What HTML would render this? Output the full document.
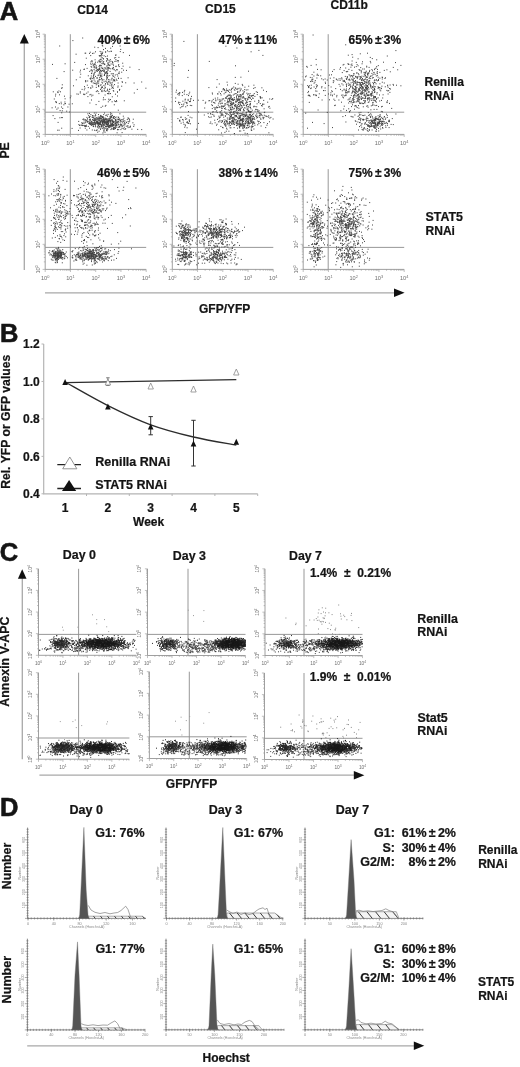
<!DOCTYPE html>
<html><head><meta charset="utf-8"><style>
html,body{margin:0;padding:0;background:#fff;}
body{width:520px;height:1067px;overflow:hidden;}
svg{position:absolute;left:0;top:0;display:block;filter:blur(0.3px);}
text{font-family:"Liberation Sans",sans-serif;}
</style></head><body>
<svg width="520" height="1067" viewBox="0 0 520 1067">
<rect width="520" height="1067" fill="#fff"/>
<text x="-0.30" y="19.90" font-size="25.5" font-weight="bold" text-anchor="start" fill="#141414" stroke="#141414" stroke-width="0.6">A</text>
<text x="92.70" y="13.80" font-size="12" font-weight="bold" text-anchor="middle" fill="#141414" stroke="#141414" stroke-width="0.22">CD14</text>
<text x="220.40" y="12.50" font-size="12" font-weight="bold" text-anchor="middle" fill="#141414" stroke="#141414" stroke-width="0.22">CD15</text>
<text x="349.20" y="8.70" font-size="12" font-weight="bold" text-anchor="middle" fill="#141414" stroke="#141414" stroke-width="0.22">CD11b</text>
<g stroke="#959595" stroke-width="0.9" fill="none">
<path d="M45.20 34.20V134.40H146.20"/>
<path d="M42.60 134.40h2.60M43.80 126.86h1.40M43.80 122.45h1.40M43.80 119.32h1.40M43.80 116.89h1.40M43.80 114.91h1.40M43.80 113.23h1.40M43.80 111.78h1.40M43.80 110.50h1.40M42.60 109.35h2.60M43.80 101.81h1.40M43.80 97.40h1.40M43.80 94.27h1.40M43.80 91.84h1.40M43.80 89.86h1.40M43.80 88.18h1.40M43.80 86.73h1.40M43.80 85.45h1.40M42.60 84.30h2.60M43.80 76.76h1.40M43.80 72.35h1.40M43.80 69.22h1.40M43.80 66.79h1.40M43.80 64.81h1.40M43.80 63.13h1.40M43.80 61.68h1.40M43.80 60.40h1.40M42.60 59.25h2.60M43.80 51.71h1.40M43.80 47.30h1.40M43.80 44.17h1.40M43.80 41.74h1.40M43.80 39.76h1.40M43.80 38.08h1.40M43.80 36.63h1.40M43.80 35.35h1.40M42.60 34.20h2.6M45.20 134.40v2.60M52.80 134.40v1.40M57.25 134.40v1.40M60.40 134.40v1.40M62.85 134.40v1.40M64.85 134.40v1.40M66.54 134.40v1.40M68.00 134.40v1.40M69.29 134.40v1.40M70.45 134.40v2.60M78.05 134.40v1.40M82.50 134.40v1.40M85.65 134.40v1.40M88.10 134.40v1.40M90.10 134.40v1.40M91.79 134.40v1.40M93.25 134.40v1.40M94.54 134.40v1.40M95.70 134.40v2.60M103.30 134.40v1.40M107.75 134.40v1.40M110.90 134.40v1.40M113.35 134.40v1.40M115.35 134.40v1.40M117.04 134.40v1.40M118.50 134.40v1.40M119.79 134.40v1.40M120.95 134.40v2.60M128.55 134.40v1.40M133.00 134.40v1.40M136.15 134.40v1.40M138.60 134.40v1.40M140.60 134.40v1.40M142.29 134.40v1.40M143.75 134.40v1.40M145.04 134.40v1.40M146.20 134.40v2.60" stroke-width="0.6"/>
</g>
<path d="M70.30 34.20V134.40M45.20 112.20H146.20" stroke="#8c8c8c" stroke-width="0.9" fill="none"/>
<path d="M82.2 38.0h1m22 0.6h1m-33.8 2h1m37.6 0.8h1m0.4 2.6h1m31.6 -0.4h1m-44.2 1.6h1m-43.6 0.8h1m42 0h1m8.8 0.4h1m6.6 -0.4h1m-26.4 1.2h1m2.4 0.4h1m6.4 0.8h1m4.2 -0.2h1m9 1.2h1m-18.2 0.2h1m-4.4 1.8h1m6.4 -0.6h1m2.6 0.4h1m-0.8 0.2h1m-22 0.8h1m4.2 -0.4h1m4.6 0.2h1m0.6 0.2h1m1.8 -0.2h1m-0.8 0h1m2.4 -0.4h1m10.2 0h1m-36.2 1.6h1m-0.4 0h1m2.8 0.2h1m2 0h1m0.4 -0.2h1m7.6 0.2h1m19.8 -0.8h1m-48.2 1.6h1m24 -0.6h1m-0.6 0.4h1m-1 0.8h1m-0.4 0.4h1m12.4 0h1m-0.4 -0.2h1m12.4 0.4h1m-39.8 0.2h1m7.6 0h1m-0.8 0.4h1m0 -0.2h1m-0.6 -0.2h1m2.2 0.2h1m2.4 0.2h1m-7.2 1h1m3.4 -0.4h1m12.2 0.8h1m-33.6 0.8h1m15 -0.4h1m11.2 0.2h1m0.2 -0.4h1m-16 1.8h1m-0.6 -0.2h1m1.2 -0.6h1m-0.8 0.4h1m2.4 -0.4h1m-0.4 0.2h1m-13.4 1h1m3.6 0.2h1m7 -0.4h1m1.6 0h1m4.6 0h1m-25 1h1m5.8 0.4h1m0 0.4h1m-0.8 -0.2h1m1.2 -0.4h1m3.4 0.4h1m-0.6 -0.6h1m1.2 0h1m0.8 0.6h1m3 0.2h1m0.2 -0.2h1m0.6 -0.6h1m-0.4 0h1m-44.6 1.8h1m15.4 -0.8h1m0.2 0.2h1m2.2 0.4h1m1.2 0h1m2.2 -0.6h1m1.2 0.6h1m-0.4 -0.6h1m3.4 0.8h1m0.6 -0.4h1m1.6 -0.4h1m4.8 0.2h1m-28.4 1.4h1m3.2 0.2h1m4.2 -0.8h1m0.8 0.8h1m0.6 -0.2h1m8.2 -0.6h1m-1 0.2h1m9 0.4h1m-71.2 1.2h1m11.6 -0.6h1m26.6 0h1m0.2 0.6h1m8 -0.6h1m0.4 0.4h1m-0.6 -0.2h1m2.2 -0.2h1m-0.8 0.2h1m-0.4 0.4h1m1.4 -0.4h1m0.8 0.2h1m-28.4 0.4h1m4.6 0h1m2.2 0h1m0 0.2h1m3.6 0.6h1m-0.8 -0.2h1m0.2 0.2h1m2.4 -0.8h1m3.4 0.6h1m-0.2 0.2h1m2.6 -0.2h1m4.2 -0.6h1m-26.4 1h1m0.6 0.6h1m0.6 -0.2h1m1.6 0.4h1m-0.4 -0.8h1m-0.4 0.2h1m5.8 -0.2h1m1 0h1m6 0.6h1m1.4 -0.4h1m3.6 0.4h1m-33 0.4h1m-0.4 0.6h1m1.4 -0.6h1m6.6 0.6h1m4.2 -0.4h1m1 0.6h1m3.6 0h1m1.4 -0.8h1m2.4 0h1m9.6 0.6h1m-43.8 1.2h1m6 -0.8h1m-0.2 0.2h1m0.2 0.2h1m-0.8 0h1m-0.6 -0.2h1m1.8 0.4h1m-0.6 -0.2h1m1.2 0.4h1m-0.2 -0.2h1m1 -0.4h1m-0.6 0.4h1m0.8 0h1m-0.4 -0.4h1m-0.2 0h1m-0.2 0.6h1m2.2 -0.2h1m-29.6 1.2h1m-0.4 -0.2h1m11.6 0.2h1m0.4 -0.2h1m-0.2 -0.4h1m-0.6 0.6h1m1.8 -0.8h1m0.4 0.8h1m1.2 -0.2h1m1.2 -0.4h1m1.4 0h1m0.8 0h1m0.2 0.2h1m7.2 -0.4h1m-50.2 1.6h1m6.8 0h1m9.4 0h1m-0.2 -0.4h1m1.4 -0.2h1m2.6 0.2h1m-0.8 -0.2h1m-0.4 0.8h1m0.2 -0.6h1m-0.2 0.6h1m-0.4 0h1m0.4 0h1m0.8 0h1m2.4 -0.4h1m-0.6 0.2h1m5.2 -0.4h1m1.4 -0.2h1m-0.4 0.2h1m5.2 0.4h1m2 0.2h1m11.6 -0.8h1m-50.4 1.8h1m1.2 -0.6h1m-0.4 0.2h1m1.6 0h1m0.6 -0.2h1m-1 0h1m-0.2 0.4h1m3.2 0.2h1m1 -0.2h1m-1 -0.2h1m5.4 0.4h1m4.6 -0.6h1m-52.6 0.8h1m15 0.4h1m14 0.4h1m3.6 -0.8h1m-0.8 0.8h1m0 -0.6h1m2.6 0h1m0.6 0.6h1m-0.8 -0.8h1m-0.2 0h1m11.2 0.4h1m1.4 0.2h1m-30.8 0.8h1m1.6 0h1m3.8 0.2h1m4.8 0.2h1m-1 -0.6h1m-0.8 0.2h1m0.4 -0.4h1m-0.2 0.6h1m-0.8 0.2h1m10 -0.2h1m-39 1h1m9.8 -0.6h1m1.4 0.2h1m5.4 0h1m0.6 0.2h1m3.4 -0.2h1m0.2 0h1m2.8 0h1m0.8 0.2h1m-1 -0.4h1m3 0.8h1m1 -0.8h1m-26.6 1.6h1m-0.4 -0.4h1m3.2 0.2h1m0.6 0h1m-0.4 0.4h1m-0.4 0h1m2.2 0h1m-0.8 -0.2h1m-1 -0.6h1m1.4 0.8h1m-0.6 -0.2h1m7 -0.2h1m-28 0.8h1m2 0.2h1m1.2 0h1m1 0.4h1m1.6 -0.8h1m1.6 0.6h1m0.2 0h1m5.2 -0.2h1m0.6 -0.4h1m2.2 0h1m-0.6 0.8h1m3.4 -0.4h1m-38.6 1.2h1m12.2 -0.2h1m5.4 0.4h1m0.2 -0.6h1m4.8 0h1m-0.8 0.2h1m6.8 0.2h1m-58.8 1.2h1m32.6 -0.2h1m-0.2 -0.2h1m1.4 -0.2h1m-0.6 0.2h1m1.6 0h1m-0.2 0h1m3 0.4h1m-0.8 0h1m4.6 -0.8h1m-0.8 0.4h1m3.6 0.2h1m5.4 0.2h1m-1 -0.2h1m1.6 0.2h1m6 -0.6h1m-39 0.8h1m-0.4 0.6h1m1 -0.6h1m5.8 0.6h1m6.2 -0.4h1m4.2 0.2h1m1.2 0.4h1m1.2 -0.2h1m-41 0.6h1m16.8 0.2h1m4 -0.2h1m0 -0.2h1m0.8 0.2h1m-0.4 0.2h1m0.4 -0.2h1m1.8 0h1m1 -0.2h1m-0.6 0.4h1m1 0h1m1.6 -0.2h1m-0.6 0.6h1m1.8 0h1m-32.2 0.8h1m-1 -0.6h1m1 0.4h1m2.4 0.4h1m-0.4 -0.4h1m-0.6 0h1m2 0.2h1m1.6 -0.2h1m-0.8 0.4h1m0 -0.4h1m5.8 0.2h1m6.4 -0.2h1m0.4 -0.4h1m-0.6 0.4h1m-30.2 0.8h1m5 0.2h1m9.2 0.2h1m1.2 -0.4h1m1.6 0.2h1m0.8 -0.2h1m-0.4 0h1m0 0.4h1m11 -0.4h1m-0.6 0.4h1m18.2 -0.2h1m-49.4 1h1m0.4 0.4h1m-0.6 -0.2h1m1 -0.6h1m0.6 0.4h1m2.8 0h1m3.8 -0.2h1m2 0.4h1m0.8 -0.6h1m5 0.4h1m6.6 -0.2h1m7.4 0.2h1m-39 0.6h1m0.8 0.2h1m6.6 -0.2h1m1.2 0.2h1m-0.8 0.6h1m3 -0.4h1m-50.6 0.8h1m24 0.4h1m8 -0.4h1m3 0.4h1m-0.2 -0.4h1m1.8 0.6h1m0.4 -0.6h1m3.6 0.4h1m0.8 -0.4h1m1.8 -0.2h1m-42 1.2h1m17.6 0h1m5.4 -0.2h1m-1 0.6h1m2.6 0.2h1m8.4 -0.4h1m0.6 0h1m4 0h1m2.6 0.2h1m-38.2 0.4h1m7.2 0.4h1m2.6 0.4h1m1.4 -0.8h1m2.8 0.8h1m1.4 -0.4h1m6.6 0.4h1m4.4 -0.2h1m-57.4 1h1m-0.2 -0.4h1m21.6 0.4h1m2.4 -0.6h1m1.4 0.2h1m-0.8 0.4h1m9.4 0h1m-0.6 -0.6h1m2.8 0.2h1m5.4 0.4h1m0.6 0h1m31.4 0h1m-64.8 1.2h1m17.4 0h1m2.6 -0.8h1m2.4 0.6h1m1.2 0h1m-1 0.2h1m9 0h1m16.6 0h1m-54 0.4h1m16.8 0.4h1m1.4 0h1m2.2 0h1m10.8 0h1m-1 -0.6h1m-61.6 1.4h1m37.4 -0.4h1m3.2 0.4h1m1.6 0h1m0.6 0.4h1m0.4 -0.6h1m1 0.6h1m3.2 -0.8h1m-0.6 0.6h1m-61.4 0.6h1m3.2 0.2h1m2 -0.2h1m18.8 0h1m6.8 0.2h1m7.2 -0.4h1m0.8 0h1m3 0h1m5.8 0.4h1m7.6 0h1m-1 0h1m-60.4 0.6h1m21.2 0.4h1m5.4 0.2h1m46.6 -0.2h1m-79.6 1.2h1m20.2 -0.2h1m0.4 0.2h1m4.2 0h1m0.4 0h1m5 0.2h1m7 -0.8h1m7.6 0h1m0.2 0h1m-0.8 0.2h1m0.6 -0.2h1m4 0.6h1m-57 0.6h1m23.8 -0.2h1m4.6 0.2h1m2 0.4h1m11.2 -0.2h1m-50.6 1h1m8 0.2h1m5.4 -0.2h1m19.8 0h1m24.8 0h1m-30.6 0.6h1m23.4 0.2h1m-43 1h1m32.2 0h1m-50.2 1.2h1m9.8 -0.2h1m42.6 0.4h1m-18.2 0.8h1m10.8 -0.2h1m0.8 -0.2h1m3.2 0.6h1m0.2 -0.6h1m-12.6 1.8h1m14.6 -0.4h1m1 -0.4h1m6.8 0.2h1m-69.4 1h1m-1 0h1m4.2 0.4h1m2.8 -0.2h1m42.4 -0.2h1m2.8 0h1m2.4 -0.2h1m0.2 0h1m-61.2 1h1m32.4 0.4h1m-31.6 0.6h1m1 0.2h1m2.8 -0.2h1m-0.8 0h1m2.8 0.6h1m2.2 -0.4h1m-9.4 1h1m31.2 -0.2h1m8.8 0.8h1m7.4 -0.6h1m-12.6 1.4h1m1.6 0h1m-50.8 0.8h1m5 0h1m5.4 0h1m32.2 0.4h1m-50 0.4h1m5 0.2h1m3.6 0.4h1m-6.8 0.8h1m60.4 1h1m-59.2 0.4h1m1.2 0.2h1m3.4 0.4h1m2 0.8h1m-9 0.8h1m26.8 0.6h1m3.8 -0.4h1m0.8 0h1m7.4 0h1m5 -0.2h1m-23.6 1h1m19.2 0.6h1m1.4 -0.2h1m0.2 -0.4h1m7.2 0h1m-30 0.8h1m3.6 0.2h1m2 -0.2h1m1.2 0.8h1m2 -0.8h1m1.6 0.4h1m5.2 0.4h1m-60.4 0.2h1m34.6 0h1m0.4 0.8h1m1.4 -0.8h1m0.4 0.2h1m0.8 -0.2h1m4.2 0h1m0 0.8h1m3 -0.8h1m0.6 0.6h1m1.6 0.2h1m0 -0.6h1m-1 0.6h1m-0.6 0h1m10.8 -0.2h1m-37.4 1.2h1m1.2 0h1m-0.6 0h1m-1 -0.6h1m1.8 0.2h1m-1 0.4h1m0 -0.2h1m0.8 -0.2h1m2.2 0h1m0.4 0h1m0 0.2h1m-1 -0.6h1m-0.2 0.2h1m0 0.6h1m-1 -0.2h1m-0.6 -0.6h1m-0.8 0.4h1m6.2 0.2h1m0.2 0h1m-0.8 -0.4h1m0.4 0.6h1m-0.4 -0.8h1m0 0h1m1.2 0.4h1m0.6 0.4h1m-0.8 -0.2h1m-59.8 0.6h1m0.8 -0.2h1m-0.4 0h1m30 0.2h1m-0.2 0.6h1m1.4 -0.6h1m-0.2 0.2h1m0 0.2h1m0.2 -0.4h1m0 0.6h1m0.2 -0.2h1m0.6 -0.4h1m-0.6 0.4h1m0.4 -0.2h1m3.8 0.2h1m-0.6 -0.2h1m-0.4 -0.2h1m1.6 -0.2h1m-1 0.2h1m-0.8 0.4h1m0.6 -0.6h1m7.6 0.6h1m3.2 -0.4h1m-74.2 0.8h1m27 0.8h1m-0.2 -0.4h1m-0.6 0.4h1m2.4 -0.6h1m1.6 0.2h1m3.6 0.2h1m-0.8 -0.2h1m-0.8 0.2h1m-0.8 -0.4h1m-0.2 0.4h1m-0.2 0h1m-0.6 -0.4h1m-0.4 0.6h1m-0.4 -0.4h1m-0.4 -0.2h1m-0.6 0.2h1m-0.8 -0.2h1m0 0.2h1m0 -0.4h1m0.6 0.4h1m-0.6 0.4h1m-0.8 -0.2h1m-0.4 0h1m0.2 0h1m-0.8 -0.2h1m-0.8 0h1m-1 -0.2h1m-0.8 0.6h1m0.4 -0.4h1m-0.4 0.2h1m-0.4 -0.4h1m-0.2 0.6h1m-0.8 -0.8h1m1.4 0.6h1m1 -0.6h1m0.8 0.6h1m0.6 0h1m-0.2 0.2h1m-0.6 0h1m-0.8 -0.4h1m-0.4 0h1m2.4 0.4h1m4.2 -0.8h1m0 0.4h1m3 0.2h1m-48.6 0.4h1m-0.4 0.8h1m0.4 -0.4h1m1.2 -0.4h1m-1 0.4h1m-0.8 0h1m-0.8 0h1m1.2 -0.4h1m-0.2 0.2h1m0.4 0.6h1m-0.4 0h1m-0.2 -0.4h1m1.6 0.4h1m-0.2 0h1m0.8 -0.6h1m0 0.2h1m-0.6 -0.2h1m0 0.2h1m-1 0.2h1m-0.2 0.2h1m-0.2 -0.8h1m1.2 0.4h1m0 0.4h1m0.2 0h1m-0.8 0h1m0 -0.2h1m-0.8 0.2h1m-0.8 -0.6h1m3 0h1m-0.8 -0.2h1m1.6 0.4h1m2 -0.4h1m0 0.2h1m4.2 -0.2h1m1.2 0.2h1m-51.8 1.6h1m4.4 -0.6h1m0.8 -0.2h1m5.2 0.4h1m0.4 -0.4h1m0 0h1m-0.4 0.4h1m0.4 0.2h1m-0.4 0h1m-0.4 -0.2h1m1.6 -0.2h1m0 -0.2h1m-0.6 0.2h1m-0.6 0.4h1m-0.8 -0.2h1m-0.4 0.4h1m-0.6 -0.4h1m-0.4 0.2h1m-0.6 0.2h1m-1 -0.6h1m0 0.4h1m-0.2 -0.6h1m-0.4 0.6h1m-0.6 0.2h1m-1 -0.4h1m0 0h1m-0.8 -0.2h1m-1 0.2h1m-0.6 0.2h1m-0.2 -0.6h1m0.2 0.2h1m-1 0h1m0.8 0.6h1m-0.8 -0.8h1m-1 0.4h1m-0.4 0.4h1m0.8 0h1m-0.6 -0.8h1m-0.4 0h1m3 0h1m-0.8 0h1m-0.6 0.6h1m0.2 0.2h1m0.4 0h1m-0.4 -0.6h1m0 0.2h1m3.8 0h1m-72.6 1.4h1m26.4 -0.4h1m0.4 -0.2h1m-0.4 0.2h1m-0.8 -0.4h1m-0.6 0h1m0.6 0.2h1m0.2 0.2h1m-0.4 -0.4h1m0.4 0.8h1m0.4 0h1m-0.8 -0.6h1m0.4 0.6h1m-0.2 -0.4h1m-1 0h1m-0.8 0.2h1m-0.4 0h1m-0.8 -0.4h1m-1 0.6h1m-0.8 -0.2h1m0.2 -0.2h1m0 0.2h1m-0.8 0h1m-1 -0.4h1m-0.8 0.4h1m-0.8 -0.6h1m-0.6 0.2h1m0 0.6h1m-0.8 -0.6h1m-0.8 0.6h1m-0.2 -0.8h1m-0.8 0.2h1m0.2 0.4h1m-1 0.2h1m-0.8 -0.4h1m-0.8 -0.4h1m0.2 0.4h1m0 0.2h1m-0.8 0h1m-0.6 -0.4h1m-1 -0.2h1m-0.4 0.2h1m0.2 0h1m-0.2 -0.2h1m0.4 0.2h1m0.2 0.4h1m-0.4 0h1m-0.8 -0.4h1m0.2 0.4h1m0.2 -0.2h1m-1 0.2h1m-0.2 0h1m-0.6 -0.4h1m0 -0.2h1m0.6 0.6h1m5.2 0h1m0.8 -0.6h1m0 0.2h1m-48.4 1h1m-0.2 0.6h1m-0.4 -0.4h1m0 0.2h1m0 -0.4h1m2.8 0.6h1m-0.8 -0.4h1m-0.6 0.4h1m-0.8 -0.6h1m-1 0.6h1m-0.6 0h1m-0.8 -0.4h1m-0.2 0h1m-0.8 0.2h1m-0.6 -0.2h1m-0.8 0.2h1m0 0.2h1m-0.8 -0.8h1m0.2 0.2h1m-0.4 -0.2h1m-0.8 0.4h1m1 0.2h1m-1 0.2h1m-0.8 -0.4h1m-0.8 0.2h1m0 -0.2h1m-0.8 0.2h1m-0.6 0h1m-1 -0.4h1m0 0.6h1m1.6 -0.6h1m-1 0h1m-0.4 -0.2h1m0.4 0.4h1m-0.6 -0.4h1m-0.8 0.2h1m-0.4 0.4h1m-1 -0.2h1m-0.4 -0.4h1m0.2 0h1m-0.6 0.4h1m-0.8 0.4h1m-0.8 0h1m-0.8 -0.4h1m0.6 -0.4h1m0.8 0.6h1m-0.8 0h1m-1 0h1m0.2 -0.6h1m0.4 0.8h1m-0.4 -0.2h1m-0.8 0.2h1m-0.8 0h1m0 -0.4h1m-0.2 -0.2h1m-0.4 0.2h1m3 -0.2h1m0.8 0.4h1m-0.6 -0.4h1m1 -0.2h1m0.8 0.8h1m3.6 -0.6h1m-44 1.6h1m-0.2 0h1m0.4 -0.2h1m-0.2 0.2h1m-0.6 -0.4h1m-0.8 0.2h1m0 0h1m-0.6 0h1m-0.6 -0.2h1m-1 -0.2h1m-0.4 0h1m-1 0h1m0.8 0.2h1m-0.6 -0.2h1m-0.8 0h1m-0.2 0h1m-0.6 0h1m-0.6 0.2h1m-0.6 0h1m-0.8 0.4h1m-0.6 -0.4h1m0.6 -0.4h1m-0.8 0h1m0.4 0h1m-1 0.6h1m0 0h1m0.6 0.2h1m-1 -0.2h1m-1 -0.4h1m-0.8 0h1m-0.8 0.2h1m-0.6 0.4h1m0 -0.8h1m1 0.2h1m-0.4 0.4h1m-0.4 0h1m-0.6 0h1m-0.4 -0.6h1m-0.4 0.8h1m2.6 0h1m2.8 -0.4h1m3.6 -0.2h1m-47.4 0.8h1m-0.4 0.8h1m0.4 -0.2h1m0 0h1m-0.8 0h1m0 0.2h1m0.2 0h1m1.2 -0.2h1m3.4 -0.6h1m-0.6 0.4h1m-0.8 0.2h1m0 -0.6h1m2 0.6h1m1.6 -0.4h1m-0.6 0.4h1m-0.4 -0.4h1m-0.2 -0.2h1m0.8 0.2h1m-1 0.2h1m0.2 -0.4h1m-0.6 0.6h1m-0.6 -0.6h1m0.2 0.6h1m0.6 -0.6h1m0.4 0h1m-0.8 0.2h1m-0.8 0.2h1m-0.4 0h1m0.2 0.4h1m-0.8 -0.2h1m-0.4 -0.2h1m-0.6 -0.2h1m-0.2 -0.2h1m-0.6 0.6h1m-0.6 0h1m-1 -0.6h1m-1 0.6h1m-0.2 0h1m-0.6 -0.6h1m0.2 0.6h1m-0.6 -0.2h1m-0.6 0h1m-0.6 0h1m-0.6 0.4h1m0.8 -0.8h1m-1 0.2h1m0.6 0.2h1m-0.6 -0.2h1m-0.4 0.4h1m-0.6 -0.6h1m1.2 0.4h1m-0.2 -0.2h1m8.4 0h1m-52.4 0.8h1m1 0.6h1m-0.4 0h1m-1 0h1m-0.8 -0.4h1m-0.2 0.6h1m1 0h1m3.8 -0.6h1m-0.8 0.4h1m1 0h1m1.4 0.2h1m-0.4 -0.6h1m0 0.6h1m0.8 -0.2h1m-0.8 -0.6h1m-0.8 0.6h1m0.2 -0.4h1m0.4 -0.2h1m0.4 0.8h1m-0.2 0h1m-0.2 -0.8h1m-0.4 0.2h1m0 0.2h1m-0.8 0.4h1m-0.4 -0.8h1m-0.6 0h1m-1 0.4h1m-0.6 0h1m-1 -0.2h1m0 0h1m-0.6 0h1m-0.6 0.6h1m-0.8 -0.4h1m0.4 -0.2h1m-0.8 0h1m0.6 0.4h1m0.2 -0.4h1m1.8 0.6h1m0.6 -0.4h1m0.2 0.4h1m-0.4 -0.8h1m2.4 0.6h1m0.4 -0.2h1m-0.8 0h1m1.6 0.2h1m2.2 0.2h1m-41.2 0.2h1m1.2 0.2h1m2.8 0h1m-0.8 0h1m0.8 -0.2h1m-0.8 0.4h1m0.4 -0.2h1m-0.8 0.4h1m1.6 -0.6h1m-0.4 0.2h1m0.2 -0.2h1m-0.2 0.4h1m-0.8 0h1m-0.8 -0.4h1m-0.6 0.6h1m0.6 -0.6h1m3.2 0.6h1m0.6 0h1m0.6 0.2h1m0 -0.8h1m-0.6 0.6h1m3.6 0h1m4.4 0h1m-0.4 -0.2h1m-69.6 1.2h1m9.4 0.2h1m7 -0.4h1m4.2 0.2h1m3.2 0h1m7.4 -0.6h1m0 0.6h1m0.8 0h1m2.2 -0.2h1m0 -0.2h1m1.8 0.6h1m1.2 -0.8h1m0.8 0.6h1m0.8 -0.6h1m0.2 0.2h1m-1 0.2h1m-0.6 -0.2h1m-0.6 0.6h1m5.4 -0.2h1m0.2 0.2h1m4 -0.8h1m-28.6 1.8h1m0.8 -0.8h1m0.8 0.2h1m0.8 -0.2h1m0 0.4h1m0 0.2h1m3 -0.2h1m0.2 -0.2h1m-0.6 0h1m-1 0.2h1m-0.6 0.4h1m-0.8 -0.4h1m0.2 -0.4h1m1.2 0.8h1m5.4 -0.4h1m0.2 0.4h1m-0.4 -0.8h1m5.2 0.6h1m4.8 0.2h1m-81 0.8h1m0.4 0h1m18.4 0.2h1m7.4 -0.4h1m4.4 0h1m1.2 0.2h1m1.2 0.2h1m-0.6 -0.6h1m6 0h1m1.4 0.6h1m-0.6 -0.6h1m-1 0.2h1m3 -0.4h1m5.8 0.2h1m0 -0.2h1m1.2 0h1m19.8 0h1m-46.6 1h1m2 0.6h1m3.8 -0.6h1m2.2 0.2h1m-10.4 1.4h1m5.2 -0.4h1m0.2 0.4h1m-3.2 0.8h1m13.2 -0.2h1m4 -0.2h1" stroke="#404040" stroke-opacity="1.0" stroke-width="1" fill="none"/>
<text x="45.20" y="145.00" font-size="5.6" text-anchor="middle" fill="#6e6e6e">10<tspan font-size="3.92" dy="-2.24">0</tspan></text>
<text x="70.45" y="145.00" font-size="5.6" text-anchor="middle" fill="#6e6e6e">10<tspan font-size="3.92" dy="-2.24">1</tspan></text>
<text x="95.70" y="145.00" font-size="5.6" text-anchor="middle" fill="#6e6e6e">10<tspan font-size="3.92" dy="-2.24">2</tspan></text>
<text x="120.95" y="145.00" font-size="5.6" text-anchor="middle" fill="#6e6e6e">10<tspan font-size="3.92" dy="-2.24">3</tspan></text>
<text x="146.20" y="145.00" font-size="5.6" text-anchor="middle" fill="#6e6e6e">10<tspan font-size="3.92" dy="-2.24">4</tspan></text>
<text x="40.20" y="134.40" font-size="5.6" text-anchor="middle" fill="#6e6e6e" transform="rotate(-90 40.20 134.40)">10<tspan font-size="3.92" dy="-2.24">0</tspan></text>
<text x="40.20" y="109.35" font-size="5.6" text-anchor="middle" fill="#6e6e6e" transform="rotate(-90 40.20 109.35)">10<tspan font-size="3.92" dy="-2.24">1</tspan></text>
<text x="40.20" y="84.30" font-size="5.6" text-anchor="middle" fill="#6e6e6e" transform="rotate(-90 40.20 84.30)">10<tspan font-size="3.92" dy="-2.24">2</tspan></text>
<text x="40.20" y="59.25" font-size="5.6" text-anchor="middle" fill="#6e6e6e" transform="rotate(-90 40.20 59.25)">10<tspan font-size="3.92" dy="-2.24">3</tspan></text>
<text x="40.20" y="34.20" font-size="5.6" text-anchor="middle" fill="#6e6e6e" transform="rotate(-90 40.20 34.20)">10<tspan font-size="3.92" dy="-2.24">4</tspan></text>
<g stroke="#959595" stroke-width="0.9" fill="none">
<path d="M172.30 34.20V134.40H273.30"/>
<path d="M169.70 134.40h2.60M170.90 126.86h1.40M170.90 122.45h1.40M170.90 119.32h1.40M170.90 116.89h1.40M170.90 114.91h1.40M170.90 113.23h1.40M170.90 111.78h1.40M170.90 110.50h1.40M169.70 109.35h2.60M170.90 101.81h1.40M170.90 97.40h1.40M170.90 94.27h1.40M170.90 91.84h1.40M170.90 89.86h1.40M170.90 88.18h1.40M170.90 86.73h1.40M170.90 85.45h1.40M169.70 84.30h2.60M170.90 76.76h1.40M170.90 72.35h1.40M170.90 69.22h1.40M170.90 66.79h1.40M170.90 64.81h1.40M170.90 63.13h1.40M170.90 61.68h1.40M170.90 60.40h1.40M169.70 59.25h2.60M170.90 51.71h1.40M170.90 47.30h1.40M170.90 44.17h1.40M170.90 41.74h1.40M170.90 39.76h1.40M170.90 38.08h1.40M170.90 36.63h1.40M170.90 35.35h1.40M169.70 34.20h2.6M172.30 134.40v2.60M179.90 134.40v1.40M184.35 134.40v1.40M187.50 134.40v1.40M189.95 134.40v1.40M191.95 134.40v1.40M193.64 134.40v1.40M195.10 134.40v1.40M196.39 134.40v1.40M197.55 134.40v2.60M205.15 134.40v1.40M209.60 134.40v1.40M212.75 134.40v1.40M215.20 134.40v1.40M217.20 134.40v1.40M218.89 134.40v1.40M220.35 134.40v1.40M221.64 134.40v1.40M222.80 134.40v2.60M230.40 134.40v1.40M234.85 134.40v1.40M238.00 134.40v1.40M240.45 134.40v1.40M242.45 134.40v1.40M244.14 134.40v1.40M245.60 134.40v1.40M246.89 134.40v1.40M248.05 134.40v2.60M255.65 134.40v1.40M260.10 134.40v1.40M263.25 134.40v1.40M265.70 134.40v1.40M267.70 134.40v1.40M269.39 134.40v1.40M270.85 134.40v1.40M272.14 134.40v1.40M273.30 134.40v2.60" stroke-width="0.6"/>
</g>
<path d="M197.40 34.20V134.40M172.30 112.20H273.30" stroke="#8c8c8c" stroke-width="0.9" fill="none"/>
<path d="M271.6 37.2h1m-89.2 4.2h1m41 4.8h1m10 1.8h1m21 2.4h1m-8.8 1.4h1m10.8 3.6h1m-54.6 6h1m-36 2h1m-1.2 2.2h1m60.4 0.2h1m-48 4.6h1m59 0.8h1m-61.6 6.2h1m46.4 0h1m4.6 -0.2h1m-24.8 2.4h1m9 2.6h1m7.2 1.2h1m-17 0.6h1m17.8 0.2h1m3.2 0.2h1m-15.8 0.6h1m25.4 0.2h1m-12.2 0.4h1m5 0.6h1m-33 1h1m16 -0.2h1m10.2 0.2h1m-37 0.4h1m22 0.8h1m-0.2 -0.2h1m1.6 -0.2h1m-0.6 0.2h1m1.4 0.2h1m0.8 -0.2h1m12.8 0.2h1m0.4 -0.8h1m5.8 0.2h1m-39.6 1h1m-0.8 0h1m0 0.6h1m1 -0.4h1m4 0.4h1m4.2 -0.2h1m0 0h1m2.6 -0.2h1m-65.8 1.2h1m7.2 0.2h1m37.4 -0.6h1m2.2 0.6h1m0.2 0h1m0.8 -0.6h1m0.6 0.4h1m2.4 -0.4h1m-0.4 0.4h1m4.4 -0.2h1m3.4 -0.4h1m0.6 0.4h1m0.6 -0.2h1m14.6 0.4h1m-39.8 0.4h1m2.6 0.6h1m-0.8 0h1m8.2 0.2h1m1.6 -0.6h1m1.6 0h1m-67.8 1.4h1m5.4 0.2h1m0.8 -0.6h1m4.4 0.4h1m28.4 -0.2h1m1.6 -0.4h1m3.4 0.4h1m4.4 0h1m5 0.4h1m0.6 -0.4h1m4.2 -0.4h1m11 0.2h1m0.2 0.6h1m8 -0.8h1m-88.8 1.8h1m-0.2 -0.6h1m-0.6 0h1m31.4 0.2h1m12 -0.4h1m3.4 0h1m13.2 0h1m2 0.6h1m-70.2 1h1m0.6 -0.2h1m4 0.2h1m3.8 -0.4h1m22.4 0.2h1m4.2 -0.2h1m-0.8 0.2h1m1.6 -0.4h1m2.6 0.2h1m9.2 0.4h1m0 -0.6h1m0 0.2h1m5.2 0.2h1m-0.6 0.4h1m-0.4 -0.6h1m3.8 0h1m0.8 -0.2h1m3.2 0h1m-76.2 1.6h1m6.8 -0.6h1m33.2 0.4h1m6.2 0.2h1m-0.4 0h1m-0.4 0h1m-0.2 -0.2h1m2 0h1m3.4 -0.2h1m-0.8 0.4h1m1 -0.4h1m-0.2 -0.2h1m-0.4 0.6h1m5.4 -0.4h1m0.8 0.4h1m2 0.2h1m0 -0.2h1m2.8 -0.6h1m-76 1h1m5.2 0h1m2 0.8h1m34.8 -0.2h1m-0.6 0h1m1.6 -0.2h1m0 -0.2h1m4.2 0.2h1m1 0.4h1m0.6 0h1m-1 -0.6h1m0 0.4h1m1.2 0.2h1m5.6 -0.8h1m0.4 0h1m-0.6 0.8h1m0.4 -0.8h1m0.8 0.8h1m-29.4 0.6h1m3.6 -0.2h1m4.4 0h1m1.2 0.4h1m0 -0.6h1m1.4 0.6h1m0 0.2h1m-0.2 0h1m3.4 -0.4h1m-0.6 0.2h1m-1 0.2h1m0.2 -0.4h1m9.2 -0.4h1m-0.6 0.4h1m-85.8 1h1m14.2 0.4h1m23.4 -0.2h1m1.4 -0.2h1m6.8 -0.2h1m-0.6 0.6h1m-0.2 -0.2h1m0.6 0.2h1m0 -0.4h1m0.6 -0.4h1m-0.8 0.2h1m2.2 -0.2h1m1.2 0.2h1m3.2 0.2h1m1.2 0.2h1m3.2 0.2h1m0.8 -0.4h1m-0.2 -0.4h1m-0.2 0.6h1m1.2 -0.2h1m-0.6 0.4h1m6.2 -0.6h1m-0.6 0.4h1m-1 -0.6h1m0.4 0.2h1m-77.8 1.4h1m1.8 0.2h1m1.6 -0.2h1m21.6 0.2h1m5.6 0h1m1.2 -0.2h1m-0.2 -0.2h1m-0.2 -0.2h1m4 0h1m-0.2 -0.2h1m-1 0.8h1m0.2 -0.8h1m-0.6 0.8h1m-0.6 0h1m-0.2 0h1m-0.8 -0.2h1m-1 -0.2h1m-0.8 0h1m0.4 0.2h1m-0.4 0.2h1m1 -0.2h1m-0.6 -0.4h1m0 0.2h1m-0.4 0.4h1m-1 -0.4h1m-0.2 0.2h1m-0.8 0.2h1m0.2 -0.2h1m3 -0.6h1m-0.8 0.6h1m-0.6 -0.4h1m1.4 0.6h1m20.8 -0.4h1m1.2 0.4h1m-0.2 -0.8h1m-88.6 1.4h1m7.4 0.4h1m3.8 -0.2h1m3.8 0.2h1m11.6 -0.4h1m1.2 -0.2h1m8.6 0.2h1m4.4 0h1m-0.8 0.4h1m-1 -0.4h1m-0.4 0.2h1m2.4 0.2h1m-0.4 -0.8h1m7 0.6h1m0.8 -0.4h1m3 -0.2h1m6.2 0.8h1m4 0h1m-89.2 1h1m6.4 -0.2h1m4.2 -0.6h1m1.4 0.4h1m17.4 -0.2h1m-0.2 -0.2h1m1.4 0.2h1m2.8 0h1m3.2 -0.2h1m0.8 0.2h1m2 0h1m2 0.6h1m-0.2 0h1m-0.2 -0.8h1m0.4 0.4h1m3.6 0.2h1m0.6 0.2h1m-0.8 -0.8h1m0.6 0h1m-0.8 0h1m1 0.6h1m0.6 -0.6h1m-0.6 0.2h1m2.6 0.4h1m7 0h1m3.2 0h1m-81.2 1h1m5.4 0h1m0.6 0.2h1m1.8 -0.8h1m-0.2 0h1m14.4 0.6h1m5 -0.2h1m1 0.4h1m5 -0.6h1m-0.6 -0.2h1m6.4 0.2h1m0.8 0h1m0.4 0h1m-0.2 0.4h1m0.8 0.2h1m1.6 0h1m-0.6 -0.8h1m2.2 0.4h1m0.4 -0.4h1m-0.8 0.6h1m0.2 0h1m-1 0.2h1m-0.4 -0.2h1m2.6 0h1m-0.2 0.2h1m1 -0.8h1m0.4 0h1m7 0.8h1m8 -0.2h1m-90.2 0.8h1m0.4 -0.4h1m6 0.2h1m17.4 0.4h1m7.8 -0.6h1m-0.2 0.6h1m2.8 0h1m1.6 0h1m0.2 0h1m3.6 -0.6h1m0.6 0.2h1m0.8 0.6h1m1.4 -0.4h1m-0.6 0.4h1m-0.4 -0.2h1m3.6 -0.6h1m-0.8 0h1m-0.2 0.2h1m0.2 -0.2h1m0.4 0h1m-0.6 0.6h1m2 0h1m-0.2 -0.2h1m3.2 0.4h1m-69.8 1h1m1.2 -0.4h1m2 -0.4h1m32.4 0.2h1m3.8 -0.2h1m-1 0.6h1m1 0h1m2.4 -0.4h1m-0.2 0.6h1m-0.6 -0.6h1m-0.6 0.2h1m0 -0.2h1m4 0.2h1m1.2 -0.2h1m1.8 -0.2h1m-0.6 0.4h1m2.8 0.4h1m1.6 -0.2h1m6.2 -0.4h1m2.2 -0.2h1m1.4 0.4h1m0.2 0.2h1m-85.4 0.4h1m2.8 0.4h1m6 0.4h1m20.4 -0.6h1m5.6 0.4h1m5.6 0.2h1m2 -0.6h1m-0.4 0.4h1m0.6 0.2h1m-0.2 -0.2h1m-0.4 -0.4h1m0.2 -0.2h1m0.8 0.8h1m-0.4 0h1m-0.8 -0.8h1m-0.4 0.2h1m1.6 -0.2h1m0.4 0.8h1m-0.6 -0.8h1m0.4 0.8h1m1 -0.2h1m-0.4 0h1m1 0h1m0.4 -0.6h1m1 0.4h1m-0.2 -0.2h1m11.2 -0.2h1m-80.8 1.8h1m3.4 -0.8h1m3.4 0h1m19.8 0h1m7.8 0.8h1m-0.4 -0.6h1m-0.2 0.6h1m-0.2 -0.2h1m-0.4 0.2h1m5 -0.6h1m1 0.4h1m1.6 -0.6h1m0.2 0.6h1m0.4 -0.6h1m1.4 0.8h1m0.4 -0.8h1m-0.4 0.4h1m3.8 -0.2h1m-1 -0.2h1m1.2 0.8h1m4.4 -0.2h1m6.4 -0.6h1m-0.2 0.4h1m6 0.4h1m-88.6 0.4h1m3 0h1m27.4 0.6h1m1.4 -0.4h1m0.2 0.4h1m0.4 -0.2h1m-0.6 -0.2h1m0.6 0.2h1m1.4 -0.4h1m4.4 0h1m0.4 0.6h1m0.8 -0.2h1m1.8 -0.4h1m0 -0.2h1m0.2 0.4h1m0 -0.4h1m-0.2 0h1m2.6 0.6h1m3.6 -0.4h1m0.2 0.2h1m0.8 0.4h1m-0.8 -0.2h1m2.4 -0.4h1m0.4 -0.2h1m0.6 0.2h1m10.8 0.2h1m-89.2 0.8h1m23.4 0.2h1m10 -0.2h1m0.2 0h1m-0.4 -0.2h1m3.6 0.6h1m2.4 -0.2h1m4.4 0.2h1m0.6 -0.6h1m-0.8 0.2h1m2.8 0.4h1m-0.6 -0.6h1m-1 0.4h1m-0.8 0.2h1m1 0h1m0.8 0h1m-0.6 -0.2h1m2.2 -0.2h1m0.4 0.2h1m3.6 -0.4h1m18.4 0.6h1m-58.6 0.4h1m1.6 0.2h1m-0.8 0.6h1m5.8 -0.8h1m1.6 0h1m-1 0h1m0.4 0.8h1m3.4 -0.4h1m2.4 0h1m-0.4 -0.4h1m1.4 0.4h1m1 -0.4h1m0.4 0.8h1m-0.6 -0.2h1m2.2 -0.2h1m3.2 -0.4h1m2 0.2h1m4 0.6h1m-1 0h1m7.2 -0.6h1m-36.8 1h1m1.2 -0.2h1m0 0.2h1m-0.4 -0.2h1m3.2 0.8h1m-0.2 -0.6h1m0.6 0.6h1m-0.8 -0.2h1m-0.4 -0.4h1m3 -0.2h1m2.6 0h1m-0.2 0.2h1m-0.6 0.6h1m3 -0.2h1m3.8 -0.6h1m-0.2 0.4h1m-42.2 0.8h1m4 -0.2h1m6.6 0h1m0.6 0.6h1m2.2 0.2h1m0 0h1m4.4 -0.8h1m2.4 0.2h1m-0.8 -0.2h1m3.4 0.8h1m-1 -0.4h1m-0.4 0.2h1m-0.4 0.2h1m4.4 -0.2h1m1.2 0h1m-0.2 0.2h1m0 -0.6h1m-71.6 0.8h1m8.8 0.4h1m13.2 0h1m0.2 -0.2h1m1.4 0h1m3 0h1m-0.2 0.2h1m2.8 0h1m4.2 0.4h1m-0.8 0h1m0.4 -0.2h1m1 0h1m-0.8 -0.2h1m1.4 0.4h1m0 -0.4h1m4.8 0.2h1m2.4 0h1m0.6 -0.2h1m1 0.2h1m-0.4 -0.6h1m0.2 0h1m12 0.6h1m-55.2 1.2h1m5.8 -0.8h1m1.8 0.2h1m1 0.4h1m2.6 0h1m-0.6 0h1m0 0.2h1m2.6 -0.6h1m1.4 -0.2h1m0 0.8h1m-0.2 -0.4h1m1.2 0h1m-1 0.2h1m0 -0.4h1m-1 0.2h1m1 0.4h1m5 -0.2h1m-0.8 -0.6h1m2.8 0h1m-0.2 0.2h1m7 0.2h1m-0.2 0.2h1m3.6 -0.6h1m-57.2 1h1m1.8 0.6h1m0.8 0.2h1m7.4 -0.6h1m0 0.6h1m7 -0.8h1m1.6 0.6h1m-0.6 0.2h1m-0.2 -0.2h1m2.2 -0.6h1m-0.2 0.6h1m1 -0.6h1m0.8 0h1m-0.2 0.4h1m-0.2 0.2h1m-0.4 0.2h1m-0.6 -0.2h1m1 0.2h1m2.2 0h1m2 0h1m0.2 -0.6h1m2.2 0h1m2.2 0.2h1m-0.8 -0.2h1m0.2 0.4h1m-74.4 1.2h1m15.2 -0.4h1m8.6 0.2h1m6.4 -0.2h1m-0.6 0h1m0.2 0.2h1m-1 -0.2h1m3 -0.4h1m0.8 0h1m1.2 0h1m-0.4 0.2h1m-1 0.6h1m2.2 -0.2h1m0.8 0.2h1m1.6 0h1m0.2 0h1m-0.6 0h1m-0.2 -0.4h1m0.4 0.4h1m-1 -0.8h1m1.2 0.2h1m-0.2 0.6h1m-0.6 0h1m0.6 -0.4h1m1.6 -0.4h1m4.6 0.4h1m2.4 0.4h1m0.4 -0.4h1m0.2 0.4h1m1.2 -0.2h1m-51.2 1.2h1m3.8 -0.2h1m1 -0.4h1m3.4 0h1m-0.8 0.4h1m3.4 -0.6h1m-0.6 0.8h1m4.2 -0.8h1m-0.8 0h1m-0.6 0.4h1m-0.6 0.4h1m3.2 -0.6h1m1.6 0.6h1m0.6 -0.8h1m-0.8 0.8h1m-0.6 -0.8h1m1.4 0.6h1m1 -0.6h1m0 0.4h1m-0.6 0h1m-0.6 -0.2h1m-1 0h1m0.8 0.6h1m1.2 -0.6h1m1.2 0.2h1m1.2 -0.2h1m4.2 0.2h1m0.2 0.2h1m1.2 -0.4h1m-88.8 1.6h1m-0.8 -0.4h1m8 0.2h1m17.4 -0.4h1m0.4 0.6h1m0.4 -0.4h1m7.4 0.4h1m-0.6 -0.2h1m2.6 0h1m5.6 -0.2h1m-0.6 -0.4h1m-0.6 0h1m-0.8 0.2h1m0.8 0.6h1m0.2 -0.4h1m0.6 -0.2h1m0.6 0.4h1m0.4 -0.2h1m-0.4 -0.2h1m-0.4 0.2h1m-0.6 0h1m2.6 0h1m0.6 -0.4h1m0.6 0h1m-0.2 0.4h1m-0.4 -0.4h1m-0.4 0.8h1m0 -0.4h1m-0.6 0h1m1.2 -0.4h1m2.6 0h1m0 0.8h1m0.8 -0.2h1m2.6 0h1m3.2 -0.6h1m0.6 0.6h1m1.2 0.2h1m-86.6 0.4h1m5.6 0h1m26.2 0.4h1m7.2 -0.2h1m1 -0.2h1m0.8 0h1m0.4 -0.2h1m-0.2 0h1m4.6 0.6h1m-0.4 -0.2h1m-1 0.2h1m-0.8 0h1m-0.4 0h1m1.6 0h1m2.2 0.2h1m0 -0.6h1m0.6 -0.2h1m-1 0.6h1m-0.4 -0.6h1m-0.6 0h1m-0.4 0.8h1m-0.6 -0.6h1m0.2 0.4h1m-0.4 0h1m0.4 0.2h1m-0.6 -0.6h1m1.4 0.2h1m3 0.2h1m1.6 -0.2h1m-0.4 -0.4h1m5 0.6h1m-93 0.4h1m6.8 0.8h1m0 -0.6h1m29.8 0.6h1m9.4 -0.2h1m0.6 0.2h1m-0.8 -0.8h1m-0.2 0.4h1m0.4 -0.4h1m-0.4 0.4h1m-0.2 0h1m-0.2 -0.4h1m-1 0.4h1m-0.4 0.4h1m2.4 -0.6h1m-0.6 -0.2h1m2.4 0.6h1m-0.6 -0.6h1m-0.4 0.8h1m-0.8 -0.4h1m-0.6 -0.4h1m0.8 0.4h1m0.6 -0.2h1m-0.2 0h1m-1 0.2h1m0.4 -0.2h1m-0.2 0h1m1.4 0.2h1m-0.6 0.4h1m-0.4 -0.4h1m0.4 0.4h1m5.2 0h1m1.4 -0.6h1m8.8 0.2h1m-94.6 1.4h1m-0.6 -0.2h1m1.6 -0.6h1m-0.2 0.4h1m5 -0.2h1m24.4 0.4h1m4.2 0.2h1m3.2 -0.6h1m0.6 0.4h1m8.2 0h1m0 -0.2h1m-0.8 -0.4h1m2.2 0.6h1m0.2 -0.6h1m-0.6 0.2h1m-1 0.6h1m-0.8 -0.4h1m-0.6 0h1m-0.4 -0.2h1m-1 0.6h1m-0.4 -0.4h1m-1 -0.2h1m0.4 0.2h1m1 0.4h1m-0.6 -0.4h1m0.6 -0.2h1m-0.4 0.4h1m0.6 -0.6h1m-0.6 0h1m-0.4 0.6h1m0 -0.6h1m-73.4 1.8h1m8.4 -0.8h1m31.8 0.2h1m-1 0h1m-0.6 0.6h1m3 -0.6h1m0 0.4h1m1 0.2h1m1 -0.4h1m-0.4 0.2h1m-0.6 -0.4h1m-0.8 0h1m-0.4 -0.2h1m3.2 0.4h1m-0.8 -0.4h1m0.4 0.2h1m0.4 -0.2h1m1.4 0h1m-0.6 0.8h1m3.6 -0.4h1m1.2 -0.2h1m-0.4 0.6h1m-0.8 -0.8h1m-0.4 0.4h1m0 0h1m4.2 0h1m0.4 0.4h1m-76.8 0.8h1m2.8 -0.2h1m-0.6 0h1m1 -0.4h1m20.2 0.4h1m6.8 -0.2h1m0.4 0h1m0.8 0.6h1m1.8 -0.8h1m0.6 0.2h1m-0.4 -0.2h1m2.4 0.8h1m-0.2 -0.4h1m0.2 0.4h1m-0.6 -0.8h1m-0.4 0h1m-0.6 0h1m-0.8 0.6h1m0.2 -0.2h1m0.4 0h1m-0.4 0h1m-0.6 -0.2h1m-0.4 0.2h1m0.4 0h1m-0.4 -0.2h1m1.2 0.2h1m-0.6 -0.2h1m-1 0.4h1m-0.4 -0.6h1m1.4 0h1m-0.4 0.6h1m0 0.2h1m-1 -0.8h1m0.2 0h1m-1 0h1m-0.8 0.4h1m1.6 0.4h1m-0.8 -0.4h1m-0.4 0h1m0.4 0.4h1m-0.6 -0.4h1m-1 0h1m3.8 -0.2h1m10 0h1m-89.4 1.4h1m4.8 -0.6h1m-0.2 0.4h1m-0.2 0.2h1m-0.6 0.2h1m8.6 0h1m10.6 0h1m4 -0.6h1m8.2 -0.2h1m1.8 0h1m-0.2 0.8h1m0.4 -0.6h1m-1 0.6h1m0 -0.6h1m2.8 0.2h1m1.2 -0.2h1m-1 0.4h1m2 0.2h1m-0.4 -0.4h1m2 0.4h1m1.2 -0.4h1m1 0.4h1m0.4 -0.8h1m-0.8 0h1m-0.4 0.2h1m0 0.6h1m0.6 -0.6h1m-0.2 0.4h1m-0.8 -0.2h1m0.2 0.4h1m-0.4 -0.2h1m4.8 -0.6h1m2.4 0h1m-81 1.6h1m5.6 -0.4h1m20.6 0h1m4 0.4h1m5.8 -0.6h1m0.4 0h1m0.8 0.4h1m0 0h1m0.4 0h1m1.2 0h1m-1 -0.4h1m-0.6 0.6h1m0.2 -0.6h1m-0.6 0.4h1m1.6 -0.2h1m0.4 0h1m-1 0.2h1m-0.8 -0.2h1m-0.6 0.2h1m0.8 0.4h1m-0.4 -0.8h1m-0.8 0.8h1m-0.8 0h1m0 -0.4h1m-0.8 0.2h1m-1 0h1m0.6 -0.4h1m0.2 0h1m-0.6 0h1m-1 -0.2h1m1.4 0.4h1m-0.4 -0.4h1m-0.6 0.2h1m-0.4 0h1m2.2 0.6h1m5.2 -0.8h1m7.6 0h1m-83.4 1.2h1m30.4 0.4h1m7.2 -0.6h1m-0.8 0.4h1m-0.2 -0.2h1m7.8 -0.2h1m1.6 0.8h1m0.8 -0.4h1m-0.2 -0.4h1m-0.4 0.4h1m-0.4 0h1m-0.6 0.4h1m0.6 -0.4h1m-0.6 0.4h1m-0.4 -0.8h1m2.4 0.6h1m6.6 0h1m1.8 -0.4h1m8.2 0.4h1m-82.4 0.6h1m34.4 0.6h1m3.8 -0.2h1m-0.8 -0.4h1m2.2 0h1m0.4 -0.2h1m5 0h1m2.4 0.6h1m-0.8 0h1m-0.8 -0.6h1m0.4 0.4h1m0 -0.2h1m0 0h1m-0.4 0.6h1m-0.8 -0.8h1m-0.6 0.4h1m1.4 -0.4h1m-0.8 0h1m-1 0h1m0.4 0.2h1m2 0h1m0.2 0.6h1m7 -0.4h1m-77.4 1.2h1m36.8 0.2h1m15.8 -0.6h1m-0.8 0.6h1m-1 -0.8h1m2.4 0.4h1m0 0h1m4.8 -0.2h1m0.6 0h1m-0.4 0.6h1m-0.4 -0.8h1m-66.4 1.2h1m35 0h1m2.4 0.4h1m2.6 -0.4h1m-0.2 0h1m2.2 -0.2h1m2.4 0.6h1m1.2 -0.2h1m2 0h1m0.8 -0.4h1m0.6 0.6h1m-0.4 -0.6h1m-0.6 0.4h1m0.4 -0.4h1m16.2 0h1m-70.2 1.6h1m29.6 0h1m15 -0.6h1m7.2 0.4h1m1.6 0h1m-36.2 0.8h1m24.2 0.6h1m6.4 -0.2h1m-0.6 0.2h1m-26.4 0.8h1m1.6 0h1m9.6 -0.2h1m0.2 0h1m-16.8 1.4h1m-40.6 0.2h1m35.2 0.4h1m22.6 0.2h1m22.8 -0.4h1m-35.6 0.8h1m-0.8 0h1m11.8 0h1" stroke="#404040" stroke-opacity="1.0" stroke-width="1" fill="none"/>
<text x="172.30" y="145.00" font-size="5.6" text-anchor="middle" fill="#6e6e6e">10<tspan font-size="3.92" dy="-2.24">0</tspan></text>
<text x="197.55" y="145.00" font-size="5.6" text-anchor="middle" fill="#6e6e6e">10<tspan font-size="3.92" dy="-2.24">1</tspan></text>
<text x="222.80" y="145.00" font-size="5.6" text-anchor="middle" fill="#6e6e6e">10<tspan font-size="3.92" dy="-2.24">2</tspan></text>
<text x="248.05" y="145.00" font-size="5.6" text-anchor="middle" fill="#6e6e6e">10<tspan font-size="3.92" dy="-2.24">3</tspan></text>
<text x="273.30" y="145.00" font-size="5.6" text-anchor="middle" fill="#6e6e6e">10<tspan font-size="3.92" dy="-2.24">4</tspan></text>
<text x="167.30" y="134.40" font-size="5.6" text-anchor="middle" fill="#6e6e6e" transform="rotate(-90 167.30 134.40)">10<tspan font-size="3.92" dy="-2.24">0</tspan></text>
<text x="167.30" y="109.35" font-size="5.6" text-anchor="middle" fill="#6e6e6e" transform="rotate(-90 167.30 109.35)">10<tspan font-size="3.92" dy="-2.24">1</tspan></text>
<text x="167.30" y="84.30" font-size="5.6" text-anchor="middle" fill="#6e6e6e" transform="rotate(-90 167.30 84.30)">10<tspan font-size="3.92" dy="-2.24">2</tspan></text>
<text x="167.30" y="59.25" font-size="5.6" text-anchor="middle" fill="#6e6e6e" transform="rotate(-90 167.30 59.25)">10<tspan font-size="3.92" dy="-2.24">3</tspan></text>
<text x="167.30" y="34.20" font-size="5.6" text-anchor="middle" fill="#6e6e6e" transform="rotate(-90 167.30 34.20)">10<tspan font-size="3.92" dy="-2.24">4</tspan></text>
<g stroke="#959595" stroke-width="0.9" fill="none">
<path d="M303.20 34.20V134.40H404.20"/>
<path d="M300.60 134.40h2.60M301.80 126.86h1.40M301.80 122.45h1.40M301.80 119.32h1.40M301.80 116.89h1.40M301.80 114.91h1.40M301.80 113.23h1.40M301.80 111.78h1.40M301.80 110.50h1.40M300.60 109.35h2.60M301.80 101.81h1.40M301.80 97.40h1.40M301.80 94.27h1.40M301.80 91.84h1.40M301.80 89.86h1.40M301.80 88.18h1.40M301.80 86.73h1.40M301.80 85.45h1.40M300.60 84.30h2.60M301.80 76.76h1.40M301.80 72.35h1.40M301.80 69.22h1.40M301.80 66.79h1.40M301.80 64.81h1.40M301.80 63.13h1.40M301.80 61.68h1.40M301.80 60.40h1.40M300.60 59.25h2.60M301.80 51.71h1.40M301.80 47.30h1.40M301.80 44.17h1.40M301.80 41.74h1.40M301.80 39.76h1.40M301.80 38.08h1.40M301.80 36.63h1.40M301.80 35.35h1.40M300.60 34.20h2.6M303.20 134.40v2.60M310.80 134.40v1.40M315.25 134.40v1.40M318.40 134.40v1.40M320.85 134.40v1.40M322.85 134.40v1.40M324.54 134.40v1.40M326.00 134.40v1.40M327.29 134.40v1.40M328.45 134.40v2.60M336.05 134.40v1.40M340.50 134.40v1.40M343.65 134.40v1.40M346.10 134.40v1.40M348.10 134.40v1.40M349.79 134.40v1.40M351.25 134.40v1.40M352.54 134.40v1.40M353.70 134.40v2.60M361.30 134.40v1.40M365.75 134.40v1.40M368.90 134.40v1.40M371.35 134.40v1.40M373.35 134.40v1.40M375.04 134.40v1.40M376.50 134.40v1.40M377.79 134.40v1.40M378.95 134.40v2.60M386.55 134.40v1.40M391.00 134.40v1.40M394.15 134.40v1.40M396.60 134.40v1.40M398.60 134.40v1.40M400.29 134.40v1.40M401.75 134.40v1.40M403.04 134.40v1.40M404.20 134.40v2.60" stroke-width="0.6"/>
</g>
<path d="M328.20 34.20V134.40M303.20 112.20H404.20" stroke="#8c8c8c" stroke-width="0.9" fill="none"/>
<path d="M312.6 35.0h1m68.4 2.6h1m0.6 4h1m14.4 1h1m-54.8 2.2h1m49.2 5.8h1m-29.4 2.6h1m-8.2 0.6h1m-13 1.4h1m2.8 -0.6h1m34.2 1.4h1m-35.6 1.2h1m16.6 0.2h1m-55.2 2h1m41 -0.6h1m13.2 -0.2h1m3.4 1.2h1m-25.6 1.2h1m17.2 0.4h1m-15 1h1m5.2 -0.6h1m20 0.4h1m-13.8 0.6h1m23.8 -0.2h1m-52.6 1.8h1m3 -0.6h1m-0.4 0.4h1m-0.6 0.2h1m2 -0.4h1m9.2 -0.2h1m-52 1.6h1m4.2 -0.6h1m25.8 0.2h1m7 -0.2h1m5 -0.2h1m42.8 0.8h1m-95.2 1h1m44.4 -0.8h1m5 0.2h1m7.6 0.4h1m10.6 -0.6h1m-72 1.6h1m42.6 0h1m2.6 0h1m0.8 -0.6h1m9.4 0.4h1m1.4 0.4h1m6.6 -0.8h1m15.6 0.8h1m-53.8 0.2h1m4.2 0.4h1m14 -0.4h1m14.4 0.4h1m-59.6 1.4h1m21.4 -0.2h1m8 0.2h1m12.8 -0.4h1m0.6 0h1m9.8 -0.4h1m1.4 0.8h1m-57.4 0.4h1m12 -0.2h1m16.8 0.8h1m6.2 -0.8h1m-0.4 0.6h1m0.4 0.2h1m7.6 0h1m1.2 -0.8h1m1.6 0h1m8.8 0.8h1m1.6 -0.6h1m9.8 0h1m-66.2 1.6h1m10.6 -0.8h1m2.6 0.8h1m12.6 0h1m4 -0.2h1m5.2 -0.4h1m-59.6 1.4h1m31.4 -0.6h1m-0.4 0.2h1m16.2 0.6h1m0.8 -0.2h1m2.6 -0.6h1m3.4 0.8h1m2.4 -0.8h1m1.6 0.8h1m9.4 -0.6h1m-49 0.8h1m13.6 0.2h1m-1 0.4h1m3.4 -0.4h1m2 0.2h1m0.2 -0.2h1m-0.8 0.4h1m1.4 -0.4h1m-0.2 0.2h1m2 0.4h1m1.2 -0.4h1m2 -0.2h1m-60.8 1.4h1m35.6 -0.6h1m-1 0.4h1m3.6 -0.2h1m8 0h1m-0.8 0.6h1m-0.4 -0.8h1m5.8 0.8h1m1.2 -0.8h1m-66.2 1h1m4 0.6h1m0.2 0.2h1m10.2 -0.4h1m1 -0.2h1m16.6 0h1m0 0.6h1m2.6 0h1m4.2 -0.6h1m4.4 0.2h1m-0.4 -0.4h1m1.8 0h1m4.4 0h1m3.2 0.8h1m-72 0.6h1m6.6 0h1m5.8 -0.2h1m23.6 0.6h1m5.4 -0.8h1m-0.8 0h1m-0.6 0.8h1m2.2 0h1m5.4 -0.2h1m2.6 -0.6h1m1.4 0.2h1m1.4 0.6h1m-0.4 -0.4h1m0.2 -0.2h1m3.2 0.2h1m-71.8 0.8h1m3.8 0.6h1m36 -0.8h1m-0.8 0.6h1m1.8 -0.4h1m1.6 0.4h1m2 0h1m-0.2 -0.2h1m-0.4 0.2h1m-0.8 0h1m-0.4 -0.4h1m0.8 0h1m-0.6 -0.2h1m0 0.8h1m1.6 -0.8h1m1.2 0h1m-0.8 0.6h1m0.2 0h1m9.6 0h1m3 0h1m-0.6 0.2h1m-71.4 0.4h1m3.8 0.2h1m12.4 0.2h1m2.6 -0.4h1m6.8 0h1m3.6 0.6h1m0 -0.4h1m6 0.4h1m5.4 -0.6h1m4.6 -0.2h1m1.8 0.8h1m-0.4 -0.6h1m1.8 0.2h1m-0.2 -0.4h1m5.6 0.6h1m4 0.2h1m-0.4 -0.6h1m-73.6 1.4h1m7.8 -0.4h1m2.4 0.2h1m10.2 0h1m1.8 -0.2h1m0.8 0h1m0.2 0.2h1m3.4 0.4h1m1.8 -0.2h1m-0.6 0.2h1m1 -0.4h1m0.6 0h1m3 -0.4h1m1.4 0.6h1m-0.2 -0.4h1m0.2 0.6h1m-0.2 -0.8h1m1.2 0.8h1m-0.2 -0.4h1m4.2 -0.4h1m6.8 0.8h1m2.8 -0.4h1m-78.6 1h1m5.8 0h1m0 -0.2h1m9.8 0h1m3 0.2h1m8.4 -0.4h1m0.2 0.6h1m1.2 0.2h1m3.2 0h1m3 -0.6h1m3 0h1m-0.2 0.4h1m-0.8 0h1m7.2 0.2h1m0.4 -0.2h1m-1 -0.4h1m-0.2 0.4h1m2 -0.2h1m-0.4 -0.4h1m1 0.8h1m4.2 -0.4h1m0.4 0.2h1m-0.4 -0.4h1m1 0.6h1m-68.8 1h1m1 0h1m1.6 -0.8h1m17 0.2h1m-0.4 0.2h1m8.2 -0.2h1m-0.8 0.4h1m0.2 0h1m4.4 -0.6h1m3.2 0.8h1m0.4 -0.8h1m0.6 0.8h1m5.8 -0.6h1m3 0.2h1m0 0.4h1m-0.2 -0.6h1m3.6 0h1m2 0h1m-67.4 0.8h1m3 0.6h1m9.4 0h1m18 -0.6h1m0.2 0.6h1m6.2 0h1m0.4 -0.6h1m-0.2 0.4h1m-0.4 0h1m1.8 0.4h1m0 0h1m1.2 0h1m0 0h1m1.2 -0.8h1m-0.6 0.2h1m0.4 0.2h1m1 0.2h1m5 0.2h1m6.8 -0.2h1m-69.2 1h1m10.4 0.2h1m6.8 -0.8h1m14 0.6h1m1.8 -0.4h1m1.4 0.4h1m-0.4 0h1m0.6 -0.2h1m-0.8 0.2h1m0.2 -0.2h1m-0.8 -0.4h1m1.4 0h1m0.2 0h1m1.4 0.8h1m0.2 0h1m-0.6 -0.4h1m0.2 -0.4h1m-0.2 0.4h1m-0.8 -0.2h1m1.8 0h1m2 -0.2h1m1.2 0h1m8.2 0.4h1m-46.2 1.4h1m1.8 -0.6h1m3.4 0.4h1m-0.6 0h1m2 0h1m9.2 -0.2h1m-0.6 0.4h1m-1 -0.8h1m1.2 0.2h1m-0.6 0.2h1m4.6 0.2h1m-0.4 -0.6h1m0.2 0.6h1m2.2 -0.6h1m1.6 0.2h1m2.8 0h1m12.2 0.6h1m-82.8 0.8h1m4 -0.4h1m0 0.6h1m24.8 -0.4h1m4.4 0.2h1m0.4 0h1m-0.6 -0.2h1m2 -0.4h1m-1 0.8h1m2.4 -0.4h1m-0.6 -0.4h1m-0.2 0.2h1m1 0.4h1m0.2 -0.2h1m-1 0.4h1m-1 -0.2h1m-0.8 -0.2h1m-0.8 0.2h1m0.6 -0.6h1m1.4 0.4h1m-0.2 0h1m-0.6 0.4h1m2.4 -0.6h1m2.6 0.2h1m13 0.2h1m1.4 -0.2h1m2.4 0.2h1m2 0h1m-89.8 0.4h1m0.8 0.2h1m18.2 -0.2h1m10.4 0.6h1m5.4 -0.4h1m4.6 0.4h1m2 0.2h1m-0.4 0h1m5 0h1m1.6 -0.4h1m2 0.4h1m-0.8 -0.2h1m-1 -0.6h1m-0.6 0.4h1m1.6 -0.4h1m-0.6 0.2h1m10 0.4h1m4.6 -0.4h1m12.4 0h1m-93.4 0.8h1m-1 0.6h1m4.6 -0.2h1m1.4 0h1m-0.6 -0.4h1m4 0h1m8.2 0.4h1m14.4 -0.4h1m3 0.2h1m-0.8 0.2h1m0.8 0.2h1m1.8 -0.6h1m-0.8 0.4h1m3.2 0h1m-0.4 0.4h1m-0.8 0h1m0.2 -0.4h1m-0.6 -0.4h1m-0.4 0.4h1m2.2 0.2h1m-1 0h1m-1 0.2h1m-1 0h1m0 -0.6h1m0.6 0.6h1m1.2 -0.6h1m-1 0h1m0.6 0.4h1m-0.6 -0.4h1m-0.8 0h1m0.4 0h1m0 0h1m1.8 0h1m-0.6 0.6h1m5.8 -0.6h1m1.8 0.4h1m-80.2 0.4h1m1.4 0.4h1m9.4 -0.2h1m2.4 0.2h1m23.4 0.4h1m2.4 -0.6h1m2 0h1m-1 0.4h1m0 -0.6h1m3 0.6h1m0.8 -0.4h1m-1 -0.2h1m-0.4 0.2h1m1.2 -0.2h1m-0.6 0.4h1m-0.8 0.2h1m-1 0h1m0.2 -0.2h1m3 0.2h1m0.8 -0.4h1m4 0.6h1m0.2 -0.8h1m-1 0.2h1m0.6 0.2h1m-71.2 0.6h1m4 0h1m19 0h1m3.8 0.8h1m2.6 -0.2h1m1.4 -0.2h1m5.4 -0.2h1m-0.8 -0.2h1m0 0.6h1m0 -0.2h1m0 0h1m1.4 0h1m-0.8 0.2h1m-0.2 -0.2h1m-0.8 -0.2h1m1.2 0.4h1m-1 -0.6h1m0.2 0h1m1 0.8h1m0.2 -0.4h1m-0.6 0.4h1m-0.4 -0.8h1m-0.8 0.4h1m0.4 0h1m4.6 0.4h1m-1 -0.8h1m-0.8 0.8h1m5.8 -0.8h1m7 0h1m0 0.4h1m-47.4 1h1m0.6 0.2h1m-0.2 0.2h1m1.4 -0.6h1m4.6 -0.2h1m0 0.2h1m-0.4 0.2h1m2.2 -0.4h1m2 0.4h1m-0.4 0.4h1m0.2 -0.8h1m-1 0.8h1m-0.6 -0.4h1m2.2 0.2h1m4 -0.4h1m0 0.6h1m-0.8 -0.2h1m-0.2 -0.2h1m4.2 -0.2h1m6 0.6h1m-79.4 1h1m6.2 -0.4h1m0.2 0.2h1m5.6 -0.6h1m0.6 0h1m5.6 0.2h1m9.6 0h1m9.6 0.4h1m-1 0.2h1m-1 -0.4h1m0.2 0.4h1m0.2 -0.8h1m-0.2 0.8h1m-0.6 -0.2h1m0.6 -0.2h1m0 -0.4h1m-1 0h1m0.2 0.2h1m4 -0.2h1m-0.8 0.4h1m-0.4 -0.2h1m1.8 0.6h1m10.8 -0.6h1m6.2 0.2h1m-0.2 -0.4h1m-57.4 1h1m12.2 0.6h1m-0.6 -0.2h1m1 -0.4h1m-0.2 0.4h1m-0.6 -0.2h1m2.2 0.6h1m1.6 -0.4h1m1.8 0.2h1m-0.6 -0.6h1m2 0.8h1m-0.2 -0.6h1m-0.6 0.2h1m-1 0h1m0.6 0.4h1m0 -0.8h1m1 0.6h1m1 -0.4h1m2.2 -0.2h1m1.4 0.8h1m-0.8 -0.6h1m-0.8 0.2h1m14 0.4h1m-83 0.2h1m22 0.2h1m14.8 -0.2h1m-0.4 0.2h1m3.6 0.4h1m1.4 -0.6h1m0 0.6h1m-0.8 -0.4h1m0 0.4h1m3.6 0h1m-0.2 0.2h1m-0.6 -0.2h1m-0.6 0h1m5.2 -0.6h1m2.2 0.2h1m-0.4 0.2h1m3.4 -0.4h1m-58.8 1.2h1m8.2 0.2h1m4.8 0.2h1m10.6 -0.2h1m7.8 0.4h1m3.4 -0.6h1m0.4 0.2h1m-0.8 -0.4h1m1.2 0.2h1m0.8 0.2h1m0.8 -0.4h1m-0.4 0.6h1m2.6 0h1m-0.6 -0.6h1m-0.8 0.4h1m-1 0h1m-0.8 -0.4h1m4.4 0.4h1m10.2 0h1m-80.2 1h1m3.8 -0.2h1m-0.8 0h1m1 0h1m8.4 0.6h1m4.2 -0.4h1m0.6 0h1m3.8 0.4h1m3.8 -0.2h1m0.2 -0.2h1m2.2 0.2h1m4.2 0.2h1m1.8 -0.2h1m0 0.2h1m1.2 -0.6h1m-0.8 0.4h1m-0.2 -0.4h1m-0.8 -0.2h1m2.2 0h1m1.2 0.6h1m-0.2 0.2h1m-0.8 -0.6h1m1.2 0.2h1m-0.8 0.4h1m0.2 -0.2h1m-0.6 -0.4h1m0.2 0.4h1m0 -0.4h1m-0.8 0.6h1m0.4 -0.2h1m5.8 -0.2h1m2.6 -0.2h1m-75.8 0.8h1m0.2 0h1m-0.4 0.6h1m5 -0.6h1m-0.8 0h1m15.2 0.2h1m10.8 0h1m0.4 -0.2h1m6.8 0.2h1m-0.6 -0.2h1m1.6 0.4h1m0.6 0.2h1m-0.2 -0.2h1m-0.6 0.4h1m1 0h1m3 -0.4h1m-0.4 0.4h1m0.8 -0.8h1m0 0h1m1.6 0.6h1m1.2 0h1m-55.8 1.2h1m17 -0.6h1m5 0.2h1m9.6 -0.2h1m0.8 0.2h1m3.8 0.4h1m4.4 -0.4h1m7.8 0.4h1m-0.8 -0.8h1m-0.2 0.2h1m-1 -0.2h1m-0.6 0.8h1m-1 -0.6h1m-33 1h1m5.8 -0.2h1m2.4 0h1m2.4 0.8h1m0 -0.4h1m-0.8 -0.2h1m-0.4 0.2h1m1.8 0.4h1m-0.6 -0.6h1m-0.2 0.2h1m-0.8 0.2h1m1.4 -0.4h1m-0.8 0.6h1m1.4 0h1m-1 -0.2h1m-1 -0.4h1m0.4 0h1m3 0.2h1m-0.6 -0.4h1m1.8 0.8h1m0.4 -0.6h1m3.6 0.2h1m-49.8 1.2h1m14.2 -0.2h1m-0.2 0h1m1.6 -0.2h1m-0.4 0.2h1m-0.6 0h1m3.6 0h1m-0.2 0.4h1m-0.6 0h1m0.6 -0.6h1m-0.4 0.6h1m2.2 -0.8h1m1.8 0h1m-0.4 0.6h1m0.4 -0.2h1m0.4 -0.2h1m0.2 0h1m1 0.2h1m1.2 0h1m-0.8 0.2h1m-55.4 0.8h1m6.4 -0.2h1m4.4 0.6h1m3 -0.4h1m8.2 -0.2h1m3 0.4h1m0.2 0.2h1m-0.2 -0.8h1m2.4 0.4h1m0.4 0.4h1m7.6 -0.4h1m1.2 0.2h1m1 0.2h1m0.6 -0.2h1m7.2 0.2h1m-33 1h1m-0.4 0h1m0.2 0h1m5 -0.6h1m0.4 0.6h1m4 -0.8h1m-0.2 0.4h1m-0.2 0h1m-0.8 0h1m7.8 -0.4h1m0 0h1m-0.6 0.8h1m3 -0.4h1m6.8 -0.2h1m-79.2 1.6h1m31.2 -0.2h1m11 -0.2h1m-1 0.2h1m0 -0.2h1m0.6 0h1m0 -0.4h1m1.2 0.6h1m8 0.2h1m-0.2 -0.6h1m3 0.6h1m2.2 -0.2h1m9.6 -0.2h1m-39.2 1h1m1.4 -0.2h1m0.6 0h1m6 0.4h1m-0.2 0h1m0.4 -0.2h1m1.8 -0.4h1m-0.8 0.4h1m6.8 -0.2h1m13.4 -0.2h1m1.4 0.8h1m-30.4 0.2h1m1.2 0h1m0.2 0h1m8.4 0.6h1m-38.6 1h1m16.2 -0.4h1m19 0.4h1m0.6 0h1m1.6 0.2h1m-43 0.2h1m8.6 0.6h1m9.4 -0.2h1m0 -0.4h1m-0.8 0.2h1m1.6 -0.2h1m7.2 0.6h1m0 -0.4h1m2.6 0h1m3.6 -0.2h1m5.4 0.8h1m-31.8 0.2h1m3.8 0.2h1m6 0h1m3.8 0.4h1m9.4 -0.6h1m2 0.2h1m-25.2 0.8h1m0.6 0.6h1m31.8 0.2h1m-49 0.6h1m4 -0.2h1m4.8 0.4h1m18.6 0.2h1m1.8 0h1m-59.8 0.6h1m27.4 0.4h1m23.4 -0.6h1m-31 1h1m7.6 0.6h1m0 -0.6h1m29.8 0.6h1m-55 1h1m21.2 -0.4h1m10.4 0.4h1m20.6 -0.6h1m-77.8 1.4h1m52.4 -0.4h1m8.2 -0.2h1m-9.6 1.8h1m10 -0.6h1m14.8 0.4h1m8.4 -0.2h1m-42 1h1m5 -0.2h1m0.8 0.6h1m1.2 -0.2h1m2.8 0.2h1m-0.2 -0.6h1m0.8 0.2h1m7.8 -0.4h1m6.2 0.8h1m-42.8 0.2h1m4.6 0.8h1m6 0h1m0 -0.8h1m3.6 0h1m5.6 0.8h1m1 0h1m4.8 -0.6h1m0.8 0.4h1m-0.8 -0.2h1m-38.2 0.6h1m8.2 0.2h1m0 0.2h1m12.8 0h1m2.6 0.4h1m-0.8 -0.4h1m4.2 -0.4h1m2.8 0.2h1m-1 0h1m1 0.6h1m1.4 -0.2h1m-0.6 -0.6h1m1.8 0.8h1m-28.6 0.2h1m5.6 0.6h1m-0.2 0.2h1m4.6 -0.6h1m1.4 0h1m-0.6 0.6h1m-0.6 -0.4h1m0 0.4h1m0.6 -0.4h1m6.2 0.2h1m-28.2 1h1m-0.2 0h1m0.4 0h1m-0.8 -0.6h1m1.2 0.6h1m2 0.2h1m0.8 -0.8h1m4.2 0.4h1m0.6 0.2h1m-0.6 0.2h1m-0.4 -0.2h1m-0.2 -0.6h1m-0.4 0.6h1m-0.6 0h1m-0.6 0h1m1.4 0.2h1m-1 -0.6h1m1 -0.2h1m-0.4 0h1m1.4 0.8h1m6 -0.8h1m-32.8 1.6h1m1 -0.4h1m0 0.2h1m-0.8 -0.4h1m-0.8 0h1m3.2 0.8h1m2 -0.6h1m1 0.6h1m0.2 -0.4h1m-1 0.2h1m-1 -0.2h1m-0.6 -0.2h1m-0.4 0.6h1m-0.8 -0.4h1m-0.8 -0.2h1m-0.8 0.2h1m1.6 -0.2h1m-1 -0.2h1m0.2 0.6h1m-0.8 -0.6h1m-0.6 0.2h1m2 0h1m4.8 0.6h1m-0.8 -0.2h1m-35 0.6h1m-0.4 0.6h1m9.6 -0.4h1m-0.6 -0.4h1m1.6 0.2h1m0.4 -0.2h1m-0.4 0.2h1m-0.8 0.6h1m-0.2 -0.4h1m-0.6 -0.2h1m0 0h1m4.8 0.6h1m-0.8 0h1m0.2 -0.2h1m-0.4 0.2h1m-0.2 0h1m-0.6 0h1m4.8 -0.2h1m-77.2 1.2h1m32.4 -0.4h1m11 0h1m1.4 0.2h1m7.4 0h1m1.2 0.2h1m0.2 -0.8h1m-1 0.2h1m1.2 -0.2h1m-0.4 0.8h1m0 -0.4h1m0.8 0.4h1m-0.6 -0.6h1m-0.4 0.6h1m-0.2 -0.2h1m-1 -0.2h1m0.2 -0.4h1m2 0.2h1m-0.4 0h1m1 0.6h1m1.8 -0.8h1m-0.8 0h1m-30.8 1h1m4.8 0h1m3.4 0.6h1m-0.4 -0.4h1m1.2 -0.2h1m-0.4 0.8h1m-1 -0.6h1m-1 0.4h1m-0.6 0h1m-0.6 0.2h1m-1 -0.6h1m-0.2 0.2h1m-0.8 0.4h1m-0.8 -0.4h1m-0.4 0.2h1m1.2 0.2h1m-0.2 -0.6h1m-0.6 -0.2h1m1.2 0.6h1m-0.6 -0.4h1m-0.4 0.4h1m1.4 0.2h1m0.2 0h1m0.6 0h1m-64.4 0.2h1m31.4 0.6h1m3.8 -0.2h1m-0.2 -0.2h1m1.4 0.2h1m-0.2 -0.2h1m0.4 0.6h1m3.2 -0.4h1m-0.6 0.2h1m-0.6 -0.6h1m2.6 0.8h1m-0.8 -0.4h1m-1 0h1m-0.8 0h1m0.4 0.2h1m-0.6 -0.6h1m-0.4 0.2h1m-0.8 0h1m-0.6 0h1m-0.2 0h1m-0.4 -0.2h1m0.4 0.8h1m0 -0.8h1m-0.6 0.2h1m-1 0.6h1m7.2 0h1m-24.6 0.8h1m-0.4 -0.4h1m-0.2 0.6h1m1.4 -0.4h1m1.6 0.4h1m0.2 -0.2h1m-0.2 0.2h1m-1 -0.6h1m0.4 -0.2h1m-0.6 0h1m2.4 0.8h1m0.2 0h1m4.2 -0.2h1m4.8 -0.6h1m-33.4 1h1m6.2 0.8h1m-1 -0.6h1m-0.8 0.2h1m0 -0.2h1m0 0.6h1m-1 -0.2h1m0.2 0h1m-0.8 -0.6h1m-0.6 0.6h1m0 0h1m0 -0.2h1m-0.8 0h1m1 0.2h1m0 -0.6h1m-0.4 0h1m-1 0h1m6.8 0.2h1m-27.2 0.8h1m1.2 0.6h1m6.6 -0.6h1m-0.6 0.6h1m0.2 -0.6h1m2 0.6h1m-0.8 -0.6h1m-0.2 0.4h1m-0.6 0h1m0.6 0.2h1m2.2 -0.4h1m4.8 0.6h1m-79.4 0.8h1m24 -0.6h1m30.4 0.8h1m-0.6 -0.8h1m8.8 0h1m-0.4 0.4h1m-0.6 0.2h1m-0.4 0h1m1.8 0.2h1m3 -0.8h1m-0.6 0.6h1m5.2 -0.6h1m-28 1.8h1m1 -0.6h1m0.8 0.4h1m0.6 -0.6h1m0.8 0.8h1m6.2 0h1m3.2 -0.4h1m-23.2 1h1m3.6 0.2h1m-1 -0.6h1m3.2 0.8h1m1 0h1m1.8 -0.4h1m-5 1.4h1m7 0h1m-1 -0.4h1m1.6 0h1" stroke="#404040" stroke-opacity="1.0" stroke-width="1" fill="none"/>
<text x="303.20" y="145.00" font-size="5.6" text-anchor="middle" fill="#6e6e6e">10<tspan font-size="3.92" dy="-2.24">0</tspan></text>
<text x="328.45" y="145.00" font-size="5.6" text-anchor="middle" fill="#6e6e6e">10<tspan font-size="3.92" dy="-2.24">1</tspan></text>
<text x="353.70" y="145.00" font-size="5.6" text-anchor="middle" fill="#6e6e6e">10<tspan font-size="3.92" dy="-2.24">2</tspan></text>
<text x="378.95" y="145.00" font-size="5.6" text-anchor="middle" fill="#6e6e6e">10<tspan font-size="3.92" dy="-2.24">3</tspan></text>
<text x="404.20" y="145.00" font-size="5.6" text-anchor="middle" fill="#6e6e6e">10<tspan font-size="3.92" dy="-2.24">4</tspan></text>
<text x="298.20" y="134.40" font-size="5.6" text-anchor="middle" fill="#6e6e6e" transform="rotate(-90 298.20 134.40)">10<tspan font-size="3.92" dy="-2.24">0</tspan></text>
<text x="298.20" y="109.35" font-size="5.6" text-anchor="middle" fill="#6e6e6e" transform="rotate(-90 298.20 109.35)">10<tspan font-size="3.92" dy="-2.24">1</tspan></text>
<text x="298.20" y="84.30" font-size="5.6" text-anchor="middle" fill="#6e6e6e" transform="rotate(-90 298.20 84.30)">10<tspan font-size="3.92" dy="-2.24">2</tspan></text>
<text x="298.20" y="59.25" font-size="5.6" text-anchor="middle" fill="#6e6e6e" transform="rotate(-90 298.20 59.25)">10<tspan font-size="3.92" dy="-2.24">3</tspan></text>
<text x="298.20" y="34.20" font-size="5.6" text-anchor="middle" fill="#6e6e6e" transform="rotate(-90 298.20 34.20)">10<tspan font-size="3.92" dy="-2.24">4</tspan></text>
<g stroke="#959595" stroke-width="0.9" fill="none">
<path d="M45.20 169.20V269.40H146.20"/>
<path d="M42.60 269.40h2.60M43.80 261.86h1.40M43.80 257.45h1.40M43.80 254.32h1.40M43.80 251.89h1.40M43.80 249.91h1.40M43.80 248.23h1.40M43.80 246.78h1.40M43.80 245.50h1.40M42.60 244.35h2.60M43.80 236.81h1.40M43.80 232.40h1.40M43.80 229.27h1.40M43.80 226.84h1.40M43.80 224.86h1.40M43.80 223.18h1.40M43.80 221.73h1.40M43.80 220.45h1.40M42.60 219.30h2.60M43.80 211.76h1.40M43.80 207.35h1.40M43.80 204.22h1.40M43.80 201.79h1.40M43.80 199.81h1.40M43.80 198.13h1.40M43.80 196.68h1.40M43.80 195.40h1.40M42.60 194.25h2.60M43.80 186.71h1.40M43.80 182.30h1.40M43.80 179.17h1.40M43.80 176.74h1.40M43.80 174.76h1.40M43.80 173.08h1.40M43.80 171.63h1.40M43.80 170.35h1.40M42.60 169.20h2.6M45.20 269.40v2.60M52.80 269.40v1.40M57.25 269.40v1.40M60.40 269.40v1.40M62.85 269.40v1.40M64.85 269.40v1.40M66.54 269.40v1.40M68.00 269.40v1.40M69.29 269.40v1.40M70.45 269.40v2.60M78.05 269.40v1.40M82.50 269.40v1.40M85.65 269.40v1.40M88.10 269.40v1.40M90.10 269.40v1.40M91.79 269.40v1.40M93.25 269.40v1.40M94.54 269.40v1.40M95.70 269.40v2.60M103.30 269.40v1.40M107.75 269.40v1.40M110.90 269.40v1.40M113.35 269.40v1.40M115.35 269.40v1.40M117.04 269.40v1.40M118.50 269.40v1.40M119.79 269.40v1.40M120.95 269.40v2.60M128.55 269.40v1.40M133.00 269.40v1.40M136.15 269.40v1.40M138.60 269.40v1.40M140.60 269.40v1.40M142.29 269.40v1.40M143.75 269.40v1.40M145.04 269.40v1.40M146.20 269.40v2.60" stroke-width="0.6"/>
</g>
<path d="M70.30 169.20V269.40M45.20 247.40H146.20" stroke="#8c8c8c" stroke-width="0.9" fill="none"/>
<path d="M62.8 177.0h1m-10.2 2.6h1m8 0.8h1m48.2 -0.8h1m-55.6 1.8h1m8.2 -0.2h1m6.6 0h1m8 0.2h1m14 -0.6h1m27.6 0.6h1m-71.6 1.8h1m27.6 -0.4h1m2.4 0.4h1m-1.6 1.2h1m5.8 -0.4h1m-11.8 1.4h1m7.2 -0.2h1m1.8 -0.2h1m6 0h1m-44.6 0.6h1m-0.6 0.4h1m32.2 -0.2h1m-0.2 0.6h1m-34 0.8h1m40.2 0h1m15.8 0.2h1m5 -0.2h1m-66.6 1h1m21.6 -0.6h1m11.4 0.4h1m10 -0.2h1m0.6 0.4h1m29.2 -0.2h1m-80.4 1h1m1.8 -0.4h1m4.8 0.8h1m12.2 -0.6h1m7.2 0.6h1m4.6 0h1m-39.2 0.4h1m3.2 0.4h1m64 0.2h1m-68 0.6h1m1.4 -0.4h1m24.6 0.6h1m34 -0.2h1m-66.2 0.6h1m4.6 0h1m26.4 0.2h1m0.4 0.4h1m12.8 -0.4h1m-13.2 1.2h1m-1 0h1m6.2 0.2h1m-46.6 0.8h1m4.4 0.2h1m0.2 -0.6h1m-0.4 0.2h1m1 0.6h1m17 0h1m0.4 -0.8h1m2.2 0.8h1m1 -0.2h1m4.8 0h1m4 -0.6h1m-39.2 1.8h1m-0.6 -0.6h1m1.4 0.2h1m5.4 0.2h1m5.4 0.2h1m2.4 -0.6h1m12.2 0h1m17.8 0h1m-61 1h1m4 -0.2h1m0.8 0.2h1m7.6 0.6h1m8.4 -0.6h1m-0.2 -0.2h1m5.8 0.4h1m3.2 -0.4h1m2.4 0.2h1m-0.6 0h1m3.2 0.6h1m5 -0.4h1m1 0.2h1m-0.2 -0.4h1m5.8 0h1m-49.6 1.2h1m1.6 0.2h1m12.8 -0.4h1m0 0.2h1m2 0.4h1m5.2 -0.6h1m1.8 0.2h1m1 0.2h1m-0.6 -0.2h1m2.8 -0.4h1m-37.8 1.8h1m18 -0.4h1m2.8 0.2h1m4 -0.6h1m0.4 0.8h1m0.8 0h1m10.4 -0.6h1m0 -0.2h1m-40.4 1h1m16 0.8h1m0.2 -0.4h1m-0.4 -0.2h1m-0.2 0h1m-0.2 0h1m7.8 0.4h1m1.8 0.2h1m-39.4 0.2h1m0.2 0.4h1m-1 -0.4h1m0.2 0.4h1m0 -0.4h1m0.8 0.4h1m2.4 0.4h1m5 0h1m7.6 -0.6h1m1.2 0.2h1m1.8 0.4h1m-0.8 -0.8h1m-0.6 0.6h1m2.4 -0.4h1m1.4 0.4h1m-0.6 0h1m1.6 0h1m1.4 -0.2h1m11.4 0.2h1m18.4 -0.6h1m-72 1.8h1m1 -0.2h1m4.8 -0.2h1m11.6 0.4h1m-0.2 -0.6h1m3 0.6h1m3 -0.4h1m8.2 0.4h1m-0.8 -0.2h1m1 -0.2h1m4.8 0h1m-49.4 0.8h1m27.6 0.4h1m0.8 0h1m1 0.2h1m3.6 -0.8h1m-0.4 0.8h1m-0.2 -0.2h1m5.2 -0.6h1m0.6 0.6h1m8.6 0h1m-51.4 1h1m-1 -0.6h1m-0.8 0.2h1m9 0.2h1m7.2 0.4h1m2.4 0h1m-0.4 -0.4h1m-0.6 -0.2h1m2.8 -0.2h1m-0.2 0.2h1m4 -0.2h1m1 0h1m1.2 0.2h1m0.6 -0.2h1m4.8 0.4h1m-0.2 -0.2h1m9 0.6h1m-60.4 0.8h1m6.2 -0.6h1m0.2 0.4h1m15.6 -0.4h1m4 0h1m0.2 0.8h1m3.4 -0.2h1m0.8 0.2h1m-0.6 -0.4h1m0.6 -0.4h1m4 0.6h1m-47.8 1.2h1m5.4 0h1m13 -0.6h1m1.6 0.4h1m0.4 -0.6h1m-0.6 0h1m0.2 0.8h1m3 0h1m3.6 0h1m-0.4 -0.6h1m2.2 0.6h1m-0.8 -0.8h1m0.2 0.4h1m-0.4 0.2h1m-0.2 -0.6h1m1 0.2h1m-0.6 -0.2h1m0.4 0.8h1m9.8 -0.4h1m-44 0.6h1m8.4 0.2h1m4 0.2h1m5 0.2h1m0.4 -0.6h1m0 0.4h1m1.8 0.2h1m-0.8 0h1m3.8 -0.4h1m-0.4 0.4h1m0.6 -0.2h1m0 -0.2h1m1.4 -0.2h1m-45.2 1.6h1m2.8 0h1m-1 -0.6h1m0.4 0.8h1m12.2 0h1m8.4 -0.8h1m-0.6 0.2h1m-0.4 0.4h1m-0.4 0h1m-0.8 -0.2h1m0.6 0.4h1m-0.2 -0.8h1m1.8 0h1m1.6 0.4h1m-46.8 0.8h1m9 0h1m20 0.6h1m0.6 -0.8h1m3.8 0.8h1m1.2 -0.8h1m3 0.2h1m1.8 0.4h1m-1 0h1m-1 0.2h1m0.2 -0.2h1m-0.2 -0.4h1m7.2 0.2h1m22.4 -0.2h1m-75.6 1.6h1m0.2 -0.2h1m12 -0.6h1m7.4 0.2h1m6 -0.2h1m4.6 0h1m0.8 0.8h1m8.4 -0.6h1m0.4 0h1m1.8 0.2h1m21 -0.4h1m1.4 0h1m-78.4 1.8h1m10.2 -0.6h1m12.6 -0.2h1m1.4 0.4h1m-0.8 0h1m2.6 0.2h1m1.4 -0.2h1m2 -0.4h1m0.6 0.6h1m2 0.2h1m-1 -0.6h1m-0.6 -0.2h1m1.4 0.2h1m0.4 0.4h1m0 -0.6h1m-0.4 0.4h1m1.6 0h1m-48.6 1.4h1m-0.4 -0.8h1m0.8 0.2h1m1.6 0h1m4.8 -0.2h1m0.2 0.8h1m11.2 -0.2h1m-0.4 -0.6h1m0.2 0.6h1m0.2 0.2h1m-0.6 -0.4h1m1.4 0h1m-0.8 0.4h1m1.8 -0.2h1m0 -0.4h1m0.2 0.2h1m0.6 -0.4h1m0.4 0.8h1m1.6 -0.8h1m2.6 0h1m-0.2 0.6h1m0 -0.2h1m3 -0.4h1m-50.2 1.4h1m0.6 0.2h1m0.2 -0.4h1m-0.4 0h1m-1 0.4h1m0.8 -0.2h1m0.2 0h1m1.4 0.2h1m3.2 -0.6h1m8.6 0h1m-0.4 0.2h1m1.6 0.6h1m8.4 -0.4h1m0.4 0h1m-0.2 -0.4h1m-0.8 0.4h1m0.4 0.4h1m0 -0.6h1m-0.4 0.6h1m3.4 -0.4h1m-48 1.2h1m5.8 -0.2h1m4.2 0.2h1m-1 0.2h1m0.4 -0.6h1m13.4 0h1m0.8 0.4h1m2.4 0.2h1m1.6 0h1m1.6 -0.8h1m-0.4 0.4h1m0.6 0h1m2.2 0.2h1m-0.8 0h1m0 -0.2h1m-43.2 1.4h1m3.4 -0.8h1m5.4 0.2h1m-0.6 0.2h1m1 0h1m7.2 0.4h1m3.2 0h1m5 -0.4h1m0.2 0h1m2.4 -0.4h1m-39.6 1.8h1m4.6 -0.2h1m2.2 0.2h1m1 -0.6h1m0.4 0.4h1m4.4 0.2h1m5 0h1m-0.8 0h1m3.4 0h1m-0.8 -0.2h1m0.4 0h1m5.4 -0.6h1m2.4 0.4h1m16.2 0.4h1m13.4 -0.6h1m-70 1h1m0.8 0h1m1 0.4h1m4.6 -0.2h1m9.6 -0.4h1m2.8 0h1m-0.4 0.6h1m-0.2 0.2h1m1.4 -0.8h1m1.2 0.8h1m7 -0.6h1m1.4 0.2h1m3.2 -0.2h1m-48.6 1.6h1m3.4 0h1m0.6 -0.4h1m1 -0.2h1m2.6 0.2h1m-0.8 -0.4h1m19.8 0.4h1m2 -0.2h1m0 0.2h1m-0.6 -0.2h1m2.6 0.2h1m1 0.4h1m0.8 -0.2h1m3.2 0.2h1m-48.4 0.6h1m-0.8 0.2h1m7.6 -0.4h1m1 0.6h1m6.2 -0.8h1m2.2 0.6h1m13 -0.6h1m3.4 0.8h1m3 -0.8h1m-0.6 0h1m8.8 0h1m13 0.2h1m-69.4 0.8h1m0.6 0.8h1m1.8 0h1m-0.4 -0.2h1m4.6 0h1m29.4 -0.2h1m2 0h1m6.2 0.2h1m-45.2 1.2h1m12.4 0h1m-0.8 -0.2h1m5.4 -0.6h1m0.4 0.8h1m4.6 -0.4h1m-0.4 -0.4h1m14.2 0.4h1m-53.6 0.6h1m23.8 0.4h1m4.4 0.2h1m-0.8 -0.6h1m4.6 0.4h1m2.4 -0.2h1m-35.6 1h1m3.4 0.2h1m16.2 -0.4h1m3.8 0h1m1.6 0.6h1m-0.2 0.2h1m3.4 -0.2h1m5.2 0h1m-44 1h1m-0.2 -0.4h1m1.8 0.2h1m1.2 -0.4h1m1.4 0.4h1m5 -0.4h1m16 0h1m0.4 0h1m1.2 0.4h1m0.4 0h1m2.4 0.4h1m0.2 -0.2h1m7.6 0h1m1.2 0h1m6.2 0.2h1m-57.8 0.2h1m0.8 0.4h1m3.8 -0.4h1m11.4 0.6h1m1.8 0h1m17.2 -0.2h1m0.4 0.2h1m-0.6 -0.2h1m-0.2 0.4h1m-47.8 1h1m2.6 -0.6h1m3.8 0.2h1m0 -0.4h1m15 0.4h1m7.2 0h1m-0.8 0.4h1m-1 -0.2h1m0 -0.4h1m0.2 0h1m2.8 0.4h1m-0.8 0.2h1m2.4 -0.4h1m-0.4 -0.2h1m-40.8 1.2h1m4.6 0h1m-0.4 -0.2h1m1.6 -0.2h1m0.6 0.6h1m0.8 -0.2h1m1.2 -0.4h1m8.6 0.6h1m-0.6 -0.6h1m3.6 0h1m2.6 0.2h1m2 0.6h1m0.2 -0.6h1m37 0.2h1m-76.6 0.8h1m-0.2 0.4h1m2 -0.4h1m11 0.2h1m9.2 0.4h1m7.4 -0.4h1m0.6 -0.4h1m-35.8 1h1m-0.6 0.4h1m2.4 -0.4h1m0.2 0h1m5.8 0.6h1m6.4 -0.4h1m1.2 -0.2h1m-0.8 0.2h1m3 0.2h1m-0.6 -0.2h1m0.2 0.4h1m1.4 -0.4h1m-1 0.2h1m0.6 0.2h1m2.8 0h1m0.4 -0.4h1m5.2 0.2h1m8 0.4h1m-54.4 0.8h1m-0.4 -0.6h1m1.6 0.8h1m2.6 -0.4h1m3.8 0h1m17 0h1m-29.4 0.8h1m9 0h1m-0.8 0.2h1m11.8 0h1m10.2 0.2h1m-0.6 0.2h1m1.2 -0.2h1m5.2 0h1m-45.8 0.4h1m1 0.6h1m19 0h1m12.6 -0.4h1m4.6 0.6h1m-0.4 -0.8h1m-35 1h1m0.4 0h1m2.4 0.4h1m10.8 0h1m8.8 0h1m6 0.2h1m-42.2 1.2h1m29.4 -0.8h1m3.6 0.8h1m10.6 -0.2h1m16.6 -0.6h1m-54.2 1.2h1m6 0.4h1m4.8 0h1m4.4 -0.6h1m9.2 0.4h1m-34 0.8h1m13.6 -0.2h1m6.4 0.6h1m6.8 -0.2h1m2.4 -0.2h1m1.8 0.2h1m1.6 -0.4h1m-42 1.2h1m1.6 0.4h1m-0.2 0.2h1m-0.8 0h1m1.8 -0.8h1m21.4 0.8h1m7.2 -0.6h1m-0.4 0h1m-1 -0.2h1m-40.8 1.8h1m9.4 -0.6h1m15.2 0.4h1m4.6 0.2h1m-36.2 0.6h1m8.6 -0.2h1m25.8 -0.2h1m9 0.4h1m-40.6 0.6h1m-0.6 0.2h1m2.4 1h1m0.6 0.6h1m18 0h1m0 -0.8h1m5.4 0.2h1m8 0.2h1m-19.2 1.4h1m1.8 -0.8h1m18 0.6h1m-0.8 -0.2h1m16 0.2h1m-63.8 0.4h1m1.8 0.8h1m25 -0.4h1m-4.2 1.2h1m8.4 0.6h1m17.4 0.4h1m6.4 -0.4h1m-35.4 2.6h1m1.8 -0.8h1m11.4 0.8h1m0.8 -0.6h1m-43.8 1.6h1m20.2 0h1m-24.6 1h1m25.4 -0.6h1m0.2 0.2h1m2.8 0.4h1m6 -0.6h1m0.6 0h1m-1 0.6h1m-0.4 -0.4h1m0 -0.4h1m-0.2 0h1m1 0.8h1m0 0h1m-0.2 -0.6h1m15.6 0.4h1m-62.8 0.8h1m0 -0.2h1m-0.4 0h1m15.6 -0.2h1m2.4 0.2h1m5.4 0.4h1m3 0h1m14.6 -0.2h1m0 -0.2h1m24.8 0h1m-78.2 1.2h1m2 0h1m1.6 -0.2h1m1.8 -0.2h1m19.6 0.4h1m-1 0.2h1m1.6 -0.6h1m-0.6 0h1m-0.4 0.6h1m-0.4 0.2h1m1.4 -0.6h1m-0.8 -0.2h1m1.6 0.8h1m-0.6 -0.6h1m-1 -0.2h1m-0.8 0.2h1m0.8 0.6h1m-0.2 -0.8h1m-0.6 0.8h1m0.2 -0.6h1m0 0.2h1m0 -0.2h1m1.6 0.2h1m5.4 -0.2h1m5 -0.2h1m-65.8 1.2h1m1.6 0.6h1m-0.6 -0.2h1m-0.8 -0.6h1m-1 0.8h1m-1 -0.2h1m1.8 0.2h1m1.2 -0.8h1m-1 0.2h1m-0.8 0.6h1m0.2 -0.4h1m-0.2 0h1m-0.8 -0.2h1m0.6 0.4h1m10 -0.6h1m6.8 0h1m0.2 0.4h1m2.8 0.4h1m0.6 -0.8h1m-0.4 0.4h1m0 0h1m-0.8 0h1m-0.6 0.4h1m-0.2 0h1m-0.6 -0.4h1m-1 0h1m-0.2 0.2h1m-0.6 0.2h1m0.4 -0.8h1m-0.6 0.4h1m1.2 0h1m2.2 0h1m0.4 0.4h1m-0.2 -0.6h1m3.6 0.6h1m1.4 -0.2h1m1 -0.6h1m-59.2 1.2h1m1.8 0.2h1m-0.6 0.2h1m-0.8 0.2h1m-0.6 0h1m-0.8 -0.4h1m-0.4 0h1m0 0.2h1m0 -0.2h1m0 0h1m-0.6 -0.2h1m-1 0.6h1m0.6 -0.2h1m0 0.2h1m2.6 -0.4h1m4.6 -0.4h1m-0.4 0.2h1m5.4 0.2h1m4.2 0.4h1m-0.2 -0.4h1m3 0.2h1m-0.8 -0.2h1m-1 0h1m-0.4 0.4h1m-0.8 -0.2h1m-0.8 0.2h1m-0.8 -0.8h1m0.4 0h1m0.4 0.2h1m-0.8 0.2h1m2.4 0h1m2.4 0h1m2.8 -0.2h1m0.2 0.4h1m0 -0.4h1m-0.4 0.4h1m-0.2 0h1m10.2 -0.6h1m-70.8 1.2h1m-0.8 0h1m3.4 0h1m-0.2 0.2h1m-0.4 0.2h1m-0.8 0.2h1m-0.6 0h1m0.4 -0.2h1m-0.2 -0.2h1m-1 0.2h1m-0.8 -0.4h1m-0.8 0.4h1m-1 -0.6h1m-0.2 0.8h1m-0.8 -0.4h1m-0.8 0.2h1m-1 -0.4h1m0 -0.2h1m-1 0h1m-0.6 0h1m-0.6 0.8h1m-0.8 -0.6h1m-0.8 0.6h1m-1 -0.8h1m0.4 0.4h1m-0.8 0.2h1m-0.6 -0.6h1m12.8 0.4h1m-0.2 0.2h1m-0.4 -0.2h1m3 0h1m1.2 0.4h1m0 -0.4h1m-1 0.4h1m0.2 -0.6h1m-0.4 0.6h1m-1 -0.2h1m-0.8 0h1m0.2 -0.2h1m-0.4 0.4h1m-1 -0.6h1m0.2 0h1m-0.6 0.6h1m-0.4 -0.2h1m-0.8 -0.2h1m-1 0h1m-0.8 0h1m-1 -0.2h1m-0.4 0.6h1m-1 0h1m0 -0.8h1m-0.6 0h1m-1 0h1m1.2 0.8h1m-0.6 -0.8h1m0 0h1m-0.4 0h1m-0.6 0.8h1m3.2 -0.2h1m-0.2 0.2h1m0.8 -0.6h1m-0.6 0.2h1m1.8 0.2h1m8.2 0.2h1m-68.4 0.6h1m1.6 -0.4h1m-0.2 0h1m-0.4 0.2h1m-0.4 0.4h1m-0.8 0h1m0.2 -0.6h1m-1 0.2h1m-0.4 0.6h1m-0.8 0h1m-1 -0.6h1m-0.8 0h1m-0.4 -0.2h1m-1 0.2h1m-0.6 -0.2h1m0.6 0h1m-0.4 0h1m-0.8 0.4h1m-1 0.4h1m-0.6 -0.6h1m0.4 0.6h1m-0.4 -0.2h1m-0.4 0h1m-0.4 0h1m-0.6 -0.6h1m11.8 0.8h1m-0.2 -0.2h1m-0.8 -0.4h1m0.8 0.2h1m0.2 -0.4h1m-0.2 0h1m-1 0.8h1m0.2 -0.2h1m-0.4 -0.2h1m-0.6 0h1m-0.6 0.4h1m-1 -0.8h1m-0.6 0.4h1m-0.8 -0.4h1m0.2 0.4h1m-0.4 0h1m-0.4 -0.4h1m-0.8 0.2h1m-0.4 0.2h1m-0.2 0h1m-0.8 -0.2h1m-0.4 -0.2h1m-0.6 0.2h1m-0.8 0.2h1m-0.4 -0.2h1m-0.8 -0.2h1m0.4 0.6h1m-0.4 -0.2h1m-1 0.4h1m-0.8 0h1m1.6 -0.4h1m-0.2 -0.4h1m0.6 0h1m0.4 0.8h1m-0.2 -0.4h1m-0.2 0.2h1m-0.8 -0.2h1m-0.4 0.2h1m-0.2 -0.2h1m-0.2 -0.4h1m0 0.6h1m0 -0.6h1m0.2 0.2h1m-59 1.2h1m0.6 -0.2h1m0.8 0.4h1m-0.8 -0.4h1m-0.6 0.2h1m-0.8 0.4h1m-1 -0.4h1m-0.4 0.2h1m-0.8 0.2h1m-0.4 0h1m-0.6 -0.4h1m0 -0.2h1m-1 0.2h1m-1 0.4h1m-0.6 0h1m-1 -0.6h1m-0.8 0.6h1m-1 0h1m-0.6 -0.6h1m-0.6 -0.2h1m-0.8 0h1m-1 0.8h1m-0.2 -0.4h1m-0.6 -0.2h1m-0.4 0.4h1m-0.6 -0.6h1m-0.8 0.4h1m-0.8 0.4h1m-1 -0.2h1m-0.8 -0.2h1m-1 0.2h1m-0.4 -0.4h1m1.4 0h1m9 0h1m0.6 0.6h1m-0.4 -0.8h1m-0.4 0.2h1m-0.8 -0.2h1m0 0.8h1m1 -0.2h1m-0.4 -0.2h1m0.6 0.2h1m-0.8 0h1m-0.8 0h1m-0.6 0h1m0.2 -0.2h1m-1 0h1m0.4 -0.4h1m-0.8 0.2h1m-0.4 0.2h1m-0.8 0.2h1m-0.4 0h1m-0.6 0h1m0 -0.2h1m-0.2 0.2h1m0.2 -0.6h1m-0.6 0.6h1m-0.8 -0.4h1m-1 0.6h1m-0.4 -0.2h1m-0.4 -0.6h1m-0.8 0.4h1m-0.2 -0.2h1m-1 0h1m-0.6 -0.2h1m-0.8 0.2h1m-0.4 0h1m-1 0.2h1m-0.2 0.2h1m-1 -0.6h1m-0.6 0.6h1m1.4 -0.6h1m-0.6 0.4h1m-1 -0.4h1m-0.2 0.4h1m-1 0h1m-0.6 0.4h1m-0.4 -0.2h1m-0.6 0.2h1m-0.8 -0.2h1m-0.4 -0.2h1m2.2 -0.4h1m0.4 0h1m6.8 0.2h1m-63.2 1h1m-0.4 0.2h1m-0.4 0h1m-1 -0.2h1m0 -0.2h1m-0.2 0h1m-0.8 0.4h1m-0.6 -0.4h1m-1 0h1m-0.8 0.8h1m0.2 -0.2h1m-0.8 -0.4h1m-1 0h1m-0.8 0.6h1m-0.4 -0.2h1m-0.8 0.2h1m-1 -0.6h1m-1 -0.2h1m-0.8 0.8h1m-0.6 -0.4h1m-0.2 -0.4h1m-0.8 0h1m-0.8 0.8h1m-1 -0.4h1m-0.2 0.2h1m-1 0.2h1m-0.4 -0.8h1m2.6 0.2h1m0.2 0.6h1m5.2 -0.6h1m2.2 0.4h1m2.4 -0.4h1m-0.8 0.6h1m-0.6 0h1m-0.2 -0.8h1m-0.6 0.2h1m0.8 0.4h1m0 -0.2h1m-0.8 0.2h1m-0.4 -0.6h1m-0.4 0.8h1m-0.8 -0.4h1m-1 0h1m0.8 0.2h1m-0.6 -0.6h1m-0.4 0.8h1m-0.8 -0.8h1m-0.2 0.6h1m-0.4 -0.4h1m-0.8 0.6h1m-0.8 -0.8h1m0 0h1m-0.8 0.8h1m-1 -0.4h1m-0.8 0h1m0 0h1m-0.4 0.4h1m-1 -0.8h1m-0.8 0.8h1m-1 -0.2h1m0.6 0.2h1m-0.8 -0.2h1m-0.2 0h1m-0.8 0.2h1m-1 -0.6h1m-0.2 0.4h1m-1 -0.6h1m0 0.4h1m-0.2 -0.2h1m-0.2 0.6h1m0 -0.4h1m10.4 0.2h1m-59.6 0.8h1m0.2 0h1m-0.6 -0.4h1m-0.4 0.2h1m-0.6 0.2h1m0.2 0h1m-0.6 0h1m-1 0h1m-0.8 0.4h1m-0.8 -0.6h1m-1 0.6h1m-0.8 -0.2h1m-0.8 -0.2h1m-0.6 0.2h1m-0.2 -0.6h1m0.2 0.8h1m-0.8 -0.4h1m-0.8 -0.2h1m0.8 0.6h1m0.8 -0.4h1m6.4 0.2h1m2.8 -0.2h1m0.4 0h1m0.2 0h1m-0.6 0.2h1m0.2 0.2h1m-0.2 -0.2h1m0 -0.4h1m-0.2 0.4h1m-0.6 -0.6h1m1.4 0.2h1m-1 0h1m-0.6 0h1m-0.2 0.6h1m-0.4 -0.4h1m-1 -0.2h1m-0.8 0h1m-0.8 0.2h1m-0.8 0h1m-0.8 0.2h1m-1 -0.6h1m-0.8 0.4h1m-0.4 0h1m-1 0.2h1m-1 0.2h1m-0.8 -0.8h1m-0.4 0.2h1m-0.8 -0.2h1m-0.8 0.4h1m0.2 -0.4h1m-0.6 0.8h1m-0.4 -0.6h1m-1 -0.2h1m0.6 0.4h1m-1 0h1m0.8 0.2h1m0.2 -0.6h1m-1 0h1m1.2 0.2h1m-0.6 0.6h1m-0.6 -0.4h1m-0.4 -0.4h1m-0.4 0.2h1m0 0.6h1m-0.2 -0.6h1m1.2 -0.2h1m-1 0.4h1m1 0.2h1m-0.6 -0.4h1m-0.4 0.2h1m1.8 -0.4h1m-59.2 1h1m0.6 0.4h1m-0.2 -0.4h1m0 0.8h1m-0.2 0h1m-0.8 -0.6h1m-0.4 0h1m-1 0.6h1m-0.6 -0.4h1m-0.8 -0.4h1m-0.4 0.4h1m-0.2 0.2h1m-0.6 -0.6h1m-0.8 0h1m-0.4 0.6h1m-0.4 -0.2h1m-0.6 0.2h1m-0.4 -0.6h1m1.2 0.8h1m1.8 -0.6h1m4.2 0h1m-1 0h1m5.2 -0.2h1m1.2 0.2h1m1.6 0.4h1m1.4 0h1m0.8 0h1m-0.6 -0.6h1m0.2 0.8h1m-0.6 -0.2h1m-0.8 0.2h1m-0.4 0h1m-0.8 -0.8h1m0.2 0.6h1m-0.8 0.2h1m0.2 -0.6h1m-0.6 0.4h1m-0.8 -0.6h1m-0.8 0.8h1m-0.4 0h1m-0.8 -0.6h1m-0.4 -0.2h1m1.4 0.8h1m-0.2 -0.4h1m0 0h1m-0.6 -0.2h1m0.4 0.2h1m-0.6 -0.4h1m2 0.6h1m0 0.2h1m2 0h1m-0.8 -0.8h1m6.2 0.8h1m-66.2 0.8h1m3.2 0h1m-1 0h1m-0.6 0.2h1m-0.6 -0.2h1m-0.6 -0.6h1m-1 0.2h1m-0.2 0h1m0 0.6h1m2.8 -0.2h1m0.8 -0.4h1m11 0.2h1m2.8 -0.2h1m-0.6 -0.2h1m-0.4 0.4h1m0 0.2h1m-0.8 -0.2h1m1.2 0.4h1m0.4 -0.2h1m0 0h1m-0.6 -0.4h1m0.8 0.6h1m-1 -0.2h1m1.2 -0.2h1m-0.6 0h1m0.2 0h1m0 -0.2h1m-0.4 0h1m-1 -0.2h1m0 0.6h1m0.8 -0.6h1m-0.4 0.2h1m-0.4 0.6h1m0.2 -0.2h1m0.8 -0.4h1m0.2 0h1m-0.6 0.6h1m-1 -0.8h1m-0.2 0h1m0.4 0.4h1m-0.2 -0.2h1m-0.2 0.4h1m-55.6 0.8h1m0 0.2h1m1.2 -0.2h1m1.2 -0.2h1m16.8 0.2h1m-0.4 -0.4h1m-0.2 0.8h1m5.2 0h1m4.4 -0.2h1m-0.6 -0.6h1m1.8 0.6h1m1.8 0.2h1m-0.8 -0.6h1m6.2 0h1m1.4 0h1m6.4 0.4h1m1.4 -0.2h1m-58.8 0.8h1m0 0.2h1m-0.6 0h1m15.4 0h1m9.4 -0.4h1m10.2 0h1m0.2 0.8h1m2.2 -0.8h1m3 0h1m-0.4 0.2h1m2.8 -0.2h1m-54 1.8h1m26.4 -0.6h1m7.8 -0.2h1m1.6 0.2h1m0 0.4h1m6.4 -0.2h1m-47.6 0.8h1m0.6 -0.2h1m3.8 0.2h1m20.8 0.4h1m10.2 0h1m0.8 -0.6h1m-15 1.6h1m10.2 -0.2h1m-0.2 -0.4h1m-9.2 1.6h1m4.4 -0.2h1" stroke="#404040" stroke-opacity="1.0" stroke-width="1" fill="none"/>
<text x="45.20" y="280.00" font-size="5.6" text-anchor="middle" fill="#6e6e6e">10<tspan font-size="3.92" dy="-2.24">0</tspan></text>
<text x="70.45" y="280.00" font-size="5.6" text-anchor="middle" fill="#6e6e6e">10<tspan font-size="3.92" dy="-2.24">1</tspan></text>
<text x="95.70" y="280.00" font-size="5.6" text-anchor="middle" fill="#6e6e6e">10<tspan font-size="3.92" dy="-2.24">2</tspan></text>
<text x="120.95" y="280.00" font-size="5.6" text-anchor="middle" fill="#6e6e6e">10<tspan font-size="3.92" dy="-2.24">3</tspan></text>
<text x="146.20" y="280.00" font-size="5.6" text-anchor="middle" fill="#6e6e6e">10<tspan font-size="3.92" dy="-2.24">4</tspan></text>
<text x="40.20" y="269.40" font-size="5.6" text-anchor="middle" fill="#6e6e6e" transform="rotate(-90 40.20 269.40)">10<tspan font-size="3.92" dy="-2.24">0</tspan></text>
<text x="40.20" y="244.35" font-size="5.6" text-anchor="middle" fill="#6e6e6e" transform="rotate(-90 40.20 244.35)">10<tspan font-size="3.92" dy="-2.24">1</tspan></text>
<text x="40.20" y="219.30" font-size="5.6" text-anchor="middle" fill="#6e6e6e" transform="rotate(-90 40.20 219.30)">10<tspan font-size="3.92" dy="-2.24">2</tspan></text>
<text x="40.20" y="194.25" font-size="5.6" text-anchor="middle" fill="#6e6e6e" transform="rotate(-90 40.20 194.25)">10<tspan font-size="3.92" dy="-2.24">3</tspan></text>
<text x="40.20" y="169.20" font-size="5.6" text-anchor="middle" fill="#6e6e6e" transform="rotate(-90 40.20 169.20)">10<tspan font-size="3.92" dy="-2.24">4</tspan></text>
<g stroke="#959595" stroke-width="0.9" fill="none">
<path d="M172.30 169.20V269.40H273.30"/>
<path d="M169.70 269.40h2.60M170.90 261.86h1.40M170.90 257.45h1.40M170.90 254.32h1.40M170.90 251.89h1.40M170.90 249.91h1.40M170.90 248.23h1.40M170.90 246.78h1.40M170.90 245.50h1.40M169.70 244.35h2.60M170.90 236.81h1.40M170.90 232.40h1.40M170.90 229.27h1.40M170.90 226.84h1.40M170.90 224.86h1.40M170.90 223.18h1.40M170.90 221.73h1.40M170.90 220.45h1.40M169.70 219.30h2.60M170.90 211.76h1.40M170.90 207.35h1.40M170.90 204.22h1.40M170.90 201.79h1.40M170.90 199.81h1.40M170.90 198.13h1.40M170.90 196.68h1.40M170.90 195.40h1.40M169.70 194.25h2.60M170.90 186.71h1.40M170.90 182.30h1.40M170.90 179.17h1.40M170.90 176.74h1.40M170.90 174.76h1.40M170.90 173.08h1.40M170.90 171.63h1.40M170.90 170.35h1.40M169.70 169.20h2.6M172.30 269.40v2.60M179.90 269.40v1.40M184.35 269.40v1.40M187.50 269.40v1.40M189.95 269.40v1.40M191.95 269.40v1.40M193.64 269.40v1.40M195.10 269.40v1.40M196.39 269.40v1.40M197.55 269.40v2.60M205.15 269.40v1.40M209.60 269.40v1.40M212.75 269.40v1.40M215.20 269.40v1.40M217.20 269.40v1.40M218.89 269.40v1.40M220.35 269.40v1.40M221.64 269.40v1.40M222.80 269.40v2.60M230.40 269.40v1.40M234.85 269.40v1.40M238.00 269.40v1.40M240.45 269.40v1.40M242.45 269.40v1.40M244.14 269.40v1.40M245.60 269.40v1.40M246.89 269.40v1.40M248.05 269.40v2.60M255.65 269.40v1.40M260.10 269.40v1.40M263.25 269.40v1.40M265.70 269.40v1.40M267.70 269.40v1.40M269.39 269.40v1.40M270.85 269.40v1.40M272.14 269.40v1.40M273.30 269.40v2.60" stroke-width="0.6"/>
</g>
<path d="M197.40 169.20V269.40M172.30 247.40H273.30" stroke="#8c8c8c" stroke-width="0.9" fill="none"/>
<path d="M208.8 218.8h1m15.8 0.2h1m-7.2 0.8h1m0.2 0h1m1 0.6h1m-42.2 0.6h1m26.6 0h1m-11.4 0.8h1m11.2 0h1m9.4 0.4h1m-0.6 -0.2h1m-0.6 0.4h1m-0.6 -0.4h1m7.8 -0.4h1m-27 1.6h1m-0.2 0.2h1m15.2 -0.8h1m1.8 0.8h1m-47.4 0.2h1m0.8 0h1m-1 0.6h1m4.4 -0.4h1m24.2 0.6h1m3.6 -0.4h1m9 0.4h1m-1 -0.8h1m-0.6 0.8h1m4.6 -0.2h1m5.4 -0.4h1m-60.8 1.6h1m3.2 -0.4h1m2 0.2h1m-1 -0.6h1m1 0.2h1m0 0h1m15.2 0.6h1m1.6 -0.8h1m0.6 0.8h1m5 -0.8h1m-0.4 0.4h1m1.8 0h1m1.2 0h1m4.2 0h1m-50.8 1.2h1m2 0h1m1 0h1m0.2 -0.2h1m-1 -0.4h1m-0.2 0h1m1 0.8h1m1.8 -0.2h1m1 0h1m13.4 0h1m-0.4 -0.4h1m-0.6 0h1m0.8 0h1m-0.8 0.4h1m2 -0.4h1m-0.6 0.2h1m-0.4 -0.2h1m0.8 0h1m6.4 0.6h1m2.2 0h1m-1 0h1m-45.4 0.4h1m1.2 0.4h1m0.4 0.2h1m0.2 -0.2h1m2 0.2h1m10.6 -0.4h1m2.8 0.2h1m2.8 -0.6h1m-0.2 0.2h1m-0.2 -0.2h1m6.8 0.4h1m1 -0.2h1m0 0.4h1m3 -0.4h1m11.2 0.4h1m8.4 0h1m-64.8 1h1m2.2 0.2h1m-0.6 -0.4h1m-0.6 -0.2h1m-0.4 0.6h1m2.2 -0.2h1m0.6 -0.6h1m12.2 0.8h1m-0.6 -0.4h1m1.8 0h1m1 0.2h1m-0.8 -0.2h1m0.4 0.4h1m-0.8 -0.4h1m2.2 0.2h1m-0.8 0.2h1m-0.4 0h1m0.2 -0.6h1m-0.2 0.6h1m2 -0.4h1m-0.8 -0.4h1m2.6 0h1m2 0h1m0.4 0.8h1m-47.2 0.2h1m3.2 0.6h1m-0.6 -0.4h1m-0.8 0.6h1m0.6 0h1m5.2 -0.2h1m0.2 -0.2h1m0 0h1m-0.8 -0.2h1m7.6 0.4h1m0.2 0.2h1m2.6 0h1m-1 -0.8h1m0.6 0.2h1m-0.8 0h1m1 0.6h1m-0.6 0h1m-0.4 -0.6h1m-0.4 0.2h1m0.8 0.4h1m1 -0.8h1m-0.2 0.2h1m0.6 0.4h1m-0.6 0h1m-0.4 -0.6h1m0.4 0.8h1m-0.2 0h1m0.2 -0.6h1m1.6 0h1m2.6 0.4h1m3.4 -0.4h1m-53.8 1.6h1m-0.2 -0.8h1m1 0.6h1m0.6 -0.4h1m-0.6 0.2h1m-1 0.4h1m-0.8 -0.6h1m0.2 0h1m-0.8 -0.2h1m-0.2 0.6h1m1 0h1m2.4 0.2h1m2.8 -0.2h1m9.6 -0.6h1m0.6 0.4h1m0.6 0.2h1m-0.4 -0.4h1m-1 -0.2h1m0.8 0.4h1m-0.8 -0.2h1m-0.8 0.6h1m-0.4 -0.6h1m1.2 -0.2h1m0.2 0h1m-0.4 0h1m0.4 0.2h1m3.8 0.6h1m0.8 -0.2h1m1.4 -0.4h1m5.8 -0.2h1m-59.8 1.8h1m0 -0.2h1m0.6 0.2h1m-1 -0.2h1m1 -0.2h1m-0.6 0.2h1m-0.8 0.2h1m0 -0.8h1m1.8 0.8h1m0.4 -0.8h1m-0.4 0h1m-0.2 0.4h1m-0.8 0h1m-0.8 -0.2h1m1.2 -0.2h1m-0.2 0.2h1m0.6 0.6h1m3.8 -0.8h1m0.4 0.6h1m0 0h1m2.4 -0.4h1m-1 0.4h1m2.6 -0.6h1m-0.4 0.2h1m3.2 0.6h1m2.8 -0.8h1m-0.6 0h1m0.2 0.4h1m-1 0.2h1m-0.6 0.2h1m2.6 -0.8h1m-0.8 0.8h1m4.2 -0.4h1m3.4 0.2h1m-1 0h1m0.4 0.2h1m0 -0.4h1m-0.2 -0.4h1m-0.4 0.4h1m3.2 -0.4h1m-67.4 1.8h1m2.2 -0.2h1m-0.6 -0.6h1m1.2 0.4h1m-1 0.2h1m1.4 -0.6h1m-0.4 0.2h1m-0.6 -0.2h1m0.4 0.6h1m0.8 -0.4h1m0.6 0.6h1m4 -0.4h1m3 -0.2h1m0.6 0.2h1m5.4 -0.2h1m-1 0.2h1m0.8 0.2h1m0.2 -0.4h1m-0.4 0.6h1m-0.4 -0.8h1m0.8 0.4h1m-0.8 -0.2h1m0 0.4h1m-0.4 0.2h1m-0.2 0h1m-1 -0.8h1m1 0h1m-1 0.4h1m0.4 -0.2h1m-0.6 0.6h1m-0.4 -0.2h1m-0.4 0.2h1m-1 -0.8h1m0.2 0h1m0.2 0.2h1m0.8 0.6h1m1 -0.8h1m0 0.8h1m2.6 -0.8h1m-0.2 0.2h1m1 0.4h1m3.6 0.2h1m-0.2 -0.8h1m-64.2 1.8h1m4.6 -0.2h1m-0.4 -0.6h1m0 0h1m-1 0.2h1m0 0.2h1m-0.8 0.2h1m-0.6 -0.6h1m-1 0.6h1m-0.8 0.2h1m0.2 -0.6h1m-0.6 -0.2h1m-1 0.2h1m-0.6 0.4h1m-0.8 0.2h1m-0.2 -0.4h1m-1 -0.4h1m0 0.6h1m-0.4 -0.6h1m-0.2 0.8h1m3 -0.6h1m6.8 0.2h1m0.2 -0.4h1m0 0.4h1m-0.4 0.2h1m-1 -0.2h1m-0.8 -0.4h1m3.4 0.2h1m-0.8 0.6h1m0.2 -0.2h1m-1 -0.6h1m0.2 0.4h1m-1 -0.2h1m-1 0.6h1m-0.4 0h1m2.2 0h1m-1 -0.8h1m-0.8 0h1m-0.8 0.4h1m-0.8 -0.4h1m0 0.4h1m-0.2 0.4h1m-1 -0.8h1m1.6 0.2h1m2 -0.2h1m4.8 0.6h1m2 -0.6h1m-0.8 0.4h1m-57 0.8h1m1.6 0.4h1m-0.8 -0.4h1m0.4 0.6h1m0.2 -0.4h1m-0.8 0.2h1m1.2 0.2h1m0 -0.8h1m5.6 0.8h1m7.8 0h1m5.4 0h1m-0.8 -0.4h1m-0.4 -0.2h1m-1 0.2h1m-0.2 0h1m1 -0.2h1m-0.8 0.6h1m-0.2 -0.2h1m-0.4 0.2h1m0.2 -0.6h1m0.6 -0.2h1m-1 0.2h1m-0.6 0.6h1m-0.4 -0.6h1m-0.6 0.6h1m0 -0.2h1m-0.6 -0.6h1m-0.2 0.8h1m-0.4 0h1m-0.2 -0.2h1m2.8 -0.2h1m-0.8 0.4h1m4 0h1m5.4 -0.4h1m-0.6 -0.4h1m-58 1.4h1m0.6 -0.4h1m-0.4 0.4h1m-0.8 0h1m-0.2 -0.2h1m-0.6 0.6h1m-0.8 -0.4h1m-0.8 0.4h1m0.2 -0.4h1m-0.4 0.2h1m-0.6 -0.4h1m-0.8 0h1m0.6 0h1m-0.6 0.2h1m-0.8 -0.4h1m0.8 0h1m-1 0.8h1m-0.8 -0.8h1m2.6 0.4h1m2.6 -0.2h1m1 -0.2h1m8 0.8h1m2.2 -0.4h1m3 -0.2h1m0 0.4h1m0.8 0.2h1m0.4 0h1m-0.4 0h1m-0.4 -0.8h1m-0.8 0.8h1m1.6 -0.6h1m3.6 0.6h1m0 0h1m1.2 -0.2h1m2.4 0.2h1m-56 0.4h1m1 0.4h1m-0.8 -0.6h1m-0.6 0h1m0.6 0.6h1m-0.8 -0.4h1m1.4 -0.2h1m2 0.6h1m3.2 -0.4h1m3.2 0.4h1m-1 -0.4h1m3 0.2h1m2.8 -0.2h1m0.8 -0.2h1m2.4 0h1m0.4 0.2h1m-0.4 0.4h1m-0.8 0.2h1m-0.4 -0.8h1m0 0.6h1m-0.2 -0.4h1m0.8 -0.2h1m-0.6 0.8h1m2 -0.6h1m-0.8 0h1m-0.2 0.2h1m0.8 0.2h1m-0.8 0.2h1m1 -0.8h1m-0.8 0.2h1m1.4 -0.2h1m0.4 0h1m-0.8 0.8h1m1 0h1m3.6 -0.8h1m-56.6 1.2h1m0.4 0.4h1m-0.6 -0.6h1m0 0.8h1m2 0h1m1 -0.6h1m3 -0.2h1m2.2 0.6h1m9.2 -0.2h1m-1 0h1m5.2 0h1m-0.8 0h1m-0.4 0h1m1.2 0.2h1m-0.6 0.2h1m-0.8 -0.8h1m-0.6 0.4h1m0.4 0h1m1 0.4h1m0.2 -0.8h1m-0.8 0h1m1.2 0.2h1m-0.8 0.4h1m0.2 -0.4h1m0.4 0.6h1m-0.4 -0.6h1m2 0.2h1m-0.4 0.2h1m4.2 0h1m-58.2 0.6h1m1.6 0.6h1m-1 -0.4h1m-1 -0.4h1m-0.4 0.6h1m-0.8 -0.2h1m-0.4 -0.2h1m0.4 0h1m0.2 0.2h1m0 0h1m-0.8 0h1m-1 -0.2h1m-0.4 0.4h1m3.8 -0.4h1m3.4 0h1m7.2 0h1m4.2 0.6h1m0.4 0h1m-1 -0.8h1m-0.4 0h1m0.4 0.2h1m-0.8 0.2h1m2.6 0.2h1m9.6 -0.4h1m1 -0.2h1m-1 0.2h1m-0.2 -0.2h1m-52.8 1.6h1m3.6 -0.2h1m-0.6 -0.2h1m2.6 0.4h1m-0.8 -0.6h1m-1 0.8h1m-1 -0.6h1m-0.4 -0.2h1m-0.2 0.4h1m0.4 0h1m11.8 -0.2h1m3.2 0.2h1m0.6 0h1m12.6 0.4h1m-0.6 0h1m0.6 -0.8h1m1 0h1m-0.8 0.2h1m4.8 0h1m-52.6 1.4h1m2.4 -0.2h1m-1 -0.4h1m-0.6 0.8h1m-0.8 -0.8h1m2 0.6h1m3.2 -0.2h1m10 -0.4h1m-0.8 0.2h1m-0.2 -0.2h1m7.2 0.8h1m4.8 -0.2h1m2 -0.6h1m-0.8 0.4h1m-0.4 -0.4h1m-0.8 0.6h1m-39.6 0.4h1m2 0.8h1m1.4 -0.6h1m2.6 0h1m3.6 0.2h1m1.6 0h1m1.2 0.2h1m1.6 -0.6h1m4 0.6h1m0.4 -0.6h1m-0.2 0.6h1m10.6 -0.2h1m-40.6 0.6h1m-0.2 0.2h1m0.6 -0.2h1m-1 0h1m1.4 0.8h1m-0.2 -0.8h1m12.8 0.4h1m4.6 -0.4h1m-1 0.2h1m3.8 0h1m6 0h1m1 0.4h1m2 -0.2h1m0.8 -0.4h1m3.4 0.4h1m-46.6 1.2h1m8.8 -0.2h1m2.8 -0.2h1m0.2 0.6h1m2.8 -0.2h1m3 0h1m1.2 -0.2h1m3.4 0.4h1m3 -0.2h1m1.2 0h1m-0.4 -0.4h1m9.2 0.4h1m4.4 -0.6h1m-48.8 1h1m6 0.8h1m5.6 -0.6h1m11.8 0h1m0.8 0h1m-0.4 -0.2h1m2.2 0.2h1m-0.2 0.2h1m-0.8 0h1m-0.8 0.4h1m-45.6 0.6h1m0.8 -0.2h1m8.8 0h1m-0.2 -0.2h1m12.2 0h1m3.4 0.6h1m-0.4 0h1m0.2 0.2h1m2.6 -0.2h1m12 -0.4h1m-0.4 0h1m0.8 0h1m4 0.2h1m-0.4 -0.2h1m3.6 0.6h1m-66.6 0.6h1m3.4 -0.4h1m3.6 0.8h1m-0.4 -0.4h1m2.4 -0.4h1m16.2 0.4h1m9 -0.4h1m0 0.8h1m0 -0.4h1m0.2 -0.2h1m-0.6 0.6h1m6.4 0h1m0.8 -0.4h1m5.6 -0.4h1m-53.6 1.4h1m7.2 0h1m21.8 0.4h1m2 -0.4h1m-1 0.2h1m1.2 -0.4h1m1.2 0.4h1m1.6 -0.2h1m1.2 0h1m2.8 0.2h1m3.4 0h1m-49.2 0.8h1m-0.8 0.2h1m4.8 0.2h1m15.2 -0.4h1m0.6 0.2h1m0.6 -0.2h1m3.4 0h1m17.6 0.4h1m-52.4 0.8h1m1.4 0h1m0.8 0.2h1m-0.2 0h1m-0.2 -0.4h1m17.4 0h1m5.2 0h1m-0.2 0.2h1m5.6 0.2h1m-0.4 -0.4h1m8.6 0h1m1 -0.2h1m-53.8 1.2h1m10 0.4h1m18.4 -0.6h1m-0.8 0.4h1m7.4 -0.6h1m0.2 0.8h1m-0.2 -0.2h1m6 -0.4h1m7.6 -0.2h1m-57.6 1.6h1m0.2 -0.4h1m3 0.2h1m22 0.4h1m-0.4 -0.4h1m5.4 -0.4h1m-0.8 0.8h1m1.8 -0.4h1m1.4 -0.2h1m-0.6 0.2h1m2.2 0.2h1m4.6 0.2h1m3 -0.8h1m-53 1.2h1m0 -0.2h1m1 0.2h1m-0.8 0.6h1m0.4 0h1m0 -0.8h1m-0.4 0.8h1m-1 0h1m2.8 -0.6h1m-0.6 0.6h1m-0.2 -0.6h1m1 0.6h1m4.4 -0.2h1m1 -0.2h1m7.8 -0.2h1m3.4 0.4h1m-0.4 -0.4h1m-0.4 0h1m0 0h1m-0.6 0.4h1m-0.8 -0.2h1m-1 -0.4h1m0.2 0.6h1m-0.8 0h1m6 0h1m1.6 0h1m1.2 -0.2h1m-49.2 0.6h1m0.4 0h1m-0.4 0.8h1m-1 -0.8h1m-0.4 0.4h1m0.2 -0.2h1m-1 0.2h1m-0.6 0.4h1m-0.6 -0.4h1m-1 0.4h1m0.4 -0.6h1m1.4 0.4h1m0.4 -0.2h1m3.2 0h1m5.6 0.4h1m1 -0.4h1m1.6 0.4h1m3.2 -0.8h1m-0.8 0.8h1m1.6 -0.6h1m0.6 0.6h1m0.2 -0.8h1m0.2 0.2h1m-0.4 -0.2h1m-1 0.8h1m-1 -0.6h1m1 0.2h1m0.8 -0.2h1m0.2 0.4h1m1.8 -0.4h1m4 -0.2h1m3.6 0.2h1m-59 1.2h1m-0.6 0h1m-0.2 -0.4h1m3.6 0.8h1m-0.8 -0.4h1m1.4 0.4h1m-0.8 0h1m-0.6 -0.8h1m2 0.4h1m-0.2 0.4h1m12.4 -0.6h1m0.2 0.2h1m6.6 0h1m-0.4 0.4h1m-0.8 -0.2h1m-0.2 -0.4h1m-0.8 -0.2h1m-0.2 0.8h1m-0.8 -0.2h1m-0.6 0h1m-0.8 0h1m1.6 -0.2h1m0 0.4h1m0 -0.8h1m0.4 0.4h1m-0.6 -0.4h1m0.4 0.2h1m-0.8 0.4h1m-0.4 -0.6h1m0.8 0.4h1m-50.6 1.2h1m0.4 0.2h1m-0.2 -0.4h1m0.2 0.4h1m-0.4 -0.2h1m0 -0.2h1m-1 -0.2h1m-0.8 -0.2h1m-0.6 0h1m0.8 0h1m-0.4 0.2h1m-1 0.2h1m-0.8 -0.2h1m0.2 0h1m-0.8 -0.2h1m0.8 0.2h1m-0.4 0.2h1m-0.6 -0.2h1m-0.6 0.4h1m0.6 -0.6h1m1 0.8h1m1.6 -0.8h1m13 0.4h1m-0.2 0.4h1m-0.4 -0.6h1m0.8 -0.2h1m1 0.2h1m-0.2 0.2h1m0 -0.4h1m-0.6 0.2h1m-1 0.4h1m1.2 0.2h1m-0.6 -0.2h1m-0.6 0.2h1m-0.6 -0.4h1m-0.6 -0.2h1m-0.4 0.2h1m4.6 -0.2h1m2 -0.2h1m2.8 0.2h1m0.4 0.2h1m-58.6 0.6h1m0 0h1m-0.4 0.2h1m-0.2 -0.2h1m-0.8 0.4h1m0.8 -0.4h1m-0.8 0.4h1m-0.2 0.4h1m-0.8 -0.4h1m0.6 0.2h1m-0.4 -0.2h1m0.6 0.2h1m0.2 -0.4h1m-0.8 -0.2h1m0 0.8h1m5.2 -0.4h1m4.6 -0.2h1m-0.2 0.4h1m-0.2 -0.2h1m5.6 -0.4h1m2.4 0.6h1m-0.6 0.2h1m-0.4 -0.8h1m-0.4 0.8h1m1.8 -0.8h1m-0.8 0.6h1m-1 -0.2h1m0.8 0.2h1m0.8 -0.6h1m2.2 0.8h1m-0.8 -0.4h1m-1 0.4h1m-0.4 -0.4h1m2.6 -0.2h1m0.8 0.4h1m-48.2 0.8h1m0 0.2h1m-1 0h1m-0.2 0.2h1m-0.6 -0.6h1m-0.8 -0.2h1m-0.8 0.4h1m1.4 -0.2h1m-0.2 0.4h1m-0.2 -0.2h1m0 0.4h1m-0.8 -0.4h1m-0.8 0.4h1m6.4 -0.4h1m1.6 0.2h1m-0.8 -0.4h1m1.2 0h1m1.8 0.6h1m1.4 -0.6h1m-0.8 0.4h1m2 0.2h1m-0.4 -0.6h1m0.2 0.6h1m-0.2 -0.2h1m-0.2 -0.2h1m0 -0.2h1m1.8 0.2h1m1.6 0.4h1m-0.8 -0.6h1m0.8 0.4h1m-1 -0.2h1m0.2 0.4h1m0 0h1m-0.8 0h1m7.6 0h1m-58.6 0.8h1m1.6 0.2h1m0.6 -0.4h1m-0.4 0.4h1m-0.6 -0.8h1m-0.2 0.2h1m0.2 -0.2h1m-0.6 0.4h1m-0.2 -0.4h1m-0.8 0.2h1m0.2 0.4h1m0.4 -0.6h1m9.8 0.8h1m4 0h1m1.8 -0.4h1m3.4 -0.2h1m0.4 0.2h1m-1 -0.2h1m1 0h1m-0.6 0.2h1m-0.4 0.2h1m-0.4 0h1m-1 -0.2h1m-0.6 -0.2h1m1.6 0.4h1m-0.2 -0.6h1m0.4 0h1m-0.4 0.6h1m1 -0.6h1m12.4 0.4h1m-63.6 1.2h1m3 -0.2h1m0.6 -0.4h1m-0.2 0.2h1m-0.4 0h1m-0.6 0.4h1m3.4 -0.4h1m10.4 0.2h1m5.2 0.4h1m0 -0.4h1m2.4 0.2h1m-0.2 -0.6h1m-0.6 0h1m0.4 0.2h1m-0.8 0h1m0 -0.2h1m2 0.4h1m-0.4 -0.4h1m0.4 0.2h1m0.4 -0.2h1m-0.6 0.4h1m-0.4 0h1m-0.6 0.2h1m0.8 -0.4h1m4.2 0.4h1m3 0h1m1.6 0h1m5.8 0.2h1m-64.4 0.6h1m0.8 0h1m1.2 0.2h1m1.4 0.2h1m-0.2 -0.2h1m1.2 -0.6h1m15 0.4h1m2 -0.2h1m0 -0.2h1m0 0h1m1.8 0h1m-0.6 0h1m0.4 0.6h1m-0.8 -0.4h1m-1 0.4h1m-0.4 0.2h1m2.6 -0.8h1m0 0.8h1m-0.8 -0.6h1m2.2 0h1m1.6 0h1m5.6 0.6h1m-56 0.8h1m3.4 0.2h1m2.8 -0.2h1m-0.6 0.2h1m-0.4 -0.4h1m4 -0.2h1m3.2 -0.2h1m12.2 0h1m1.8 0.2h1m2.6 0.6h1m1.8 -0.2h1m2 0h1m0.8 -0.4h1m-41.4 0.8h1m6.8 0.8h1m0.6 -0.6h1m0.2 -0.2h1m16.6 0.6h1m4 0.2h1m0.8 -0.6h1m-0.6 0.6h1m-31.6 1h1m3 0h1m7.6 -0.2h1m2.8 0h1m1.4 0h1m9.4 0h1m1.8 -0.2h1m2.2 0.2h1m4.6 -0.2h1m3.4 0h1m2.6 0h1m-57.8 1.4h1m6.8 0h1m1.4 -0.4h1m26.2 -0.4h1m7 0h1m3.4 0.2h1m8.2 0.2h1m-1 0h1m-59.2 0.6h1m5 0.4h1m3.6 -0.2h1m6.4 0h1m38.4 0h1" stroke="#404040" stroke-opacity="1.0" stroke-width="1" fill="none"/>
<text x="172.30" y="280.00" font-size="5.6" text-anchor="middle" fill="#6e6e6e">10<tspan font-size="3.92" dy="-2.24">0</tspan></text>
<text x="197.55" y="280.00" font-size="5.6" text-anchor="middle" fill="#6e6e6e">10<tspan font-size="3.92" dy="-2.24">1</tspan></text>
<text x="222.80" y="280.00" font-size="5.6" text-anchor="middle" fill="#6e6e6e">10<tspan font-size="3.92" dy="-2.24">2</tspan></text>
<text x="248.05" y="280.00" font-size="5.6" text-anchor="middle" fill="#6e6e6e">10<tspan font-size="3.92" dy="-2.24">3</tspan></text>
<text x="273.30" y="280.00" font-size="5.6" text-anchor="middle" fill="#6e6e6e">10<tspan font-size="3.92" dy="-2.24">4</tspan></text>
<text x="167.30" y="269.40" font-size="5.6" text-anchor="middle" fill="#6e6e6e" transform="rotate(-90 167.30 269.40)">10<tspan font-size="3.92" dy="-2.24">0</tspan></text>
<text x="167.30" y="244.35" font-size="5.6" text-anchor="middle" fill="#6e6e6e" transform="rotate(-90 167.30 244.35)">10<tspan font-size="3.92" dy="-2.24">1</tspan></text>
<text x="167.30" y="219.30" font-size="5.6" text-anchor="middle" fill="#6e6e6e" transform="rotate(-90 167.30 219.30)">10<tspan font-size="3.92" dy="-2.24">2</tspan></text>
<text x="167.30" y="194.25" font-size="5.6" text-anchor="middle" fill="#6e6e6e" transform="rotate(-90 167.30 194.25)">10<tspan font-size="3.92" dy="-2.24">3</tspan></text>
<text x="167.30" y="169.20" font-size="5.6" text-anchor="middle" fill="#6e6e6e" transform="rotate(-90 167.30 169.20)">10<tspan font-size="3.92" dy="-2.24">4</tspan></text>
<g stroke="#959595" stroke-width="0.9" fill="none">
<path d="M303.20 169.20V269.40H404.20"/>
<path d="M300.60 269.40h2.60M301.80 261.86h1.40M301.80 257.45h1.40M301.80 254.32h1.40M301.80 251.89h1.40M301.80 249.91h1.40M301.80 248.23h1.40M301.80 246.78h1.40M301.80 245.50h1.40M300.60 244.35h2.60M301.80 236.81h1.40M301.80 232.40h1.40M301.80 229.27h1.40M301.80 226.84h1.40M301.80 224.86h1.40M301.80 223.18h1.40M301.80 221.73h1.40M301.80 220.45h1.40M300.60 219.30h2.60M301.80 211.76h1.40M301.80 207.35h1.40M301.80 204.22h1.40M301.80 201.79h1.40M301.80 199.81h1.40M301.80 198.13h1.40M301.80 196.68h1.40M301.80 195.40h1.40M300.60 194.25h2.60M301.80 186.71h1.40M301.80 182.30h1.40M301.80 179.17h1.40M301.80 176.74h1.40M301.80 174.76h1.40M301.80 173.08h1.40M301.80 171.63h1.40M301.80 170.35h1.40M300.60 169.20h2.6M303.20 269.40v2.60M310.80 269.40v1.40M315.25 269.40v1.40M318.40 269.40v1.40M320.85 269.40v1.40M322.85 269.40v1.40M324.54 269.40v1.40M326.00 269.40v1.40M327.29 269.40v1.40M328.45 269.40v2.60M336.05 269.40v1.40M340.50 269.40v1.40M343.65 269.40v1.40M346.10 269.40v1.40M348.10 269.40v1.40M349.79 269.40v1.40M351.25 269.40v1.40M352.54 269.40v1.40M353.70 269.40v2.60M361.30 269.40v1.40M365.75 269.40v1.40M368.90 269.40v1.40M371.35 269.40v1.40M373.35 269.40v1.40M375.04 269.40v1.40M376.50 269.40v1.40M377.79 269.40v1.40M378.95 269.40v2.60M386.55 269.40v1.40M391.00 269.40v1.40M394.15 269.40v1.40M396.60 269.40v1.40M398.60 269.40v1.40M400.29 269.40v1.40M401.75 269.40v1.40M403.04 269.40v1.40M404.20 269.40v2.60" stroke-width="0.6"/>
</g>
<path d="M328.20 169.20V269.40M303.20 247.40H404.20" stroke="#8c8c8c" stroke-width="0.9" fill="none"/>
<path d="M342.4 186.4h1m7.4 1h1m-10.2 2.8h1m8.8 -0.2h1m-18.4 0.8h1m13 2h1m3 1.4h1m-39.6 0.6h1m26.4 -0.2h1m0.2 0.8h1m9.8 -0.6h1m-14.4 1.2h1m-0.4 0.2h1m-28.4 0.6h1m2.4 0.4h1m27.2 -0.6h1m9.6 0h1m-35.8 1.6h1m25.2 -0.2h1m1.8 0.4h1m-0.2 -0.2h1m0.4 -0.2h1m-1 0h1m2.2 0h1m0.8 -0.2h1m5.4 0.2h1m-46.4 1.2h1m18.8 -0.2h1m8.2 0.4h1m-0.8 -0.2h1m14 -0.2h1m3 0h1m-55.4 1.2h1m15.6 -0.2h1m7.6 -0.4h1m16.8 0.4h1m-0.8 0.2h1m5.8 0h1m-24.2 0.6h1m-32 1.4h1m35 -0.6h1m0.4 0h1m-14.2 1.8h1m0.2 -0.6h1m2 0.2h1m4.2 0.2h1m3 -0.4h1m1.8 0.6h1m0 0h1m20 -0.8h1m-58.4 1.6h1m33 -0.2h1m1.8 -0.4h1m-0.2 0.6h1m2.8 -0.4h1m-38.6 1h1m8.6 0.4h1m12.6 0.2h1m8.2 -0.8h1m0.6 0.6h1m-0.6 -0.2h1m8.2 -0.2h1m-0.8 0h1m3.2 0.4h1m0.8 0.2h1m-54.6 0.4h1m-1.6 1.2h1m5.8 -0.4h1m9 0.6h1m12.2 -0.2h1m3 0.4h1m2.4 -0.6h1m5.8 0.2h1m0.8 -0.4h1m-44.2 1.2h1m14 0.4h1m1.2 -0.6h1m8 0.2h1m-1 0.2h1m-0.4 -0.2h1m3.8 0.6h1m8.4 0h1m-43.6 0.8h1m3 -0.6h1m-0.2 0h1m-0.8 0.6h1m18.2 0h1m5 -0.6h1m-1 0.2h1m3.2 0.6h1m5.4 -0.2h1m-0.6 0h1m0.4 0.2h1m-45.8 0.6h1m0.8 0h1m-0.4 0.4h1m1 0h1m0.8 -0.2h1m-0.6 -0.2h1m1.2 -0.2h1m-0.8 0.2h1m8.8 0.2h1m4 -0.4h1m3.6 -0.2h1m6.2 0.6h1m3 -0.6h1m1.2 0h1m5.4 0.2h1m-43 1h1m-0.8 0.6h1m4.2 -0.2h1m6.2 -0.4h1m11.4 0h1m-0.2 0.6h1m1.6 0h1m-0.8 -0.2h1m4.8 -0.2h1m2.2 0.2h1m18 -0.2h1m-59.8 0.8h1m2.8 -0.2h1m1.4 0.4h1m-0.6 0.2h1m17.8 -0.2h1m13.6 -0.4h1m-1 0h1m5.4 0h1m-49 1h1m-0.2 0.2h1m0.2 0.6h1m1.4 -0.2h1m2.2 -0.2h1m-0.4 0.4h1m1 -0.4h1m3 -0.4h1m5.8 0.2h1m1 0.4h1m-0.2 0h1m0.4 0h1m-1 0h1m0.4 0h1m1.8 -0.2h1m0.8 0.4h1m0.2 -0.8h1m0.2 0.2h1m6 0h1m0.4 0.2h1m1 -0.2h1m2 -0.2h1m7.6 0.8h1m-62.4 1h1m7 -0.4h1m-0.8 0.4h1m2.8 -0.4h1m-1 -0.2h1m11.6 0.4h1m3.8 -0.4h1m-0.8 0.6h1m3.4 -0.4h1m-0.4 0.2h1m1.6 0h1m3.2 0h1m0 -0.6h1m-0.8 0.4h1m1.4 0h1m-0.8 0.2h1m0.2 0h1m6.6 0h1m-46.6 0.8h1m0 0h1m-0.2 0.4h1m-0.2 -0.2h1m3.2 -0.2h1m0 -0.2h1m16.8 0.2h1m0.6 0.4h1m1.2 -0.8h1m-0.4 0h1m0 0.6h1m0.8 0.2h1m10 -0.8h1m0.2 0.2h1m-51.8 1h1m1.6 0h1m0.8 0.4h1m0.6 -0.2h1m4.4 -0.4h1m-0.8 0.4h1m15 -0.2h1m2 0.6h1m2 -0.4h1m-0.8 0.2h1m-0.4 -0.6h1m-0.4 0.8h1m1.8 -0.6h1m4.6 0.2h1m3 -0.2h1m-0.6 0.2h1m10.6 0.4h1m-56.4 1h1m1.4 -0.8h1m-0.6 0.8h1m0.2 -0.6h1m-0.8 0.4h1m0.8 0.2h1m9 -0.4h1m4.2 0.2h1m1.4 -0.4h1m-0.2 0.4h1m2.2 0h1m-0.4 0.2h1m1 -0.8h1m-0.4 0h1m-0.8 0.2h1m0.6 0.4h1m0 -0.2h1m5.2 0.4h1m-0.8 -0.4h1m-0.6 0h1m5.8 0h1m-51.8 1h1m0.6 0h1m-0.6 -0.4h1m4 0.2h1m-0.6 0.2h1m2.4 0.4h1m14.8 -0.4h1m0.8 -0.4h1m0.4 0.4h1m-0.4 -0.4h1m3.4 0.2h1m4.2 0.2h1m2 -0.4h1m1.2 0.8h1m2.4 -0.6h1m0.4 -0.2h1m1.6 0.8h1m-52 1h1m-0.6 -0.4h1m1.4 0.2h1m-0.8 0.2h1m-0.8 -0.2h1m-0.6 0h1m-0.6 0.2h1m-0.8 -0.8h1m16.2 0.6h1m0.4 0h1m2.2 0h1m0.8 -0.4h1m0.4 0.6h1m-1 -0.8h1m1.8 0.6h1m3.2 0h1m-0.4 -0.2h1m-0.2 -0.4h1m0.2 0.2h1m-0.2 0h1m-0.4 0.4h1m0.4 -0.2h1m2 0.2h1m-45.6 1h1m1 0.2h1m2.2 -0.4h1m-0.6 0h1m1.4 -0.4h1m14.2 0h1m-0.2 0.4h1m1 -0.4h1m1 0.8h1m-0.8 0h1m0.4 -0.6h1m-0.8 -0.2h1m4.4 0.4h1m-0.4 0.4h1m-0.2 -0.4h1m0 0.4h1m-0.2 -0.8h1m3.8 0.8h1m1.6 -0.4h1m0 -0.4h1m13.4 0.8h1m-64.6 0.4h1m0.2 0h1m-1 0.2h1m1.8 0h1m1.4 -0.2h1m0 -0.2h1m-0.2 0.6h1m2.2 -0.2h1m5.4 -0.4h1m6.6 0.8h1m-0.4 -0.4h1m-0.4 0.4h1m0 0h1m1.4 0h1m-0.8 0h1m-0.6 -0.2h1m-0.6 -0.2h1m0 0.4h1m-0.8 -0.8h1m-0.2 0.2h1m0.2 -0.2h1m0 0.4h1m-0.8 0.4h1m3.4 0h1m-0.6 0h1m-1 -0.8h1m-0.6 0.6h1m2.2 -0.6h1m-1 0.6h1m0.8 0.2h1m0.2 0h1m-0.2 -0.4h1m4 -0.2h1m0.4 0.2h1m-56.8 1.2h1m-0.2 -0.2h1m1.6 -0.4h1m1.6 0.4h1m-0.4 -0.2h1m-0.8 0h1m-1 0.2h1m0.4 0h1m0.8 0h1m-0.4 0h1m18.2 0.2h1m-0.6 0h1m0.2 0h1m-0.8 0h1m0.8 -0.4h1m-0.6 -0.2h1m-1 0h1m-0.2 0.4h1m-0.6 0h1m-0.4 -0.4h1m5.8 0.4h1m0.6 0.2h1m-0.8 -0.4h1m-0.8 -0.2h1m1.4 0.4h1m1.8 0h1m-0.4 0.4h1m0 -0.2h1m9.2 0h1m-59 1.2h1m0 -0.6h1m-0.2 -0.2h1m-0.6 0.4h1m2.4 0.2h1m-0.6 -0.4h1m0.8 -0.2h1m1 0.8h1m-1 -0.6h1m0.6 0h1m-0.6 0h1m6.8 0.2h1m0.6 0h1m6.2 0h1m-0.2 0h1m0.2 0h1m-0.2 0.4h1m-0.2 0h1m3.4 -0.8h1m-0.4 0h1m-0.4 0.4h1m0 0.2h1m0.8 0.2h1m-0.2 -0.4h1m-0.2 0h1m-0.2 -0.2h1m-0.6 0.2h1m3.6 0h1m-49.2 0.8h1m-0.2 0h1m0 0.4h1m-0.6 -0.4h1m-1 0.2h1m-0.8 -0.2h1m-0.8 0.4h1m-1 -0.6h1m-0.8 0.8h1m-0.6 -0.6h1m0 0.2h1m0.4 -0.2h1m1 0.6h1m1 -0.8h1m3.4 0.4h1m5 -0.4h1m2.4 0.4h1m0.2 0.4h1m3.6 -0.2h1m0.2 0h1m0 -0.4h1m2.4 0.6h1m-0.8 -0.6h1m-0.8 0.4h1m-1 -0.4h1m2 0.4h1m-0.8 -0.4h1m-0.8 0.4h1m0.4 -0.4h1m-0.4 0.6h1m1 -0.2h1m-0.8 -0.2h1m0.2 0.2h1m2.4 0.2h1m1.2 -0.6h1m-0.4 0.2h1m-52.2 1h1m6 0h1m-0.2 0h1m1.4 0.2h1m-0.8 -0.6h1m3.4 0.6h1m13 0.2h1m1 -0.2h1m0.6 0.2h1m1.2 -0.6h1m0.2 0.6h1m0 -0.6h1m-0.6 0.6h1m-0.8 -0.4h1m0 -0.4h1m-0.6 0.4h1m-0.6 0.2h1m-0.6 -0.2h1m0.2 -0.2h1m2 -0.2h1m-1 0.8h1m0.6 -0.4h1m-0.6 -0.4h1m-0.6 0.2h1m6.2 0.2h1m8.4 0h1m-63.8 1.2h1m1.8 -0.2h1m-0.4 0.2h1m0.4 -0.2h1m1 -0.4h1m0.2 0.2h1m0 0.4h1m-0.4 0h1m-0.8 -0.6h1m7 0.6h1m3.4 -0.4h1m-0.4 0h1m1.2 -0.2h1m7.6 0.2h1m1.2 0.2h1m-0.4 -0.2h1m-0.8 0.2h1m-0.8 -0.4h1m-0.6 0.4h1m-0.2 0.2h1m0.2 -0.2h1m-1 0.4h1m0.8 -0.2h1m1.4 -0.2h1m-1 0.4h1m1.6 -0.4h1m3 -0.2h1m7.6 0h1m-61.2 1h1m2 0h1m2.4 0h1m1.2 -0.2h1m4 0h1m0 0.4h1m-1 -0.2h1m0 0.6h1m11.4 -0.4h1m2.4 0h1m0.6 0h1m-0.2 0.4h1m1.4 0h1m0.2 0h1m-0.4 -0.2h1m0.8 0.2h1m-0.4 -0.2h1m-0.4 -0.2h1m5 -0.4h1m-0.2 0.2h1m-0.6 0.6h1m-1 0h1m0.4 -0.8h1m-1 0.2h1m9.2 0h1m-61.6 1.2h1m4.8 0h1m2.8 -0.2h1m1 0.2h1m-1 -0.2h1m0.4 0h1m0 0.2h1m0.4 0.2h1m3.4 0h1m5.6 -0.6h1m0 0.4h1m1.8 0h1m-0.8 0h1m2.4 0h1m-0.6 0h1m3.6 -0.4h1m-0.8 0.6h1m0 -0.2h1m-0.2 0.2h1m-0.6 0h1m1.2 0.2h1m0.8 -0.6h1m0.2 0.4h1m0.8 -0.2h1m9.4 -0.2h1m-56.8 1.2h1m5.8 0h1m-0.6 0.2h1m0.2 -0.4h1m11.4 0.6h1m1.8 -0.6h1m1.2 -0.2h1m1.2 0h1m2.8 0.8h1m0.2 -0.6h1m2.2 0.4h1m0.8 -0.4h1m1.8 0.2h1m-1 -0.4h1m0 0.2h1m-0.6 -0.2h1m0 0.6h1m1.6 0h1m-0.2 -0.2h1m11 -0.4h1m2.2 0.6h1m-58.4 1h1m0 -0.2h1m-0.6 0.2h1m0 0h1m-0.2 0h1m1.2 0h1m-0.4 -0.6h1m16.6 0.2h1m2.6 0.6h1m1.4 0h1m1.6 -0.4h1m7.4 0.4h1m11.6 -0.6h1m-57.8 1.6h1m2 -0.4h1m0 -0.4h1m2.4 0h1m-0.6 0.4h1m0.8 -0.4h1m9.4 0.2h1m-0.4 0.2h1m2.4 -0.2h1m6.8 0.4h1m1.6 0.2h1m2.6 -0.2h1m-1 -0.2h1m1.2 0h1m3.2 0.2h1m3.2 0.2h1m-46.2 0.4h1m2 0.2h1m2.6 -0.4h1m15.6 0.2h1m-0.8 0.6h1m0.2 -0.6h1m0.6 0.6h1m-0.4 -0.6h1m0 0.4h1m1.4 0h1m-1 -0.6h1m0 0.6h1m-0.6 -0.6h1m2.8 0.6h1m-0.8 0.2h1m6 -0.4h1m3.6 0.2h1m-45.8 0.6h1m2.2 0.4h1m-0.8 0h1m-1 0h1m-0.4 0h1m-0.2 -0.4h1m9.6 -0.2h1m0 0.6h1m0 0h1m2.2 -0.4h1m1.4 -0.2h1m6.6 0.4h1m1 0.2h1m1 -0.6h1m4.4 0.8h1m-42.4 0.4h1m-0.8 -0.2h1m0.6 0.4h1m-0.2 0.4h1m-1 0h1m0 -0.2h1m0.8 -0.2h1m8.6 0.4h1m7 -0.6h1m5.4 0.6h1m0.4 -0.2h1m-0.4 -0.2h1m1.6 0.2h1m-0.2 -0.4h1m0.6 -0.2h1m1 0.8h1m0.2 -0.6h1m-0.2 0.2h1m-43 0.8h1m0.2 0h1m-0.4 0.4h1m9.2 -0.4h1m9.4 0.2h1m0.4 0.2h1m1.8 0h1m-0.8 0.2h1m2.4 0h1m4.2 -0.6h1m-0.2 0.6h1m-0.6 -0.2h1m-0.4 0h1m-0.8 -0.6h1m-0.4 0.6h1m-0.6 -0.6h1m1.6 0.2h1m-0.8 0.2h1m-45 0.6h1m1.8 0.8h1m0.2 0h1m1 -0.4h1m-0.4 0h1m4 -0.4h1m3.8 0.2h1m5.4 0.4h1m9.2 -0.4h1m1 0.6h1m3.6 -0.8h1m0 0h1m1.6 0.8h1m-0.2 -0.4h1m-0.6 -0.2h1m1.8 0.4h1m3 -0.6h1m-52 1h1m0.4 0h1m1.4 0.6h1m-0.8 -0.2h1m1.8 0.4h1m-0.6 0h1m-0.2 -0.6h1m0.6 -0.2h1m0 0.6h1m16.8 0h1m0 -0.2h1m-0.2 -0.4h1m0.2 0h1m4.2 0.2h1m5.2 -0.2h1m0 0.6h1m3.2 0h1m2 0.2h1m-47.8 0.2h1m1 0.8h1m-0.6 -0.4h1m-0.2 -0.2h1m0.4 0.4h1m3 0.2h1m9 -0.6h1m1 -0.2h1m4 0.4h1m3.8 0.4h1m-1 -0.4h1m-0.2 -0.2h1m15 0.6h1m-47 0.6h1m3.4 -0.2h1m-0.4 -0.2h1m-0.4 0.4h1m1.6 0.2h1m8.8 -0.2h1m0.2 0.4h1m-0.4 0h1m-0.8 -0.8h1m2.6 0.2h1m-0.8 -0.2h1m4.8 0h1m5 0.4h1m-34.4 1h1m1.8 0.4h1m12.8 -0.2h1m-0.2 0h1m3.2 -0.2h1m1.4 -0.2h1m2.6 0h1m-0.2 0.6h1m0.6 -0.8h1m13.8 0h1m-49.8 1.4h1m2.4 0.4h1m20 -0.8h1m2.4 0.2h1m-0.6 0h1m4.6 -0.2h1m4.2 0.6h1m2 -0.4h1m0.8 0h1m5 0.6h1m-19.6 0.2h1m3.8 0.4h1m2.8 -0.2h1m-40.8 1.6h1m1 -0.4h1m-1 0.4h1m-0.4 -0.4h1m-0.8 0.4h1m5 -0.4h1m8.6 0.2h1m-0.2 -0.2h1m5.8 0.4h1m-0.8 -0.2h1m7.2 0h1m7.6 0h1m-0.6 -0.2h1m-0.8 0.2h1m3.2 -0.4h1m-51 1h1m-0.8 0.6h1m0.8 -0.4h1m-0.6 0.2h1m0.4 -0.4h1m-0.6 0.2h1m24.6 -0.4h1m1.4 0.2h1m2.4 0h1m4.6 0.2h1m0.2 -0.2h1m1.6 0.6h1m0.2 -0.6h1m-48 0.8h1m3 0h1m-0.2 0h1m7 0.2h1m2 0.2h1m1.6 0.4h1m11.2 -0.2h1m-0.8 0.2h1m0 -0.8h1m2.6 0.2h1m5.6 0.2h1m-45.8 0.6h1m3.6 0.8h1m4.4 -0.8h1m26.2 0.8h1m0.2 -0.8h1m0.4 0.6h1m5.6 -0.6h1m4.2 0.2h1m-25 1h1m0.8 0.4h1m11.6 0.2h1m-0.8 0h1m-1 -0.8h1m0.8 0.2h1m1.6 0.6h1m-42.4 1h1m0.2 0h1m1.2 -0.8h1m1.6 0.8h1m0.6 -0.8h1m19 0.4h1m-0.4 -0.2h1m-0.8 0.4h1m2.8 0.2h1m0.4 -0.6h1m0.8 0.4h1m-0.6 -0.4h1m1.4 -0.2h1m-36 1.2h1m-0.6 0.6h1m-0.4 -0.4h1m17.2 -0.2h1m2.2 0.4h1m-0.6 -0.2h1m4.6 -0.2h1m0.4 0.2h1m-0.8 0.4h1m1.2 -0.2h1m0.2 0h1m2.2 -0.2h1m7.4 0.4h1m4.8 -0.2h1m-55 1h1m1.8 0h1m-0.2 -0.4h1m-0.6 0.4h1m0 0.2h1m-0.8 -0.4h1m-0.8 -0.2h1m18 0.4h1m-0.4 -0.6h1m0.4 0h1m0.4 0.6h1m1.6 0.2h1m3.4 -0.2h1m4.6 0.2h1m3.2 0h1m-49 1h1m1.2 0h1m0.4 -0.8h1m-0.8 0.4h1m-0.8 -0.2h1m-0.2 0.6h1m-0.8 -0.8h1m4 0h1m-1 0.8h1m0.6 0h1m17.2 -0.6h1m6.2 0h1m-0.6 0.4h1m-0.4 -0.2h1m1.8 0h1m0.4 0.4h1m1 -0.4h1m-46 0.6h1m8.2 0.6h1m-0.8 -0.4h1m16.4 0h1m10.6 0.4h1m8 -0.6h1m-0.2 0.8h1m3.2 -0.6h1m4 0.2h1m-59 1.2h1m0 -0.4h1m2.6 0.4h1m-0.6 -0.6h1m-0.4 0.8h1m0.6 -0.8h1m-0.4 0.6h1m0.6 -0.2h1m-0.6 0.4h1m2 -0.4h1m13.6 0.2h1m4.4 0h1m-0.2 0.2h1m0.4 -0.8h1m1.2 0.6h1m5.2 0.2h1m-0.8 -0.2h1m-0.2 -0.6h1m0.2 0.4h1m-0.2 -0.2h1m-0.6 -0.2h1m1.6 0.2h1m3.8 -0.2h1m-53.4 1.6h1m2 0.2h1m0 -0.8h1m-0.4 0.6h1m0.8 0h1m-0.6 -0.4h1m-0.8 0h1m-1 0h1m-1 0.6h1m20.6 -0.2h1m0.8 -0.6h1m-0.2 0.8h1m1.4 -0.8h1m0.4 0.4h1m-1 -0.4h1m-0.2 0.4h1m-1 0h1m0.2 -0.4h1m0 0h1m-0.8 0h1m1.8 0.2h1m0.8 -0.2h1m-1 0.4h1m-0.8 0.4h1m0.6 -0.4h1m2.2 0h1m5.2 0.2h1m-54.2 0.6h1m5 0.2h1m-0.2 0.2h1m0.4 -0.4h1m14.6 0h1m1.8 0.6h1m7.2 -0.4h1m0.2 0.2h1m-0.6 -0.2h1m-0.8 0.2h1m0.6 -0.6h1m1.4 0.4h1m-1 0h1m3.6 -0.2h1m-0.4 0h1m1.2 0.4h1m2.4 0h1m-52.2 0.8h1m1 0.4h1m-0.2 -0.4h1m-0.8 -0.4h1m1.8 0h1m5.8 0.6h1m14 0h1m0.6 -0.6h1m0.4 0h1m2.2 0.4h1m-0.2 -0.4h1m0.4 0.4h1m1.6 0.2h1m8.6 -0.2h1m-49.6 0.8h1m2.4 0.2h1m2 0h1m-0.6 0.2h1m-0.4 0.2h1m2.8 -0.4h1m16.8 0h1m-0.2 -0.4h1m0.4 0.6h1m0.8 0.2h1m-1 -0.4h1m-0.8 0.2h1m1.8 0.2h1m-0.2 -0.4h1m-0.8 0h1m-0.8 -0.4h1m0 0.8h1m-0.2 -0.2h1m1.4 -0.6h1m4.2 0.6h1m-0.6 0h1m0.8 -0.2h1m-48.8 1h1m3 0.2h1m-0.2 0h1m-0.6 -0.6h1m0.6 0.2h1m-0.2 0h1m15.6 0.6h1m0 -0.8h1m3.4 0.6h1m4.2 -0.2h1m1.4 0.4h1m2.2 -0.4h1m-0.6 -0.2h1m3.2 0.4h1m1 -0.4h1m6.8 0.2h1m1.2 0.4h1m-60.4 0.6h1m-0.2 0h1m0.2 -0.2h1m4 0.6h1m2 0h1m16.8 -0.6h1m5.6 0.4h1m6.4 -0.2h1m-0.2 0.2h1m0 -0.2h1m0.8 -0.2h1m-49.2 1.2h1m8.8 0.4h1m-0.8 -0.4h1m-0.8 0.4h1m-0.4 -0.6h1m22.6 0.6h1m-1 -0.8h1m3.6 0.6h1m-0.6 -0.4h1m2.4 0.4h1m0.6 0.2h1m-1 -0.8h1m11.6 0.4h1m3.8 0.2h1m-56.8 0.4h1m-0.4 0.2h1m0.6 0.2h1m29 0.2h1m1.6 -0.2h1m-33.8 1.4h1m-1 -0.4h1m20.2 -0.4h1m8.4 0.6h1m0.6 -0.2h1m0.4 -0.4h1m-0.8 0.8h1m1.2 -0.6h1m1.6 0h1m-0.6 0.2h1m9 -0.2h1m-22.2 1.6h1m15 -0.6h1m5.6 -0.2h1m-23.8 1.2h1m20.2 0h1m-49 1.2h1m18.6 -0.2h1m6.4 0.2h1m3.2 -0.2h1m10.8 1.4h1m-46.2 0.6h1m25.6 0.6h1m10.6 -0.6h1" stroke="#404040" stroke-opacity="1.0" stroke-width="1" fill="none"/>
<text x="303.20" y="280.00" font-size="5.6" text-anchor="middle" fill="#6e6e6e">10<tspan font-size="3.92" dy="-2.24">0</tspan></text>
<text x="328.45" y="280.00" font-size="5.6" text-anchor="middle" fill="#6e6e6e">10<tspan font-size="3.92" dy="-2.24">1</tspan></text>
<text x="353.70" y="280.00" font-size="5.6" text-anchor="middle" fill="#6e6e6e">10<tspan font-size="3.92" dy="-2.24">2</tspan></text>
<text x="378.95" y="280.00" font-size="5.6" text-anchor="middle" fill="#6e6e6e">10<tspan font-size="3.92" dy="-2.24">3</tspan></text>
<text x="404.20" y="280.00" font-size="5.6" text-anchor="middle" fill="#6e6e6e">10<tspan font-size="3.92" dy="-2.24">4</tspan></text>
<text x="298.20" y="269.40" font-size="5.6" text-anchor="middle" fill="#6e6e6e" transform="rotate(-90 298.20 269.40)">10<tspan font-size="3.92" dy="-2.24">0</tspan></text>
<text x="298.20" y="244.35" font-size="5.6" text-anchor="middle" fill="#6e6e6e" transform="rotate(-90 298.20 244.35)">10<tspan font-size="3.92" dy="-2.24">1</tspan></text>
<text x="298.20" y="219.30" font-size="5.6" text-anchor="middle" fill="#6e6e6e" transform="rotate(-90 298.20 219.30)">10<tspan font-size="3.92" dy="-2.24">2</tspan></text>
<text x="298.20" y="194.25" font-size="5.6" text-anchor="middle" fill="#6e6e6e" transform="rotate(-90 298.20 194.25)">10<tspan font-size="3.92" dy="-2.24">3</tspan></text>
<text x="298.20" y="169.20" font-size="5.6" text-anchor="middle" fill="#6e6e6e" transform="rotate(-90 298.20 169.20)">10<tspan font-size="3.92" dy="-2.24">4</tspan></text>
<text x="97.50" y="43.90" font-size="12" font-weight="bold" text-anchor="start" fill="#141414" stroke="#141414" stroke-width="0.22">40%</text>
<text x="123.82" y="43.90" font-size="12" font-weight="bold" text-anchor="start" fill="#141414" stroke="#141414" stroke-width="0.22">±</text>
<text x="132.70" y="43.90" font-size="12" font-weight="bold" text-anchor="start" fill="#141414" stroke="#141414" stroke-width="0.22">6%</text>
<text x="218.60" y="44.20" font-size="12" font-weight="bold" text-anchor="start" fill="#141414" stroke="#141414" stroke-width="0.22">47%</text>
<text x="244.92" y="44.20" font-size="12" font-weight="bold" text-anchor="start" fill="#141414" stroke="#141414" stroke-width="0.22">±</text>
<text x="253.80" y="44.20" font-size="12" font-weight="bold" text-anchor="start" fill="#141414" stroke="#141414" stroke-width="0.22">11%</text>
<text x="348.60" y="44.20" font-size="12" font-weight="bold" text-anchor="start" fill="#141414" stroke="#141414" stroke-width="0.22">65%</text>
<text x="374.92" y="44.20" font-size="12" font-weight="bold" text-anchor="start" fill="#141414" stroke="#141414" stroke-width="0.22">±</text>
<text x="383.80" y="44.20" font-size="12" font-weight="bold" text-anchor="start" fill="#141414" stroke="#141414" stroke-width="0.22">3%</text>
<text x="97.10" y="177.20" font-size="12" font-weight="bold" text-anchor="start" fill="#141414" stroke="#141414" stroke-width="0.22">46%</text>
<text x="123.42" y="177.20" font-size="12" font-weight="bold" text-anchor="start" fill="#141414" stroke="#141414" stroke-width="0.22">±</text>
<text x="132.30" y="177.20" font-size="12" font-weight="bold" text-anchor="start" fill="#141414" stroke="#141414" stroke-width="0.22">5%</text>
<text x="218.60" y="177.20" font-size="12" font-weight="bold" text-anchor="start" fill="#141414" stroke="#141414" stroke-width="0.22">38%</text>
<text x="244.92" y="177.20" font-size="12" font-weight="bold" text-anchor="start" fill="#141414" stroke="#141414" stroke-width="0.22">±</text>
<text x="253.80" y="177.20" font-size="12" font-weight="bold" text-anchor="start" fill="#141414" stroke="#141414" stroke-width="0.22">14%</text>
<text x="348.60" y="177.20" font-size="12" font-weight="bold" text-anchor="start" fill="#141414" stroke="#141414" stroke-width="0.22">75%</text>
<text x="374.92" y="177.20" font-size="12" font-weight="bold" text-anchor="start" fill="#141414" stroke="#141414" stroke-width="0.22">±</text>
<text x="383.80" y="177.20" font-size="12" font-weight="bold" text-anchor="start" fill="#141414" stroke="#141414" stroke-width="0.22">3%</text>
<text x="424.50" y="86.20" font-size="12" font-weight="bold" text-anchor="start" fill="#141414" stroke="#141414" stroke-width="0.22">Renilla</text>
<text x="424.50" y="99.80" font-size="12" font-weight="bold" text-anchor="start" fill="#141414" stroke="#141414" stroke-width="0.22">RNAi</text>
<text x="425.60" y="220.80" font-size="12.4" font-weight="bold" text-anchor="start" fill="#141414" stroke="#141414" stroke-width="0.22">STAT5</text>
<text x="425.60" y="234.60" font-size="12" font-weight="bold" text-anchor="start" fill="#141414" stroke="#141414" stroke-width="0.22">RNAi</text>
<text x="9.20" y="158.50" font-size="12.2" font-weight="bold" text-anchor="start" fill="#141414" transform="rotate(-90 9.20 158.50)" stroke="#141414" stroke-width="0.22">PE</text>
<line x1="24.30" y1="42.00" x2="24.30" y2="270.00" stroke="#a8a8a8" stroke-width="1.3"/>
<path d="M24.3 34 L19.8 43.6 L28.8 43.6 Z" fill="#111"/>
<line x1="45.00" y1="292.80" x2="396.00" y2="292.80" stroke="#a8a8a8" stroke-width="1.3"/>
<path d="M404.6 292.8 L394 288.5 L394 297.1 Z" fill="#111"/>
<text x="199.00" y="313.40" font-size="12" font-weight="bold" text-anchor="start" fill="#141414" stroke="#141414" stroke-width="0.22">GFP/YFP</text>
<text x="0.00" y="341.50" font-size="25.5" font-weight="bold" text-anchor="start" fill="#141414" stroke="#141414" stroke-width="0.6">B</text>
<path d="M43.7 344.00V493.80H257.7" stroke="#b4b4b4" stroke-width="1.2" fill="none"/>
<path d="M41.5 493.80h2.2M41.5 456.35h2.2M41.5 418.90h2.2M41.5 381.45h2.2M41.5 344.00h2.2M86.50 493.80v2.2M129.30 493.80v2.2M172.10 493.80v2.2M214.90 493.80v2.2M257.70 493.80v2.2" stroke="#b4b4b4" stroke-width="1" fill="none"/>
<text x="39.80" y="498.00" font-size="12" font-weight="bold" text-anchor="end" fill="#141414" stroke="#141414" stroke-width="0.22">0.4</text>
<text x="39.80" y="460.55" font-size="12" font-weight="bold" text-anchor="end" fill="#141414" stroke="#141414" stroke-width="0.22">0.6</text>
<text x="39.80" y="423.10" font-size="12" font-weight="bold" text-anchor="end" fill="#141414" stroke="#141414" stroke-width="0.22">0.8</text>
<text x="39.80" y="385.65" font-size="12" font-weight="bold" text-anchor="end" fill="#141414" stroke="#141414" stroke-width="0.22">1.0</text>
<text x="39.80" y="348.20" font-size="12" font-weight="bold" text-anchor="end" fill="#141414" stroke="#141414" stroke-width="0.22">1.2</text>
<text x="65.10" y="511.60" font-size="12" font-weight="bold" text-anchor="middle" fill="#141414" stroke="#141414" stroke-width="0.22">1</text>
<text x="107.90" y="511.60" font-size="12" font-weight="bold" text-anchor="middle" fill="#141414" stroke="#141414" stroke-width="0.22">2</text>
<text x="150.70" y="511.60" font-size="12" font-weight="bold" text-anchor="middle" fill="#141414" stroke="#141414" stroke-width="0.22">3</text>
<text x="193.50" y="511.60" font-size="12" font-weight="bold" text-anchor="middle" fill="#141414" stroke="#141414" stroke-width="0.22">4</text>
<text x="236.30" y="511.60" font-size="12" font-weight="bold" text-anchor="middle" fill="#141414" stroke="#141414" stroke-width="0.22">5</text>
<text x="148.60" y="526.30" font-size="12" font-weight="bold" text-anchor="middle" fill="#141414" stroke="#141414" stroke-width="0.22">Week</text>
<text x="9.60" y="421.80" font-size="12.2" font-weight="bold" text-anchor="middle" fill="#141414" transform="rotate(-90 9.60 421.80)" stroke="#141414" stroke-width="0.22">Rel. YFP or GFP values</text>
<path d="M65.10 382.6 L236.30 379.6" stroke="#2c2c2c" stroke-width="1.3" fill="none"/>
<path d="M65.10 382.00C72.23 385.93 93.63 398.47 107.90 405.60C122.17 412.73 136.43 419.57 150.70 424.80C164.97 430.03 179.23 433.60 193.50 437.00C207.77 440.40 229.17 443.83 236.30 445.20" stroke="#2c2c2c" stroke-width="1.3" fill="none"/>
<path d="M107.90 377.80V385.50M106.15 377.80h3.5M106.15 385.50h3.5" stroke="#777" stroke-width="1" fill="none"/>
<path d="M150.70 416.60V434.80M148.50 416.60h4.4M148.50 434.80h4.4" stroke="#333" stroke-width="1" fill="none"/>
<path d="M193.50 420.30V466.00M191.30 420.30h4.4M191.30 466.00h4.4" stroke="#333" stroke-width="1" fill="none"/>
<path d="M107.90 379.00L110.60 385.00L105.20 385.00Z" fill="#fff" stroke="#8a8a8a" stroke-width="0.8"/>
<path d="M150.70 383.00L153.40 389.00L148.00 389.00Z" fill="#fff" stroke="#8a8a8a" stroke-width="0.8"/>
<path d="M193.50 386.00L196.20 392.00L190.80 392.00Z" fill="#fff" stroke="#8a8a8a" stroke-width="0.8"/>
<path d="M236.30 369.00L239.00 375.00L233.60 375.00Z" fill="#fff" stroke="#8a8a8a" stroke-width="0.8"/>
<path d="M65.10 379.00L67.90 385.00L62.30 385.00Z" fill="#111"/>
<path d="M107.90 403.50L110.70 409.50L105.10 409.50Z" fill="#111"/>
<path d="M150.70 423.40L153.50 429.40L147.90 429.40Z" fill="#111"/>
<path d="M193.50 440.60L196.30 446.60L190.70 446.60Z" fill="#111"/>
<path d="M236.30 438.80L239.10 444.80L233.50 444.80Z" fill="#111"/>
<path d="M57.3 464.6H81M57.3 488.5H81" stroke="#222" stroke-width="1.3" fill="none"/>
<path d="M69.80 457.00L76.90 468.80L62.70 468.80Z" fill="#fff" stroke="#8a8a8a" stroke-width="0.9"/>
<path d="M69.10 480.00L76.20 491.00L62.00 491.00Z" fill="#111"/>
<text x="95.30" y="466.30" font-size="12.5" font-weight="bold" text-anchor="start" fill="#141414" stroke="#141414" stroke-width="0.22">Renilla RNAi</text>
<text x="95.30" y="489.00" font-size="12.5" font-weight="bold" text-anchor="start" fill="#141414" stroke="#141414" stroke-width="0.22">STAT5 RNAi</text>
<text x="-0.20" y="561.30" font-size="25.5" font-weight="bold" text-anchor="start" fill="#141414" stroke="#141414" stroke-width="0.6">C</text>
<text x="62.80" y="559.40" font-size="12.4" font-weight="bold" text-anchor="start" fill="#141414" stroke="#141414" stroke-width="0.22">Day 0</text>
<text x="172.80" y="559.50" font-size="12.4" font-weight="bold" text-anchor="start" fill="#141414" stroke="#141414" stroke-width="0.22">Day 3</text>
<text x="289.00" y="560.00" font-size="12.3" font-weight="bold" text-anchor="start" fill="#141414" stroke="#141414" stroke-width="0.22">Day 7</text>
<g stroke="#959595" stroke-width="0.9" fill="none">
<path d="M38.50 568.80V655.30H136.30"/>
<path d="M35.90 655.30h2.60M37.10 648.79h1.40M37.10 644.98h1.40M37.10 642.28h1.40M37.10 640.18h1.40M37.10 638.47h1.40M37.10 637.02h1.40M37.10 635.77h1.40M37.10 634.66h1.40M35.90 633.67h2.60M37.10 627.17h1.40M37.10 623.36h1.40M37.10 620.66h1.40M37.10 618.56h1.40M37.10 616.85h1.40M37.10 615.40h1.40M37.10 614.15h1.40M37.10 613.04h1.40M35.90 612.05h2.60M37.10 605.54h1.40M37.10 601.73h1.40M37.10 599.03h1.40M37.10 596.93h1.40M37.10 595.22h1.40M37.10 593.77h1.40M37.10 592.52h1.40M37.10 591.41h1.40M35.90 590.42h2.60M37.10 583.92h1.40M37.10 580.11h1.40M37.10 577.41h1.40M37.10 575.31h1.40M37.10 573.60h1.40M37.10 572.15h1.40M37.10 570.90h1.40M37.10 569.79h1.40M35.90 568.80h2.6M38.50 655.30v2.60M45.86 655.30v1.40M50.17 655.30v1.40M53.22 655.30v1.40M55.59 655.30v1.40M57.53 655.30v1.40M59.16 655.30v1.40M60.58 655.30v1.40M61.83 655.30v1.40M62.95 655.30v2.60M70.31 655.30v1.40M74.62 655.30v1.40M77.67 655.30v1.40M80.04 655.30v1.40M81.98 655.30v1.40M83.61 655.30v1.40M85.03 655.30v1.40M86.28 655.30v1.40M87.40 655.30v2.60M94.76 655.30v1.40M99.07 655.30v1.40M102.12 655.30v1.40M104.49 655.30v1.40M106.43 655.30v1.40M108.06 655.30v1.40M109.48 655.30v1.40M110.73 655.30v1.40M111.85 655.30v2.60M119.21 655.30v1.40M123.52 655.30v1.40M126.57 655.30v1.40M128.94 655.30v1.40M130.88 655.30v1.40M132.51 655.30v1.40M133.93 655.30v1.40M135.18 655.30v1.40M136.30 655.30v2.60" stroke-width="0.6"/>
</g>
<path d="M78.60 568.80V655.30M38.50 634.40H136.30" stroke="#8c8c8c" stroke-width="0.9" fill="none"/>
<path d="M88.2 635.2h1m7.4 0.2h1m-41.4 0.2h1m-1 0.2h1m56.6 -0.2h1m2.8 0h1m2.8 0.8h1m-68.8 0.4h1m6.8 0.2h1m34.6 0h1m9.2 -0.4h1m-55.2 1.4h1m6.8 0h1m-0.6 0.4h1m0.2 0h1m-0.2 -0.2h1m1 0.2h1m-1 -0.2h1m-1 -0.2h1m1.2 0.4h1m3 -0.4h1m13.2 0.4h1m7 0h1m6.6 0h1m2.2 -0.2h1m1 -0.4h1m1.2 0h1m2.2 0.6h1m-0.4 -0.4h1m-1 0.2h1m1 0h1m2.4 -0.6h1m-0.6 0.2h1m0.8 0.6h1m2.6 0h1m-73 0.8h1m1.8 -0.6h1m0 0.2h1m-0.2 0h1m0.8 0h1m0 0.2h1m5.6 0h1m-0.4 0h1m1 0h1m10.6 0h1m-0.8 -0.2h1m4.8 0.6h1m1.6 -0.2h1m0.4 0.2h1m-1 -0.2h1m-0.4 -0.4h1m2.4 0h1m-0.8 -0.2h1m0 0.6h1m-0.8 0.2h1m-0.4 0h1m-0.2 0h1m0.8 -0.4h1m0.6 0h1m0.6 -0.2h1m-0.4 0h1m-0.8 -0.2h1m0 0.6h1m1.6 0h1m-0.8 -0.4h1m-0.2 0.4h1m-0.4 -0.4h1m-0.6 0.6h1m0.4 -0.4h1m0.2 0.2h1m-0.6 0h1m5.4 -0.2h1m3.6 0.2h1m0 -0.2h1m9.2 0.4h1m-85.4 0.8h1m0.8 -0.6h1m1.8 0.4h1m-1 -0.4h1m2.6 0.4h1m-0.2 -0.4h1m0.8 0.4h1m0.2 -0.2h1m-0.6 0.4h1m-0.8 -0.2h1m-1 0.2h1m-0.6 0h1m-0.8 -0.2h1m1 0h1m-0.8 -0.2h1m0.2 0.4h1m2.4 -0.2h1m0 0h1m4.6 0.4h1m2.6 -0.8h1m3.2 0.8h1m1 0h1m0 -0.2h1m-0.8 0h1m0.4 0.2h1m0.4 -0.8h1m-0.8 0h1m0.2 0.2h1m-0.2 0.4h1m-0.4 0.2h1m-0.4 -0.4h1m-0.4 -0.2h1m-1 0.6h1m-0.4 -0.6h1m-0.6 0.2h1m-0.2 -0.4h1m-0.4 0.4h1m-0.6 -0.2h1m-0.8 0.4h1m-0.8 -0.2h1m-0.4 -0.4h1m-0.8 0h1m-0.6 0.6h1m-0.8 0.2h1m-0.6 -0.6h1m-1 0.2h1m-0.4 0.4h1m-1 0h1m0.4 -0.8h1m0 0.8h1m-1 -0.4h1m-0.8 0.2h1m-0.4 -0.6h1m-1 0.6h1m0 0.2h1m-0.2 -0.4h1m0.2 0.2h1m-0.8 0.2h1m-0.4 -0.2h1m-0.8 -0.4h1m0.6 0.4h1m1.6 0h1m0.4 -0.2h1m-0.8 0.2h1m-1 -0.6h1m-0.2 0h1m0.4 0.4h1m1 0.4h1m0.6 -0.6h1m-0.8 0h1m-0.8 0h1m0 0.6h1m-0.2 0h1m-0.6 -0.8h1m-0.2 0.6h1m-0.8 0.2h1m10.4 -0.2h1m0.8 0.2h1m-85.4 1h1m2.2 -0.6h1m-1 -0.2h1m0.2 0.4h1m-0.8 0.2h1m-1 0h1m1 0h1m-0.2 -0.6h1m-0.2 0.4h1m0 -0.4h1m-1 0h1m-1 0.2h1m-0.2 0.6h1m-0.8 -0.6h1m-0.8 0h1m-1 0h1m-0.6 -0.2h1m-0.6 0.4h1m-1 0.4h1m-0.2 0h1m-0.4 -0.2h1m-0.8 -0.4h1m-0.6 0.6h1m-0.8 0h1m-0.6 -0.6h1m-1 0.6h1m1.2 -0.6h1m-1 0.4h1m-1 -0.4h1m-0.2 0h1m3.6 0h1m-0.6 0.2h1m-0.4 0.2h1m-0.6 -0.6h1m1.8 0.4h1m2.6 -0.4h1m-1 0.2h1m-0.6 -0.2h1m2 0.8h1m-0.8 0h1m0.2 -0.6h1m-0.4 0.2h1m-0.2 -0.2h1m-0.6 0.2h1m1.2 -0.2h1m-0.8 0.2h1m-0.8 0h1m-0.6 0h1m-0.8 0h1m-0.2 -0.4h1m-1 0h1m-0.8 0.6h1m-0.8 0.2h1m-0.4 -0.6h1m-0.8 -0.2h1m-0.2 0.6h1m-0.4 -0.4h1m0.2 0.2h1m-0.8 -0.2h1m-0.8 0h1m-0.8 -0.2h1m-0.8 0.8h1m-0.8 -0.6h1m-0.8 0.2h1m-1 -0.2h1m-0.8 0h1m-0.6 0h1m-0.8 -0.2h1m-0.8 0.2h1m0 0.2h1m-1 0.4h1m-0.4 -0.8h1m-0.6 0h1m-0.8 0h1m-0.8 0.4h1m-1 -0.2h1m-0.4 0.6h1m-1 -0.6h1m-1 0.4h1m0 -0.2h1m0 -0.2h1m-0.8 -0.2h1m-0.4 0.6h1m-0.8 0.2h1m-1 -0.2h1m-0.8 -0.4h1m-0.6 -0.2h1m-0.6 0.4h1m0.4 -0.4h1m-0.8 0h1m-0.8 0.6h1m-0.6 0h1m-0.6 0h1m-0.8 0.2h1m-0.8 -0.4h1m-0.2 -0.4h1m-0.4 0.6h1m0.4 0h1m-0.2 -0.4h1m-0.6 0.6h1m-0.6 -0.6h1m1 0h1m-0.8 0.6h1m0.8 -0.2h1m-0.4 0h1m-0.6 0h1m-0.6 -0.4h1m-0.4 0.2h1m-0.4 -0.2h1m-0.6 0.4h1m-0.2 -0.4h1m-1 -0.2h1m-0.2 0.8h1m0.2 -0.8h1m0 0.8h1m0 -0.8h1m0.2 0.8h1m-0.4 -0.8h1m-0.8 0.8h1m-0.2 -0.6h1m8 0.6h1m-84.4 1h1m0.2 -0.6h1m-0.4 0.4h1m0 0h1m-0.6 -0.4h1m-0.2 0.6h1m-0.8 -0.4h1m-0.8 -0.4h1m-0.2 0.4h1m-1 0.4h1m-1 -0.2h1m-0.4 0.2h1m-0.8 -0.6h1m-1 -0.2h1m-0.6 0.4h1m-0.6 0.2h1m-0.6 0h1m0 0h1m-0.4 0.2h1m-1 -0.2h1m-0.8 -0.4h1m-0.2 0.4h1m-0.8 -0.4h1m-0.4 0.2h1m-0.2 -0.4h1m0 0.4h1m1.2 0.4h1m-0.4 -0.8h1m-0.6 0.4h1m-0.2 -0.4h1m-0.6 0h1m0 0.6h1m4.6 -0.2h1m1.8 -0.4h1m1.4 0.2h1m0.2 0.2h1m-0.8 0.4h1m-0.6 0h1m-0.2 -0.2h1m-1 -0.4h1m0 0.2h1m-0.8 0.2h1m-1 -0.2h1m0.2 0.4h1m-1 -0.4h1m1 -0.4h1m-0.2 0h1m-0.2 0.6h1m-0.4 0h1m-0.8 0.2h1m-0.4 -0.4h1m-0.6 -0.2h1m-0.2 -0.2h1m-1 0.8h1m-0.8 -0.8h1m-0.4 0h1m-0.8 0.4h1m-0.8 0h1m-0.2 -0.2h1m-1 0.4h1m-0.8 -0.6h1m-0.6 0.2h1m-0.8 0.4h1m-0.8 -0.2h1m-0.8 0.2h1m-0.8 -0.6h1m-0.4 0.4h1m-1 0.2h1m-1 0h1m-0.8 0h1m-1 -0.4h1m-0.8 -0.2h1m-1 0.2h1m-0.6 0.4h1m-0.4 0h1m-1 -0.4h1m-0.8 -0.2h1m-0.2 0.8h1m-0.8 -0.4h1m-0.8 -0.2h1m-0.8 0.4h1m-0.6 0.2h1m-1 -0.6h1m-0.8 -0.2h1m-0.8 0h1m-0.6 0.6h1m-1 -0.6h1m-0.8 0.6h1m-1 0.2h1m-0.6 -0.2h1m-1 -0.6h1m-0.8 0h1m-0.6 0.6h1m-1 0.2h1m-0.8 -0.2h1m-0.8 -0.6h1m0.4 0.4h1m-1 -0.4h1m-0.4 0.2h1m-0.8 0.4h1m-0.4 -0.2h1m-1 0h1m-1 -0.2h1m-0.8 0.2h1m-1 -0.4h1m-0.8 0.8h1m-0.8 -0.8h1m-0.8 0.6h1m-0.6 -0.4h1m-1 0.4h1m-0.2 -0.4h1m-1 0.6h1m-0.4 -0.4h1m-0.6 0.2h1m-1 0.2h1m-0.2 -0.6h1m-0.8 0.2h1m-0.4 0.2h1m-0.8 -0.6h1m-1 0h1m-0.8 0.2h1m-0.8 -0.2h1m-0.8 0.6h1m-0.8 -0.6h1m-1 0.4h1m0.6 0.2h1m-0.8 -0.6h1m-0.6 0h1m-0.6 0h1m0.4 0.4h1m0 0.4h1m-0.8 -0.6h1m-0.6 0h1m-0.8 -0.2h1m-1 0h1m-0.4 0.8h1m-1 -0.2h1m0.4 -0.4h1m-1 -0.2h1m-1 0.4h1m-0.8 0.4h1m-0.8 -0.2h1m0.6 0h1m-0.6 0h1m-1 0h1m-0.6 0h1m-1 -0.4h1m-1 0h1m0.6 0.4h1m-0.6 0.2h1m0.6 0h1m8.2 -0.4h1m-82.4 0.6h1m2.8 0.4h1m-1 0.4h1m-0.4 -0.6h1m-0.6 0.6h1m-0.2 0h1m-0.6 -0.2h1m-0.6 -0.2h1m-0.8 0h1m-0.6 -0.4h1m-1 0.4h1m-0.6 0.2h1m-0.8 -0.6h1m-0.8 0.6h1m-0.8 0h1m-0.2 -0.4h1m-1 0.4h1m0.2 0.2h1m-0.8 -0.4h1m-0.8 0h1m-0.8 0.2h1m-1 0h1m-0.6 0h1m-0.8 0h1m-0.8 -0.6h1m-0.6 0.4h1m-0.6 0.2h1m-0.4 -0.6h1m-0.6 0.2h1m-1 -0.2h1m0 0.6h1m0.2 -0.6h1m-0.6 0.4h1m-1 0h1m0.2 0.2h1m-1 0.2h1m-0.4 -0.8h1m-0.6 0.8h1m-0.6 -0.8h1m-1 0.2h1m0 0.6h1m0.8 -0.2h1m0.2 0.2h1m-1 0h1m0.4 -0.6h1m1.8 0.2h1m-1 0.4h1m-0.8 -0.6h1m0.4 0.2h1m-0.6 -0.4h1m-0.2 0h1m-1 0.8h1m-0.8 -0.8h1m-0.4 0h1m0 0.2h1m-0.4 0h1m-0.8 0h1m-0.2 0h1m0.6 0.4h1m0 -0.4h1m-0.6 -0.2h1m-0.6 0.8h1m-0.6 -0.2h1m-1 -0.6h1m-0.8 0.8h1m-0.8 0h1m-0.4 -0.8h1m-0.4 0.4h1m-0.4 0h1m-1 -0.2h1m-1 0.4h1m-0.4 0h1m-1 -0.6h1m-0.4 0.8h1m-1 -0.6h1m-0.8 0h1m-0.8 0.2h1m-1 0.2h1m0 0.2h1m-1 -0.8h1m-0.8 0.4h1m-1 -0.4h1m-0.6 0.6h1m-1 0h1m-0.8 0.2h1m-0.8 -0.4h1m-0.6 -0.4h1m-0.8 0.8h1m-0.8 -0.2h1m-0.2 -0.6h1m-1 0h1m-1 0.8h1m-0.4 -0.6h1m-0.2 0.6h1m-0.8 0h1m-0.8 -0.8h1m-1 0.6h1m-0.6 -0.6h1m-0.8 0.2h1m-1 0.6h1m-0.8 -0.6h1m-0.8 0.2h1m-0.8 -0.2h1m-1 0.6h1m-0.2 -0.8h1m-1 0h1m-0.4 0h1m-0.6 0.6h1m-0.6 -0.2h1m-1 0.2h1m-0.8 -0.2h1m-0.4 0.4h1m-0.6 -0.8h1m-1 0.4h1m-0.8 -0.4h1m-1 0.6h1m-0.4 -0.2h1m-1 0.2h1m-0.2 -0.4h1m-0.8 0.4h1m-1 0h1m-0.8 -0.2h1m-1 0h1m-0.2 0.2h1m-0.6 0.2h1m-0.8 -0.6h1m-0.8 0.6h1m-1 -0.8h1m-1 0.8h1m-1 -0.4h1m-0.6 -0.4h1m-1 0.8h1m-1 -0.2h1m-0.8 -0.4h1m-1 0.4h1m-1 -0.4h1m-0.8 0.6h1m-0.8 -0.6h1m-1 0.4h1m-0.4 0h1m-1 0h1m-0.8 0h1m-0.8 -0.4h1m-0.8 0.2h1m-0.8 -0.2h1m-0.6 0.6h1m-0.6 0h1m-0.6 -0.4h1m-0.6 0h1m-0.8 0h1m-0.8 0.2h1m-0.8 0h1m-1 -0.4h1m-0.8 -0.2h1m-0.8 0.6h1m-0.8 0h1m-1 -0.6h1m-0.8 0h1m-1 0h1m-0.8 0.4h1m-0.8 -0.4h1m-0.2 0.4h1m-0.2 -0.2h1m-0.6 0.4h1m-0.6 -0.4h1m-0.8 0.2h1m-0.4 0.4h1m-0.8 0h1m-0.4 -0.8h1m-1 0.6h1m-1 -0.4h1m-1 0.6h1m-0.4 -0.2h1m-1 -0.6h1m-0.8 0.8h1m-0.4 0h1m0.6 0h1m-0.6 -0.6h1m0 0.2h1m-1 -0.4h1m0.2 0.2h1m0 0.2h1m-1 -0.4h1m-0.6 0.8h1m-0.2 -0.4h1m0 0h1m-0.8 0h1m-0.8 0.2h1m-0.6 -0.6h1m-0.6 0h1m1.4 0.8h1m-0.6 -0.6h1m1.6 0.2h1m2.4 0.2h1m-82.4 1.2h1m-0.2 -0.8h1m-0.4 0h1m0 0.4h1m-0.6 -0.4h1m-1 0.4h1m-1 0.4h1m-0.2 -0.4h1m-0.8 0h1m0 0.2h1m-0.8 -0.2h1m-0.6 -0.2h1m-0.8 0.4h1m-1 0.2h1m-0.8 0h1m0 0h1m-0.6 -0.4h1m-0.4 -0.4h1m0.2 0.6h1m-0.8 0.2h1m-0.8 -0.2h1m-1 0h1m-0.8 -0.4h1m-0.8 0h1m-0.8 0.2h1m-1 0.2h1m-0.8 -0.4h1m-0.4 0h1m-0.6 0.6h1m-0.8 0h1m-0.8 -0.2h1m-1 0.2h1m-0.6 -0.6h1m-1 0.4h1m-0.6 -0.2h1m-0.8 0h1m0 -0.2h1m-0.8 0.4h1m-1 0.2h1m-0.4 0h1m0.8 -0.6h1m-0.4 0.2h1m-0.6 -0.4h1m2 0.6h1m-0.2 0.2h1m-0.8 0h1m4.6 -0.4h1m1.8 0h1m-0.6 0.4h1m-0.8 -0.8h1m-1 0.2h1m1 0.4h1m-1 0h1m0.8 0.2h1m0.2 -0.2h1m-0.2 -0.6h1m-0.8 0.8h1m-0.8 -0.6h1m-0.8 -0.2h1m-0.4 0.8h1m-1 -0.6h1m-0.4 0.6h1m-1 -0.6h1m-0.8 -0.2h1m-0.6 0h1m-1 0.4h1m-0.8 -0.4h1m-0.4 0.6h1m-0.4 -0.4h1m-0.8 0.6h1m-0.4 -0.2h1m-0.4 0h1m-1 0.2h1m-0.8 -0.6h1m-0.8 0.4h1m-0.6 0h1m-1 0h1m-0.4 0.2h1m-0.6 -0.8h1m-0.8 0.2h1m-1 -0.2h1m-0.8 0.8h1m-0.8 -0.8h1m-0.8 0.8h1m-0.8 0h1m-0.8 -0.8h1m-0.8 0.4h1m-0.8 -0.4h1m-0.6 0.2h1m-0.4 0.6h1m-0.8 -0.8h1m-0.6 0.4h1m-1 0h1m-0.6 0h1m-1 0h1m-0.8 0.2h1m-0.6 0.2h1m-0.8 -0.6h1m-1 -0.2h1m-0.8 0.2h1m-1 -0.2h1m-0.8 0.4h1m-0.8 -0.2h1m-1 0.4h1m-1 0h1m-0.8 -0.2h1m-0.8 0.2h1m-0.8 -0.6h1m-0.6 0.6h1m-0.6 -0.6h1m-1 0.2h1m-1 0.2h1m-0.6 -0.2h1m-0.8 -0.2h1m-1 0.2h1m-0.6 0.2h1m-0.8 0.4h1m-1 -0.2h1m-1 -0.2h1m-1 0h1m-0.8 0h1m-0.6 -0.2h1m-1 0h1m-1 0h1m-0.6 -0.2h1m-0.8 0.4h1m-1 0h1m-0.4 0.2h1m-0.8 -0.6h1m-1 0.2h1m-0.2 0.6h1m-1 -0.8h1m-1 0h1m-0.8 0.8h1m-0.8 -0.2h1m-0.8 0h1m-1 0.2h1m-1 0h1m-0.8 -0.8h1m-0.8 0.2h1m0 0.2h1m-0.8 0h1m-0.4 -0.4h1m-0.6 0.6h1m-0.8 -0.6h1m-0.8 0.2h1m-0.8 0.6h1m-1 0h1m-1 -0.4h1m-0.4 0h1m0.4 0h1m-1 -0.2h1m-0.8 -0.2h1m-1 0.8h1m-0.6 -0.4h1m-1 0.2h1m-0.8 -0.2h1m-1 0.2h1m-1 0.2h1m-0.8 0h1m-0.6 -0.2h1m-0.4 0.2h1m-0.8 -0.8h1m-1 0.8h1m-0.8 -0.4h1m-0.8 0.4h1m-0.2 -0.8h1m-0.8 0.2h1m-0.8 0.2h1m-1 -0.2h1m-0.2 0h1m-1 0h1m-0.8 0.4h1m-0.6 -0.6h1m0.4 0h1m-0.6 0.4h1m-0.4 -0.2h1m0 0.4h1m-1 -0.4h1m-0.8 0h1m-0.8 0.2h1m-0.2 -0.2h1m-0.8 0.6h1m-1 -0.4h1m0.2 -0.4h1m-0.2 0h1m-0.4 0.6h1m-0.6 -0.6h1m-0.6 0.8h1m2.6 -0.2h1m0.4 -0.4h1m1.8 0.2h1m-0.6 -0.4h1m-81.6 1.4h1m1.2 0.4h1m0.2 0h1m-0.6 -0.8h1m0 0.4h1m-1 0.2h1m-0.6 0h1m-0.6 -0.6h1m-1 0.2h1m-0.8 0h1m-0.6 0.2h1m-0.6 0h1m-0.8 0.4h1m-1 -0.8h1m-0.6 0h1m-0.6 0.2h1m-0.2 -0.2h1m-1 0.8h1m-1 -0.4h1m-1 0.2h1m-0.4 -0.2h1m-0.6 0.4h1m-0.6 -0.8h1m-0.4 0.6h1m-1 -0.6h1m-0.8 0h1m-1 0.6h1m-0.4 -0.4h1m-0.6 0.4h1m-1 0.2h1m-0.4 -0.4h1m0.8 0.4h1m-0.4 -0.2h1m-1 -0.2h1m-0.8 0.4h1m-0.2 -0.8h1m1.2 0.4h1m0 0.4h1m0.8 -0.8h1m2.2 0h1m-0.8 0.6h1m-0.8 0h1m-0.8 -0.6h1m-1 0h1m1.2 0.2h1m-0.4 0.6h1m1 0h1m-0.8 -0.8h1m-0.4 0.6h1m0 -0.4h1m-0.2 0h1m-0.8 -0.2h1m-0.8 0.6h1m-1 -0.4h1m-0.8 0.4h1m-0.4 0h1m0.6 -0.4h1m-0.8 0.4h1m-0.8 -0.4h1m-0.8 -0.2h1m-0.8 0.2h1m-0.8 -0.2h1m-0.8 0h1m-0.6 0.4h1m-0.8 0h1m-0.6 0.2h1m-0.8 -0.4h1m-1 0.2h1m-1 0h1m-0.8 0h1m-1 -0.4h1m-1 0.8h1m-0.8 0h1m-0.2 -0.2h1m-0.6 0.2h1m-0.8 -0.8h1m-0.2 0.6h1m-1 0.2h1m-0.8 -0.2h1m-1 0.2h1m0.2 -0.6h1m-0.8 -0.2h1m0 0.4h1m0 -0.4h1m-0.8 0.6h1m-0.4 -0.6h1m-1 0.8h1m-0.8 -0.6h1m-0.6 0.6h1m-0.8 -0.4h1m-0.8 0.2h1m-1 0.2h1m-0.6 0h1m-0.2 -0.6h1m-1 0.6h1m-0.6 -0.6h1m-1 -0.2h1m-0.8 0.6h1m-0.6 0.2h1m-0.8 -0.6h1m0 0.6h1m-0.8 0h1m-1 -0.4h1m-1 -0.2h1m-0.8 0h1m-0.8 0.2h1m-0.4 -0.4h1m-0.2 0.4h1m-0.8 -0.4h1m-0.8 0.4h1m-1 0.2h1m-1 -0.6h1m-0.6 0h1m-0.8 0.8h1m-1 -0.4h1m-0.8 0.2h1m-0.8 -0.4h1m-0.8 0h1m-1 0.2h1m-0.6 -0.4h1m-0.8 0.6h1m-1 -0.4h1m-0.6 0.6h1m-1 -0.8h1m-0.4 0h1m-1 0.6h1m-0.8 -0.2h1m0.2 -0.4h1m-1 0h1m-0.2 0h1m-0.8 0.2h1m-0.8 0.6h1m-0.8 -0.4h1m-0.2 -0.4h1m-1 0.4h1m-0.2 0.2h1m0.2 0h1m-0.8 -0.2h1m-1 0.4h1m-0.8 -0.8h1m-1 0.6h1m-0.8 -0.4h1m0 0h1m-0.8 0h1m-0.8 -0.2h1m-0.2 0.6h1m-0.4 -0.4h1m-0.4 0h1m-0.6 0h1m-0.8 0.2h1m-0.8 0h1m-0.4 -0.2h1m-0.8 0.2h1m-0.2 -0.4h1m-1 0.2h1m-0.8 0.4h1m-1 -0.6h1m-0.8 0.2h1m-0.6 0.4h1m-0.4 -0.6h1m-0.4 0.8h1m-0.8 -0.8h1m-0.6 0h1m-0.8 0.6h1m-0.8 -0.4h1m-1 0h1m3.6 -0.2h1m-1 0.2h1m-0.8 -0.2h1m1.8 0h1m0.6 0.2h1m-0.8 -0.2h1m3.2 0.8h1m-80.6 0.2h1m0 0.2h1m-1 0h1m-0.6 -0.2h1m0.8 0.4h1m0.2 -0.4h1m-0.4 0.4h1m-1 0h1m0.2 0h1m-0.4 -0.4h1m-0.6 0h1m-0.6 0.2h1m-1 -0.2h1m-0.8 0.4h1m-0.2 0.4h1m-0.4 -0.6h1m0.4 0.6h1m0.4 0h1m-0.6 0h1m0.8 -0.4h1m1.4 0.2h1m2.2 -0.6h1m3.6 0.4h1m2.4 0.2h1m-0.8 0h1m-1 0.2h1m-0.4 -0.6h1m0.2 0.6h1m0 -0.2h1m-0.8 -0.6h1m-0.2 0.8h1m-0.8 0h1m-0.8 -0.4h1m-0.4 -0.4h1m-0.6 0.8h1m0.8 -0.2h1m0.4 -0.4h1m-0.8 0.4h1m0.4 -0.2h1m-0.2 0.2h1m-0.6 -0.6h1m-1 0.8h1m-0.6 0h1m0.2 -0.2h1m-0.6 -0.4h1m-0.2 0h1m0 0h1m-0.8 0h1m-0.8 0.4h1m-0.8 -0.2h1m-0.8 -0.4h1m-0.8 0.6h1m-0.4 0.2h1m-1 -0.6h1m-1 -0.2h1m-0.8 0.8h1m-1 -0.8h1m-0.8 0h1m-1 0.4h1m-0.8 0.4h1m-1 -0.8h1m-0.8 0.2h1m-0.8 0.6h1m0 -0.2h1m-0.8 0h1m-0.8 0h1m-1 0.2h1m-1 0h1m-0.8 -0.8h1m-0.6 0.2h1m0 0.4h1m-0.8 -0.6h1m-1 0h1m-0.8 0.2h1m-0.8 0h1m-0.6 -0.2h1m-1 0.4h1m-1 -0.4h1m-0.6 0h1m-0.6 0h1m-0.8 0.6h1m-0.8 -0.2h1m-0.6 -0.2h1m-1 0h1m0.2 0h1m-0.4 0.6h1m-0.8 0h1m-0.8 -0.4h1m-0.6 0.2h1m0 0.2h1m-0.6 -0.4h1m-0.8 -0.2h1m-1 0.2h1m0.2 0.4h1m-0.2 -0.8h1m0.4 0h1m0 0h1m-0.6 0.8h1m0.4 -0.2h1m-0.4 0.2h1m0.2 0h1m-0.6 0h1m-1 -0.8h1m0 0h1m0.4 0.8h1m-1 -0.2h1m-0.8 0h1m-0.2 -0.2h1m-0.6 -0.4h1m0 0.6h1m-0.8 -0.6h1m2.2 0h1m0.8 0.2h1m-78.6 1.2h1m0.8 -0.4h1m1.2 0.2h1m-0.6 0.2h1m-0.8 0.2h1m0.4 -0.6h1m-0.6 0.8h1m-0.8 0h1m-0.8 -0.8h1m-0.4 0.4h1m-0.4 0h1m0.4 0.4h1m-1 -0.6h1m-0.2 -0.2h1m-0.6 0.8h1m-0.4 -0.4h1m-0.4 0.2h1m-0.6 0.2h1m-0.6 -0.6h1m-0.2 0.2h1m-0.2 -0.2h1m-0.6 0.4h1m0 -0.2h1m0.4 0.4h1m2.4 -0.2h1m0 0h1m3.8 -0.6h1m-0.4 0.2h1m0 -0.2h1m2 0.2h1m0 -0.2h1m0.2 0h1m2.2 0.6h1m1.2 -0.4h1m0 0h1m-0.4 0.2h1m-0.6 0h1m0 0h1m-1 0h1m0.4 -0.4h1m-0.4 0.2h1m0.6 0h1m-0.8 0.4h1m1 -0.6h1m-0.2 0.2h1m-0.4 0.2h1m-0.2 -0.2h1m-0.8 0.2h1m-0.8 0h1m-1 -0.4h1m-0.6 0.6h1m-0.8 -0.2h1m-0.8 -0.2h1m-0.4 -0.2h1m0 0h1m-1 0h1m-0.8 0.2h1m-1 0h1m-0.8 0.6h1m-0.4 -0.4h1m-0.8 0h1m-0.8 -0.4h1m0 0h1m-0.6 0.6h1m-1 0.2h1m-0.8 -0.8h1m-1 0.6h1m-0.8 -0.4h1m-0.6 0h1m-0.6 0.2h1m-0.6 -0.4h1m0 0h1m-1 0.6h1m-1 -0.6h1m-0.6 0.2h1m0 0h1m-0.2 -0.2h1m-1 0h1m0.4 0.2h1m0.6 -0.2h1m0.4 0.2h1m-1 -0.2h1m1.2 0.8h1m-1 -0.8h1m-0.8 0.6h1m0 -0.4h1m-0.4 0.6h1m1 -0.8h1m0.6 0.2h1m-0.8 0.4h1m0 -0.2h1m-1 -0.2h1m0.4 0.6h1m-0.6 -0.6h1m-0.2 0.6h1m0 -0.4h1m0.2 -0.4h1m-75.6 1.4h1m-0.4 -0.4h1m3.8 0.6h1m-0.2 0.2h1m0.2 -0.4h1m1.6 0.2h1m11 -0.4h1m-0.4 0.6h1m-0.6 -0.4h1m3.6 -0.4h1m-0.8 0.4h1m0 0h1m2.6 -0.4h1m-0.4 0.4h1m-0.8 0h1m1.2 -0.4h1m-0.2 0.4h1m2 0.2h1m0 -0.2h1m-0.6 -0.2h1m-1 0.2h1m-0.8 -0.2h1m1.2 0.4h1m-1 -0.4h1m-0.6 -0.2h1m-0.2 0.8h1m0.6 -0.6h1m1.2 0.2h1m0 0.4h1m-0.8 -0.4h1m0.8 -0.4h1m-0.4 0.4h1m-1 -0.2h1m-0.8 0h1m-0.8 -0.2h1m-0.8 0.2h1m-0.8 0.6h1m-0.8 -0.6h1m3.6 -0.2h1m-0.4 0.6h1m0 -0.6h1m-0.6 0.6h1m-0.2 0h1m-0.4 0h1m-0.6 -0.2h1m-0.8 0h1m7 0h1m3.4 0h1m-77.6 0.8h1m3.2 -0.2h1m3.6 0.2h1m-1 0.4h1m0.2 -0.2h1m5.6 0h1m1.6 0.4h1m8.4 -0.8h1m0.2 0h1m5.6 0.4h1m2.2 0h1m1 -0.2h1m-0.8 -0.2h1m-0.8 0h1m-0.6 0.4h1m5 0h1m2.8 -0.4h1m0 0.2h1m0.6 0h1m2.2 0.6h1m0.2 0h1m0.2 -0.4h1m1.6 0h1m2.6 0h1m-0.6 0h1m1 -0.2h1m0.6 0h1m1 -0.2h1m-78.4 1.6h1m10.4 0h1m0.6 -0.6h1m16.2 0.4h1m2.4 0.2h1m-0.4 0h1m11.2 -0.6h1m1.2 0.6h1m8.4 -0.2h1m2 0.4h1m1.4 -0.8h1m3 0.2h1m-17.8 0.8h1" stroke="#262626" stroke-opacity="1.0" stroke-width="1" fill="none"/>
<path d="M102.2 635.6h1m-5 1.8h1m-2.2 0.2h1m6 0.6h1m3.4 -0.4h1m1.8 0h1m-0.8 0.2h1m-23 0.6h1m4.8 0.4h1m2.4 0h1m-0.6 -0.4h1m3.6 0.8h1m3.8 -0.8h1m0 0.8h1m-0.6 -0.4h1m0.8 -0.4h1m-29.8 1.6h1m8 0h1m0 0h1m-0.4 0.2h1m1.8 -0.8h1m0.2 0.8h1m-0.8 0h1m-0.2 -0.2h1m-0.2 -0.6h1m-0.4 0.6h1m-0.6 0.2h1m-1 -0.4h1m1 0.4h1m1.6 -0.2h1m-1 -0.4h1m-0.8 0.4h1m-1 -0.4h1m-0.8 0.4h1m-0.2 -0.2h1m-0.6 0.4h1m1 -0.2h1m-0.8 -0.2h1m0 -0.2h1m0.6 0.2h1m-22.8 1h1m-0.8 0h1m-0.4 0.4h1m0.2 0h1m-0.4 -0.8h1m-0.6 0.8h1m-0.6 -0.4h1m-0.6 0.2h1m-0.6 -0.4h1m-0.6 0h1m0 0h1m0.4 -0.2h1m-0.8 0h1m-1 0.8h1m-0.8 -0.6h1m-0.6 -0.2h1m-0.8 0.4h1m-0.8 0h1m-0.4 -0.2h1m-1 0.4h1m-0.8 -0.2h1m-0.4 0.4h1m-0.6 -0.8h1m-0.8 0.2h1m-0.4 0.2h1m-0.8 -0.4h1m-1 0.4h1m0.2 -0.4h1m-0.6 0.2h1m-0.8 0h1m-0.8 0.2h1m-0.2 0h1m0.4 -0.2h1m-0.8 0.4h1m-1 -0.2h1m-0.6 0h1m-1 -0.4h1m0 0.6h1m-0.8 -0.4h1m-0.6 0.2h1m-0.8 0.4h1m0.4 -0.4h1m0.2 -0.4h1m-0.6 0.4h1m-0.2 0h1m-0.2 0h1m0.6 0.4h1m-1 0h1m-0.8 0h1m1.8 0h1m-37.2 1h1m5 -0.6h1m-0.8 0.4h1m-0.2 0.2h1m0.2 -0.8h1m-0.8 0.6h1m-1 -0.6h1m-0.4 0.2h1m1.2 0.4h1m-0.4 -0.4h1m0 0.2h1m-0.8 0.4h1m-0.2 0h1m-0.6 -0.2h1m-0.2 0.2h1m-0.8 0h1m-0.4 -0.6h1m-0.6 0.2h1m-1 0.2h1m-0.8 0.2h1m-0.8 -0.4h1m-0.6 0.2h1m-0.2 0.2h1m-0.8 0h1m-1 -0.2h1m-0.4 0h1m0.2 0.2h1m-1 0h1m-0.8 -0.4h1m-0.8 0.4h1m-0.6 -0.6h1m-1 0.4h1m-0.2 -0.4h1m0 0.4h1m-0.4 -0.6h1m-0.6 0.4h1m0 0.4h1m-0.8 -0.8h1m-1 0.2h1m-0.6 -0.2h1m-1 0h1m-0.6 0.6h1m-0.4 0h1m-0.8 -0.4h1m-1 0h1m-0.6 0.6h1m-0.2 -0.4h1m-0.6 0h1m-0.8 0h1m-0.6 0.4h1m-0.4 -0.2h1m-0.8 -0.2h1m-1 0h1m-0.2 -0.4h1m5 0.2h1m-32.8 1.6h1m-0.8 0h1m-0.4 0h1m-0.2 -0.6h1m0.4 0.4h1m-1 -0.2h1m2.2 0.2h1m0 0h1m0 -0.2h1m0 0.2h1m-0.6 -0.6h1m-1 0.2h1m0.6 0.2h1m-1 -0.4h1m-0.6 0.8h1m-1 -0.8h1m-0.8 0.6h1m-0.6 -0.2h1m-0.8 0.4h1m-0.8 0h1m-0.6 -0.2h1m-1 -0.4h1m-0.4 0.6h1m-0.8 -0.6h1m-0.8 0h1m-1 0h1m-0.6 -0.2h1m-0.6 0.6h1m-0.8 0.2h1m-1 -0.2h1m-1 -0.4h1m-0.8 0h1m-1 0.6h1m-0.8 -0.8h1m-1 0.2h1m-1 0.4h1m-0.6 0h1m-0.8 0.2h1m-0.6 -0.8h1m0.2 0.4h1m-1 -0.2h1m-1 0.4h1m-0.8 0h1m-1 -0.6h1m-0.8 0.8h1m0 -0.4h1m-0.4 -0.4h1m-1 0.4h1m-0.8 -0.2h1m-1 0h1m-0.4 0h1m-0.8 -0.2h1m-0.4 0.6h1m-1 0h1m-0.8 -0.2h1m-1 0.2h1m-1 0.2h1m-0.8 -0.4h1m-0.8 -0.2h1m-0.8 0.6h1m-0.8 -0.2h1m-0.8 -0.4h1m-1 0h1m-1 -0.2h1m0.4 0.4h1m-0.4 0.2h1m-1 -0.2h1m-0.8 0.2h1m-0.4 -0.2h1m-0.4 0.2h1m-0.8 0h1m-0.2 -0.4h1m-1 0.4h1m-0.6 -0.4h1m-0.8 0.2h1m-1 -0.2h1m-0.2 0.4h1m-0.6 0h1m-0.8 0h1m-1 -0.6h1m0 0h1m0.2 0.8h1m-1 -0.2h1m0.6 -0.2h1m-33 0.8h1m0.6 0.2h1m-0.8 -0.4h1m-0.8 0h1m0 0.4h1m0.6 0.2h1m-0.2 0h1m-1 0h1m-0.8 0h1m-0.8 -0.4h1m-0.2 -0.2h1m0 0h1m0.4 0.2h1m-0.8 0.6h1m-1 -0.8h1m-1 0.8h1m-0.8 0h1m-0.8 -0.8h1m-0.8 0.8h1m-0.8 -0.2h1m-0.8 -0.6h1m-0.8 0.6h1m-1 0.2h1m-1 -0.4h1m0 -0.4h1m-0.8 0.8h1m-1 -0.6h1m-0.6 0.6h1m0 -0.8h1m0.2 0h1m-1 0.2h1m-0.6 0.4h1m-0.8 0.2h1m-0.8 -0.2h1m-1 0h1m-0.6 -0.4h1m-1 0.2h1m-0.8 -0.2h1m-0.8 0.6h1m-0.8 -0.8h1m-1 0.2h1m-0.8 0.6h1m-0.8 -0.4h1m-0.8 0.2h1m-1 -0.6h1m-1 0h1m-0.2 0h1m-1 0.2h1m-1 0.2h1m-1 0h1m-0.6 -0.2h1m-0.8 0h1m-0.6 0h1m-0.8 0.6h1m-1 -0.4h1m-0.4 0.4h1m-0.4 -0.6h1m-1 0.4h1m-0.6 -0.2h1m-1 0h1m-0.6 0h1m-0.2 0h1m-0.8 0h1m-0.8 0.4h1m-0.6 -0.8h1m-0.8 0.6h1m-0.6 -0.6h1m-1 0.6h1m-0.8 -0.6h1m-1 0.8h1m-1 -0.8h1m-0.6 0.8h1m-1 -0.6h1m-0.6 0.2h1m-0.4 0h1m-1 -0.4h1m-1 0.2h1m0.4 0h1m-1 -0.2h1m-0.2 0.4h1m-0.4 -0.2h1m-1 0.4h1m-0.4 -0.6h1m0 0.6h1m-0.8 0.2h1m-0.8 -0.6h1m-0.4 0.2h1m-34 1.2h1m4.4 -0.2h1m0.6 0.4h1m-0.2 -0.8h1m-0.2 0.2h1m-0.6 0.2h1m-0.2 -0.2h1m-0.2 -0.2h1m-0.4 0h1m0.4 0h1m-0.8 0.4h1m-0.8 0.4h1m-0.6 -0.4h1m0 -0.4h1m0 0.8h1m-0.6 -0.8h1m-0.8 0.2h1m0 0.2h1m-1 0.4h1m-0.6 0h1m-0.8 -0.2h1m-1 -0.6h1m-0.2 0h1m-0.6 0.6h1m-1 -0.6h1m-0.2 0.6h1m-0.8 0h1m-0.4 0.2h1m-0.4 -0.2h1m-0.8 0.2h1m-0.6 0h1m-0.8 -0.2h1m-0.6 -0.2h1m-1 0h1m-1 -0.2h1m-0.8 0.6h1m-1 -0.8h1m-0.8 0.4h1m-0.4 0.4h1m-0.4 -0.2h1m-0.2 -0.4h1m0.2 0.6h1m-0.8 -0.4h1m-0.8 0h1m-0.6 0.4h1m-0.8 -0.2h1m-0.8 -0.6h1m-1 0.8h1m-0.4 -0.4h1m-1 0h1m-0.6 0.2h1m-0.6 -0.2h1m-0.8 0h1m1.2 0.2h1m0.6 0.2h1m-0.6 0h1m0.2 -0.6h1m0 0.2h1m-0.2 -0.2h1m-0.8 0.4h1m-38.6 0.8h1m3.4 -0.4h1m4 0.6h1m-0.6 0h1m-0.6 0.2h1m-0.4 -0.8h1m-0.8 0.4h1m-1 0.4h1m0.4 -0.2h1m0.6 -0.4h1m0 0.4h1m-1 0.2h1m0 -0.6h1m0.2 0h1m-1 -0.2h1m-0.8 0.8h1m-0.6 -0.8h1m-1 0.8h1m-0.8 -0.8h1m-0.8 0.8h1m-0.6 0h1m-0.4 -0.8h1m-0.2 0h1m-0.8 0h1m0.4 0h1m-1 0.4h1m-0.6 0.2h1m-0.6 0h1m-1 0h1m-1 0.2h1m-0.2 -0.2h1m-0.8 0.2h1m-0.4 -0.6h1m-0.6 0.6h1m-1 -0.6h1m-1 -0.2h1m-1 0.2h1m-1 0h1m-0.4 0.4h1m0.4 -0.6h1m-0.6 0.2h1m-0.2 0.2h1m-0.4 -0.4h1m-0.8 0.4h1m-0.8 -0.4h1m-0.4 0h1m-0.2 0.4h1m-0.8 0h1m-0.8 -0.4h1m1.6 0h1m0.2 0.8h1m-26.6 0.2h1m-1 0.6h1m-0.2 -0.4h1m1.2 0h1m-0.8 0h1m0 0.4h1m0.6 -0.2h1m0.8 0.2h1m1.6 -0.4h1m0.2 -0.2h1m-0.8 0.4h1m-0.2 -0.4h1m-0.6 0h1m-0.6 0.4h1m-0.2 0h1m-0.8 -0.4h1m-0.6 0.6h1m-0.6 -0.2h1m-0.4 0.4h1m-0.4 -0.2h1m0.2 -0.4h1m20.8 0.4h1m-40 0.8h1m-0.8 -0.4h1m-0.2 0h1m3.4 0.4h1m0 -0.4h1m0.4 0h1m-0.6 0.2h1m0 -0.2h1m0.2 0.4h1m1.6 0.2h1m2.4 -0.2h1m2.8 -0.4h1m4.8 0.6h1m-18.8 0.4h1m1.6 0h1m5.8 0h1m0.4 0.2h1m-0.8 0h1m1.4 0.2h1m-26.4 0.6h1m23.6 0h1m0 0h1m-0.6 0h1" stroke="#1a1a1a" stroke-opacity="1.0" stroke-width="1" fill="none"/>
<path d="M93.4 638.2h1m0 0.2h1m-55.6 1.6h1m38 0.2h1m6.8 -0.2h1m-30 1.2h1m6.8 -0.6h1m5 0.4h1m-0.8 -0.2h1m8.8 0.4h1m2.8 0h1m3.2 -0.6h1m3.6 0.2h1m-0.2 0.4h1m-33.2 1.2h1m1.4 -0.4h1m36.4 0.2h1m2.2 -0.4h1m7.8 0.4h1m-41.2 1h1m6.8 0.2h1m0.8 -0.2h1m-25.6 0.4h1m-0.8 0h1m0 0.2h1m1.2 0.6h1m12.8 -0.4h1m16.6 -0.4h1m-37.2 1.8h1m30.8 -0.2h1m9.2 -0.4h1m3.4 0.2h1m21.6 -0.2h1m-78.4 1h1m2.2 -0.2h1m7 0.4h1m2.6 -0.4h1m0.6 0.6h1m8.8 -0.2h1m6.2 0h1m2.2 0h1m-31.8 1.2h1m1 -0.6h1m1.2 0.2h1m4.6 0.6h1m2 -0.2h1m8.2 -0.4h1m-0.8 -0.2h1m1.8 0.8h1m3.4 -0.4h1m4.2 0h1m8.6 -0.4h1m9.4 0.2h1m21.8 0.6h1m-88.4 0.2h1m3.8 0.8h1m3.6 -0.4h1m5 -0.4h1m4.6 0.2h1m5.2 0.4h1m0.6 -0.4h1m-0.4 0.4h1m-0.4 -0.2h1m-0.8 0.4h1m2.4 -0.2h1m-0.4 0h1m5 0.2h1m2 0h1m2.8 0h1m-0.6 -0.2h1m4.2 -0.4h1m5.4 -0.2h1m0 0h1m1.2 0.6h1m2.6 -0.4h1m-0.2 0.2h1m0.2 0.2h1m-72.2 0.8h1m1.4 -0.4h1m-0.8 0.6h1m0.6 0.2h1m0 0h1m-0.8 -0.8h1m0 0.6h1m0 -0.4h1m5.4 0h1m0.4 0.6h1m2 -0.8h1m0.6 0.6h1m2.2 0h1m-1 0h1m0 0h1m2.2 -0.2h1m4.2 0h1m7.2 -0.4h1m1.4 0.8h1m-0.2 -0.2h1m0.2 -0.4h1m1.4 0.2h1m2.4 0.4h1m1.2 -0.6h1m4.2 0h1m-0.6 0h1m-0.2 0.2h1m-0.6 0.2h1m5.6 -0.4h1m0.2 -0.2h1m5.6 0.6h1m4.2 0h1m2.2 -0.6h1m2.4 0h1m6.8 0.6h1m-97.4 1h1m-1 0.2h1m16 -0.6h1m-0.8 0.2h1m0.8 -0.2h1m1 0h1m3.2 0h1m2.4 0.6h1m2.6 0h1m-0.4 -0.4h1m1.6 -0.4h1m4 0h1m-1 0.8h1m6 0h1m1.6 0h1m3.4 -0.4h1m1.2 -0.2h1m4.8 -0.2h1m-0.2 0h1m0.4 0.2h1m1.2 0.2h1m1.4 -0.2h1m2.6 0.4h1m-0.4 -0.4h1m-1 0.2h1m4.8 -0.2h1m2.8 0.2h1m-69.6 1.2h1m-0.2 -0.4h1m7.4 -0.2h1m-0.6 0.2h1m10.2 0.6h1m-0.8 -0.6h1m-0.2 0.6h1m-0.2 -0.8h1m-0.2 0h1m-1 0.6h1m1.2 -0.2h1m2.6 0.2h1m8.2 -0.6h1m-1 0h1m5.6 0.2h1m3.4 -0.2h1m-0.6 0.8h1m2 -0.6h1m0.6 -0.2h1m8.8 0h1m12 0.2h1m-77.6 1.4h1m6.2 0.2h1m10.6 -0.8h1m7.2 0.2h1m0.6 -0.2h1m1.8 0.6h1m0.2 -0.4h1m8.6 0.6h1m-35.8 0.4h1" stroke="#404040" stroke-opacity="1.0" stroke-width="1" fill="none"/>
<path d="M92.0 614.8h1m3.2 4.8h1m6.8 0h1m-8.8 4.2h1m-35.2 3.4h1m14.4 0h1m27.8 -0.4h1m-44.4 3.4h1m44.4 1.4h1m-39.2 2.8h1" stroke="#9a9a9a" stroke-opacity="1.0" stroke-width="1" fill="none"/>
<text x="38.50" y="664.70" font-size="4.8" text-anchor="middle" fill="#6e6e6e">10<tspan font-size="3.36" dy="-1.92">0</tspan></text>
<text x="62.95" y="664.70" font-size="4.8" text-anchor="middle" fill="#6e6e6e">10<tspan font-size="3.36" dy="-1.92">1</tspan></text>
<text x="87.40" y="664.70" font-size="4.8" text-anchor="middle" fill="#6e6e6e">10<tspan font-size="3.36" dy="-1.92">2</tspan></text>
<text x="111.85" y="664.70" font-size="4.8" text-anchor="middle" fill="#6e6e6e">10<tspan font-size="3.36" dy="-1.92">3</tspan></text>
<text x="136.30" y="664.70" font-size="4.8" text-anchor="middle" fill="#6e6e6e">10<tspan font-size="3.36" dy="-1.92">4</tspan></text>
<text x="32.20" y="655.30" font-size="4.8" text-anchor="middle" fill="#6e6e6e" transform="rotate(-90 32.20 655.30)">10<tspan font-size="3.36" dy="-1.92">0</tspan></text>
<text x="32.20" y="633.67" font-size="4.8" text-anchor="middle" fill="#6e6e6e" transform="rotate(-90 32.20 633.67)">10<tspan font-size="3.36" dy="-1.92">1</tspan></text>
<text x="32.20" y="612.05" font-size="4.8" text-anchor="middle" fill="#6e6e6e" transform="rotate(-90 32.20 612.05)">10<tspan font-size="3.36" dy="-1.92">2</tspan></text>
<text x="32.20" y="590.42" font-size="4.8" text-anchor="middle" fill="#6e6e6e" transform="rotate(-90 32.20 590.42)">10<tspan font-size="3.36" dy="-1.92">3</tspan></text>
<text x="32.20" y="568.80" font-size="4.8" text-anchor="middle" fill="#6e6e6e" transform="rotate(-90 32.20 568.80)">10<tspan font-size="3.36" dy="-1.92">4</tspan></text>
<g stroke="#959595" stroke-width="0.9" fill="none">
<path d="M147.50 568.80V655.50H245.50"/>
<path d="M144.90 655.50h2.60M146.10 648.98h1.40M146.10 645.16h1.40M146.10 642.45h1.40M146.10 640.35h1.40M146.10 638.63h1.40M146.10 637.18h1.40M146.10 635.93h1.40M146.10 634.82h1.40M144.90 633.83h2.60M146.10 627.30h1.40M146.10 623.48h1.40M146.10 620.78h1.40M146.10 618.67h1.40M146.10 616.96h1.40M146.10 615.51h1.40M146.10 614.25h1.40M146.10 613.14h1.40M144.90 612.15h2.60M146.10 605.63h1.40M146.10 601.81h1.40M146.10 599.10h1.40M146.10 597.00h1.40M146.10 595.28h1.40M146.10 593.83h1.40M146.10 592.58h1.40M146.10 591.47h1.40M144.90 590.47h2.60M146.10 583.95h1.40M146.10 580.13h1.40M146.10 577.43h1.40M146.10 575.32h1.40M146.10 573.61h1.40M146.10 572.16h1.40M146.10 570.90h1.40M146.10 569.79h1.40M144.90 568.80h2.6M147.50 655.50v2.60M154.88 655.50v1.40M159.19 655.50v1.40M162.25 655.50v1.40M164.62 655.50v1.40M166.56 655.50v1.40M168.20 655.50v1.40M169.63 655.50v1.40M170.88 655.50v1.40M172.00 655.50v2.60M179.38 655.50v1.40M183.69 655.50v1.40M186.75 655.50v1.40M189.12 655.50v1.40M191.06 655.50v1.40M192.70 655.50v1.40M194.13 655.50v1.40M195.38 655.50v1.40M196.50 655.50v2.60M203.88 655.50v1.40M208.19 655.50v1.40M211.25 655.50v1.40M213.62 655.50v1.40M215.56 655.50v1.40M217.20 655.50v1.40M218.63 655.50v1.40M219.88 655.50v1.40M221.00 655.50v2.60M228.38 655.50v1.40M232.69 655.50v1.40M235.75 655.50v1.40M238.12 655.50v1.40M240.06 655.50v1.40M241.70 655.50v1.40M243.13 655.50v1.40M244.38 655.50v1.40M245.50 655.50v2.60" stroke-width="0.6"/>
</g>
<path d="M188.00 568.80V655.50M147.50 634.40H245.50" stroke="#8c8c8c" stroke-width="0.9" fill="none"/>
<path d="M162.0 636.8h1m-0.8 0.4h1m16.8 0.2h1m48.6 -0.8h1m-69.4 1.4h1m7.2 0.2h1m0.2 0h1m49.2 -0.2h1m1.8 0.2h1m0.6 0.2h1m-0.2 0h1m1.4 0h1m-0.4 -0.8h1m1.4 0.4h1m-0.6 0.2h1m0.2 0.2h1m1.8 -0.6h1m0 0.4h1m1.6 0h1m0.2 0.2h1m-84 0.2h1m1.6 0h1m2.2 0.4h1m0.8 0.4h1m0.2 -0.6h1m0.2 0h1m48.4 -0.2h1m0.4 0.8h1m2.8 -0.2h1m0.6 0h1m-1 -0.6h1m-0.8 0.8h1m1.2 -0.4h1m0.4 -0.4h1m0 0.2h1m0.2 0.6h1m0.2 -0.4h1m-0.8 -0.2h1m-1 0.2h1m-0.8 0.2h1m-0.2 0.2h1m0.6 0h1m-0.6 -0.8h1m-1 0h1m0.4 0.6h1m1 -0.6h1m-0.2 0.6h1m-0.6 -0.6h1m1.6 0.2h1m-0.2 0.4h1m-82 1h1m-1 -0.2h1m1.8 0.4h1m0.2 -0.4h1m-0.6 0h1m-0.6 0h1m-0.8 0h1m-0.6 -0.2h1m0.2 0.2h1m-0.2 -0.2h1m0.8 0h1m0 0.2h1m-0.6 0.4h1m-0.4 -0.2h1m-0.6 0h1m-0.4 0h1m2 -0.2h1m0.4 0.2h1m25.6 -0.6h1m0.2 0.8h1m7.8 -0.2h1m-0.4 0h1m-0.6 0h1m-0.6 0h1m1.4 -0.4h1m-0.4 0.4h1m0.4 0h1m0.2 -0.2h1m-0.2 0h1m-0.2 0h1m-0.8 -0.4h1m-1 0.8h1m-0.6 -0.4h1m-0.8 0.2h1m-0.4 -0.4h1m0.2 0.2h1m-0.8 0.2h1m-0.4 -0.2h1m0.2 0.4h1m-0.8 -0.8h1m-0.4 0.2h1m0 0.2h1m0 0h1m-0.8 0.4h1m-0.8 -0.4h1m-0.8 0.2h1m-1 -0.2h1m-0.6 0h1m0 0.4h1m-0.8 -0.4h1m-0.6 -0.4h1m-1 0.4h1m0 0h1m-1 0.4h1m-0.8 -0.6h1m-0.8 0.6h1m-1 0h1m-0.6 -0.2h1m0.4 -0.4h1m-0.6 0.6h1m-1 -0.4h1m0 0h1m-0.6 0.2h1m-0.8 0h1m-0.8 -0.2h1m-0.8 0.4h1m-0.8 -0.6h1m-0.6 0.2h1m0.4 0.4h1m1 -0.8h1m0 0.4h1m-0.4 -0.2h1m-0.4 0.4h1m-88.2 1h1m0 -0.6h1m0.4 0.2h1m0.6 0h1m0.8 0.4h1m-0.4 0.2h1m-1 -0.8h1m-0.8 0.4h1m0 0.2h1m-0.8 -0.2h1m0.6 0.2h1m-0.4 -0.6h1m-0.4 0.2h1m-0.8 0.4h1m-0.8 0.2h1m0 -0.4h1m-0.8 0.4h1m-0.8 -0.8h1m-0.8 0.6h1m-0.8 -0.4h1m-1 0.4h1m-0.8 0h1m-1 -0.4h1m-0.8 0.4h1m0.2 0.2h1m1 -0.2h1m0 -0.2h1m-0.8 -0.2h1m0 0.4h1m-0.2 0h1m26.2 -0.4h1m4.4 0h1m0.4 0.4h1m2.8 0.2h1m-0.2 0h1m-0.6 0h1m0 -0.4h1m-0.2 -0.2h1m-0.8 0.6h1m-0.4 -0.4h1m-0.4 0.2h1m-0.4 -0.2h1m-0.6 0.4h1m0.6 0h1m-0.6 -0.2h1m-0.8 0h1m-1 0.2h1m-0.6 0h1m-0.8 -0.8h1m-0.6 0.4h1m-0.8 0.4h1m-0.8 0h1m0 -0.6h1m-0.6 0.2h1m-1 0h1m-0.6 0.2h1m-0.8 -0.4h1m-0.8 0.2h1m-1 -0.2h1m-0.4 0.4h1m-0.8 -0.2h1m-0.8 0h1m-0.8 -0.4h1m-1 0.2h1m-0.6 0.2h1m-0.6 0.2h1m-1 -0.4h1m-0.6 0h1m-0.8 0.6h1m-0.8 0h1m-1 -0.2h1m-1 0.2h1m-0.6 -0.8h1m-0.8 0.4h1m-1 0.2h1m-0.6 -0.6h1m-0.6 0.6h1m-0.8 -0.6h1m-0.6 0.2h1m-0.6 0.2h1m-0.4 -0.4h1m-1 0.8h1m-0.8 -0.4h1m-0.8 -0.4h1m-0.8 0.6h1m-0.8 -0.2h1m-1 0.2h1m-0.8 -0.6h1m-1 0.6h1m-1 0.2h1m-0.6 0h1m-0.6 0h1m-1 -0.6h1m-0.8 0.4h1m-0.4 -0.2h1m-0.8 0h1m-1 0h1m-0.8 0.2h1m0.6 0.2h1m0 -0.6h1m-0.8 0.2h1m-1 0.2h1m-0.6 -0.6h1m-0.8 0.2h1m-0.4 0.4h1m0.8 0h1m-0.8 -0.4h1m-0.8 0.2h1m0.2 -0.2h1m-1 0h1m-0.8 0.4h1m-0.6 -0.6h1m1.2 0h1m-90 1.4h1m-0.8 -0.4h1m3.8 0h1m-0.8 0.6h1m-0.6 0h1m-0.4 0h1m-0.8 -0.2h1m-1 0h1m0.4 0.4h1m-0.8 -0.6h1m0.4 0h1m-0.4 0h1m-0.6 0.6h1m-0.8 -0.6h1m0 0.6h1m-0.8 -0.6h1m0 0.2h1m-1 0.4h1m0.6 -0.4h1m0.2 -0.2h1m-0.8 0h1m-0.8 0.4h1m-0.8 0h1m-0.6 -0.4h1m-0.4 0h1m0 0.2h1m0.2 0h1m29.2 0.2h1m0.6 -0.2h1m-1 0.4h1m0.8 -0.4h1m2.4 -0.2h1m-0.8 0.2h1m-0.4 0.4h1m-0.2 -0.4h1m0.4 -0.2h1m-0.6 0.4h1m-0.4 -0.4h1m-0.4 0h1m-1 0.4h1m-0.6 -0.6h1m0 0.8h1m1.4 -0.8h1m-0.8 0.6h1m-0.6 0h1m-0.8 -0.6h1m-0.8 0.4h1m-0.2 -0.2h1m-1 0h1m-0.8 0.2h1m-0.6 0.2h1m-0.6 -0.2h1m-0.8 0.2h1m-1 -0.4h1m-1 -0.2h1m-0.6 0.4h1m-0.6 0h1m-1 0.4h1m-0.8 0h1m-0.6 -0.4h1m-1 0.2h1m-0.8 -0.2h1m-0.6 -0.4h1m-1 0.6h1m-0.8 0.2h1m-1 0h1m-0.6 -0.4h1m-1 -0.2h1m-1 -0.2h1m-1 0h1m-1 0.4h1m-0.8 0.4h1m-0.8 -0.2h1m-1 0h1m-0.8 0h1m-1 -0.6h1m-0.8 0.8h1m-0.8 -0.2h1m-0.4 -0.6h1m-1 0.4h1m-0.2 -0.2h1m-0.8 0h1m-0.8 0h1m-0.8 0h1m-0.6 0.6h1m-0.4 -0.8h1m-0.8 0.8h1m-0.6 -0.2h1m-0.2 -0.4h1m-0.8 0.6h1m-0.8 -0.2h1m-0.6 0h1m-0.8 0h1m-0.6 0.2h1m-1 -0.4h1m0 0h1m-0.8 -0.2h1m-0.8 0.2h1m-1 -0.2h1m-0.8 0.2h1m-0.6 0h1m-0.6 -0.4h1m-1 0.2h1m-0.8 0.6h1m-0.8 0h1m-1 -0.2h1m-1 -0.6h1m-0.8 0h1m-0.8 0.6h1m-1 -0.4h1m-0.4 -0.2h1m-1 0.2h1m-1 0h1m-0.8 -0.2h1m-1 0.6h1m-0.6 -0.4h1m-1 -0.2h1m-0.6 0.8h1m-1 -0.6h1m-0.8 0.6h1m-0.8 -0.6h1m-0.8 0.6h1m-0.6 -0.6h1m-1 -0.2h1m0 0.2h1m-1 0.4h1m-0.8 0.2h1m-1 -0.6h1m-0.6 0.6h1m-0.2 0h1m-0.2 0h1m-0.6 -0.8h1m-1 0h1m-1 0h1m-0.8 0.6h1m-0.6 0.2h1m-1 -0.6h1m-0.6 0h1m-0.8 0.2h1m-0.4 0.2h1m-1 -0.2h1m-1 0h1m-0.8 0h1m-0.8 -0.4h1m-93.8 1.8h1m7.6 -0.4h1m-1 0.4h1m-0.4 -0.4h1m0 0.4h1m1 0h1m-0.2 0h1m-0.2 -0.4h1m-0.8 0h1m-1 0.4h1m-0.6 0h1m-1 -0.2h1m-0.8 -0.6h1m-0.8 0.8h1m0.2 -0.6h1m-1 0.6h1m-0.8 -0.6h1m-0.8 0.4h1m-0.8 -0.4h1m-1 0.4h1m-0.4 -0.2h1m-0.4 0h1m-1 -0.2h1m-0.4 0.6h1m-0.6 -0.6h1m-0.4 0h1m-0.8 0.4h1m-0.2 0.2h1m-0.6 -0.8h1m-0.2 0.2h1m1.4 0h1m0 0.4h1m-0.2 -0.6h1m27.6 0.8h1m3.2 -0.6h1m0.2 0.6h1m1.6 -0.6h1m-0.8 0.4h1m-0.2 -0.6h1m-1 0.4h1m-0.8 -0.2h1m-0.8 0.6h1m-0.6 -0.6h1m-0.6 0.2h1m-0.8 0.4h1m-0.4 0h1m0.8 -0.2h1m-1 -0.4h1m-0.2 0h1m-1 0h1m-0.8 0.6h1m-0.8 -0.2h1m-1 -0.2h1m-1 -0.2h1m-0.8 0.6h1m-0.8 -0.6h1m-0.8 0h1m-0.6 0h1m-0.8 0.4h1m-0.8 0.2h1m-0.8 -0.8h1m0 0.8h1m-1 -0.4h1m-0.8 -0.4h1m-0.6 0.6h1m-0.6 -0.6h1m-1 0.8h1m-1 -0.8h1m-1 0.4h1m-1 -0.2h1m-1 0.4h1m-0.6 0h1m-1 -0.2h1m-0.6 -0.4h1m-0.8 0.6h1m-0.8 -0.4h1m-0.8 0.2h1m-1 0.4h1m-0.6 -0.4h1m-0.6 0.2h1m-1 -0.4h1m-0.8 -0.2h1m-1 0.8h1m-0.8 0h1m-1 0h1m-0.8 -0.6h1m-1 0.6h1m-1 -0.2h1m-0.6 0.2h1m-0.8 0h1m-0.6 -0.6h1m-1 0h1m-1 0.4h1m-0.4 -0.2h1m-1 0.4h1m-1 -0.8h1m-0.8 0.4h1m-0.8 0h1m-0.8 0.4h1m-1 -0.8h1m-0.8 0.6h1m-1 -0.6h1m-0.8 0h1m-1 0.8h1m-1 -0.4h1m-0.6 0.2h1m-0.8 -0.6h1m-0.8 0.2h1m-1 0.6h1m-1 -0.2h1m-1 -0.2h1m-1 0.4h1m-0.8 -0.8h1m0 0.8h1m-0.8 -0.2h1m-1 -0.6h1m-0.8 0.6h1m-0.8 -0.6h1m-0.6 0.2h1m-1 -0.2h1m-0.8 0h1m-0.6 0.6h1m-1 -0.2h1m-1 -0.2h1m-0.8 0h1m-1 -0.2h1m-1 0.6h1m-0.4 -0.2h1m-0.8 0.2h1m-1 -0.2h1m-0.8 -0.4h1m-0.8 0h1m-0.8 0h1m-1 0h1m-0.6 0.8h1m-0.8 0h1m-0.8 -0.2h1m-0.8 0h1m-1 -0.2h1m-0.6 0.2h1m-1 -0.4h1m-0.8 -0.2h1m-1 0.6h1m-0.6 -0.6h1m-0.8 0h1m-0.6 0.4h1m-0.8 0.4h1m-1 -0.8h1m-1 0.6h1m-1 -0.6h1m-1 0.8h1m-0.8 -0.2h1m-0.8 -0.6h1m-0.8 0.2h1m-0.6 0.2h1m-0.8 0h1m-0.8 -0.4h1m-1 0.2h1m-1 0.6h1m-0.6 -0.8h1m-0.8 0.6h1m-1 0h1m-0.2 -0.2h1m-0.8 0h1m-0.4 -0.2h1m-1 0h1m-1 -0.2h1m-1 0h1m-0.6 0.6h1m-0.8 -0.6h1m-0.6 0.2h1m-1 -0.2h1m-0.8 0h1m-0.6 0.2h1m-0.8 -0.2h1m-0.4 0.6h1m-1 -0.4h1m-0.6 0.2h1m-1 0.4h1m-0.6 -0.8h1m-1 0.8h1m-0.8 -0.4h1m-1 -0.4h1m-1 0.8h1m-87.6 0.2h1m-0.6 0h1m0.6 0.2h1m-0.8 0.4h1m1.2 -0.2h1m0.2 -0.4h1m-1 0.4h1m-0.6 0.4h1m-0.4 -0.8h1m-0.8 0.2h1m-0.4 0.4h1m-1 -0.2h1m-0.4 -0.4h1m-0.8 0.8h1m-0.8 -0.2h1m-0.8 0.2h1m-1 -0.2h1m0.2 0.2h1m0 -0.4h1m-0.8 0.4h1m-0.6 -0.2h1m-0.6 -0.6h1m-0.8 0h1m-1 0h1m-1 0.8h1m-0.8 0h1m0 0h1m-0.2 -0.4h1m0 -0.4h1m0.4 0.6h1m0 -0.4h1m-0.8 0h1m0 0h1m26.8 0h1m-1 0.2h1m0.2 -0.4h1m-0.2 0.6h1m0.8 0.2h1m-0.2 -0.2h1m0.2 -0.2h1m1.6 -0.4h1m-0.6 0h1m-0.4 0h1m0 0.2h1m-0.2 0.4h1m-1 0h1m-1 -0.6h1m-0.4 0.2h1m-0.6 -0.2h1m-0.8 0.4h1m-0.2 -0.2h1m-0.6 -0.2h1m-1 0.2h1m-0.2 0h1m-0.8 0.2h1m-0.6 -0.2h1m-1 0.4h1m-0.8 -0.6h1m-0.6 0.8h1m-1 -0.6h1m-0.8 0h1m-0.4 0.4h1m-1 -0.6h1m-0.4 0.8h1m-0.8 -0.8h1m-1 0.8h1m-1 -0.4h1m-1 -0.4h1m-0.8 0h1m-0.6 0.4h1m-1 0.4h1m-1 -0.2h1m-1 -0.6h1m-0.8 0.8h1m-1 0h1m-0.8 -0.8h1m-1 0.6h1m-0.8 0.2h1m-0.8 0h1m-0.8 -0.4h1m-0.2 0.2h1m-1 -0.2h1m-0.8 -0.4h1m-0.8 0h1m0.2 0.4h1m-1 0h1m-0.8 -0.2h1m-0.8 0h1m-1 0.4h1m-1 0.2h1m-0.6 -0.8h1m-0.4 0.6h1m-0.8 -0.4h1m-0.8 0h1m-1 0h1m-0.6 0h1m-0.8 -0.2h1m-1 0.8h1m-0.8 -0.8h1m-0.8 0.8h1m-0.8 -0.6h1m-0.8 0.4h1m-0.8 0h1m-1 0h1m-1 -0.2h1m-1 0.2h1m-0.6 -0.6h1m-1 0.2h1m-0.4 0.2h1m-1 0.2h1m-1 0h1m-0.6 0.2h1m-0.8 -0.2h1m-1 0.2h1m-1 -0.6h1m-0.8 0.4h1m-1 -0.6h1m-0.6 0.4h1m-1 -0.4h1m-0.8 0.4h1m-0.8 0h1m-0.8 0h1m-0.8 -0.4h1m-1 0h1m-0.8 0.4h1m-0.8 -0.4h1m-1 0.4h1m-0.6 -0.4h1m-1 0.6h1m-0.8 -0.2h1m-1 0.4h1m-1 -0.4h1m-0.8 -0.2h1m-1 0.6h1m-0.6 -0.8h1m-1 0.8h1m-1 -0.6h1m-0.4 0.2h1m-1 0h1m-1 -0.2h1m-0.8 0h1m-0.4 0.4h1m-0.6 0h1m-1 -0.4h1m-0.8 0.6h1m-1 0h1m-0.8 -0.2h1m-0.8 0h1m-0.8 0h1m-0.8 -0.4h1m-0.8 0.6h1m-0.8 -0.4h1m-1 0.4h1m-1 0h1m-1 -0.6h1m-0.8 0.2h1m-0.6 -0.2h1m-0.8 -0.2h1m-0.2 0.8h1m-1 -0.2h1m-1 0.2h1m-1 0h1m-0.8 -0.6h1m-0.6 0.2h1m-1 -0.4h1m-0.8 0.6h1m-0.6 0h1m-1 -0.2h1m-0.8 0.2h1m-0.6 -0.6h1m-0.8 0.8h1m-1 -0.2h1m-1 -0.4h1m-0.4 -0.2h1m-0.4 0h1m-0.8 0.2h1m-0.2 0h1m-0.6 0.6h1m-0.6 0h1m-1 -0.4h1m-0.6 0h1m-0.8 0.4h1m-0.8 -0.6h1m-0.8 0h1m-0.6 0.2h1m-0.6 0.4h1m-89 1h1m1.2 -0.2h1m-0.6 -0.6h1m1.4 0.2h1m-0.2 0h1m-1 0.4h1m-0.8 0.2h1m-0.4 -0.8h1m0.2 0.6h1m-1 -0.4h1m-1 0h1m0.4 0.6h1m-0.6 -0.6h1m0 -0.2h1m-1 0h1m0 0h1m-0.4 0.2h1m-1 -0.2h1m-0.8 0.8h1m-0.8 -0.6h1m-1 -0.2h1m-0.2 0h1m-0.8 0h1m-0.6 0.2h1m-0.6 -0.2h1m-0.4 0.4h1m-0.8 0h1m-0.4 -0.2h1m-0.8 0.4h1m-0.8 -0.6h1m-0.2 0h1m-0.6 0.2h1m-1 0.4h1m1.6 -0.4h1m32.8 0.6h1m0.2 -0.4h1m1.2 -0.4h1m-1 0.2h1m1.4 0.4h1m-1 -0.2h1m-0.2 -0.2h1m-0.2 -0.2h1m-0.8 0h1m-0.8 0.8h1m-1 -0.8h1m-0.2 0.2h1m-0.8 0h1m-0.8 0.6h1m-0.8 -0.6h1m-0.8 0.6h1m-1 -0.2h1m-0.4 -0.4h1m-1 -0.2h1m-0.2 0.4h1m-0.4 0.4h1m-1 0h1m-0.6 -0.2h1m-0.8 0.2h1m-1 0h1m-1 -0.2h1m-0.4 0.2h1m-0.2 0h1m-0.6 -0.8h1m-0.8 0.6h1m-1 0.2h1m-0.6 0h1m-0.8 -0.4h1m-0.8 -0.2h1m-0.8 0h1m-0.6 -0.2h1m-0.6 0.2h1m-1 0.6h1m-0.6 -0.2h1m-1 0h1m-1 -0.2h1m-0.6 0.2h1m-1 -0.2h1m-0.4 0.2h1m-0.8 -0.2h1m-1 -0.2h1m-0.8 -0.2h1m-0.8 0.4h1m-0.6 0h1m-0.8 -0.2h1m0.6 0.6h1m-1 0h1m-0.2 -0.6h1m-1 0h1m-0.8 0.2h1m-1 -0.4h1m-0.6 0.8h1m-0.8 -0.2h1m-0.8 -0.2h1m-0.6 0.4h1m-0.8 -0.2h1m-0.8 -0.4h1m-0.8 0.4h1m-0.6 0h1m-1 -0.6h1m-1 0.6h1m-0.8 0h1m-1 -0.6h1m-0.8 0.4h1m-0.8 0.4h1m-0.8 -0.4h1m-0.8 -0.4h1m-1 0.6h1m-1 -0.4h1m-0.8 0h1m-0.8 0.4h1m-0.8 -0.4h1m-1 0h1m-0.8 0h1m-0.8 -0.2h1m-0.8 0.2h1m-1 0.2h1m-1 0.2h1m-1 0h1m-0.8 -0.4h1m-0.8 0.6h1m-0.8 -0.2h1m-0.6 0h1m-0.4 0.2h1m-0.8 0h1m-1 -0.2h1m-0.4 -0.6h1m-0.8 0.8h1m-0.8 -0.2h1m-0.8 0h1m-0.8 0h1m-0.6 -0.4h1m-0.8 -0.2h1m-0.6 0.2h1m-0.6 -0.2h1m-1 0.2h1m-0.8 0h1m-1 0.6h1m-0.8 -0.2h1m-1 0h1m-0.6 -0.2h1m-0.6 -0.2h1m-1 0.2h1m-0.6 -0.4h1m-0.6 0h1m-0.8 0.8h1m-1 -0.8h1m-0.8 0h1m-1 0.6h1m-0.8 0.2h1m-0.6 -0.4h1m-0.8 0.4h1m-86 1h1m-0.8 -0.8h1m-0.6 0.8h1m0.8 0h1m-0.6 0h1m-0.6 -0.8h1m-1 0h1m-0.8 0.4h1m-0.8 0.4h1m-0.6 0h1m0.2 -0.4h1m-0.8 0h1m-0.6 0.2h1m0.2 -0.6h1m-1 0.2h1m-0.8 0h1m-0.8 0.6h1m-1 -0.4h1m0.8 0h1m0.2 0.2h1m-0.6 -0.4h1m-0.6 0.4h1m0.4 -0.4h1m-0.4 -0.2h1m-1 0h1m-0.2 0.8h1m-0.8 -0.2h1m0.2 -0.6h1m-0.8 0.8h1m-1 -0.2h1m-0.8 -0.2h1m3.2 -0.2h1m26.8 0h1m0.8 -0.2h1m1.6 0.8h1m1.4 -0.6h1m-0.2 0h1m-0.4 0.2h1m1 -0.4h1m-1 0.4h1m-0.8 0.2h1m-1 0.2h1m-0.4 -0.2h1m-0.8 -0.4h1m-1 0.6h1m-0.8 -0.8h1m-0.6 0.8h1m-1 0h1m-0.2 -0.2h1m-0.8 -0.2h1m-0.8 -0.4h1m-0.8 0.2h1m0.2 0h1m-0.8 0.2h1m-1 -0.4h1m-1 0.8h1m-0.4 -0.2h1m-0.2 0h1m-1 0.2h1m-1 -0.6h1m-0.8 0.4h1m-0.4 -0.6h1m-1 0.6h1m-1 -0.4h1m-1 0.6h1m-0.2 -0.6h1m-0.4 0h1m0.2 0.4h1m-1 -0.4h1m-0.2 0.2h1m-0.4 -0.2h1m-0.8 -0.2h1m-1 0.4h1m-0.2 0h1m-0.8 -0.2h1m-1 0h1m-1 -0.2h1m-0.8 0.6h1m-0.8 0.2h1m-1 0h1m-0.8 -0.2h1m-1 0h1m-0.2 0h1m-1 0h1m-1 -0.6h1m-0.4 0.6h1m-0.8 0h1m-0.4 -0.2h1m-0.8 0.4h1m-0.6 0h1m-1 -0.2h1m-0.4 -0.6h1m-0.8 0.6h1m-0.6 -0.6h1m-0.8 0.2h1m-1 -0.2h1m-0.8 0.6h1m-1 -0.4h1m-1 0h1m-1 -0.2h1m-0.8 0h1m-0.4 0.6h1m-1 -0.6h1m-0.6 0h1m-0.8 0.6h1m-0.8 0h1m-0.8 0.2h1m-1 -0.4h1m-0.8 -0.2h1m-0.6 -0.2h1m-1 0.2h1m-0.8 0.2h1m-0.8 -0.2h1m-0.6 0.6h1m-0.4 -0.4h1m-1 0h1m-0.8 0h1m-0.8 0.2h1m-0.2 0h1m-0.4 -0.2h1m-0.2 -0.4h1m-0.6 0.4h1m-0.2 0.2h1m-0.6 0.2h1m-0.8 -0.8h1m-1 0.6h1m-0.6 -0.2h1m-1 -0.4h1m-0.2 0.6h1m-0.4 -0.2h1m-0.8 0h1m-0.2 0h1m-1 0.2h1m-1 -0.4h1m-0.8 0h1m-85 1.6h1m1.2 0h1m-0.8 -0.6h1m1.2 0.2h1m-0.8 0.4h1m-0.8 -0.8h1m-0.2 0h1m-1 0.4h1m-0.6 -0.2h1m0.2 0.2h1m1.8 -0.4h1m-0.8 0h1m-0.8 0h1m-0.4 0.8h1m0 -0.8h1m0.2 0.6h1m3.2 -0.4h1m31 0.6h1m0.4 -0.4h1m-0.6 -0.4h1m-0.8 0h1m0.8 0.8h1m-0.8 -0.2h1m1.4 -0.2h1m0.6 0.4h1m0.2 -0.6h1m-0.2 -0.2h1m-0.6 0h1m-1 0.8h1m-0.6 -0.8h1m-0.4 0.4h1m-0.2 0.4h1m-1 -0.6h1m-1 0.4h1m-0.2 0.2h1m-0.8 -0.2h1m-0.2 -0.6h1m-0.8 0.4h1m-0.8 0.4h1m-1 -0.8h1m-1 0h1m0.2 0.8h1m-0.8 -0.4h1m-0.8 -0.2h1m-0.8 0.2h1m-0.8 -0.4h1m-0.6 0.4h1m-0.8 -0.2h1m-0.4 0.2h1m-0.8 -0.4h1m-1 0.2h1m-0.8 0.2h1m-1 -0.4h1m0.2 0.2h1m0.2 0.2h1m-0.8 -0.4h1m-0.8 0.4h1m-0.8 -0.2h1m-0.6 -0.2h1m-0.8 0.2h1m-1 0.6h1m-0.8 -0.6h1m-1 0.4h1m-0.8 -0.2h1m-0.2 -0.4h1m-0.8 0.2h1m-1 0.2h1m-0.6 -0.2h1m-0.2 0h1m-1 0h1m-1 0.4h1m-0.6 0.2h1m-0.4 0h1m-0.8 0h1m-0.8 0h1m-0.2 0h1m-1 -0.8h1m-0.8 0.4h1m0.2 0.4h1m-0.6 -0.6h1m-1 0.6h1m-0.6 0h1m0 -0.6h1m0.6 -0.2h1m-1 0.2h1m0.2 -0.2h1m-0.8 0h1m-83.4 1.2h1m1.2 0.4h1m0.4 0.2h1m-1 -0.4h1m-0.8 0.2h1m-0.4 -0.4h1m2.2 -0.2h1m0 0.2h1m-1 -0.2h1m0 0.8h1m-1 -0.6h1m1.6 0.2h1m1.2 0.2h1m36.8 -0.2h1m-0.8 0.2h1m1.2 0.2h1m-1 -0.4h1m2 0.4h1m-0.6 -0.8h1m0.2 0.2h1m0 0.2h1m-0.4 -0.2h1m-0.4 0h1m-1 0.4h1m0 -0.4h1m-0.4 0.6h1m-0.2 -0.8h1m-0.6 0.4h1m-0.8 0h1m1 -0.2h1m0.2 0.2h1m-0.8 -0.4h1m0.2 0.4h1m-0.8 0h1m1.8 0.2h1m-0.8 -0.2h1m0.2 0.2h1m0.4 0.2h1m-0.8 0h1m-0.4 -0.4h1m-0.8 -0.4h1m0.6 0.8h1m-0.6 -0.4h1m-0.8 -0.2h1m0.2 -0.2h1m0.2 0.2h1m-0.6 0h1m0.6 0.4h1m-0.8 0.2h1m-84.6 0.6h1m-0.2 0h1m0.4 -0.4h1m3 0.6h1m0.6 -0.6h1m4.6 0h1m0.2 0h1m0.2 0.6h1m39.2 0.2h1m5 -0.2h1m-0.8 -0.4h1m-0.2 0.4h1m0.4 -0.2h1m0.6 -0.2h1m-0.6 0.4h1m1.6 0.2h1m1.2 0h1m0.2 -0.2h1m0.2 -0.4h1m1.6 0h1m0.6 0.2h1m0.4 0.2h1m-0.6 0h1m-0.8 -0.6h1m1.6 0.4h1m-80.4 1.4h1m5.2 -0.6h1m64.8 -0.2h1m-0.6 0.8h1m0.6 -0.2h1m5.8 -0.2h1m-80.2 0.8h1m48.8 0h1m9.4 0h1m5.2 -0.2h1m0.2 0.2h1m-18.2 0.8h1m-0.4 0h1" stroke="#262626" stroke-opacity="1.0" stroke-width="1" fill="none"/>
<path d="M226.0 637.2h1m8.4 0.2h1m-11.8 0.8h1m0 0.2h1m2.4 0h1m4.4 -0.2h1m5.4 0.2h1m-16.8 1h1m1.2 -0.4h1m0.8 -0.2h1m1.4 0h1m0.6 0.4h1m-0.6 -0.2h1m-0.2 0.4h1m1.8 -0.4h1m3.6 0.4h1m0.4 -0.8h1m-17 1.8h1m0 -0.6h1m0 0.4h1m-0.8 0h1m-0.2 -0.2h1m-0.8 0.4h1m-1 0h1m-1 -0.6h1m-0.8 0.2h1m-0.6 0.4h1m1 0h1m0.2 0h1m-0.2 0h1m-1 -0.2h1m-0.8 -0.2h1m-1 -0.2h1m0 -0.2h1m-0.6 0.4h1m-0.2 -0.2h1m-0.8 -0.2h1m-1 0h1m1 0.8h1m-0.4 -0.4h1m0.4 0.2h1m-23 1.2h1m0.2 -0.6h1m0.2 0.2h1m-0.6 -0.2h1m1.8 0.2h1m-0.6 0.4h1m-0.8 -0.6h1m0.2 -0.2h1m-1 0.6h1m-0.8 -0.6h1m-0.6 0.4h1m-0.4 0h1m-0.8 0h1m-0.4 -0.4h1m-0.8 0.2h1m-0.6 0h1m-0.8 0.6h1m-1 0h1m-0.8 -0.2h1m-0.4 0h1m-0.8 0h1m-0.4 0.2h1m-0.6 0h1m-1 -0.6h1m0.6 0.6h1m-0.2 0h1m-1 0h1m-0.8 0h1m-0.8 -0.2h1m-0.4 -0.6h1m-0.2 0.6h1m0.6 -0.2h1m-1 0h1m-1 -0.4h1m-0.8 0.4h1m-0.8 -0.2h1m-0.8 0.4h1m0 -0.2h1m-0.6 -0.2h1m-0.4 0.4h1m-0.2 0h1m2 -0.6h1m-24.6 1.2h1m0 0.4h1m0 -0.6h1m0 0.6h1m0.8 -0.4h1m0 0.2h1m-0.4 0.4h1m-0.8 -0.6h1m-0.8 0.6h1m-1 -0.8h1m-1 0h1m-1 0.8h1m-0.6 -0.8h1m-0.8 0h1m-0.6 0.6h1m0 0h1m-1 -0.2h1m-0.8 0h1m-0.8 0.4h1m-0.8 -0.2h1m-0.8 -0.2h1m-0.6 -0.4h1m-0.8 0.2h1m-0.8 0.6h1m-1 0h1m-1 -0.2h1m-0.8 0h1m-0.8 -0.4h1m-1 0.2h1m-0.4 -0.2h1m-0.8 0.2h1m-0.8 0h1m-1 -0.2h1m-1 -0.2h1m-0.8 0.6h1m-1 -0.2h1m-0.8 0.2h1m-1 -0.4h1m-0.6 0.2h1m-0.6 0.4h1m-0.8 -0.2h1m-0.8 0h1m-0.2 -0.2h1m-1 -0.2h1m-1 0h1m-0.8 0h1m-0.4 0.6h1m0.2 -0.8h1m-0.8 0.4h1m-1 0h1m-0.8 0h1m-1 -0.4h1m0.6 0.8h1m-0.8 -0.4h1m1 0.2h1m-0.8 0h1m0.2 0.2h1m-0.8 -0.6h1m-21 1.2h1m0.4 -0.4h1m-0.4 0.6h1m-0.8 -0.4h1m-0.6 0h1m0.4 0h1m-0.8 0.4h1m-0.8 0h1m-0.8 0h1m-0.8 0h1m-1 0.2h1m-0.8 -0.2h1m-1 -0.2h1m-0.8 -0.2h1m-0.4 0.2h1m-0.8 0.4h1m-1 -0.2h1m-0.8 -0.2h1m-1 -0.4h1m-1 0.2h1m-0.4 0.4h1m-1 -0.6h1m-0.8 0.6h1m-0.8 0h1m-0.8 -0.6h1m-0.6 0.8h1m-1 0h1m-1 -0.2h1m-1 -0.2h1m-0.6 0h1m-0.6 0.2h1m-1 -0.4h1m-1 0.6h1m-1 -0.6h1m-0.8 0.6h1m-1 0h1m-1 -0.8h1m-1 0.6h1m-0.2 -0.4h1m-0.6 0.6h1m-0.8 -0.8h1m-1 0.2h1m-0.8 0.2h1m-0.6 -0.2h1m-1 -0.2h1m-0.8 0.2h1m-0.8 0.4h1m-1 0.2h1m-0.8 -0.6h1m-1 0.6h1m-0.6 -0.8h1m-0.8 0.6h1m-0.8 0.2h1m-1 -0.4h1m-1 -0.4h1m-0.8 0.2h1m-1 0.4h1m-0.8 0.2h1m-0.8 0h1m-0.6 -0.8h1m-1 0.6h1m-1 -0.6h1m-0.6 0.6h1m-0.8 -0.2h1m-1 -0.4h1m-0.8 0h1m-1 0h1m-0.4 0h1m-1 0h1m-0.6 0.6h1m-1 -0.4h1m-0.4 -0.2h1m-1 0.2h1m-1 -0.2h1m-0.8 0.2h1m-0.6 0.4h1m-0.8 0h1m-0.2 -0.6h1m0.4 0h1m-0.8 0.6h1m-0.4 -0.6h1m-22 1h1m-0.8 0.6h1m0.2 0h1m-1 -0.4h1m-0.6 0h1m-1 0h1m0.8 -0.2h1m-0.8 0h1m-0.6 0h1m-0.8 0.4h1m-0.6 -0.2h1m-0.8 0h1m-0.8 0.2h1m-0.8 0.2h1m-0.6 -0.4h1m-1 0.6h1m-0.8 0h1m-1 -0.8h1m-0.8 0.2h1m-0.6 0.6h1m-1 -0.6h1m-0.8 0.6h1m-0.6 -0.4h1m-0.8 0.2h1m-0.2 -0.6h1m-0.8 0.6h1m-0.8 -0.2h1m-0.6 -0.4h1m-0.6 0h1m-1 0h1m-0.8 0.6h1m-0.4 -0.4h1m-0.4 0.6h1m-0.4 0h1m-0.4 -0.4h1m-0.6 -0.2h1m-0.4 0.6h1m-0.8 0h1m-1 -0.2h1m-0.8 -0.6h1m-1 0h1m-0.8 0.4h1m-1 0.4h1m-0.6 0h1m-1 -0.6h1m-1 0.2h1m-0.6 0h1m-0.8 -0.4h1m-1 0.4h1m-0.8 -0.2h1m-0.8 0.6h1m-0.8 -0.8h1m0.2 0h1m-0.8 0h1m-0.8 0.6h1m-0.6 -0.4h1m-0.8 -0.2h1m-0.8 0h1m-1 0h1m-0.6 0.2h1m-0.6 0h1m-0.4 0.2h1m0 0.2h1m-0.8 -0.4h1m-0.4 0.2h1m-0.4 0.2h1m-0.6 0h1m0.2 -0.4h1m-30.4 1h1m3.6 0.2h1m0.6 0.2h1m0.6 -0.6h1m0 0.6h1m-1 0.2h1m-0.6 0h1m-0.2 0h1m-0.6 -0.8h1m-0.8 0.8h1m-1 0h1m-0.6 0h1m-0.8 -0.8h1m-0.6 0.8h1m-0.6 -0.2h1m-1 0.2h1m-1 -0.8h1m-0.4 0.4h1m-0.4 -0.2h1m-0.8 0h1m-0.8 0.4h1m-0.8 -0.6h1m-1 0.4h1m-0.8 -0.2h1m-0.8 0.2h1m-0.8 0.4h1m-0.6 -0.8h1m-1 0h1m-0.2 0.2h1m-0.6 0.6h1m-0.8 0h1m-0.8 -0.4h1m-1 0.4h1m-1 0h1m-0.6 -0.8h1m-0.6 0.4h1m-0.8 -0.2h1m-1 0.6h1m-1 0h1m-0.8 -0.2h1m-0.8 0.2h1m-1 -0.2h1m-1 -0.2h1m-1 0.4h1m-0.6 -0.8h1m-0.8 0.4h1m-1 0.4h1m-1 -0.4h1m-0.8 0.4h1m-0.8 -0.8h1m-0.8 0.8h1m-1 0h1m-0.6 -0.4h1m-1 0.4h1m-0.8 -0.8h1m-0.6 0.6h1m-0.8 -0.6h1m-0.6 0.6h1m-0.6 -0.2h1m-0.4 -0.2h1m-0.6 -0.2h1m-1 0.8h1m-0.8 -0.8h1m-0.4 0.4h1m-1 0.2h1m-0.8 -0.6h1m-0.6 0.6h1m-1 0.2h1m-0.8 -0.4h1m0 0.2h1m-1 -0.2h1m-0.4 0.4h1m-0.8 -0.2h1m0.8 -0.2h1m-0.4 0h1m-0.6 0h1m0.8 0h1m-27.4 1h1m-1 0.2h1m-0.6 -0.6h1m-0.4 0h1m1.6 0.8h1m-1 -0.2h1m-0.4 0h1m1.8 -0.6h1m-1 0.2h1m-0.2 0.2h1m-0.8 -0.2h1m-0.8 -0.2h1m-0.8 0h1m-0.8 0.8h1m-0.4 0h1m-1 -0.8h1m-0.8 0h1m-0.2 0.8h1m-1 -0.2h1m-0.8 0h1m-0.6 0h1m-0.8 0h1m-1 -0.2h1m-0.8 0.2h1m-0.8 0h1m-0.8 -0.6h1m-0.2 0.6h1m0 -0.2h1m-0.8 -0.2h1m-0.4 0h1m-1 0h1m-0.8 0.6h1m-0.8 -0.6h1m-0.6 0h1m-1 -0.2h1m-0.6 0.4h1m-0.8 -0.4h1m-1 0.8h1m-0.6 -0.6h1m-1 0.6h1m-0.8 0h1m-0.6 -0.6h1m-0.6 -0.2h1m-0.8 0h1m-1 0.4h1m-0.8 -0.4h1m-0.2 0.2h1m-0.4 0.4h1m-0.4 0.2h1m-0.6 -0.2h1m-1 -0.2h1m-0.8 0.2h1m-0.8 0h1m2.2 -0.2h1m0 -0.4h1m0 0.6h1m-0.4 0h1m-22.8 0.8h1m0 -0.4h1m1.2 0.8h1m-0.6 -0.2h1m-0.2 0.2h1m-0.8 -0.8h1m-0.8 0.4h1m-0.2 -0.4h1m-0.4 0.8h1m-0.6 0h1m-0.8 -0.6h1m-0.8 0h1m-1 0.6h1m-0.6 -0.6h1m-0.8 0.2h1m0 -0.2h1m-1 0.4h1m-0.2 0h1m-0.6 0h1m-0.6 -0.6h1m-0.2 0.8h1m-0.8 -0.8h1m-0.8 0.4h1m-1 0.2h1m-0.2 -0.6h1m-0.6 0.2h1m-0.6 -0.2h1m0.8 0.6h1m-1 -0.2h1m0.4 0h1m-0.8 0.4h1m-0.8 0h1m-20.2 1h1m1.6 -0.4h1m0.2 -0.4h1m-1 0.4h1m3.8 0.2h1m-0.8 -0.6h1m1.2 0.8h1m-0.8 -0.6h1m-0.4 -0.2h1m0 0h1m-0.8 0.4h1m-0.8 0.2h1m-0.8 0h1m-0.4 -0.4h1m0.6 0.4h1m0 -0.2h1m-1 -0.4h1m-0.8 0.4h1m-0.8 -0.4h1m0.8 0h1m-0.8 0.8h1m-0.8 -0.2h1m2 -0.6h1m-18.4 1.8h1m6.4 -0.4h1m2.8 -0.2h1m-0.2 0.4h1m2 -0.6h1m4.4 0.6h1m-15.8 0.4h1m-0.4 0.2h1m9.6 0.2h1m-16.2 0.6h1" stroke="#1a1a1a" stroke-opacity="1.0" stroke-width="1" fill="none"/>
<path d="M193.8 638.4h1m-18.6 1h1m10.8 -0.4h1m-0.8 0.4h1m9.6 -0.4h1m-10.8 0.8h1m0 0.4h1m5.8 0.2h1m-0.8 -0.2h1m8.4 0.2h1m-28 1h1m0.4 0h1m3 0h1m7.6 -0.8h1m0.4 0.4h1m9.4 0.4h1m0.4 -0.4h1m22.6 -0.2h1m-72.4 1.6h1m16.4 -0.6h1m8.8 -0.2h1m-0.2 0.6h1m4.4 0h1m0.6 -0.4h1m-0.8 0h1m11.2 0.2h1m8.2 0h1m-58 0.6h1m8 0h1m-0.6 0.4h1m5.4 -0.4h1m1.4 0.2h1m1.4 0h1m1.4 0h1m1.2 0.4h1m0.6 -0.4h1m0 -0.2h1m0.6 0.6h1m2 -0.6h1m1.6 0.6h1m1.2 -0.6h1m0.8 0.6h1m-0.4 0h1m-0.8 -0.2h1m0.2 -0.2h1m-0.8 0.4h1m-0.2 0h1m29 -0.2h1m-67.8 0.8h1m9.2 0h1m8.6 0.2h1m2 0.2h1m-0.4 -0.6h1m-0.6 0.2h1m0 -0.2h1m0.6 0.6h1m-0.8 0h1m0.4 0h1m1 -0.4h1m-0.8 0.6h1m-0.6 -0.4h1m4 -0.4h1m1.2 0.2h1m1.2 0.6h1m0.6 0h1m-0.8 -0.8h1m0.2 0.4h1m21.2 -0.4h1m12.4 0.6h1m-0.8 -0.2h1m-64.2 0.8h1m0.4 0h1m0.6 0h1m5.6 -0.2h1m-0.8 0.8h1m-0.8 -0.8h1m-0.2 0.2h1m0 0h1m1.2 0.2h1m-1 -0.2h1m-0.8 0.6h1m0.2 0h1m2.4 -0.2h1m-0.4 -0.2h1m0.4 0h1m-0.4 0h1m0.2 -0.2h1m0 0.4h1m-0.6 -0.4h1m-0.8 0.6h1m-0.4 -0.8h1m0.6 0h1m0.6 0h1m1.8 0.2h1m-0.4 -0.2h1m2.8 0h1m1.6 0.2h1m-0.8 -0.2h1m-51.2 1h1m5.2 0h1m3.6 0h1m1.8 0.6h1m-0.6 0.2h1m0 -0.6h1m-0.4 0.2h1m0.8 0.2h1m0.4 -0.4h1m1.8 0h1m-0.6 0.4h1m-0.8 0.2h1m-0.8 -0.8h1m0 0.8h1m0.2 -0.6h1m2.4 0.4h1m0.2 -0.6h1m0 0.6h1m-1 0h1m6 -0.2h1m2.4 0h1m20.4 0.2h1m-64.8 1h1m4.2 -0.6h1m2.6 0.8h1m1.4 -0.6h1m-0.2 0.6h1m-0.2 -0.4h1m4 0h1m2 -0.4h1m0.8 0.8h1m1 -0.6h1m-0.6 0.2h1m-0.2 0.4h1m-0.4 -0.2h1m-0.4 0h1m-0.8 0.2h1m-0.8 -0.4h1m0.6 0.2h1m-0.6 -0.4h1m-1 0.2h1m-0.6 0.2h1m0.6 -0.6h1m3.8 0.6h1m2.2 -0.6h1m0.2 0.6h1m0.2 0h1m-0.4 0h1m0.2 -0.6h1m2 0.6h1m3.6 0.2h1m16.4 -0.2h1m-75.2 1.2h1m3 -0.4h1m1.2 0.2h1m-0.6 0h1m5.2 -0.4h1m0.8 0.2h1m4.2 -0.4h1m0.6 0.2h1m-1 -0.2h1m-0.4 0.8h1m2.8 0h1m-0.8 -0.8h1m4.8 0.4h1m-0.2 0.4h1m-0.6 0h1m0.8 -0.2h1m0.6 -0.6h1m0.8 0.8h1m-0.2 0h1m-1 -0.8h1m0.2 0.8h1m1 -0.2h1m-0.4 -0.2h1m-0.6 0.2h1m-0.8 -0.4h1m2.2 0h1m-0.6 0h1m0.2 0.2h1m-0.4 0.2h1m0.8 0.2h1m2.4 -0.2h1m3 -0.2h1m0.4 0.2h1m7 -0.4h1m7.4 0.6h1m-75.6 0.8h1m3.4 -0.6h1m0 0.6h1m-0.8 -0.4h1m6.8 0.2h1m1.2 -0.2h1m10 0.6h1m0.4 -0.6h1m2.6 0h1m-0.2 -0.2h1m0.6 0.6h1m-0.6 -0.6h1m-0.4 0.4h1m-1 -0.2h1m-0.4 0.6h1m-0.2 -0.8h1m0.2 0.2h1m-0.2 0.4h1m1.2 -0.6h1m-0.2 0h1m1 0.4h1m-0.8 0.2h1m1.6 0h1m1.6 0.2h1m0.8 -0.2h1m-0.4 -0.2h1m-0.4 0.4h1m1.6 -0.6h1m11.8 0.6h1m1 -0.6h1m5 0.4h1m-1 -0.6h1m4.2 0.2h1m-81 0.8h1m-0.2 0h1m3.6 0h1m0 0.2h1m-0.6 0.2h1m1 0.2h1m-0.4 -0.2h1m10.6 0h1m-0.8 -0.2h1m-0.6 0.6h1m0 -0.6h1m3.2 0h1m0.6 0.4h1m0.8 -0.4h1m3 -0.2h1m0.2 0.6h1m3.8 -0.4h1m2 -0.2h1m-0.8 0.4h1m2.2 0.2h1m-0.4 -0.6h1m0 0.8h1m0.4 -0.4h1m-0.6 0h1m-0.6 -0.4h1m1 0.2h1m4.8 -0.2h1m-0.8 0.6h1m17.4 -0.2h1m-79 1h1m3.4 -0.2h1m10.2 0.6h1m0.2 -0.8h1m6 0.6h1m2.2 -0.6h1m0.4 0.6h1m0.6 -0.2h1m0.6 0.2h1m3.8 0h1m-0.8 0.2h1m1.4 -0.8h1m1.8 0.4h1m-0.6 0h1m-0.4 -0.2h1m-0.6 -0.2h1m0 0.4h1m-0.8 -0.2h1m3 0.6h1m0.6 -0.8h1m0.8 0.2h1m5.4 0h1m9.2 0.6h1m10.6 -0.4h1m-65 0.8h1m6.8 -0.2h1m1 0.6h1m2.6 0.2h1m-0.2 -0.4h1m0.2 -0.4h1m0 0.8h1m-1 -0.8h1m4.4 0h1m0.6 0.4h1m2.2 -0.2h1m1.8 -0.2h1m1.2 0.6h1m-0.4 -0.2h1m0 0.2h1m8.2 -0.6h1m0.6 0h1m-0.6 0.2h1m-45.4 0.8h1m9.8 0h1m1.8 0.2h1m-0.4 -0.2h1m6.2 0h1m5.8 0.2h1" stroke="#404040" stroke-opacity="1.0" stroke-width="1" fill="none"/>
<path d="M187.8 610.2h1m14.6 0.4h1m-11.4 5h1m9.2 5.8h1" stroke="#9a9a9a" stroke-opacity="1.0" stroke-width="1" fill="none"/>
<text x="147.50" y="664.90" font-size="4.8" text-anchor="middle" fill="#6e6e6e">10<tspan font-size="3.36" dy="-1.92">0</tspan></text>
<text x="172.00" y="664.90" font-size="4.8" text-anchor="middle" fill="#6e6e6e">10<tspan font-size="3.36" dy="-1.92">1</tspan></text>
<text x="196.50" y="664.90" font-size="4.8" text-anchor="middle" fill="#6e6e6e">10<tspan font-size="3.36" dy="-1.92">2</tspan></text>
<text x="221.00" y="664.90" font-size="4.8" text-anchor="middle" fill="#6e6e6e">10<tspan font-size="3.36" dy="-1.92">3</tspan></text>
<text x="245.50" y="664.90" font-size="4.8" text-anchor="middle" fill="#6e6e6e">10<tspan font-size="3.36" dy="-1.92">4</tspan></text>
<text x="141.20" y="655.50" font-size="4.8" text-anchor="middle" fill="#6e6e6e" transform="rotate(-90 141.20 655.50)">10<tspan font-size="3.36" dy="-1.92">0</tspan></text>
<text x="141.20" y="633.83" font-size="4.8" text-anchor="middle" fill="#6e6e6e" transform="rotate(-90 141.20 633.83)">10<tspan font-size="3.36" dy="-1.92">1</tspan></text>
<text x="141.20" y="612.15" font-size="4.8" text-anchor="middle" fill="#6e6e6e" transform="rotate(-90 141.20 612.15)">10<tspan font-size="3.36" dy="-1.92">2</tspan></text>
<text x="141.20" y="590.47" font-size="4.8" text-anchor="middle" fill="#6e6e6e" transform="rotate(-90 141.20 590.47)">10<tspan font-size="3.36" dy="-1.92">3</tspan></text>
<text x="141.20" y="568.80" font-size="4.8" text-anchor="middle" fill="#6e6e6e" transform="rotate(-90 141.20 568.80)">10<tspan font-size="3.36" dy="-1.92">4</tspan></text>
<g stroke="#959595" stroke-width="0.9" fill="none">
<path d="M265.00 568.80V655.50H362.50"/>
<path d="M262.40 655.50h2.60M263.60 648.98h1.40M263.60 645.16h1.40M263.60 642.45h1.40M263.60 640.35h1.40M263.60 638.63h1.40M263.60 637.18h1.40M263.60 635.93h1.40M263.60 634.82h1.40M262.40 633.83h2.60M263.60 627.30h1.40M263.60 623.48h1.40M263.60 620.78h1.40M263.60 618.67h1.40M263.60 616.96h1.40M263.60 615.51h1.40M263.60 614.25h1.40M263.60 613.14h1.40M262.40 612.15h2.60M263.60 605.63h1.40M263.60 601.81h1.40M263.60 599.10h1.40M263.60 597.00h1.40M263.60 595.28h1.40M263.60 593.83h1.40M263.60 592.58h1.40M263.60 591.47h1.40M262.40 590.47h2.60M263.60 583.95h1.40M263.60 580.13h1.40M263.60 577.43h1.40M263.60 575.32h1.40M263.60 573.61h1.40M263.60 572.16h1.40M263.60 570.90h1.40M263.60 569.79h1.40M262.40 568.80h2.6M265.00 655.50v2.60M272.34 655.50v1.40M276.63 655.50v1.40M279.68 655.50v1.40M282.04 655.50v1.40M283.97 655.50v1.40M285.60 655.50v1.40M287.01 655.50v1.40M288.26 655.50v1.40M289.38 655.50v2.60M296.71 655.50v1.40M301.00 655.50v1.40M304.05 655.50v1.40M306.41 655.50v1.40M308.34 655.50v1.40M309.97 655.50v1.40M311.39 655.50v1.40M312.63 655.50v1.40M313.75 655.50v2.60M321.09 655.50v1.40M325.38 655.50v1.40M328.43 655.50v1.40M330.79 655.50v1.40M332.72 655.50v1.40M334.35 655.50v1.40M335.76 655.50v1.40M337.01 655.50v1.40M338.12 655.50v2.60M345.46 655.50v1.40M349.75 655.50v1.40M352.80 655.50v1.40M355.16 655.50v1.40M357.09 655.50v1.40M358.72 655.50v1.40M360.14 655.50v1.40M361.38 655.50v1.40M362.50 655.50v2.60" stroke-width="0.6"/>
</g>
<path d="M304.00 568.80V655.50M265.00 634.40H362.50" stroke="#8c8c8c" stroke-width="0.9" fill="none"/>
<path d="M283.6 635.4h1m6.4 0.2h1m39.8 0.8h1m4 0h1m10.8 -0.6h1m3.2 0.4h1m-69 0.8h1m49.8 -0.2h1m16.6 0.4h1m6 0.2h1m-80.6 0.4h1m2 -0.2h1m0.6 0.8h1m0.6 -0.2h1m-0.6 0.2h1m0.8 -0.4h1m31.4 -0.4h1m2 0.4h1m1.4 0.2h1m3.6 0.2h1m1.6 -0.6h1m2.4 0.4h1m2.6 -0.4h1m0 0h1m2.6 0.4h1m5.2 -0.6h1m0.4 0.6h1m-73.2 1.2h1m2.2 0h1m-0.6 -0.4h1m0.2 0.2h1m1.6 0.2h1m38.8 -0.8h1m-0.6 0.2h1m-0.8 -0.2h1m0.6 0.4h1m0 0.2h1m-0.8 -0.4h1m-0.6 -0.2h1m0 0.2h1m-1 0h1m0.8 -0.2h1m-0.6 0h1m-0.2 0.4h1m-0.6 0.2h1m-0.6 -0.6h1m-0.6 0.8h1m0.6 -0.4h1m1.6 0.4h1m0 -0.6h1m-0.8 0h1m3.8 -0.2h1m0.4 0.8h1m3.2 -0.8h1m0.4 0h1m6.4 0.8h1m-83.2 0.4h1m0.6 0.2h1m-0.8 0.4h1m0.4 -0.8h1m0.2 0.2h1m-0.6 0h1m5.2 0.6h1m4 -0.2h1m0.4 0h1m13 0h1m-0.6 -0.2h1m0 -0.2h1m0.4 0.2h1m2 0h1m0.6 -0.4h1m-0.6 0.2h1m-0.4 0.2h1m3 -0.4h1m-0.6 0.2h1m0.2 0.2h1m-0.8 0.2h1m-1 -0.4h1m1.2 0.2h1m-0.6 -0.4h1m-0.8 0.2h1m1.6 0.2h1m-0.6 0h1m0.4 0.4h1m-1 -0.4h1m0.4 0h1m-0.2 -0.2h1m0.8 0h1m-1 -0.2h1m-0.6 0h1m-0.4 0.4h1m-0.4 0.2h1m-0.2 0h1m-1 0h1m-0.8 0.2h1m-0.8 -0.2h1m-0.8 0.2h1m0 -0.8h1m-0.2 0.6h1m-0.4 -0.4h1m-0.8 0.2h1m-0.6 0.2h1m-0.8 -0.2h1m2.4 -0.2h1m-0.8 0.4h1m-0.6 0h1m-0.4 0h1m-0.2 -0.2h1m-0.4 0.4h1m2 -0.4h1m-0.4 0.2h1m2.4 0.2h1m1 -0.4h1m1.8 0h1m-0.8 -0.4h1m-86 1.8h1m0 -0.4h1m1 -0.4h1m-0.2 0.4h1m2 0.2h1m-0.8 -0.6h1m-0.6 0.4h1m-0.4 -0.2h1m0 0.6h1m-0.2 -0.6h1m-0.8 0h1m0 -0.2h1m0.2 0.6h1m0 -0.2h1m0.4 -0.4h1m-0.8 0.4h1m-1 0.4h1m0.4 0h1m0.4 0h1m0 -0.8h1m2.8 0.8h1m6.8 -0.8h1m3.4 0.4h1m0 0.4h1m3.2 0h1m-0.8 -0.2h1m1 0.2h1m-0.6 -0.2h1m-0.4 0.2h1m-0.6 -0.2h1m-1 0.2h1m-0.4 -0.4h1m0.4 0.2h1m0.8 -0.6h1m-0.6 0.6h1m-0.2 0.2h1m-0.4 -0.6h1m-1 0.2h1m-0.4 0h1m-1 0h1m0.6 0.2h1m-0.2 -0.6h1m-1 0.2h1m-1 -0.2h1m-0.6 0.6h1m-1 -0.6h1m0.4 0h1m-1 0.2h1m-0.6 -0.2h1m-0.8 0.8h1m-1 -0.2h1m0.2 -0.4h1m-1 0.6h1m-0.8 -0.8h1m0.6 0.8h1m-1 -0.4h1m-0.6 0h1m-0.8 -0.2h1m-0.6 0h1m0.4 0.2h1m-0.8 0.4h1m-1 -0.6h1m0 -0.2h1m-0.8 0.2h1m-1 0.6h1m-0.2 -0.8h1m-1 0.4h1m-0.6 0h1m-0.8 0.4h1m-1 -0.8h1m-0.8 0.4h1m-1 0.4h1m-0.8 -0.6h1m-0.6 -0.2h1m-0.2 0.8h1m0 -0.8h1m-0.8 0.8h1m-0.6 -0.6h1m0.6 -0.2h1m-0.8 0h1m-0.2 0.4h1m-0.4 0.4h1m-0.4 -0.4h1m-0.8 0.4h1m-0.6 -0.4h1m-0.8 0h1m-0.8 0h1m-0.8 -0.2h1m-0.8 0.6h1m0 -0.2h1m-0.2 0h1m-0.8 -0.2h1m-1 0h1m-0.2 -0.2h1m-0.8 -0.2h1m-1 0.8h1m-0.8 0h1m-0.6 -0.4h1m-0.4 -0.2h1m-0.8 0.6h1m-0.2 0h1m-0.6 -0.2h1m-0.4 -0.2h1m-0.6 0h1m-0.6 0.4h1m-0.6 -0.4h1m-0.2 0.2h1m0 -0.2h1m-1 -0.2h1m0.8 0h1m-1 0h1m-0.8 0h1m-0.4 0.6h1m-0.4 -0.2h1m0.6 0.2h1m-85 0.2h1m-0.6 0h1m0 0.4h1m-0.4 0.2h1m-0.6 -0.4h1m0.4 0.6h1m0.6 -0.8h1m0.2 0.8h1m-0.4 -0.2h1m-0.4 -0.4h1m0 0.6h1m-0.8 -0.2h1m-0.6 -0.2h1m-0.8 0.4h1m-0.8 -0.2h1m-0.8 0h1m-0.4 -0.4h1m-0.6 -0.2h1m-0.4 0.6h1m-0.4 -0.2h1m-0.4 0h1m-0.8 0.2h1m-1 0h1m-0.4 -0.2h1m-0.8 -0.2h1m-1 0.6h1m2 -0.4h1m-0.6 0.2h1m8 -0.6h1m1.8 0.2h1m-0.6 0h1m4.6 0.4h1m0.6 0.2h1m-0.6 -0.4h1m1.8 -0.4h1m0.8 0h1m-0.8 0.4h1m1.6 -0.2h1m-0.2 -0.2h1m0.6 0.2h1m0.4 0.2h1m-0.8 0.4h1m-1 -0.6h1m-1 0.6h1m0 -0.8h1m-1 0.2h1m-1 0h1m-0.8 0h1m0.6 0.4h1m0 -0.6h1m-1 0.2h1m-0.6 -0.2h1m-0.8 0.2h1m-0.6 0.2h1m-0.4 0.2h1m0 -0.6h1m-0.6 0h1m-0.6 0.6h1m-0.8 -0.2h1m-1 0h1m-0.6 0h1m-1 -0.2h1m-0.2 0.4h1m-0.4 0.2h1m-0.8 -0.4h1m-0.8 -0.4h1m-0.6 0h1m-0.8 0.2h1m-1 -0.2h1m-0.8 0.4h1m-1 0h1m-0.8 0.2h1m0 -0.2h1m-1 -0.4h1m-0.8 0.4h1m-0.8 -0.2h1m-1 0h1m-1 0.2h1m-0.8 0h1m-0.8 0.2h1m-0.8 -0.2h1m-1 -0.2h1m-0.8 0.2h1m-0.8 -0.2h1m-0.6 0h1m-1 0.2h1m-0.4 0.2h1m-1 -0.6h1m-1 0h1m-0.8 0.6h1m-0.6 -0.2h1m-0.6 -0.4h1m-1 0.6h1m-1 -0.2h1m-0.6 -0.4h1m-0.6 0.2h1m-1 0.4h1m-1 -0.2h1m-1 0.2h1m-1 0h1m-1 -0.4h1m-0.8 -0.2h1m-0.8 0.6h1m-0.4 0h1m-1 -0.4h1m-0.8 0h1m-1 0.4h1m-0.4 -0.2h1m-0.8 0h1m-1 -0.2h1m-0.6 -0.2h1m-0.8 0.4h1m-0.6 0h1m-0.6 0.4h1m-1 -0.6h1m-1 0.6h1m-1 0h1m0 -0.6h1m-0.2 0h1m-0.6 0.6h1m-0.8 -0.2h1m-0.2 0.2h1m-0.2 -0.8h1m-0.8 0.2h1m-0.8 0.2h1m-0.6 -0.2h1m-0.6 -0.2h1m-0.8 0.6h1m-0.6 -0.4h1m-0.8 0.4h1m-0.8 0h1m-1 -0.2h1m-0.8 0.2h1m-0.8 0h1m-0.6 -0.6h1m-1 0.2h1m-0.6 0.2h1m-0.4 -0.2h1m-0.8 0.4h1m-0.6 -0.2h1m-0.8 0h1m-0.8 -0.2h1m-0.6 0h1m0 0.2h1m-0.8 0.4h1m-0.8 0h1m0.6 -0.8h1m-0.6 0h1m1.2 0.2h1m0.6 0h1m-0.4 -0.2h1m-88.2 1.6h1m3.6 -0.2h1m-0.2 0.2h1m-0.6 0.2h1m-0.4 -0.2h1m0.6 0h1m-1 -0.2h1m0 -0.2h1m-1 0.4h1m0 0h1m0.2 -0.2h1m-0.4 0h1m-1 0.4h1m-0.6 -0.6h1m-1 0.6h1m-0.8 -0.2h1m-0.8 0.2h1m-0.8 0h1m-0.6 0h1m-0.8 -0.6h1m-0.8 0.4h1m-1 0.2h1m-0.4 -0.6h1m-0.2 0.6h1m-0.6 -0.8h1m-0.8 0h1m-1 0.2h1m-0.6 0.4h1m-0.4 -0.6h1m-0.8 0.4h1m-0.8 0.2h1m-1 -0.6h1m-0.8 0.8h1m0.4 -0.4h1m1.8 0.2h1m-0.2 -0.4h1m-0.6 -0.2h1m7.6 0.6h1m2.4 0.2h1m1.4 -0.6h1m0 0.6h1m1.8 -0.6h1m0.4 0.4h1m-0.6 -0.2h1m0 0.2h1m-0.8 0.2h1m1.6 -0.8h1m-0.8 0.8h1m-0.8 -0.6h1m-1 0.6h1m0.2 -0.4h1m-0.8 0.2h1m-1 -0.2h1m0 0.4h1m-0.2 0h1m-0.8 -0.4h1m-0.8 0h1m0 -0.4h1m0.6 0.4h1m-1 0h1m0 -0.4h1m-0.8 0.2h1m-0.8 0.6h1m0 0h1m-0.8 -0.6h1m-0.6 0.2h1m-0.6 0h1m-0.4 0h1m-0.8 0h1m-1 -0.2h1m-0.8 0.6h1m-0.6 -0.6h1m-1 -0.2h1m-1 0.6h1m-0.4 -0.2h1m-0.8 0.2h1m-0.6 -0.4h1m-0.6 0.6h1m-0.6 -0.8h1m-1 0.8h1m-1 -0.4h1m-0.6 0.4h1m-0.8 -0.6h1m-1 0.4h1m-0.8 -0.2h1m-0.6 -0.4h1m-0.4 0h1m-0.8 0h1m-1 0.2h1m-0.8 0.6h1m-1 -0.2h1m-1 -0.2h1m-0.8 0.4h1m-0.6 -0.2h1m-1 -0.2h1m-1 -0.4h1m-0.6 0.8h1m-0.8 -0.4h1m-0.4 0.4h1m-1 -0.4h1m-0.4 0.2h1m-0.6 -0.6h1m-0.8 0h1m-1 0.6h1m-1 -0.4h1m-1 0.4h1m-0.8 0h1m-0.8 -0.2h1m-0.8 0.2h1m-1 -0.6h1m-0.8 0.6h1m-0.4 -0.4h1m-0.4 -0.2h1m-0.8 0.4h1m-0.6 -0.2h1m-1 0.6h1m-0.6 -0.2h1m0.2 -0.6h1m-1 0.8h1m-0.6 -0.8h1m-0.4 0.2h1m-1 -0.2h1m-0.8 0.8h1m-0.8 -0.2h1m-1 0h1m-1 0h1m-0.6 -0.2h1m-0.4 -0.2h1m-0.8 0.2h1m-0.4 -0.4h1m0.4 0.2h1m0.2 0.4h1m-1 -0.4h1m-0.2 0.2h1m-1 -0.4h1m-0.6 0.2h1m-0.8 0.4h1m-0.2 0.2h1m-0.8 -0.2h1m-0.4 -0.4h1m-1 0h1m0.4 0.4h1m0 -0.4h1m-0.6 -0.2h1m-0.8 0h1m0 0.6h1m-1 0h1m0 -0.4h1m-0.8 0h1m-0.4 0.4h1m0.2 -0.6h1m-0.8 0.6h1m-1 -0.4h1m-0.4 -0.2h1m0.2 0h1m-0.4 0.8h1m-89.2 0.8h1m-1 -0.6h1m0.4 0.2h1m-0.2 0.2h1m1 0.4h1m0.4 -0.6h1m0.4 -0.2h1m-0.4 0h1m1 0h1m-0.6 0.4h1m-0.6 -0.2h1m0 0.2h1m-0.6 -0.4h1m-0.6 0.2h1m-1 0.6h1m-0.8 -0.2h1m-0.6 -0.6h1m0 0.8h1m-0.8 -0.8h1m-1 0.6h1m-0.6 0.2h1m-0.6 -0.6h1m0.4 0.4h1m-1 0h1m-0.8 0.2h1m0.4 -0.8h1m1.4 0h1m-0.6 0.8h1m-0.2 -0.4h1m-0.2 0.4h1m11.4 -0.4h1m0 -0.4h1m4.4 0.6h1m-0.4 -0.4h1m-0.8 -0.2h1m-0.6 0h1m-0.6 0h1m1.4 0.6h1m-0.8 0h1m-0.8 -0.6h1m-0.6 0.2h1m-0.4 0.2h1m-1 -0.4h1m0.4 0.2h1m-0.8 0.4h1m-0.2 -0.4h1m-0.4 0h1m1 0.6h1m-0.8 -0.4h1m-0.2 0.2h1m-0.4 0.2h1m-0.6 0h1m-1 -0.2h1m-0.8 0.2h1m0 0h1m-0.8 -0.6h1m-0.6 -0.2h1m-0.6 0.4h1m-1 0.4h1m-0.8 -0.4h1m-1 0.2h1m-0.8 0.2h1m-0.8 -0.4h1m-0.8 0.2h1m-1 -0.2h1m0.2 0.2h1m-1 0.2h1m-1 -0.6h1m-0.8 0.6h1m-0.6 -0.6h1m-0.2 -0.2h1m-0.8 0.4h1m-0.8 -0.2h1m-1 0h1m-1 0.6h1m-1 -0.4h1m-0.8 0h1m-0.8 0h1m-1 0.4h1m-0.8 0h1m-0.6 -0.2h1m-1 0h1m-0.4 0.2h1m-0.2 -0.2h1m-1 0h1m-0.8 -0.2h1m-0.4 0.4h1m-1 -0.8h1m-1 0h1m-0.8 0.6h1m-0.6 0.2h1m0 -0.8h1m-1 0.6h1m-1 -0.4h1m-0.6 0.6h1m-0.6 -0.6h1m-0.8 0.2h1m-0.8 0h1m-1 0.2h1m-0.4 0h1m-0.4 0.2h1m-0.8 0h1m-0.8 -0.4h1m-1 0h1m-0.8 0h1m-1 0h1m-0.6 0.2h1m-1 -0.2h1m-0.8 0h1m-0.6 0.4h1m-0.4 -0.2h1m-0.6 0.2h1m-1 0h1m-0.8 -0.4h1m-0.8 -0.4h1m-0.8 0.4h1m-0.8 -0.4h1m-0.8 0.8h1m-1 0h1m-1 -0.2h1m-0.4 -0.2h1m-0.8 0.2h1m-0.8 0h1m-1 0.2h1m0 -0.6h1m-0.8 0.2h1m-0.8 0h1m-0.8 0h1m-1 0h1m-1 0.2h1m-0.6 0.2h1m-0.8 -0.8h1m-1 0.6h1m-0.6 -0.4h1m-1 0.4h1m-0.8 -0.6h1m-0.8 0.4h1m-0.8 0h1m-1 -0.2h1m-0.8 0.2h1m-0.6 -0.2h1m-0.8 0.4h1m-1 0h1m-1 -0.4h1m-1 0.2h1m-0.8 -0.2h1m-0.8 0.4h1m-0.8 0.2h1m-0.4 -0.8h1m0.6 0.8h1m-0.8 -0.8h1m-0.6 0.2h1m-0.4 0h1m-0.4 0.4h1m-1 -0.2h1m-1 0.4h1m-0.8 -0.8h1m-0.8 0.2h1m-0.4 0.6h1m-0.8 -0.8h1m-0.6 0.2h1m-1 0.4h1m-0.8 -0.4h1m-0.4 -0.2h1m-0.8 0h1m-0.6 0.6h1m-0.8 -0.4h1m-1 0h1m-0.4 0.6h1m-0.8 -0.6h1m-0.4 0h1m-0.4 0h1m-0.6 0.2h1m-0.4 -0.2h1m0.4 0.2h1m-0.4 0h1m-0.8 -0.2h1m-85.4 1.6h1m0.6 -0.6h1m-0.6 0.6h1m-0.6 -0.6h1m0.2 0.6h1m-0.6 -0.8h1m0.4 0.6h1m-1 -0.2h1m-0.6 0.4h1m-0.8 -0.2h1m-0.6 0h1m-1 -0.4h1m-0.8 0.2h1m-1 0h1m-1 -0.2h1m0.2 0.2h1m-1 -0.2h1m0.2 0.2h1m-1 -0.2h1m-0.8 0h1m-0.6 0.6h1m-1 -0.2h1m0 0.2h1m-0.6 -0.6h1m-0.6 0.6h1m-1 -0.4h1m-0.6 -0.4h1m-0.6 0.8h1m1 -0.8h1m-0.6 0.8h1m1.6 -0.8h1m-0.2 0.4h1m1.8 0h1m11.4 -0.4h1m1.2 0.4h1m1.8 -0.4h1m-0.6 0h1m-0.6 0h1m-0.4 0.4h1m-0.4 -0.4h1m-0.8 0.6h1m-0.8 -0.2h1m-0.6 -0.2h1m-1 0h1m1.2 0.4h1m0.2 0.2h1m0.6 0h1m-0.6 -0.4h1m-0.8 -0.4h1m-0.8 0.8h1m-0.2 -0.8h1m0.2 0.6h1m-0.8 -0.2h1m1.2 -0.2h1m-1 0h1m-1 0h1m-0.8 -0.2h1m-0.4 0.2h1m-1 0.2h1m-0.8 0.2h1m-0.8 -0.4h1m-1 0.6h1m-0.6 -0.8h1m-0.6 0.6h1m-0.8 -0.4h1m-1 -0.2h1m-0.6 0h1m-1 0.8h1m-1 -0.2h1m-1 -0.2h1m0.4 0h1m-0.8 -0.2h1m-1 0.6h1m-0.4 -0.6h1m-1 -0.2h1m-0.8 0.4h1m-0.8 0.2h1m-0.8 -0.4h1m-0.8 0.6h1m-1 -0.8h1m-0.6 0.8h1m-0.8 -0.2h1m-0.8 0h1m-1 -0.6h1m-1 0h1m-0.4 0.2h1m-1 0.6h1m-0.6 -0.6h1m-0.8 0.4h1m-1 0h1m-1 0h1m-0.4 0.2h1m-0.8 -0.8h1m-0.6 0.4h1m-1 -0.2h1m-0.8 0.6h1m-1 -0.8h1m-0.8 0h1m-0.8 0.2h1m-0.6 0h1m-1 0.4h1m-0.8 -0.2h1m-0.6 -0.4h1m-0.4 0.2h1m-0.4 0.6h1m-1 -0.2h1m-0.6 0.2h1m-1 -0.4h1m-0.4 0h1m-1 -0.4h1m-0.8 0h1m-0.8 0.4h1m-0.8 0h1m-1 -0.2h1m-0.8 0.2h1m-1 0.4h1m-1 -0.8h1m-0.8 0.6h1m-0.6 0h1m-1 0h1m-1 0h1m-0.8 0h1m-0.8 0.2h1m-0.2 -0.4h1m-0.4 -0.2h1m-0.8 0.2h1m-0.8 0.4h1m-1 -0.4h1m-1 0h1m-0.6 -0.4h1m-1 0.8h1m-0.8 -0.6h1m-0.8 0h1m-0.8 0h1m-1 0.6h1m-0.8 0h1m-0.8 -0.8h1m-1 0.2h1m-0.6 -0.2h1m-0.6 0.2h1m-0.8 0.2h1m-1 0h1m-1 -0.2h1m0.2 0h1m-1 0.2h1m-0.8 0h1m-0.8 0h1m-0.8 -0.2h1m-1 0.4h1m-0.6 0.2h1m-0.8 -0.4h1m-1 -0.4h1m-0.6 0.8h1m-0.6 -0.8h1m-0.6 0.6h1m0 0h1m-1 0.2h1m-1 -0.4h1m-0.4 0.4h1m-0.8 -0.4h1m-1 0.2h1m-0.4 -0.4h1m-0.2 0.4h1m-0.8 0.2h1m0.2 -0.4h1m-0.4 -0.4h1m-0.8 0.8h1m-1 -0.2h1m-0.2 0.2h1m0.6 -0.6h1m-1 0.6h1m-0.6 -0.2h1m-0.8 -0.4h1m-0.2 0.2h1m-85.4 0.8h1m0.4 -0.2h1m1 0h1m-0.8 0.4h1m-0.6 -0.2h1m0.4 0.6h1m-0.8 0h1m-0.6 -0.8h1m-0.2 0h1m-0.8 0.6h1m-1 -0.6h1m1 0.6h1m-0.8 0h1m-0.4 -0.2h1m-0.4 0.2h1m-0.8 0.2h1m-1 -0.4h1m-1 -0.4h1m-0.8 0.6h1m-0.6 -0.2h1m0 -0.4h1m-0.8 0.4h1m-1 -0.2h1m-0.8 -0.2h1m-1 0.8h1m-0.8 -0.4h1m-0.6 -0.2h1m-1 -0.2h1m-0.4 0.6h1m-0.2 -0.6h1m-0.6 0h1m-0.8 0h1m-0.8 0.2h1m0.6 -0.2h1m-0.8 0.4h1m0.6 0.4h1m-0.4 -0.8h1m0.2 0.8h1m-0.8 -0.8h1m7.8 0h1m0.8 0h1m8 0.4h1m-0.2 -0.4h1m2.2 0.6h1m-0.4 -0.6h1m-0.8 0.4h1m0.2 0h1m-1 0.2h1m-0.8 -0.6h1m-0.6 0.8h1m-0.6 -0.6h1m-0.8 0.2h1m-0.8 -0.4h1m1.2 0.8h1m-0.6 -0.4h1m-0.2 0.2h1m0 -0.6h1m-0.8 0h1m-0.6 0.2h1m-0.8 0.6h1m-0.8 -0.2h1m-0.6 -0.6h1m-0.4 0.4h1m-0.2 0.2h1m-1 -0.6h1m0 0.6h1m-1 -0.4h1m0 0h1m-1 0.6h1m-0.2 -0.8h1m0 0.4h1m-0.8 -0.4h1m-0.8 0.8h1m-0.8 -0.4h1m-0.4 -0.2h1m-1 0.4h1m-0.6 0h1m-0.6 -0.4h1m-1 0.4h1m-0.4 -0.2h1m-0.2 0.4h1m-1 -0.8h1m-0.6 0.8h1m-0.6 -0.8h1m0 0.8h1m-1 0h1m-0.8 -0.6h1m-1 -0.2h1m-0.8 0h1m-1 0.6h1m-0.6 0.2h1m-0.8 -0.8h1m-1 0.4h1m-0.6 0.4h1m-0.6 -0.8h1m-0.4 0.4h1m-0.8 -0.4h1m-1 0.8h1m-0.4 0h1m-1 -0.2h1m-0.6 -0.4h1m-0.6 -0.2h1m-1 0h1m-0.6 0.2h1m-0.6 0.4h1m-1 0.2h1m-0.8 -0.6h1m-0.8 -0.2h1m0.4 0h1m-0.8 0.2h1m-0.6 0.2h1m-0.6 0.4h1m0 -0.8h1m0.4 0h1m0 0h1m-0.8 0.4h1m-0.8 0.2h1m-1 -0.6h1m0.2 0.4h1m-0.8 -0.2h1m0.6 0.6h1m-0.8 -0.8h1m-0.6 0.2h1m-0.2 0.4h1m1 -0.4h1m0 0h1m-86 1h1m2.8 0h1m0.2 -0.2h1m1.6 0h1m1.4 0.8h1m-0.6 -0.6h1m0 -0.2h1m0 0.4h1m1.6 -0.4h1m-0.8 0.8h1m-0.6 -0.8h1m0.6 0.8h1m-0.2 -0.4h1m-0.8 0h1m-0.4 -0.2h1m-0.4 -0.2h1m1.8 0.6h1m5.8 -0.4h1m10.8 -0.2h1m2.4 0.2h1m0.2 -0.2h1m0.2 0.4h1m1.8 0h1m-1 0.2h1m0 0.2h1m-0.6 -0.6h1m0 0.2h1m-0.6 0h1m-0.6 0h1m-1 -0.2h1m0.2 0h1m-0.8 0h1m-1 -0.2h1m-0.6 0.2h1m0 0.4h1m-0.8 -0.4h1m-0.2 0h1m-0.8 0.2h1m-0.4 0.2h1m-0.8 -0.2h1m0 -0.2h1m-0.6 0.6h1m-1 -0.8h1m-0.8 0.8h1m-1 -0.2h1m-0.6 -0.2h1m-0.8 -0.4h1m-0.2 0.4h1m-0.6 0.2h1m-0.8 0.2h1m-0.6 -0.2h1m-0.2 -0.6h1m-0.6 0.6h1m-0.8 -0.4h1m-0.8 0.2h1m-0.6 0h1m0 0h1m-0.2 0h1m-0.6 -0.2h1m-0.6 -0.2h1m-0.6 0.4h1m0.4 -0.2h1m-0.8 0.6h1m0.2 -0.2h1m-1 0h1m-0.2 -0.6h1m-0.8 0h1m-0.8 0.4h1m-0.8 -0.4h1m0.4 0.6h1m-0.6 0h1m-0.6 -0.6h1m1 0h1m0.2 0.8h1m-0.8 -0.8h1m0 0h1m-0.8 0h1m-0.6 0h1m0.6 0.4h1m0 -0.4h1m1.2 0.8h1m-0.4 0h1m0.6 -0.8h1m0.4 0.8h1m1 -0.6h1m-85.4 1h1m2.6 0h1m0.8 -0.2h1m-0.8 0.8h1m2 -0.8h1m-0.6 0.2h1m0.8 0h1m-0.8 0h1m3.6 0.2h1m1 0h1m17.2 0h1m-0.8 0.2h1m-0.2 0h1m1.2 -0.6h1m2 0.8h1m1 -0.6h1m0.2 0h1m-0.6 0.2h1m1 -0.4h1m-0.8 0h1m-0.8 0.2h1m0 0.6h1m1 -0.2h1m0.6 0.2h1m-0.2 -0.8h1m-0.8 0.8h1m0.4 -0.8h1m0.6 0.8h1m-0.2 0h1m-1 -0.2h1m-0.2 -0.4h1m-0.6 -0.2h1m0.2 0.6h1m-0.4 -0.6h1m-0.6 0.8h1m-0.4 -0.2h1m-0.2 0h1m-0.4 0.2h1m-0.6 -0.2h1m1.8 -0.6h1m-1 0h1m-0.4 0.2h1m0.2 0h1m-0.8 0.2h1m2.6 -0.2h1m-1 -0.2h1m-0.8 0.2h1m1.4 -0.2h1m2.6 0.8h1m2.4 -0.6h1m-83.6 1.4h1m2.4 -0.6h1m32.8 0h1m11.6 0.4h1m-0.4 0.2h1m-0.6 -0.2h1m-0.6 0.4h1m-0.2 -0.2h1m1 -0.4h1m0.6 0.2h1m-0.6 0.2h1m-0.2 -0.6h1m-0.6 0.8h1m1.8 -0.6h1m-1 0.6h1m3.6 -0.2h1m-1 0.2h1m0 -0.6h1m5.6 0.2h1m-0.4 -0.2h1m0.4 -0.2h1m-0.4 0.4h1m0.2 0.2h1m0 0h1m-0.6 0.2h1m-68.6 1h1m-0.6 -0.4h1m27 -0.2h1m8.2 -0.2h1m2.8 0.6h1m1 -0.6h1m5 0.4h1m5.4 0h1m8.6 0.2h1m0.8 0.2h1m1.8 -0.2h1m-24.2 0.4h1m12.4 0.2h1m-57 0.8h1" stroke="#262626" stroke-opacity="1.0" stroke-width="1" fill="none"/>
<path d="M332.6 636.6h1m-8 1.6h1m4.2 -0.2h1m2.4 -0.4h1m9.8 0.8h1m4.8 0h1m-22.8 1h1m2.4 -0.2h1m2.8 0.2h1m-0.8 -0.8h1m6 0.6h1m0 -0.2h1m-24.2 1.4h1m8.4 -0.4h1m0 -0.4h1m-0.4 0.4h1m-0.4 0.4h1m0.2 -0.4h1m1.4 0.4h1m-0.4 0h1m-0.8 -0.2h1m0.8 -0.6h1m4.6 0.6h1m-0.6 -0.2h1m-0.6 -0.4h1m-0.2 0h1m-1 0.2h1m-0.4 0h1m1.6 0.4h1m-0.4 -0.2h1m1 0.2h1m-1 0h1m-24.8 0.8h1m-0.4 0.4h1m-0.8 -0.6h1m1.8 0.2h1m-0.6 0.4h1m-0.2 0h1m-0.4 -0.6h1m-0.6 0.2h1m-0.2 0.2h1m-0.8 -0.6h1m-0.4 0h1m0.2 0.2h1m0.2 0.4h1m-1 -0.2h1m-0.8 0.2h1m-0.8 -0.6h1m-0.8 0h1m-0.2 0.4h1m-0.8 -0.2h1m0.8 -0.2h1m-1 0.2h1m0 -0.2h1m-0.8 0.4h1m-1 -0.2h1m-0.6 0h1m0 -0.2h1m-0.8 0.8h1m-0.8 -0.2h1m-0.4 -0.4h1m-1 0.2h1m-0.2 -0.4h1m0.4 0.6h1m-0.8 0h1m-1 -0.2h1m-1 0.2h1m-20 0.8h1m0.6 0.4h1m1 -0.4h1m-0.8 0.4h1m-0.8 -0.2h1m-0.4 0.2h1m-0.6 -0.6h1m-1 -0.2h1m-0.6 0.4h1m0.2 0.4h1m-1 -0.4h1m-0.8 0h1m-0.6 -0.4h1m-0.8 0.6h1m-0.8 -0.4h1m-0.8 0.6h1m-0.8 -0.6h1m-1 0h1m-0.4 0.6h1m-1 -0.4h1m-0.4 0.2h1m-0.8 -0.2h1m-0.6 0.2h1m-0.6 -0.4h1m-1 0.4h1m-0.8 -0.6h1m-0.2 0h1m-0.8 0.4h1m-0.8 0.4h1m-0.8 -0.8h1m-0.4 0.4h1m-0.6 0.4h1m-0.4 0h1m0 -0.8h1m-1 0.8h1m-0.8 0h1m-1 0h1m-0.8 -0.2h1m-1 -0.6h1m-0.6 0.8h1m-0.8 0h1m0 -0.4h1m-1 0h1m-0.4 0h1m-1 -0.2h1m-0.6 -0.2h1m-0.4 0.2h1m-0.8 0.2h1m1.8 -0.2h1m0 0.4h1m-28.4 1h1m2.8 -0.4h1m-1 0.2h1m-0.6 0.2h1m1 0.2h1m-1 -0.4h1m0.2 -0.4h1m-0.6 0.6h1m-1 -0.2h1m-0.8 -0.2h1m-0.6 0h1m-1 0h1m-0.8 0.2h1m0 -0.4h1m-0.6 0h1m-1 0h1m-0.8 0.6h1m-1 -0.4h1m-0.8 0.4h1m-0.6 -0.6h1m-1 0.4h1m-0.6 0h1m-0.8 0.4h1m-0.6 -0.4h1m0 -0.4h1m-1 0.6h1m-1 -0.6h1m-0.2 0.2h1m-0.8 0.6h1m-0.8 0h1m-0.8 -0.2h1m-1 -0.6h1m-0.8 0.6h1m0.2 -0.4h1m-1 0.6h1m-1 -0.6h1m-0.6 0h1m-0.2 0.4h1m-0.8 -0.2h1m-0.2 0.4h1m-0.4 -0.2h1m-1 0.2h1m-0.6 -0.2h1m-1 -0.2h1m-0.8 0.4h1m-1 -0.2h1m-0.8 -0.6h1m-0.6 0.6h1m-1 -0.2h1m-0.8 0.4h1m-1 -0.4h1m-0.8 0.2h1m-1 -0.2h1m-1 0.2h1m-0.4 -0.4h1m-0.6 0.6h1m-1 -0.8h1m-1 0.2h1m-0.6 0h1m-0.8 -0.2h1m-0.2 0.4h1m-0.6 -0.2h1m-0.8 -0.2h1m-0.6 0.2h1m-1 0.4h1m-0.4 -0.2h1m-1 0h1m-0.8 -0.2h1m-0.8 0.2h1m-0.8 0h1m-1 0.4h1m-1 -0.6h1m-0.8 -0.2h1m-0.4 0.4h1m1.4 0.2h1m0 0.2h1m1.8 -0.6h1m0.2 0.2h1m-35.6 1.2h1m-0.6 -0.6h1m-0.2 0.4h1m0.2 -0.2h1m1.8 0.6h1m-0.8 -0.6h1m0.6 0.6h1m1 -0.8h1m-0.8 0h1m-1 0.8h1m-0.8 -0.8h1m-0.8 0.2h1m-0.4 0.2h1m-0.8 0h1m-0.8 0.2h1m-1 -0.6h1m-0.4 0.6h1m-1 -0.4h1m-0.6 0.6h1m-1 -0.6h1m-0.6 0.2h1m-1 0.4h1m-0.8 -0.2h1m-0.8 -0.6h1m-0.8 0.4h1m-0.6 -0.4h1m-0.4 0h1m-0.8 0.8h1m-0.8 -0.8h1m0 0.6h1m-1 0.2h1m-1 -0.4h1m-0.8 0h1m-0.4 -0.2h1m-0.4 0.4h1m-0.6 -0.4h1m-0.8 0.2h1m-0.8 0.2h1m-0.6 -0.6h1m-1 0.6h1m-1 0.2h1m-0.4 -0.8h1m-1 0.4h1m-0.6 0h1m-1 0.4h1m-0.8 -0.6h1m-1 0.4h1m-1 -0.6h1m-1 0.6h1m-0.4 -0.6h1m-1 0h1m-0.8 0.6h1m-0.8 0h1m-1 0h1m-1 -0.4h1m-0.6 0.2h1m-0.4 -0.4h1m-1 0.8h1m-0.8 -0.8h1m-0.8 0.2h1m-0.6 0.6h1m-1 -0.2h1m-0.6 -0.2h1m-0.6 -0.4h1m-1 0.6h1m-0.6 -0.2h1m-0.6 0.2h1m-1 0.2h1m-0.8 -0.2h1m-0.8 -0.4h1m-0.6 0.6h1m-1 -0.4h1m1 0.2h1m-0.8 -0.6h1m-0.6 0.2h1m-0.6 0.6h1m-0.8 0h1m-0.4 -0.4h1m1.4 0.4h1m-0.6 0h1m-0.4 -0.8h1m-30.8 1h1m2 0.2h1m-0.6 0.6h1m-0.8 -0.8h1m0.4 0h1m0 0.2h1m-0.8 0.6h1m-0.8 -0.2h1m-0.2 -0.6h1m-1 0.6h1m-0.2 -0.4h1m-0.8 0.2h1m-0.6 0.2h1m-1 0h1m-0.8 0h1m-0.8 -0.6h1m-1 0h1m0.2 0.8h1m-0.8 -0.6h1m-1 0.6h1m0 -0.4h1m-0.4 0.4h1m-0.6 -0.6h1m-1 0h1m-0.8 0.2h1m-0.6 -0.4h1m-1 0.4h1m-0.8 0.4h1m-1 -0.6h1m-0.8 0h1m-1 0.4h1m-0.8 0.2h1m-0.6 -0.2h1m-0.8 -0.2h1m-0.4 -0.4h1m-1 0.4h1m-0.8 0h1m-0.4 0.4h1m-0.8 -0.2h1m-0.8 0h1m-1 -0.4h1m-0.6 0h1m-1 0.2h1m-0.8 -0.2h1m-0.6 0.6h1m-0.6 -0.2h1m-0.8 -0.2h1m-0.6 -0.2h1m0 0h1m-1 0.4h1m-0.8 0.2h1m-0.8 -0.6h1m-0.8 0.4h1m-0.8 0h1m-0.6 0.2h1m-1 -0.8h1m-0.8 0.2h1m-0.6 0.6h1m-1 -0.8h1m-0.8 0h1m-0.6 0h1m-0.8 0.6h1m0.4 -0.4h1m-0.8 0.4h1m-0.6 -0.6h1m-1 0.2h1m0 0.6h1m-1 -0.8h1m-0.8 0.8h1m-0.6 -0.2h1m-1 -0.4h1m-0.4 -0.2h1m0 0.8h1m2 -0.6h1m-0.6 0.2h1m1.4 0.4h1m-33 0.6h1m2.6 0.2h1m1 -0.2h1m-0.4 -0.4h1m0.2 0h1m-0.8 0.2h1m-1 0.2h1m0.6 0h1m-0.6 -0.4h1m-1 0.4h1m-0.6 -0.4h1m-0.6 0.2h1m0.2 0.2h1m-0.8 0.4h1m-0.8 -0.6h1m-1 0.6h1m-0.6 -0.4h1m-1 -0.2h1m-0.6 0.4h1m-0.4 -0.6h1m-0.6 0h1m-0.6 0.4h1m-0.8 0.4h1m0.6 -0.8h1m-0.8 0h1m0.2 0.8h1m-0.8 -0.4h1m-0.4 -0.2h1m-0.8 0.4h1m-1 -0.6h1m-0.4 0.8h1m-0.4 0h1m-0.4 -0.4h1m-0.4 0h1m0.2 -0.2h1m-0.8 0h1m1.2 -0.2h1m-0.4 0.8h1m-0.4 -0.2h1m-0.4 0h1m-0.4 -0.6h1m0.4 0.2h1m-0.4 0.2h1m3.6 -0.2h1m-29.2 0.8h1m0.6 0.2h1m0.4 -0.2h1m-0.2 0.6h1m-0.4 -0.6h1m1.8 0.8h1m-0.8 -0.2h1m-0.4 0.2h1m-1 0h1m-0.6 -0.4h1m-0.8 -0.2h1m-0.6 -0.2h1m-0.6 0.2h1m0 0.4h1m-0.4 0.2h1m-0.8 -0.6h1m-0.2 0.2h1m-0.6 0.4h1m-0.2 -0.8h1m-0.6 0.2h1m1.8 0.2h1m-1 0.2h1m-0.2 -0.4h1m-0.8 0.6h1m1 -0.4h1m2 -0.4h1m0.8 0.8h1m-27 0.4h1m5 -0.2h1m0.2 0.6h1m-0.4 -0.2h1m-0.6 0.2h1m1.2 -0.2h1m-0.6 0h1m-0.8 0.4h1m0.8 -0.6h1m-1 -0.2h1m0.4 0.2h1m-1 0h1m0.2 0.4h1m0.6 -0.6h1m1.6 0.4h1m0 -0.4h1m-20.8 1.8h1m0 -0.2h1m4.4 -0.2h1m1.4 -0.4h1m0.2 0.4h1m-0.2 0.4h1m1.4 -0.8h1m-0.6 0.6h1m-0.8 -0.2h1m0.2 -0.4h1m1 0.4h1m7.2 0.2h1m-17 0.4h1m10.8 0h1m-11.8 1.4h1" stroke="#1a1a1a" stroke-opacity="1.0" stroke-width="1" fill="none"/>
<path d="M305.4 639.2h1m-24.6 1h1m13.2 0.2h1m-4.4 0.4h1m0.6 0.6h1m-0.6 -0.2h1m8.6 0.2h1m3.8 -0.6h1m-0.2 0h1m-0.6 0.6h1m5.8 -0.4h1m27.8 0.4h1m-65.8 0.4h1m11.8 0.2h1m12.8 0.2h1m9.6 0.2h1m13.6 0h1m-68 0.8h1m16.6 -0.4h1m10 0.6h1m2.8 -0.8h1m5 0h1m-0.6 0.4h1m-0.6 -0.4h1m8.4 0.6h1m-0.6 -0.4h1m2 0h1m0.2 0h1m-0.2 0.4h1m7.2 0h1m7.6 0h1m-62.4 0.4h1m14.4 0.8h1m3 -0.2h1m6.4 0h1m0 0.2h1m0 -0.8h1m4 0.8h1m0.4 -0.8h1m-0.8 0.4h1m0.4 0.2h1m8.2 0.2h1m23 0h1m2.6 0h1m0 0h1m-81.2 0.6h1m14.8 -0.4h1m-0.8 0.8h1m-0.8 -0.6h1m11 -0.2h1m0.8 0.2h1m-0.8 0.2h1m-0.2 -0.2h1m4.2 0h1m-0.8 0.4h1m0.4 -0.4h1m0 -0.2h1m2.4 0.4h1m3 -0.4h1m2 0.4h1m0.8 -0.2h1m-0.2 0.4h1m10.2 0.2h1m4.6 -0.8h1m12.8 0h1m-66.8 1.8h1m5.4 -0.6h1m3 0.6h1m5.2 -0.8h1m-0.8 0.2h1m2.6 0.2h1m15.2 0.2h1m23.4 -0.2h1m1.8 0.4h1m-61 0.6h1m1.8 0.2h1m-0.8 -0.4h1m-0.2 0.4h1m3.2 0.2h1m0 -0.8h1m-0.6 0.4h1m0.8 -0.2h1m6.8 0.6h1m3.4 -0.6h1m0.4 0.2h1m1.6 0h1m-0.8 0h1m16.8 0.2h1m2.4 -0.2h1m0.6 0.2h1m10.6 0.2h1m-76.2 0.4h1m12.4 0.2h1m-1 -0.2h1m-0.8 0.2h1m-1 -0.4h1m-0.2 0.2h1m2.4 -0.2h1m-0.6 0.2h1m-0.2 -0.2h1m-0.6 0.8h1m0.6 -0.4h1m-0.8 -0.4h1m0.2 0.8h1m-0.8 -0.6h1m4.8 0.6h1m-0.4 -0.6h1m-0.8 0.4h1m3.2 0h1m-1 -0.2h1m1.2 0.4h1m3 0h1m3.8 -0.8h1m2.6 0.6h1m0 -0.6h1m4.6 0.8h1m0.2 -0.6h1m9.6 0.2h1m10.4 -0.4h1m-85 1.2h1m1 0.2h1m9.2 0.4h1m0 -0.8h1m-1 0.4h1m0.4 0h1m9.8 0h1m0 0h1m10 -0.2h1m0.2 0h1m3.2 0.4h1m0 -0.6h1m4.2 0.4h1m4.6 0.4h1m1.4 -0.6h1m1.6 0.6h1m0.4 -0.2h1m0.8 -0.2h1m11 -0.4h1m2 0h1m10.8 0.6h1m-93.2 0.8h1m2.6 -0.2h1m20.4 0.4h1m3.6 -0.2h1m0.4 -0.2h1m0.8 0h1m0.4 0.6h1m0 -0.8h1m-0.2 0.8h1m-0.6 -0.6h1m3.6 0h1m-1 -0.2h1m0.4 0.2h1m-0.6 0.2h1m0.6 -0.2h1m6.8 0.2h1m3 -0.2h1m3.8 0h1m-1 -0.2h1m-0.4 0.4h1m1.2 -0.2h1m3 0.2h1m0 0.2h1m2.8 -0.6h1m0.4 0.2h1m2.2 0h1m6.6 -0.2h1m1.6 0.6h1m3.2 0.2h1m-87 0.4h1m5.6 0.4h1m8.4 -0.2h1m5 0h1m0.4 0.2h1m6.4 -0.6h1m4.2 0.2h1m-0.2 0h1m3.6 0.6h1m0.2 -0.4h1m4.8 0.4h1m-0.2 -0.4h1m2.8 0h1m-0.4 0.4h1m17 -0.4h1m1.2 -0.2h1m-73.6 1.2h1m2.2 -0.2h1m5.2 0.4h1m2.2 0h1m0 -0.2h1m0.8 0.4h1m14.2 -0.4h1m0.2 -0.4h1m-0.8 0.4h1m11 0.4h1m2.6 -0.4h1m0 -0.2h1m2.2 -0.2h1m14.4 0.8h1m-35.2 0.2h1m19 0h1m11.4 0.2h1m17.4 -0.2h1m-44.8 1h1" stroke="#404040" stroke-opacity="1.0" stroke-width="1" fill="none"/>
<path d="M338.2 605.0h1m-17.4 2.8h1m2.4 0.4h1m-7.8 1.6h1m3.6 2.2h1m-6.2 1h1m6.2 -0.2h1m2.4 0h1m21.6 0.6h1m-31.4 0.2h1m18.4 0.2h1m-9.4 0.8h1m10.6 0.6h1m6.4 0.2h1m-27 0.4h1m14.8 0.4h1m-24 0.8h1m25.8 -0.4h1m-59.8 1.4h1m36.2 -0.2h1m0.2 0.4h1m-9 0.4h1m6.8 0h1m16.2 0.4h1m-32.6 1h1m3.4 0h1m2.2 0.4h1m0.8 -0.2h1m26.8 -0.4h1m-25.8 1.6h1m28.8 -0.8h1m-32.6 1h1m-0.2 0.4h1m1.4 -0.2h1m1 0.6h1m-30.4 0.8h1m32.2 0h1m-8.4 1h1m-27.2 0.4h1m34.6 0.6h1m-26.2 0.6h1m28.6 2.4h1m22 -0.6h1m-41.2 1.4h1m8.4 -0.4h1m1.6 1h1m3.6 0.2h1m-0.8 0.2h1m-18 3.6h1m13.2 0.2h1m5.8 0.6h1m-4.8 0.2h1m-10.8 2.4h1m-22.4 2.6h1" stroke="#8a8a8a" stroke-opacity="1.0" stroke-width="1" fill="none"/>
<text x="265.00" y="664.90" font-size="4.8" text-anchor="middle" fill="#6e6e6e">10<tspan font-size="3.36" dy="-1.92">0</tspan></text>
<text x="289.38" y="664.90" font-size="4.8" text-anchor="middle" fill="#6e6e6e">10<tspan font-size="3.36" dy="-1.92">1</tspan></text>
<text x="313.75" y="664.90" font-size="4.8" text-anchor="middle" fill="#6e6e6e">10<tspan font-size="3.36" dy="-1.92">2</tspan></text>
<text x="338.12" y="664.90" font-size="4.8" text-anchor="middle" fill="#6e6e6e">10<tspan font-size="3.36" dy="-1.92">3</tspan></text>
<text x="362.50" y="664.90" font-size="4.8" text-anchor="middle" fill="#6e6e6e">10<tspan font-size="3.36" dy="-1.92">4</tspan></text>
<text x="258.70" y="655.50" font-size="4.8" text-anchor="middle" fill="#6e6e6e" transform="rotate(-90 258.70 655.50)">10<tspan font-size="3.36" dy="-1.92">0</tspan></text>
<text x="258.70" y="633.83" font-size="4.8" text-anchor="middle" fill="#6e6e6e" transform="rotate(-90 258.70 633.83)">10<tspan font-size="3.36" dy="-1.92">1</tspan></text>
<text x="258.70" y="612.15" font-size="4.8" text-anchor="middle" fill="#6e6e6e" transform="rotate(-90 258.70 612.15)">10<tspan font-size="3.36" dy="-1.92">2</tspan></text>
<text x="258.70" y="590.47" font-size="4.8" text-anchor="middle" fill="#6e6e6e" transform="rotate(-90 258.70 590.47)">10<tspan font-size="3.36" dy="-1.92">3</tspan></text>
<text x="258.70" y="568.80" font-size="4.8" text-anchor="middle" fill="#6e6e6e" transform="rotate(-90 258.70 568.80)">10<tspan font-size="3.36" dy="-1.92">4</tspan></text>
<g stroke="#959595" stroke-width="0.9" fill="none">
<path d="M38.50 672.70V759.20H129.40"/>
<path d="M35.90 759.20h2.60M37.10 752.69h1.40M37.10 748.88h1.40M37.10 746.18h1.40M37.10 744.08h1.40M37.10 742.37h1.40M37.10 740.92h1.40M37.10 739.67h1.40M37.10 738.56h1.40M35.90 737.58h2.60M37.10 731.07h1.40M37.10 727.26h1.40M37.10 724.56h1.40M37.10 722.46h1.40M37.10 720.75h1.40M37.10 719.30h1.40M37.10 718.05h1.40M37.10 716.94h1.40M35.90 715.95h2.60M37.10 709.44h1.40M37.10 705.63h1.40M37.10 702.93h1.40M37.10 700.83h1.40M37.10 699.12h1.40M37.10 697.67h1.40M37.10 696.42h1.40M37.10 695.31h1.40M35.90 694.33h2.60M37.10 687.82h1.40M37.10 684.01h1.40M37.10 681.31h1.40M37.10 679.21h1.40M37.10 677.50h1.40M37.10 676.05h1.40M37.10 674.80h1.40M37.10 673.69h1.40M35.90 672.70h2.6M38.50 759.20v2.60M45.86 759.20v1.40M50.17 759.20v1.40M53.22 759.20v1.40M55.59 759.20v1.40M57.53 759.20v1.40M59.16 759.20v1.40M60.58 759.20v1.40M61.83 759.20v1.40M62.95 759.20v2.60M70.31 759.20v1.40M74.62 759.20v1.40M77.67 759.20v1.40M80.04 759.20v1.40M81.98 759.20v1.40M83.61 759.20v1.40M85.03 759.20v1.40M86.28 759.20v1.40M87.40 759.20v2.60M94.76 759.20v1.40M99.07 759.20v1.40M102.12 759.20v1.40M104.49 759.20v1.40M106.43 759.20v1.40M108.06 759.20v1.40M109.48 759.20v1.40M110.73 759.20v1.40M111.85 759.20v2.60M119.21 759.20v1.40M123.52 759.20v1.40M126.57 759.20v1.40M128.94 759.20v1.40" stroke-width="0.6"/>
</g>
<path d="M78.60 672.70V759.20M38.50 738.00H129.40" stroke="#8c8c8c" stroke-width="0.9" fill="none"/>
<path d="M58.4 740.2h1m9.2 0.2h1m14.2 -0.6h1m16.6 0.4h1m-0.8 0.2h1m2.8 -0.2h1m-39.8 0.6h1m12 0.4h1m7.2 -0.4h1m9 0.4h1m-37.2 1.2h1m-0.4 -0.4h1m0.2 0.4h1m0 -0.2h1m1.6 0h1m18.6 0h1m-0.4 0h1m1.6 -0.2h1m-0.6 -0.2h1m-1 0.2h1m0 0.2h1m0.6 0h1m-0.6 0.2h1m1.8 -0.4h1m0.8 0h1m0.2 0.2h1m1.4 -0.2h1m2.8 0h1m-0.4 -0.2h1m7.6 0.6h1m9.6 0h1m-74.8 1h1m3.2 -0.2h1m-0.2 -0.6h1m-0.2 0.2h1m2 0.6h1m-0.2 -0.6h1m-0.8 0.6h1m-1 -0.4h1m1.2 -0.2h1m0.2 0h1m-0.6 0.2h1m-0.4 0.2h1m-0.6 0.2h1m-0.2 -0.2h1m0.4 0.2h1m-1 -0.4h1m-0.4 -0.4h1m1.4 0.2h1m3.2 0.6h1m0.2 -0.4h1m2.8 0h1m0.8 0.4h1m3.2 -0.8h1m-0.6 0.8h1m0 0h1m1 -0.2h1m-0.8 0.2h1m-1 0h1m-0.4 -0.6h1m-1 0h1m2.8 0.6h1m-1 -0.6h1m0.4 0.2h1m2.4 0.4h1m-1 -0.4h1m-0.6 0.2h1m-1 -0.2h1m-0.8 0h1m4.2 0.4h1m0 -0.2h1m-0.2 -0.2h1m-0.2 0h1m0 0h1m-0.6 0h1m-0.6 0.2h1m-0.4 0h1m2.6 0h1m0.6 0.2h1m6.8 0h1m1.8 0h1m-78.6 0.2h1m0.8 0.8h1m0 0h1m-0.6 -0.6h1m0.6 0h1m-0.4 0.6h1m1.6 -0.6h1m-0.6 0.6h1m-0.6 0h1m-0.6 -0.8h1m-0.4 0.8h1m-0.8 -0.4h1m0.6 0.4h1m-0.6 -0.4h1m-1 0.4h1m-1 -0.8h1m-0.8 0.6h1m-0.8 -0.4h1m-0.2 0.4h1m-0.8 0h1m-0.8 -0.4h1m0.2 0.4h1m-1 -0.4h1m-0.2 0.2h1m0.8 0.2h1m-0.6 0h1m-0.8 -0.2h1m-0.6 0h1m-0.2 0h1m-1 0.2h1m1.2 -0.2h1m-0.4 0.2h1m-0.6 -0.4h1m2.8 0.6h1m-0.4 -0.2h1m1 0h1m4.2 0h1m3.4 0.2h1m-0.8 0h1m-0.6 -0.2h1m0.6 0h1m-0.6 0h1m0 -0.2h1m-0.6 0h1m-0.6 -0.2h1m1 0.6h1m-0.4 -0.4h1m-0.2 -0.2h1m-1 0h1m-0.6 0h1m-0.6 0.4h1m0.6 0h1m-0.4 -0.4h1m0.6 0.6h1m-0.8 -0.2h1m-1 0h1m-1 -0.6h1m-0.4 0.2h1m-1 0.6h1m-0.6 -0.6h1m0 0.4h1m-0.8 -0.6h1m-0.4 0.2h1m0.6 0.2h1m0 0.4h1m-0.6 -0.8h1m0 0.8h1m1 -0.4h1m-0.2 0.4h1m0 -0.8h1m0 0.6h1m-0.4 0.2h1m-1 -0.8h1m-0.4 0.4h1m1.6 -0.4h1m-0.4 0h1m0.2 0.4h1m1.4 -0.2h1m0.2 0.6h1m-0.8 -0.6h1m-0.2 0.6h1m-67 1h1m-0.2 -0.4h1m-0.8 0.2h1m-0.8 0.2h1m-1 0h1m-0.6 -0.8h1m-0.6 0.2h1m0.2 0.2h1m-1 0h1m-0.8 0.4h1m-0.6 0h1m-0.2 -0.2h1m-1 0h1m-0.8 -0.4h1m0 0.4h1m-1 0.2h1m-0.6 -0.8h1m-1 0.6h1m-0.4 -0.4h1m-0.8 0.2h1m-1 0.4h1m-0.6 0h1m-0.6 -0.4h1m-1 0h1m0 0h1m-0.8 0h1m-0.2 0h1m-0.6 -0.2h1m-1 0.4h1m-0.6 0.2h1m-0.6 -0.8h1m-0.6 0.2h1m-0.8 0.6h1m-1 0h1m-0.6 -0.2h1m-1 -0.4h1m-1 0h1m-0.8 0.2h1m-0.4 0h1m-0.6 0.2h1m-0.6 -0.6h1m-1 0.6h1m1.2 0.2h1m-1 -0.4h1m-0.8 0.4h1m-0.8 0h1m-1 -0.4h1m-0.8 -0.2h1m0.4 -0.2h1m1.8 0.2h1m-0.2 0h1m2.8 0.6h1m-0.2 -0.4h1m-0.2 0h1m-0.8 0.4h1m-0.4 -0.6h1m0.6 0h1m0 0.6h1m-0.6 -0.4h1m-0.2 0.4h1m-0.4 0h1m0.8 -0.2h1m-0.4 -0.6h1m-0.6 0.8h1m-1 -0.8h1m-0.8 0.8h1m0 -0.4h1m0.2 0.4h1m0.8 0h1m-0.6 -0.8h1m-0.8 0.6h1m-1 0.2h1m-0.6 -0.6h1m-0.8 0.4h1m-1 -0.2h1m-0.6 0h1m-1 -0.2h1m-0.8 0.2h1m-0.2 -0.4h1m-0.8 0.6h1m-0.8 -0.2h1m-0.6 -0.4h1m-0.2 0h1m-1 0.6h1m-0.6 -0.4h1m-0.8 0.2h1m-0.8 0.4h1m-0.8 -0.2h1m1 0h1m0.2 0.2h1m-0.6 -0.4h1m-0.8 -0.2h1m0 0h1m-0.8 0.4h1m-0.4 0.2h1m-0.2 -0.6h1m-0.8 -0.2h1m-1 0h1m-0.6 0h1m-0.8 0h1m-0.8 0.6h1m-0.8 -0.4h1m0.2 0.4h1m-0.8 0.2h1m-0.8 0h1m-0.4 -0.8h1m0 0.2h1m-0.8 0.2h1m-0.6 0.4h1m-0.4 0h1m-0.8 -0.2h1m-0.8 0h1m-0.6 -0.4h1m-0.8 0h1m-0.8 0.4h1m-1 0.2h1m-0.8 0h1m-0.8 -0.4h1m-1 -0.4h1m-0.2 0.6h1m0 -0.4h1m-0.2 0.2h1m-0.2 -0.2h1m0.4 0.6h1m-0.6 -0.8h1m-0.6 0.2h1m-0.8 0.4h1m-0.6 -0.4h1m-1 0.2h1m-0.6 0.4h1m-0.4 -0.8h1m0.6 0.8h1m0.4 0h1m-75 0.4h1m1.8 0.4h1m-0.8 -0.6h1m-0.6 0.6h1m-1 0h1m1.2 0.2h1m-0.8 -0.4h1m-1 0h1m-0.8 0.4h1m-0.8 -0.4h1m-1 0.4h1m-0.6 -0.2h1m-0.4 0.2h1m-0.8 -0.8h1m-1 0.2h1m-0.8 0.6h1m-1 -0.4h1m-0.4 0.4h1m-0.8 -0.6h1m-1 0.6h1m-0.8 -0.6h1m-1 0h1m-0.6 0.6h1m-0.8 -0.4h1m-0.6 -0.2h1m-0.8 0.4h1m-0.8 -0.2h1m-1 0.2h1m-1 0h1m-0.6 -0.4h1m-1 -0.2h1m-0.8 0h1m-0.8 0.8h1m-0.8 -0.2h1m-1 0.2h1m-0.6 -0.8h1m-1 0h1m-0.8 0.8h1m-1 -0.2h1m0 -0.2h1m-0.8 0.4h1m-0.4 -0.6h1m-0.8 -0.2h1m-0.8 0.4h1m-0.4 -0.4h1m-1 0.6h1m-1 -0.4h1m-1 0.2h1m-0.8 -0.2h1m-1 0.2h1m-0.8 0.2h1m-1 -0.2h1m-1 -0.4h1m-0.8 0h1m-0.4 0.2h1m-0.6 0.2h1m-0.8 0h1m-0.6 -0.4h1m-0.2 0.4h1m0.2 0.4h1m-0.8 -0.6h1m-0.8 0.4h1m-0.4 0.2h1m-1 -0.6h1m-0.8 0.2h1m-0.6 0h1m-1 -0.4h1m-0.8 0.8h1m-0.4 -0.4h1m-0.2 0.2h1m-0.4 0.2h1m-0.8 0h1m-0.6 -0.6h1m-1 -0.2h1m0.2 0.8h1m-0.8 0h1m0.2 -0.8h1m-0.4 0.6h1m-0.6 0.2h1m0.4 0h1m0.8 0h1m0 -0.8h1m0.6 0.6h1m0.4 0.2h1m-0.2 0h1m0.8 -0.4h1m-1 -0.2h1m-0.4 0.6h1m-0.6 -0.4h1m-0.8 -0.4h1m-0.8 0h1m-0.8 0.8h1m-0.2 -0.8h1m-0.8 0h1m-0.4 0h1m-0.6 0.4h1m-0.6 0.2h1m-0.6 -0.2h1m-0.6 -0.2h1m-0.8 -0.2h1m-0.8 0.2h1m-0.8 0.2h1m-1 0.4h1m-0.2 -0.8h1m-0.2 0.6h1m-0.6 -0.4h1m-1 0.2h1m-1 -0.4h1m-0.8 0h1m-1 0.6h1m-1 -0.6h1m-1 0.2h1m-0.8 0.4h1m-0.4 0.2h1m-0.8 -0.6h1m-1 0.6h1m-0.6 -0.8h1m-0.8 0h1m-0.8 0.6h1m-0.8 0.2h1m-0.6 -0.2h1m-1 -0.4h1m-0.6 -0.2h1m-0.8 0.6h1m-0.4 0.2h1m-0.8 -0.6h1m-1 0.6h1m-1 -0.2h1m-1 0h1m-0.6 -0.4h1m-1 0.4h1m-0.4 -0.6h1m-0.2 0h1m-1 0.2h1m-1 -0.2h1m-0.6 0.2h1m-0.6 0.2h1m-0.6 -0.2h1m-0.6 0.2h1m-1 0h1m-0.8 0h1m-0.4 0.4h1m-1 0h1m-0.2 -0.4h1m-0.4 -0.2h1m-0.6 0h1m-0.6 0h1m-0.6 0h1m-0.8 0.6h1m-0.6 -0.2h1m-1 0h1m-1 0h1m-0.4 -0.2h1m-0.2 0h1m-0.6 0h1m-1 0.4h1m-0.6 -0.8h1m-1 0.8h1m-1 -0.8h1m-0.4 0.6h1m-1 0h1m-0.6 -0.6h1m-0.8 0.2h1m-1 0h1m0.4 0.4h1m-1 -0.2h1m-1 0.2h1m0.4 0.2h1m-0.8 -0.8h1m-1 0.4h1m-0.6 0h1m-0.8 -0.4h1m-0.4 0.8h1m2.8 -0.6h1m-0.2 0.6h1m-0.8 -0.6h1m-0.6 0.2h1m-0.8 0h1m1.8 0.2h1m-0.2 0h1m2.2 0.2h1m-0.8 -0.6h1m0 0.6h1m-73.6 0.8h1m-0.6 -0.2h1m-0.8 0.2h1m-0.2 -0.2h1m-0.8 0h1m-0.8 0.2h1m-0.8 -0.2h1m-0.2 -0.4h1m0.2 0.8h1m-1 0h1m-0.8 0h1m-0.4 -0.6h1m-0.6 0.2h1m-1 -0.4h1m-0.8 0h1m-0.8 0.8h1m-0.6 -0.4h1m-0.8 0.2h1m-1 -0.4h1m-0.8 0.6h1m-0.8 -0.6h1m-1 0h1m-0.8 -0.2h1m-1 0h1m-1 0h1m-0.6 0.2h1m-0.8 -0.2h1m-1 0.4h1m-0.8 -0.2h1m-0.6 0.2h1m-0.6 0.2h1m-0.6 -0.2h1m-0.8 -0.2h1m-0.6 0.6h1m-0.8 0h1m-1 -0.8h1m-1 0h1m-0.8 0h1m-0.6 0.6h1m-1 -0.2h1m-1 -0.4h1m-1 0h1m-0.6 0.2h1m-1 -0.2h1m-0.4 0h1m-0.8 0.2h1m-0.8 0.4h1m-1 -0.4h1m-0.2 0h1m-0.6 0h1m-0.8 0h1m-1 0.6h1m-0.8 -0.2h1m-1 -0.2h1m-1 -0.4h1m-0.4 0.6h1m-1 0h1m-0.8 -0.2h1m-0.8 -0.4h1m-0.8 0.2h1m-0.8 0.4h1m-0.6 0.2h1m-0.8 -0.2h1m-0.4 -0.2h1m-0.8 0.4h1m-0.4 -0.6h1m0.4 0.6h1m-0.6 0h1m0.6 -0.8h1m-0.8 0h1m-0.2 0.4h1m0.4 0.2h1m0 -0.2h1m-0.6 0.4h1m0.4 0h1m-0.8 0h1m-0.2 -0.2h1m-0.6 -0.2h1m-0.8 0.2h1m-0.6 -0.4h1m0.2 0h1m-0.8 -0.2h1m-0.8 0.4h1m0.2 0.4h1m-0.2 -0.2h1m-0.8 0h1m-0.8 -0.2h1m-0.2 0h1m-0.8 0.2h1m-1 -0.6h1m-0.4 0.2h1m-0.8 0.2h1m-0.2 0.4h1m-0.8 -0.2h1m-0.6 0.2h1m-0.4 -0.2h1m-0.8 0.2h1m-1 -0.6h1m-0.6 0.6h1m-0.2 -0.6h1m-0.8 0.6h1m0.2 -0.4h1m-0.4 0.4h1m-0.8 -0.8h1m-1 0.4h1m-0.8 -0.2h1m-0.8 0.6h1m-1 -0.4h1m-0.6 -0.4h1m-0.6 0.2h1m-1 0.6h1m-1 0h1m-0.8 -0.2h1m-0.8 -0.6h1m-0.4 0.8h1m-0.6 -0.4h1m-0.8 -0.4h1m-0.8 0.6h1m-0.8 -0.2h1m-1 0.4h1m-0.8 -0.2h1m-1 -0.2h1m-0.8 0h1m-0.8 0.4h1m-0.8 -0.2h1m-0.8 -0.6h1m-0.8 0.6h1m-1 0h1m-1 -0.4h1m-0.6 0.2h1m-0.8 0.4h1m-0.6 -0.2h1m-0.2 0.2h1m-0.6 -0.8h1m-0.4 0.2h1m-0.4 0h1m-0.8 0.4h1m-1 -0.4h1m-0.8 0.6h1m-1 -0.4h1m-1 0.2h1m-0.6 0h1m-1 -0.4h1m-1 0h1m-0.6 0.2h1m0.2 -0.2h1m-0.8 0.4h1m-0.6 -0.4h1m-0.8 0.2h1m-1 -0.2h1m-0.8 0.6h1m-1 -0.6h1m-0.8 -0.2h1m-1 0.8h1m-1 -0.4h1m-0.8 0.2h1m-0.8 -0.2h1m-0.8 0.2h1m-1 -0.2h1m-0.8 -0.2h1m-0.8 0h1m-1 0.4h1m-0.6 -0.4h1m-1 0.2h1m-0.8 -0.4h1m-0.8 0.8h1m-1 -0.2h1m0.2 -0.4h1m-0.8 0h1m-1 0h1m-0.8 0.2h1m-1 -0.2h1m0 0.2h1m-1 -0.4h1m-0.8 0.2h1m-1 0.2h1m-0.8 -0.4h1m0.8 0.8h1m-1 -0.8h1m0.2 0.2h1m-0.8 0.4h1m-0.8 0h1m-0.6 -0.6h1m-1 0.2h1m-0.6 0h1m-1 0.2h1m-0.8 -0.4h1m-1 0h1m-0.8 0.4h1m-1 0.4h1m-0.8 -0.8h1m-0.6 0.4h1m-0.8 0.4h1m-1 -0.4h1m-0.8 0.4h1m-0.8 -0.6h1m-0.6 0.4h1m-0.6 0h1m-0.8 0.2h1m-1 -0.8h1m-0.2 0.8h1m-0.2 -0.8h1m-0.8 0.2h1m-1 0.2h1m-0.8 -0.2h1m-0.2 0.4h1m-0.2 -0.2h1m-1 -0.2h1m2.4 0h1m-71.2 1.2h1m0.4 0h1m-0.8 -0.2h1m-0.6 -0.2h1m-0.6 0.8h1m0 -0.8h1m-0.6 0.8h1m-1 -0.4h1m-0.8 0.2h1m-0.8 0.2h1m-0.6 -0.6h1m0.4 0h1m-0.8 0h1m-0.4 0h1m0.2 -0.2h1m0.4 0.4h1m-0.6 0.4h1m-0.8 -0.4h1m-0.4 -0.2h1m-0.8 0.2h1m-1 0h1m-0.8 -0.4h1m-1 0.2h1m-0.6 -0.2h1m-1 0.2h1m-0.4 0h1m-0.4 -0.2h1m-0.6 0.6h1m-0.8 0.2h1m-1 -0.6h1m-0.6 0.4h1m-1 -0.2h1m-0.6 0.2h1m-0.8 -0.4h1m-0.6 0.4h1m-1 0.2h1m0 -0.2h1m-0.6 0.2h1m-0.6 -0.6h1m-0.8 0.2h1m-1 -0.4h1m-0.6 0.8h1m-0.2 -0.2h1m-0.2 0h1m-1 0h1m-0.6 -0.6h1m-0.4 0.2h1m-1 0.6h1m-0.6 -0.2h1m0 0h1m-0.8 -0.2h1m-0.8 -0.4h1m0.6 0.4h1m0.6 -0.4h1m-0.4 0.8h1m-0.4 -0.6h1m-0.8 -0.2h1m1.4 0h1m1 0.8h1m-1 -0.6h1m-0.8 -0.2h1m-1 0.8h1m0 0h1m0.2 -0.2h1m-1 0.2h1m-0.2 -0.4h1m-1 -0.2h1m-0.6 0h1m-0.2 0.6h1m-0.8 -0.8h1m-0.6 0h1m-0.4 0h1m-0.8 0.2h1m-0.8 0.2h1m-0.6 -0.4h1m-0.8 0.4h1m-0.4 0.2h1m-0.8 0.2h1m-1 -0.4h1m-0.6 0.2h1m-1 0.2h1m-1 -0.8h1m-1 0.2h1m-0.4 0.4h1m-0.2 0h1m-1 0.2h1m-0.8 -0.6h1m-0.8 0h1m-1 -0.2h1m-0.4 0.6h1m-0.8 0.2h1m-0.8 -0.6h1m-1 -0.2h1m-0.6 0.4h1m-0.8 -0.4h1m-0.4 0.6h1m-1 0.2h1m-0.6 -0.6h1m-1 0.4h1m-0.8 0.2h1m-0.8 -0.6h1m-0.8 0.6h1m-0.8 -0.4h1m-0.6 0.4h1m-0.8 -0.8h1m-1 0.8h1m-1 -0.6h1m-1 0.6h1m-0.8 -0.4h1m-1 0.4h1m-0.8 -0.8h1m-1 0.4h1m-0.8 0h1m-0.8 0.4h1m-1 -0.6h1m-0.4 0.4h1m-1 0.2h1m-0.8 -0.2h1m-1 0.2h1m-1 0h1m-1 -0.6h1m-0.4 0.6h1m-1 -0.4h1m-0.8 0.2h1m-0.6 0h1m-0.6 -0.2h1m-0.8 0.4h1m-0.6 -0.4h1m-0.8 0.4h1m-0.8 -0.8h1m-0.8 0.2h1m-0.8 0h1m-1 0.6h1m-0.8 -0.6h1m-1 0.6h1m-0.8 -0.4h1m-0.6 0.2h1m-0.6 0h1m-1 0.2h1m-0.8 -0.4h1m-1 -0.4h1m-0.8 0h1m-0.4 0h1m-0.4 0.2h1m-0.8 -0.2h1m-1 0.4h1m-0.8 0h1m-0.8 -0.2h1m-1 0.4h1m-0.8 0.2h1m-0.8 -0.8h1m-0.6 0.6h1m-1 -0.4h1m-1 0.2h1m-0.4 0.2h1m-0.8 -0.6h1m-1 0.2h1m-0.8 0.6h1m-1 0h1m-0.8 -0.8h1m-1 0.8h1m-0.4 -0.6h1m-0.8 0.4h1m-0.8 -0.4h1m-0.8 0.4h1m-0.8 0.2h1m-1 -0.6h1m-1 0.2h1m-0.8 0.2h1m-0.8 0h1m-0.8 -0.2h1m-1 -0.4h1m-0.4 0h1m-0.8 0.6h1m-0.8 -0.2h1m-0.8 0.2h1m-0.8 -0.2h1m-1 0h1m-0.6 0.4h1m-0.8 -0.8h1m-0.8 0.4h1m-0.8 0h1m-0.6 0h1m-0.8 -0.2h1m-0.6 0h1m-0.6 0.2h1m-1 -0.2h1m-1 0.4h1m-0.6 -0.6h1m-0.6 0.4h1m0.2 0.4h1m-0.4 0h1m0.8 0h1m0.2 0h1m0 0h1m-0.2 0h1m1 -0.8h1m0 0.2h1m-0.6 -0.2h1m-0.2 0.8h1m1.2 -0.2h1m-80.6 1.2h1m6 -0.2h1m1.4 0h1m-0.2 -0.2h1m-1 0.4h1m-0.8 -0.4h1m-1 0h1m-0.2 0.2h1m-0.8 0.2h1m-0.8 -0.6h1m-0.4 0.6h1m-1 -0.2h1m-0.4 -0.6h1m-0.4 0.4h1m-0.6 0h1m-0.8 0h1m-1 0.2h1m-0.6 0h1m-0.6 -0.2h1m-0.4 -0.2h1m-1 -0.2h1m-0.8 0.8h1m-1 -0.4h1m-0.6 -0.4h1m-0.8 0.6h1m-1 0.2h1m-0.6 -0.2h1m-0.8 -0.6h1m-0.4 0.2h1m-0.8 0h1m-0.8 0h1m-1 -0.2h1m-0.6 0.8h1m-0.8 -0.2h1m-0.6 -0.2h1m-0.8 -0.4h1m-0.8 0.8h1m-0.8 0h1m-0.8 -0.2h1m0.6 -0.6h1m0 0.8h1m-0.2 -0.2h1m-0.2 0.2h1m-0.4 -0.4h1m-1 -0.4h1m-0.8 0.8h1m-1 -0.8h1m-0.2 0.6h1m-0.2 -0.6h1m-0.6 0.2h1m-0.8 0.6h1m-0.6 -0.6h1m0.2 -0.2h1m-0.8 0.8h1m-0.8 -0.6h1m-0.6 0h1m2.2 0.4h1m1.4 0h1m-1 -0.6h1m-0.6 0.6h1m-0.6 -0.4h1m0 -0.2h1m-0.6 0.2h1m0.2 0.2h1m-1 0.2h1m0.2 0h1m-0.6 -0.4h1m-0.6 0.4h1m-0.8 -0.2h1m-0.6 -0.2h1m-0.8 0.4h1m-1 0.2h1m-0.8 0h1m-0.2 -0.8h1m-1 0.6h1m-0.8 0h1m-1 0.2h1m-0.6 -0.4h1m-0.4 -0.2h1m-1 0h1m-0.8 0.4h1m-0.6 0h1m-0.8 0.2h1m-0.6 -0.8h1m-0.4 0.8h1m-0.8 -0.8h1m-1 0.2h1m-0.8 0.4h1m-0.4 0h1m-0.6 0.2h1m-0.4 -0.8h1m-0.8 0.6h1m-1 0.2h1m-1 -0.8h1m-0.8 0.6h1m-1 -0.4h1m0.2 0.6h1m-0.4 -0.8h1m-0.8 0.8h1m-0.2 0h1m-1 -0.4h1m-0.6 0h1m-0.4 0.4h1m0 -0.4h1m0.2 -0.4h1m-0.8 0.6h1m-0.6 -0.6h1m-0.4 0.4h1m-0.8 0h1m-0.8 -0.4h1m-0.8 0.2h1m-0.8 0.2h1m-1 0.2h1m-0.8 -0.6h1m-1 0.4h1m-0.6 0h1m-0.4 -0.2h1m-0.8 -0.2h1m-1 0h1m-0.8 0.8h1m-1 -0.8h1m-0.2 0.6h1m-1 -0.2h1m-1 -0.4h1m-0.8 0.2h1m-1 0.6h1m-1 -0.6h1m-0.8 0.2h1m-1 -0.2h1m-0.6 0h1m-0.8 0.6h1m-0.6 -0.4h1m-0.8 0.4h1m-0.6 -0.6h1m-0.4 -0.2h1m-0.4 0.2h1m-0.8 0.6h1m-0.6 -0.4h1m0.2 -0.4h1m-0.8 0.8h1m-1 -0.8h1m0 0.2h1m-0.6 0.6h1m-0.6 -0.4h1m-1 -0.2h1m-0.6 0h1m-0.8 0h1m-0.2 -0.2h1m-0.4 0.2h1m-0.6 -0.2h1m-0.6 0.6h1m-0.8 0.2h1m-0.8 -0.8h1m-0.6 0.8h1m-0.8 -0.6h1m-1 0h1m-0.6 0.4h1m-0.4 -0.6h1m-0.2 0.4h1m-1 0.4h1m-0.4 0h1m0 -0.2h1m-0.8 0h1m0 -0.2h1m-0.8 0.4h1m0 0h1m-0.6 -0.4h1m0.4 -0.4h1m1 0.6h1m0 0.2h1m-77.4 0.2h1m1 0.2h1m2.2 0h1m-1 0.2h1m0.6 -0.2h1m-0.6 -0.2h1m0 0.4h1m0.2 0h1m-0.2 -0.4h1m-0.4 0.8h1m-0.2 0h1m-1 -0.4h1m-0.8 0.2h1m-0.6 -0.6h1m-0.6 0h1m-1 0.4h1m-0.4 0h1m-0.8 -0.2h1m-0.8 -0.2h1m-1 0.6h1m-0.2 0.2h1m-0.6 -0.2h1m-0.6 0h1m-0.4 -0.6h1m-0.8 0.2h1m-0.8 0h1m-0.6 0h1m-1 0.6h1m-0.8 0h1m-0.8 -0.8h1m-0.6 0.2h1m-1 -0.2h1m-0.4 0.6h1m-0.6 -0.2h1m-0.4 0.4h1m-1 -0.4h1m-1 -0.2h1m-0.8 0.4h1m0 0h1m-0.4 -0.4h1m-0.4 -0.2h1m1 0h1m-0.2 0.6h1m-1 0.2h1m-0.8 -0.4h1m-1 0.2h1m2.6 -0.6h1m0 0.2h1m0 0.2h1m5.6 0h1m-0.2 0.4h1m-0.4 0h1m-0.4 -0.4h1m-0.6 -0.4h1m-0.4 0.8h1m-0.8 -0.4h1m-0.8 0h1m-0.2 -0.4h1m0 0.6h1m-0.2 0.2h1m-1 -0.4h1m-0.2 0.4h1m-0.8 -0.4h1m-0.8 -0.2h1m-0.8 0.6h1m-0.4 -0.2h1m-0.6 -0.2h1m-0.6 -0.4h1m-0.4 0.8h1m-0.6 0h1m-1 -0.4h1m-0.6 -0.4h1m-1 0.2h1m-0.8 0h1m-0.8 -0.2h1m-0.4 0.6h1m-0.8 -0.4h1m-0.4 0h1m-0.4 0h1m-0.8 0.6h1m-0.4 0h1m-0.6 -0.4h1m-0.6 -0.4h1m-0.8 0.2h1m-0.6 0.4h1m-0.8 0.2h1m-0.4 -0.6h1m0 0.2h1m-0.2 -0.4h1m-1 0.4h1m-1 -0.2h1m-0.8 -0.2h1m-0.8 0.8h1m-0.4 -0.6h1m-0.8 0h1m-1 0.6h1m-0.8 -0.2h1m-1 0h1m-0.8 0h1m-0.8 0h1m-0.4 -0.4h1m-1 0.2h1m1.6 0h1m-0.4 0.2h1m-0.6 -0.4h1m-1 -0.2h1m-1 0h1m-0.8 0.2h1m-0.6 0.2h1m-0.8 -0.2h1m-1 0.2h1m-0.8 0.4h1m-0.4 0h1m-0.8 -0.4h1m-1 0.2h1m0 -0.2h1m-1 -0.4h1m-1 0.2h1m-0.6 -0.2h1m-0.6 0.6h1m-0.4 -0.6h1m0 0.8h1m-0.4 -0.4h1m-1 0h1m3.6 -0.2h1m2 -0.2h1m-1 0.6h1m-0.2 -0.6h1m2.4 0.6h1m0.2 0.2h1m-0.2 -0.6h1m-77 1.4h1m1.4 0h1m-0.4 -0.6h1m-0.2 0h1m-0.4 0.6h1m0 0h1m0 -0.4h1m-0.6 0.2h1m-0.8 0.2h1m-0.6 0.2h1m-0.8 -0.6h1m-0.4 -0.2h1m-0.4 0.6h1m-0.6 0.2h1m-0.6 -0.8h1m-0.6 0.2h1m-0.6 -0.2h1m0.6 0h1m0.8 0.6h1m0.8 -0.2h1m-0.4 -0.4h1m-0.6 0.4h1m-0.8 -0.2h1m-0.2 -0.2h1m0.8 0.4h1m-0.8 -0.4h1m-0.4 0h1m0.8 0h1m4 0.6h1m0.4 0h1m-0.6 -0.6h1m2.2 0.4h1m1.4 -0.2h1m-0.2 0.6h1m-0.2 0h1m-0.6 -0.2h1m-0.8 0.2h1m0.2 -0.8h1m-0.6 0.2h1m-0.6 -0.2h1m-1 0h1m-0.8 0.4h1m0 0.4h1m-0.2 -0.8h1m0.4 0h1m-0.6 0.2h1m-0.6 0h1m1.4 0h1m-0.6 -0.2h1m-0.2 0h1m-0.6 0h1m-0.6 0.4h1m-0.4 0h1m-0.6 0.2h1m-1 -0.6h1m-0.2 0h1m-0.8 0.4h1m-0.2 -0.4h1m-1 0.8h1m-0.8 -0.4h1m-0.8 -0.2h1m-0.6 -0.2h1m-0.8 0.2h1m-0.6 0.6h1m0.8 -0.8h1m-0.8 0h1m-0.8 0.4h1m-0.8 -0.4h1m-0.4 0.2h1m-0.8 0.2h1m0.2 -0.4h1m-0.4 0h1m-0.2 0.6h1m-1 -0.4h1m-0.2 0.4h1m-0.2 -0.4h1m-1 0.6h1m-0.8 -0.6h1m4 0.2h1m-1 -0.4h1m-0.4 0h1m-0.8 0.6h1m3 -0.2h1m-0.4 0h1m-1 -0.2h1m5 0.2h1m-77.8 0.6h1m-0.8 0h1m-0.6 0.8h1m0 -0.6h1m0.6 0.4h1m0 -0.2h1m-0.6 -0.2h1m0.8 -0.2h1m2.8 0.4h1m0.2 0.4h1m-0.8 -0.8h1m-0.4 0.4h1m-1 -0.4h1m0 0.6h1m-0.4 -0.4h1m0 -0.2h1m1 0.2h1m2 0h1m0.2 0h1m8.6 0.6h1m0.6 0h1m1 -0.8h1m3.8 0h1m2 0.6h1m-0.6 0.2h1m-0.8 -0.4h1m-0.4 -0.4h1m1.2 0.2h1m3.2 0.4h1m-0.4 -0.6h1m1.2 0.4h1m-0.2 -0.4h1m-0.8 0.4h1m0 -0.4h1m-0.6 0.8h1m0.6 -0.4h1m-0.8 0.4h1m-0.4 0h1m-0.8 -0.4h1m-1 0.4h1m-0.2 -0.4h1m0.4 -0.2h1m-0.2 0h1m2.2 0.6h1m2.4 -0.6h1m0.8 -0.2h1m-1 0.2h1m7.2 -0.2h1m-72.6 1.4h1m-1 0h1m4.2 -0.4h1m1.6 0h1m-0.2 0.2h1m0.6 -0.2h1m16.2 0.4h1m-0.2 0.4h1m5.2 0h1m3.8 -0.8h1m-0.8 0.2h1m3.6 -0.2h1m-0.2 0.6h1m2.8 -0.4h1m0.2 0h1m2.2 0.6h1m0.4 -0.6h1m2.4 0h1m-59.4 0.8h1m1 0.6h1m29.4 0h1m12.4 -0.6h1m5.2 0.6h1m-0.4 0.2h1m-53 0.4h1m0.6 0h1m-0.8 -0.2h1m61.4 0h1m-57.4 1.4h1" stroke="#262626" stroke-opacity="1.0" stroke-width="1" fill="none"/>
<path d="M93.0 742.2h1m5.2 0h1m-0.4 -0.4h1m10.2 -0.2h1m-22.6 1.8h1m4.6 -0.6h1m2.6 0.2h1m1.4 0.4h1m-0.8 -0.4h1m-0.6 0h1m2.6 0h1m1 -0.2h1m1.2 0.2h1m-25.4 0.8h1m-0.2 0.2h1m-0.6 0.4h1m1.2 -0.6h1m-0.8 -0.2h1m0 0h1m0.2 0.6h1m1 0.2h1m5 -0.2h1m-0.6 -0.2h1m-0.4 -0.2h1m-0.4 0.2h1m-0.8 0.2h1m-1 -0.2h1m-0.6 0.2h1m0 0.2h1m0.6 -0.8h1m-0.4 0.8h1m0 0h1m-0.6 0h1m-0.8 -0.2h1m-0.6 -0.2h1m-1 -0.2h1m-1 0.2h1m0.8 -0.2h1m0.2 0.6h1m-26 1h1m0.2 0h1m3.6 0h1m1.6 -0.4h1m-0.8 0.2h1m-0.4 -0.6h1m-1 0.6h1m0.8 -0.6h1m-0.6 0.4h1m-0.6 0h1m0 0h1m-0.6 0h1m-1 -0.4h1m-1 0.6h1m-0.4 0h1m-0.6 0.2h1m-0.6 -0.4h1m-0.4 0h1m-1 0h1m-0.8 0.4h1m-0.8 -0.2h1m-1 -0.2h1m-0.6 0.2h1m-0.6 -0.2h1m-0.6 0h1m-0.6 -0.4h1m-0.8 0.2h1m-0.4 0h1m-0.8 0.4h1m-1 0.2h1m-0.6 -0.8h1m-1 0.6h1m-0.4 -0.2h1m-0.8 0.4h1m-0.4 -0.2h1m-0.8 0.2h1m0 -0.8h1m-0.8 0.2h1m-0.2 0.2h1m-0.6 -0.4h1m0 0h1m-0.4 0.8h1m-0.6 -0.6h1m-0.6 0.6h1m-0.4 -0.2h1m2.2 -0.6h1m-26.6 1.2h1m-0.6 0h1m0 0h1m-1 0.4h1m-0.6 0h1m-1 -0.2h1m0 0.4h1m-0.6 0h1m0.8 -0.6h1m-0.8 -0.2h1m-0.2 0.4h1m-1 -0.4h1m-0.8 0.4h1m1 0h1m-0.8 -0.4h1m-1 0.4h1m-0.8 -0.4h1m-0.8 0.2h1m-0.8 0h1m-0.8 0.4h1m-0.8 -0.4h1m-0.6 0.2h1m-0.8 0.2h1m-0.8 -0.4h1m-0.8 -0.2h1m-0.8 0.4h1m-1 0.4h1m-0.8 -0.6h1m-0.8 0.4h1m-0.8 -0.4h1m-0.8 0.6h1m-0.6 -0.4h1m-0.8 -0.2h1m-0.4 0.6h1m-0.8 -0.8h1m0.2 0h1m-1 0.6h1m-0.4 0h1m-0.2 -0.4h1m-0.2 -0.2h1m-1 0.8h1m0 -0.8h1m-0.2 0.6h1m-0.8 -0.2h1m-1 0.4h1m-0.8 0h1m-0.4 -0.2h1m-1 -0.6h1m0.4 0h1m-0.2 0.2h1m2.2 0h1m-0.8 0.6h1m-37 1h1m0.4 -0.6h1m3.8 0.4h1m0.4 -0.4h1m0 0h1m-0.6 -0.2h1m-0.4 0.4h1m0.2 -0.4h1m-0.4 0.4h1m0.4 0.2h1m-0.8 0.2h1m-0.8 0h1m-0.4 -0.2h1m0 -0.2h1m-0.6 -0.2h1m-0.4 0.2h1m-0.8 0.4h1m-0.2 -0.6h1m-0.2 0.6h1m-1 -0.4h1m-1 0.2h1m-0.8 -0.6h1m-1 0h1m-0.6 0.2h1m-0.8 0.4h1m-1 0.2h1m-0.4 -0.4h1m0 -0.4h1m-1 0h1m-0.6 0.8h1m-1 -0.8h1m-1 0.8h1m-0.4 -0.8h1m-0.4 0.6h1m-1 0.2h1m-1 -0.4h1m-0.8 -0.4h1m-0.6 0.6h1m-0.8 -0.4h1m-0.8 0.6h1m-0.8 -0.2h1m-1 -0.2h1m-0.8 0.2h1m-0.6 0h1m-0.6 0.2h1m-0.6 -0.4h1m-1 -0.2h1m-0.8 0.4h1m-1 0h1m-1 0h1m0.2 -0.6h1m-1 0.8h1m0 -0.8h1m-0.8 0.6h1m-1 -0.4h1m-0.6 0.4h1m-1 -0.2h1m-0.4 0.4h1m-1 -0.8h1m0 0.2h1m-1 0.2h1m-0.8 0.2h1m-0.6 0.2h1m-0.6 -0.4h1m-0.6 0.4h1m0.8 0h1m-0.8 -0.2h1m-0.6 0h1m-0.8 -0.4h1m0 0.4h1m3.6 0h1m3.8 -0.6h1m-40.2 1h1m1.4 0.2h1m3.4 -0.2h1m-0.4 0h1m-0.8 0h1m-0.8 0.8h1m-0.6 0h1m0 -0.6h1m-0.6 -0.2h1m0.4 0.4h1m0.6 -0.2h1m-0.4 0.4h1m-0.8 -0.6h1m-0.8 0h1m-1 0.6h1m-0.4 -0.2h1m-0.8 0.2h1m-1 -0.4h1m-0.6 0.6h1m-1 0h1m-0.6 0h1m-0.2 -0.4h1m-0.8 0.2h1m-0.6 -0.4h1m-0.8 -0.2h1m-1 0.6h1m-1 -0.2h1m0.6 0.4h1m-1 0h1m-0.8 -0.8h1m-1 0.6h1m-0.8 0.2h1m-0.8 -0.2h1m-0.8 0h1m-0.8 0h1m-1 0.2h1m-0.6 -0.6h1m-0.8 0.2h1m-1 0h1m-0.6 0h1m-1 -0.4h1m-0.8 0h1m-0.8 0h1m-1 0h1m-0.8 0.6h1m-0.8 0.2h1m-1 -0.4h1m-1 -0.2h1m-1 0h1m-0.8 0.4h1m-1 -0.2h1m-0.8 0.4h1m-0.8 -0.8h1m-0.2 0h1m-1 0.2h1m-0.2 0.2h1m-0.6 0.2h1m-0.4 0h1m-1 -0.2h1m-0.8 -0.2h1m-1 0.4h1m0.2 0h1m-0.6 -0.4h1m-0.4 0.2h1m-0.6 0.4h1m-0.8 0h1m-0.4 -0.2h1m0 -0.2h1m-0.8 -0.2h1m-0.4 0.4h1m-1 0.2h1m-0.8 -0.4h1m-1 -0.2h1m-0.4 0.6h1m0.6 0h1m1.6 -0.6h1m-27.4 1.2h1m-1 -0.4h1m-1 0h1m-0.6 0.2h1m0.2 -0.2h1m0.8 0h1m-0.8 0.4h1m0 -0.4h1m-0.8 0.6h1m-0.6 0h1m-0.8 0h1m-0.8 -0.6h1m-0.2 0.4h1m-0.2 0.2h1m-1 -0.6h1m-1 0.2h1m-0.8 0.2h1m-0.6 0h1m-0.6 0h1m-0.2 -0.4h1m-0.4 0h1m-0.8 0.4h1m-0.8 -0.2h1m-1 0.2h1m-1 -0.2h1m-0.8 0.4h1m-1 0.2h1m-0.4 -0.8h1m-0.8 0h1m-0.8 0.8h1m-0.6 -0.6h1m-0.4 -0.2h1m-0.4 0h1m-1 0.2h1m-0.8 -0.2h1m-0.8 0.4h1m-1 0h1m-1 -0.2h1m-1 0h1m-0.6 0.6h1m-0.2 -0.2h1m-0.2 -0.2h1m-1 0.2h1m-0.2 -0.2h1m-0.6 -0.2h1m-1 0.4h1m-0.4 0.2h1m-1 -0.6h1m-0.6 0h1m-1 -0.2h1m-1 0.4h1m-0.8 0.2h1m-1 -0.4h1m0.2 -0.2h1m-0.4 0.6h1m-0.4 -0.2h1m-0.2 -0.2h1m-0.4 -0.2h1m-0.4 0h1m1.4 0h1m-30.2 1.4h1m0.4 -0.2h1m0 0.2h1m-0.8 -0.2h1m1.6 0.4h1m-0.6 0.2h1m1 -0.4h1m0.2 -0.4h1m-1 0.4h1m0.6 -0.4h1m0.4 0.4h1m-0.6 0.4h1m-0.2 -0.6h1m-0.8 0h1m-0.6 0h1m-0.4 -0.2h1m-0.8 0.6h1m-0.6 -0.6h1m-0.6 0h1m-0.8 0.6h1m-0.6 -0.6h1m-0.6 0.2h1m-0.6 -0.2h1m-1 0.8h1m-1 -0.2h1m0 -0.4h1m-1 0h1m-0.8 -0.2h1m-0.8 0.4h1m-1 0.4h1m-0.4 -0.8h1m-0.8 0.8h1m-0.6 -0.6h1m-0.4 0.6h1m-1 -0.6h1m0.8 0.4h1m0.4 -0.6h1m-0.2 0h1m0.4 0.2h1m-0.6 0.6h1m-0.2 -0.6h1m1.2 0h1m0 0.4h1m-20.2 0.8h1m-0.2 0.2h1m0 0.2h1m-0.8 -0.4h1m-0.8 0h1m-0.4 0h1m0.2 -0.4h1m-0.2 0.2h1m0.2 0.2h1m-0.4 -0.2h1m-1 -0.2h1m1.8 0h1m-0.8 0.4h1m-0.8 -0.4h1m0.4 0.6h1m-0.4 -0.2h1m-0.6 -0.4h1m0.6 0.8h1m0.8 -0.4h1m-0.6 0h1m0.4 -0.4h1m-21.2 1h1m-0.8 0.2h1m0.2 0h1m-0.8 0.4h1m2.8 -0.2h1m5.6 -0.4h1m2.8 0.2h1m-0.4 0.6h1m-12.4 0.4h1m3.4 0.6h1m-10 0.8h1" stroke="#1a1a1a" stroke-opacity="1.0" stroke-width="1" fill="none"/>
<path d="M72.2 743.0h1m33 1h1m4.6 0.4h1m-30.2 0.8h1m12 0h1m23.6 -0.4h1m-81.4 1.4h1m9.8 -0.6h1m8 0.8h1m6.6 -0.6h1m4 0.6h1m1.8 0h1m48.2 -0.8h1m-79.8 1.6h1m1.6 0.2h1m9.4 -0.2h1m5.8 0h1m-0.4 -0.4h1m32.8 -0.2h1m11.2 0.4h1m-72.8 1h1m6.4 0.4h1m15.2 -0.2h1m5.8 0.2h1m54.6 -0.4h1m-61.6 1.4h1m5.8 -0.4h1m28 -0.2h1m4.4 0.4h1m14.6 -0.6h1m-78.4 1.6h1m8.2 -0.6h1m-0.6 0.2h1m0.6 0.6h1m5.8 0h1m4.8 0h1m6.2 -0.6h1m6.4 0h1m1.6 0.4h1m2.2 -0.4h1m6.4 0.2h1m16.6 -0.2h1m0.2 -0.2h1m-74.2 1.6h1m9.6 -0.6h1m3.6 0.4h1m3.8 0.2h1m0.2 0.2h1m-0.2 -0.2h1m-0.4 0.2h1m-1 -0.8h1m2 0.6h1m1 0h1m3.8 0.2h1m0.4 0h1m-0.2 -0.2h1m1.6 -0.6h1m-1 0.6h1m0.6 0.2h1m2.6 0h1m1.2 -0.2h1m1.6 -0.6h1m0.8 0.4h1m-0.6 0h1m0.2 0.4h1m2 -0.6h1m6.4 0.4h1m21.6 0h1m-85 1.2h1m0.8 -0.2h1m3 -0.2h1m-0.2 -0.4h1m4 0.8h1m-0.6 -0.6h1m1.4 0.4h1m0.6 -0.4h1m-0.6 0h1m3 0.2h1m5 0h1m-1 -0.2h1m-0.6 0.4h1m-1 0.2h1m5.2 0h1m3.4 0h1m-0.6 -0.8h1m0.4 0.4h1m8.8 -0.2h1m1.6 0.4h1m0.4 -0.4h1m-0.8 0.2h1m0.8 0.4h1m1.6 0h1m4.2 -0.2h1m-1 -0.6h1m-59 1h1m4.6 0.2h1m1.6 0.2h1m1.4 -0.2h1m0.2 -0.2h1m10.6 0h1m3.4 0.8h1m0.6 -0.8h1m3.2 0.8h1m6.2 -0.4h1m2.2 -0.4h1m0.2 0.8h1m0.2 0h1m-0.6 -0.8h1m2.2 0.2h1m0.4 0.4h1m0 -0.4h1m-0.6 0.6h1m0.4 -0.8h1m0 0.6h1m1 -0.6h1m1.6 0.6h1m0.2 0.2h1m-0.2 -0.2h1m1 -0.6h1m-0.4 0.4h1m-0.8 0.4h1m-0.4 -0.6h1m2.6 0.4h1m5.2 -0.4h1m2.8 0.6h1m-1 -0.4h1m-76 1.2h1m4.2 -0.4h1m3.2 0.6h1m9.4 -0.4h1m2.6 -0.2h1m-0.4 -0.2h1m1 0h1m-0.2 0.2h1m1.6 -0.2h1m3 0.4h1m-0.8 -0.2h1m1.8 -0.2h1m1.4 0h1m2.8 0h1m10.8 0h1m0.6 0.4h1m1 -0.4h1m-0.4 0.8h1m3 0h1m3.6 0h1m6.2 -0.8h1m1.8 0h1m-0.2 0.2h1m-0.6 -0.2h1m-90.2 1.8h1m-0.4 -0.2h1m13.2 -0.6h1m3.6 0h1m0.4 0h1m5.8 0.6h1m-0.4 -0.4h1m3.6 -0.2h1m9.2 0.6h1m-0.2 -0.2h1m1.6 -0.4h1m2.4 0h1m-0.4 0.8h1m-0.2 -0.4h1m6.6 0.4h1m12.2 -0.2h1m-60.6 0.4h1m14.4 0h1m8.4 0.4h1m1.2 0.6h1m10.4 0.8h1" stroke="#404040" stroke-opacity="1.0" stroke-width="1" fill="none"/>
<path d="M74.8 720.0h1m-16 1.6h1m11.6 0h1m33.6 0.2h1m-1.8 2.2h1m-26 1.6h1m-6.4 2h1m-12.8 12h1" stroke="#9a9a9a" stroke-opacity="1.0" stroke-width="1" fill="none"/>
<text x="38.50" y="768.60" font-size="4.8" text-anchor="middle" fill="#6e6e6e">10<tspan font-size="3.36" dy="-1.92">0</tspan></text>
<text x="62.95" y="768.60" font-size="4.8" text-anchor="middle" fill="#6e6e6e">10<tspan font-size="3.36" dy="-1.92">1</tspan></text>
<text x="87.40" y="768.60" font-size="4.8" text-anchor="middle" fill="#6e6e6e">10<tspan font-size="3.36" dy="-1.92">2</tspan></text>
<text x="111.85" y="768.60" font-size="4.8" text-anchor="middle" fill="#6e6e6e">10<tspan font-size="3.36" dy="-1.92">3</tspan></text>
<text x="32.20" y="759.20" font-size="4.8" text-anchor="middle" fill="#6e6e6e" transform="rotate(-90 32.20 759.20)">10<tspan font-size="3.36" dy="-1.92">0</tspan></text>
<text x="32.20" y="737.58" font-size="4.8" text-anchor="middle" fill="#6e6e6e" transform="rotate(-90 32.20 737.58)">10<tspan font-size="3.36" dy="-1.92">1</tspan></text>
<text x="32.20" y="715.95" font-size="4.8" text-anchor="middle" fill="#6e6e6e" transform="rotate(-90 32.20 715.95)">10<tspan font-size="3.36" dy="-1.92">2</tspan></text>
<text x="32.20" y="694.33" font-size="4.8" text-anchor="middle" fill="#6e6e6e" transform="rotate(-90 32.20 694.33)">10<tspan font-size="3.36" dy="-1.92">3</tspan></text>
<text x="32.20" y="672.70" font-size="4.8" text-anchor="middle" fill="#6e6e6e" transform="rotate(-90 32.20 672.70)">10<tspan font-size="3.36" dy="-1.92">4</tspan></text>
<g stroke="#959595" stroke-width="0.9" fill="none">
<path d="M149.40 671.70V758.50H246.70"/>
<path d="M146.80 758.50h2.60M148.00 751.97h1.40M148.00 748.15h1.40M148.00 745.44h1.40M148.00 743.33h1.40M148.00 741.61h1.40M148.00 740.16h1.40M148.00 738.90h1.40M148.00 737.79h1.40M146.80 736.80h2.60M148.00 730.27h1.40M148.00 726.45h1.40M148.00 723.74h1.40M148.00 721.63h1.40M148.00 719.91h1.40M148.00 718.46h1.40M148.00 717.20h1.40M148.00 716.09h1.40M146.80 715.10h2.60M148.00 708.57h1.40M148.00 704.75h1.40M148.00 702.04h1.40M148.00 699.93h1.40M148.00 698.21h1.40M148.00 696.76h1.40M148.00 695.50h1.40M148.00 694.39h1.40M146.80 693.40h2.60M148.00 686.87h1.40M148.00 683.05h1.40M148.00 680.34h1.40M148.00 678.23h1.40M148.00 676.51h1.40M148.00 675.06h1.40M148.00 673.80h1.40M148.00 672.69h1.40M146.80 671.70h2.6M149.40 758.50v2.60M156.72 758.50v1.40M161.01 758.50v1.40M164.05 758.50v1.40M166.40 758.50v1.40M168.33 758.50v1.40M169.96 758.50v1.40M171.37 758.50v1.40M172.61 758.50v1.40M173.72 758.50v2.60M181.05 758.50v1.40M185.33 758.50v1.40M188.37 758.50v1.40M190.73 758.50v1.40M192.65 758.50v1.40M194.28 758.50v1.40M195.69 758.50v1.40M196.94 758.50v1.40M198.05 758.50v2.60M205.37 758.50v1.40M209.66 758.50v1.40M212.70 758.50v1.40M215.05 758.50v1.40M216.98 758.50v1.40M218.61 758.50v1.40M220.02 758.50v1.40M221.26 758.50v1.40M222.38 758.50v2.60M229.70 758.50v1.40M233.98 758.50v1.40M237.02 758.50v1.40M239.38 758.50v1.40M241.30 758.50v1.40M242.93 758.50v1.40M244.34 758.50v1.40M245.59 758.50v1.40M246.70 758.50v2.60" stroke-width="0.6"/>
</g>
<path d="M189.30 671.70V758.50M149.40 736.80H246.70" stroke="#8c8c8c" stroke-width="0.9" fill="none"/>
<path d="M230.4 736.4h1m-17 1.6h1m6.2 0.2h1m-4.6 0.4h1m-56.4 1.8h1m1.4 -0.6h1m8.8 0.4h1m20.6 -0.6h1m2.2 0.8h1m-0.8 0h1m6.4 0h1m11.8 -0.4h1m14.8 0.4h1m8.4 -0.4h1m-78 1.2h1m1.2 -0.4h1m2.6 -0.2h1m0 0.2h1m27.6 0.4h1m0.2 0.2h1m-0.4 -0.2h1m13 0h1m-1 0h1m0.2 -0.4h1m9.8 0.4h1m9.2 -0.2h1m-76.2 0.8h1m-0.6 -0.2h1m0.6 0.6h1m-0.6 -0.6h1m-0.6 0h1m1.8 0.4h1m-1 -0.4h1m-1 0.4h1m-0.6 0.4h1m2 -0.8h1m-0.2 0.4h1m-0.8 0.4h1m-0.8 -0.2h1m10.8 0h1m10.2 -0.2h1m4.4 -0.4h1m1.8 0.2h1m3.2 0h1m0.8 0.6h1m-0.6 -0.2h1m-0.4 -0.4h1m-0.8 0.6h1m0.6 -0.8h1m-0.2 0.4h1m2 -0.4h1m1.8 0h1m-0.2 0.8h1m1.4 -0.4h1m-0.2 -0.2h1m0.8 0.6h1m-0.8 -0.2h1m-0.8 0h1m-0.8 -0.2h1m0.4 0.2h1m-0.4 0.2h1m-0.6 -0.2h1m0.8 0h1m9 0.2h1m-83.4 1h1m-0.4 -0.4h1m0.4 0.4h1m2.6 -0.8h1m0.6 0.8h1m-0.8 0h1m1.6 -0.6h1m-0.2 0.6h1m0.8 0h1m0.4 -0.2h1m2.6 -0.6h1m0.2 0.2h1m-1 0h1m15.6 0.4h1m5.8 0.2h1m2 -0.8h1m-0.6 0.4h1m0.2 0.2h1m-0.2 0.2h1m1 -0.6h1m2 0.6h1m1.2 0h1m2 0h1m-1 -0.8h1m-1 0.6h1m-0.2 0.2h1m-0.6 -0.8h1m-0.8 0.2h1m-0.8 0h1m-0.4 0h1m-0.4 -0.2h1m-0.6 0.6h1m-0.6 -0.2h1m-0.2 -0.2h1m-0.8 -0.2h1m-0.6 0.8h1m-0.4 0h1m-1 -0.4h1m-1 -0.2h1m-0.6 0.6h1m-0.8 -0.2h1m0 0h1m-1 0h1m0.4 0.2h1m2.4 0h1m-0.6 -0.2h1m-0.2 -0.2h1m-0.8 -0.2h1m-0.6 0.2h1m1.6 0.4h1m-1 -0.8h1m2.2 0.8h1m0 -0.6h1m2.8 0.6h1m-0.2 -0.6h1m-1 0.4h1m-83.6 0.4h1m2.2 0.6h1m2.6 -0.6h1m0 0.4h1m-0.2 0.2h1m-0.6 -0.4h1m0.2 0.4h1m-0.6 -0.4h1m-0.8 0.4h1m-0.6 -0.4h1m-0.8 0.2h1m-0.6 -0.2h1m-0.2 0h1m-0.8 0.2h1m-0.6 0.2h1m-0.8 -0.6h1m3.2 0.2h1m-0.2 0.6h1m1 -0.6h1m5.8 0.6h1m7.2 -0.6h1m1 0.6h1m0.2 -0.4h1m0.8 -0.2h1m-0.8 0.6h1m0.4 0h1m-0.8 -0.2h1m-0.6 0h1m1 0h1m-0.6 -0.4h1m-1 0h1m-0.4 0.2h1m-0.8 0h1m-0.2 0.4h1m1.4 -0.4h1m-1 0.4h1m-0.8 -0.8h1m0 0.6h1m-0.4 -0.2h1m-0.8 0.4h1m-1 -0.2h1m-0.8 0h1m-1 0.2h1m-0.8 -0.2h1m-0.2 0h1m-1 -0.2h1m-0.8 0.2h1m-0.2 -0.4h1m0 -0.2h1m-1 0.2h1m-0.8 0.2h1m-0.4 0.4h1m-0.8 0h1m-0.6 -0.4h1m-0.6 0.4h1m-0.4 -0.6h1m-0.8 -0.2h1m-0.2 0.6h1m-1 -0.4h1m-0.6 0h1m-0.8 0.2h1m1 0h1m-0.4 0.4h1m-0.4 -0.8h1m-0.4 0h1m-0.2 0h1m-1 0.4h1m-0.2 -0.4h1m-1 0h1m-0.4 0.2h1m-0.8 -0.2h1m-1 0.6h1m-1 0h1m-0.4 0h1m-0.6 0.2h1m-0.6 -0.6h1m-0.8 0.6h1m-0.8 -0.4h1m-0.8 -0.2h1m-1 0.4h1m-0.4 -0.2h1m-0.8 0.2h1m0.4 0.2h1m0 -0.6h1m0.6 -0.2h1m-0.8 0.6h1m-0.6 -0.4h1m-0.8 0h1m-0.2 0.6h1m-0.6 -0.6h1m-0.8 0.2h1m1.2 0h1m0 -0.2h1m-1 0.2h1m0 0.4h1m0.4 -0.4h1m0 -0.4h1m-1 0.6h1m1.8 -0.6h1m-81.2 1.2h1m-0.4 -0.2h1m-0.6 0h1m0.6 0.6h1m-0.4 -0.6h1m0 0h1m-1 0.8h1m-0.8 -0.8h1m0 0.6h1m-0.8 0h1m-0.8 -0.4h1m-0.8 -0.2h1m-1 0.4h1m-0.8 0.2h1m-0.4 0.2h1m-0.8 -0.8h1m-1 0.6h1m-0.6 -0.4h1m-1 0.2h1m-1 -0.2h1m0.6 -0.2h1m-0.6 0.4h1m-0.4 0.2h1m-0.2 0h1m-1 -0.4h1m-1 0h1m-0.8 0h1m-1 0.2h1m-0.6 0.2h1m-0.8 0h1m-1 0h1m-0.6 -0.2h1m0.8 0.4h1m-0.6 -0.2h1m-0.4 -0.6h1m2 0h1m5.8 0.6h1m3.6 0h1m3.8 0h1m-0.4 0h1m1.2 -0.2h1m-0.6 -0.2h1m-1 0.6h1m0 -0.6h1m-0.6 0.4h1m0.2 0.2h1m0.6 -0.8h1m-0.8 0.6h1m-0.4 -0.6h1m0 0.8h1m-0.4 -0.4h1m-1 0.4h1m0 -0.4h1m-0.2 0.4h1m-0.2 -0.8h1m-0.6 0.2h1m-0.6 0.4h1m-1 0h1m-0.6 -0.6h1m-0.8 0.8h1m-0.6 0h1m0.8 -0.2h1m-1 0h1m-1 -0.6h1m-0.4 0.2h1m-0.8 0.4h1m0.2 -0.6h1m-0.8 0h1m-1 0.2h1m-0.6 -0.2h1m-1 0.8h1m-1 -0.4h1m-0.6 -0.4h1m-0.8 0.8h1m-0.2 0h1m-1 -0.6h1m-0.4 0.6h1m-1 -0.2h1m-0.8 -0.4h1m-0.6 0.6h1m-1 -0.4h1m-0.6 -0.2h1m-1 0.4h1m-0.8 -0.2h1m-1 0h1m-0.2 -0.4h1m-1 0.8h1m-0.4 -0.6h1m-1 0.2h1m0 0.2h1m-0.8 -0.6h1m-0.6 0.8h1m-0.8 0h1m-0.8 0h1m-1 -0.2h1m-1 -0.2h1m-0.6 0.2h1m-1 -0.2h1m-1 0.2h1m0.4 0.2h1m-1 -0.4h1m-0.6 -0.4h1m0 0h1m-0.8 0.2h1m-0.8 0.4h1m-0.6 0.2h1m-1 -0.4h1m-1 0.4h1m-0.8 -0.4h1m-1 0.4h1m-0.4 0h1m-1 -0.4h1m0.2 -0.4h1m-0.6 0h1m-0.8 0.8h1m-0.2 0h1m-1 -0.8h1m-1 0.8h1m-0.4 -0.4h1m-0.4 -0.4h1m-0.8 0h1m-0.6 0.2h1m-0.4 0.4h1m-1 0h1m-0.6 -0.4h1m-0.6 0h1m-0.8 -0.2h1m-0.4 0.8h1m-0.6 -0.6h1m-1 0h1m1.4 0h1m0.4 -0.2h1m-0.6 0.4h1m-0.4 -0.4h1m0.2 0.6h1m0.2 0.2h1m0 -0.4h1m0 -0.2h1m-1 0.4h1m-0.6 -0.6h1m-0.8 0.2h1m-82 1h1m-0.4 0.2h1m-0.2 0h1m-0.2 0.2h1m-0.6 0h1m-0.2 -0.4h1m-0.2 -0.2h1m-1 0.8h1m-0.6 0h1m-1 -0.2h1m-0.8 -0.2h1m-0.6 -0.2h1m-0.8 -0.2h1m-0.6 0h1m-1 0.2h1m-0.8 0h1m0.4 0.4h1m-1 -0.2h1m-0.8 -0.2h1m0.4 -0.2h1m-1 0.4h1m-0.8 0h1m-0.8 0.4h1m-0.4 0h1m-0.8 -0.4h1m-0.8 -0.2h1m-0.8 0.4h1m-0.8 -0.6h1m0 0.8h1m-0.8 -0.8h1m0 0.6h1m-0.2 -0.2h1m-0.8 -0.4h1m-0.6 0h1m-0.8 0.8h1m-0.6 -0.2h1m0.4 0h1m0.2 -0.4h1m-0.8 0h1m-1 0h1m-0.4 -0.2h1m6.8 0.8h1m1.8 -0.6h1m1.4 0h1m0 0.4h1m1.2 0h1m0.8 0.2h1m-0.6 -0.2h1m0.2 -0.4h1m-0.8 0.2h1m0.2 0.4h1m-0.6 -0.4h1m-1 -0.2h1m-0.2 0.2h1m-0.8 0h1m-0.8 0.2h1m0.2 0h1m-0.8 0h1m-1 -0.4h1m-1 0.2h1m-0.2 0h1m-0.6 0.4h1m0 -0.6h1m0 0.4h1m-0.8 -0.2h1m0 -0.2h1m-0.4 0.6h1m-0.2 -0.2h1m-0.8 0.2h1m-1 -0.4h1m1 0.2h1m-0.6 -0.6h1m-1 0.6h1m-0.8 0h1m-1 -0.4h1m-1 0.2h1m-0.8 0.2h1m-1 -0.4h1m-1 0.6h1m-0.8 -0.4h1m-0.8 0h1m-1 0.2h1m-0.2 0h1m-1 -0.4h1m-0.6 0.2h1m-0.2 0.2h1m-1 -0.4h1m-0.8 -0.2h1m-0.8 0.8h1m0.4 -0.8h1m-1 0h1m-0.8 0.6h1m-0.4 0.2h1m-1 -0.8h1m-1 0.2h1m-0.8 0.4h1m-0.4 -0.2h1m-0.8 -0.2h1m-0.8 -0.2h1m-0.6 0.2h1m-0.8 -0.2h1m-1 0.8h1m-0.2 -0.8h1m-0.8 0.2h1m-0.8 0.2h1m-0.8 0h1m-1 -0.4h1m-0.6 0.2h1m-0.8 -0.2h1m-0.4 0.6h1m-1 -0.2h1m0 0h1m-0.8 0.2h1m-1 0h1m-1 0h1m0.4 -0.4h1m-0.8 0.4h1m-0.4 -0.6h1m-1 0.4h1m-1 -0.2h1m-0.6 0.6h1m-0.8 -0.6h1m-0.2 0.6h1m0.2 -0.6h1m-1 0.4h1m-0.8 0h1m-1 0h1m-0.8 -0.2h1m-1 0.4h1m-0.4 -0.2h1m-1 -0.6h1m-0.4 0.4h1m-1 0.2h1m-0.4 0.2h1m-0.6 -0.4h1m-0.6 -0.4h1m-1 0.8h1m-0.4 -0.6h1m-0.6 0.2h1m-0.6 -0.4h1m0.2 0.2h1m-0.6 0.6h1m-0.6 -0.6h1m-0.6 0.6h1m0 -0.6h1m-0.2 0.2h1m-0.2 0h1m-0.4 0h1m-0.2 -0.2h1m-1 0.2h1m-1 0.2h1m-0.6 -0.2h1m-0.8 -0.4h1m-0.8 0.4h1m-0.8 0h1m-0.2 0.2h1m-0.6 -0.6h1m0.6 0.4h1m-0.8 0.2h1m-82.2 0.4h1m-0.2 0.6h1m-0.8 -0.4h1m-0.6 -0.2h1m1 0.6h1m-0.8 -0.4h1m-1 0.6h1m-0.8 0h1m-0.8 0h1m-1 -0.4h1m-0.8 -0.4h1m-0.4 0.2h1m-0.6 -0.2h1m-0.4 0h1m-0.4 0.6h1m-1 -0.6h1m-1 0.8h1m-0.8 0h1m-0.4 0h1m-1 -0.6h1m-0.8 0.2h1m-0.6 -0.2h1m-0.8 -0.2h1m-1 0.2h1m-0.8 0.6h1m-1 -0.6h1m-0.8 0h1m0.8 0.6h1m-0.6 -0.4h1m-1 0.4h1m0.4 -0.2h1m0.2 0h1m-0.8 0h1m-0.6 -0.6h1m-1 0.2h1m0.6 0h1m0.4 0.2h1m-0.6 0.2h1m0 -0.4h1m6.8 0.2h1m2 -0.4h1m1.2 0h1m0.6 0.2h1m0.8 0.6h1m0.4 -0.6h1m-0.2 -0.2h1m-0.4 0h1m-1 0.2h1m-0.4 0h1m-0.8 0.4h1m1.2 -0.4h1m-0.8 0.6h1m-0.6 -0.8h1m1 0.6h1m-0.6 -0.2h1m-0.6 0.4h1m-0.8 -0.2h1m-0.8 -0.2h1m-0.6 -0.2h1m-0.8 0h1m-0.6 0.2h1m-0.8 0h1m-1 0.2h1m-0.6 -0.4h1m-0.4 -0.2h1m-0.8 0.6h1m-1 -0.2h1m-0.6 0h1m-0.8 -0.2h1m-1 0.2h1m-0.8 0.4h1m-1 -0.8h1m-0.6 0.8h1m0 -0.6h1m-0.6 -0.2h1m-1 0.4h1m-0.8 -0.2h1m0.2 0.4h1m-0.8 0.2h1m-0.8 0h1m-0.2 -0.2h1m-0.6 -0.6h1m-0.6 0.2h1m0.2 0.2h1m-0.8 -0.2h1m-0.8 0.6h1m-0.2 -0.4h1m-0.8 -0.2h1m-0.6 0.2h1m-1 -0.4h1m-0.8 0.2h1m-1 0.6h1m-0.8 0h1m-0.8 -0.8h1m-1 0h1m-0.2 0.8h1m-1 -0.8h1m-1 0.6h1m-0.6 0h1m-1 -0.2h1m-1 -0.2h1m-1 0.2h1m-0.8 -0.4h1m-0.2 0.2h1m-1 0h1m-0.8 -0.2h1m-0.8 0h1m-0.6 0.2h1m-1 0h1m-0.8 0.2h1m-1 -0.4h1m-1 0.4h1m-1 0h1m-0.4 0.4h1m-0.8 -0.4h1m-0.8 0.2h1m-1 -0.4h1m-0.8 0.2h1m-1 -0.4h1m-0.8 0.6h1m-1 0.2h1m-0.6 -0.4h1m-0.8 0h1m-1 0h1m-0.8 -0.2h1m-0.8 0.4h1m-0.8 -0.6h1m-0.6 0h1m-0.8 0.4h1m-0.8 -0.4h1m-1 0.2h1m-0.6 0.6h1m-1 -0.2h1m-1 0.2h1m-0.4 -0.2h1m-0.2 -0.2h1m-0.8 0.4h1m-1 -0.8h1m-1 0h1m0 0.2h1m-0.8 0h1m-0.8 0h1m-0.8 0.2h1m-1 0.4h1m-1 -0.2h1m-0.4 -0.4h1m-0.8 -0.2h1m-0.4 0.4h1m-1 0.4h1m-1 -0.4h1m-0.6 -0.4h1m-0.8 0.8h1m-0.8 -0.6h1m-1 0.2h1m-0.8 0.2h1m-0.4 -0.4h1m-0.4 0h1m-0.6 0.4h1m-0.6 -0.6h1m-0.2 0h1m0 0h1m-0.6 0.4h1m-0.6 0.4h1m0.4 -0.4h1m-0.6 0.2h1m1.8 0h1m-0.8 -0.6h1m-0.8 0h1m-87.8 1.6h1m5.6 -0.6h1m-0.4 0.6h1m0.8 0.2h1m-0.6 -0.6h1m-0.4 -0.2h1m-1 0.2h1m0.2 0.2h1m-0.4 0h1m-0.8 -0.2h1m-0.2 0h1m-1 0.2h1m-0.8 -0.2h1m-0.4 0.6h1m0 -0.2h1m-0.8 0h1m-0.8 -0.2h1m-0.8 0h1m-0.8 0h1m-0.6 0.4h1m-0.4 -0.8h1m-0.2 0.6h1m-0.8 0h1m-1 0h1m-1 0h1m-0.4 -0.2h1m0.4 0.4h1m-0.6 0h1m-0.4 -0.2h1m-0.6 -0.6h1m-0.6 0.4h1m-0.8 -0.2h1m-0.4 0.2h1m-0.4 0.2h1m-1 -0.4h1m-0.2 0.4h1m-0.6 -0.6h1m1.8 0.4h1m0.2 -0.2h1m8.4 0.6h1m-0.2 -0.8h1m1.4 0.6h1m1 -0.2h1m0.8 -0.4h1m-0.8 0.2h1m0.2 -0.2h1m-0.2 0.2h1m-0.2 0.4h1m-0.2 -0.6h1m-0.6 0h1m-0.8 0.8h1m-1 -0.8h1m-0.4 0.8h1m-0.6 0h1m-0.6 -0.2h1m-0.4 -0.6h1m-1 0h1m0.4 0.2h1m-0.4 0.6h1m-1 -0.2h1m-0.8 -0.2h1m-0.4 -0.2h1m-0.8 0.4h1m-0.8 -0.6h1m-0.2 0.4h1m-0.2 -0.4h1m-0.6 0.6h1m-0.8 -0.4h1m-1 0h1m-0.6 0.2h1m-0.8 -0.2h1m-0.8 0.4h1m-0.8 0.2h1m-0.8 -0.2h1m-0.6 -0.2h1m-0.4 -0.4h1m-0.8 0.2h1m-0.2 0.2h1m-0.8 0h1m-0.6 -0.2h1m-0.4 0.4h1m-1 -0.6h1m-0.8 0.8h1m-0.8 -0.6h1m-0.4 0.6h1m-0.8 -0.2h1m-0.2 -0.4h1m-1 -0.2h1m-0.8 0.2h1m-1 0h1m-0.8 -0.2h1m-0.6 0.8h1m-1 -0.2h1m-0.2 -0.2h1m-1 0h1m-0.4 -0.2h1m-0.8 0h1m-0.6 -0.2h1m-0.4 0h1m-0.8 0.4h1m-0.8 0h1m-0.6 -0.2h1m0.4 0.4h1m-0.8 0.2h1m-0.8 -0.2h1m-0.8 -0.6h1m-0.6 0h1m-0.8 0h1m-1 0h1m-0.8 0.8h1m-0.2 -0.4h1m-0.8 0.2h1m-0.6 0.2h1m-0.8 -0.2h1m-1 0.2h1m-0.8 -0.8h1m-1 0.8h1m-1 0h1m-0.8 -0.6h1m-0.8 0.2h1m-0.2 0h1m-0.8 0.4h1m0.8 -0.4h1m-0.8 0.4h1m-0.8 -0.8h1m-1 0.2h1m-1 0h1m-0.6 0h1m-0.8 0.6h1m-1 0h1m-0.8 -0.8h1m-0.8 0.6h1m-1 -0.6h1m-0.8 0h1m-0.8 0.8h1m-1 -0.6h1m-1 0.2h1m-0.8 0.2h1m-0.8 0h1m0 -0.4h1m-0.8 0.6h1m-1 -0.2h1m-0.6 0h1m-1 -0.2h1m-0.6 0.2h1m-0.8 -0.2h1m-0.8 0h1m-0.8 -0.2h1m0 0h1m1 0.6h1m-0.8 0h1m-0.6 -0.8h1m0.2 0.4h1m0 0.4h1m-0.8 0h1m-0.8 -0.8h1m-1 0h1m-0.8 0.6h1m-1 -0.2h1m-0.8 -0.4h1m-0.6 0.2h1m-0.6 -0.2h1m-0.8 0.2h1m-0.6 0.2h1m1.2 -0.2h1m-83.2 1h1m-0.4 0.2h1m0.2 0h1m0 0h1m-1 0h1m-0.2 0.2h1m-0.8 -0.6h1m-0.6 0h1m-1 0.2h1m-0.4 -0.2h1m-0.8 0.4h1m-0.4 -0.2h1m-0.8 -0.2h1m-1 0.2h1m0 0h1m-0.8 0.4h1m-0.8 -0.2h1m-1 0.2h1m-0.6 -0.6h1m-0.2 0h1m-0.8 0.2h1m-0.8 0h1m-0.8 -0.2h1m-0.2 0.2h1m-0.8 0h1m0.4 0.4h1m-0.8 -0.2h1m-0.2 0.2h1m-0.8 -0.6h1m0.6 0.6h1m1.4 0h1m0.2 0h1m0.4 -0.4h1m8.8 0.6h1m0 -0.8h1m1 0.4h1m2 -0.2h1m-0.2 0.6h1m0.6 -0.4h1m-0.6 -0.2h1m-0.6 0.2h1m1.4 0.4h1m-0.6 -0.6h1m-0.8 0.2h1m-0.2 -0.4h1m0 0.2h1m-0.6 0.4h1m-1 0h1m-0.4 -0.4h1m-0.8 0h1m-0.4 0.2h1m-1 0.4h1m-0.8 -0.8h1m-0.2 0h1m0 0.8h1m-1 -0.4h1m-1 0.2h1m-0.6 -0.6h1m-1 0.4h1m-0.6 -0.2h1m-0.8 0.6h1m-0.2 0h1m-0.4 -0.8h1m-0.2 0.2h1m-0.6 0h1m-1 0.2h1m-0.6 0.4h1m-0.4 -0.8h1m-0.8 0.6h1m0 -0.6h1m-0.4 0.2h1m-1 0.6h1m-0.6 -0.8h1m-0.8 0.2h1m-0.8 0.2h1m-0.6 -0.4h1m-0.6 0.2h1m-1 -0.2h1m-0.2 0.6h1m-0.8 -0.2h1m-0.6 0.2h1m-0.8 0h1m-0.8 -0.6h1m-0.8 0.6h1m0 -0.2h1m-1 -0.4h1m-0.4 0.6h1m-0.6 -0.6h1m-0.2 0.6h1m-1 0.2h1m-1 -0.6h1m-0.8 0.2h1m-0.8 -0.2h1m-1 -0.2h1m-0.8 0.2h1m-1 0.4h1m-0.6 0.2h1m-0.8 0h1m-1 0h1m-0.6 -0.8h1m-0.8 0.8h1m-1 -0.6h1m-0.8 -0.2h1m-1 0h1m-0.8 0.2h1m-0.8 0h1m-0.6 0.4h1m-0.6 -0.2h1m-0.6 -0.4h1m-0.8 0.2h1m-0.2 0.4h1m-0.8 -0.2h1m-0.6 -0.4h1m-0.8 0.8h1m0.2 0h1m-0.2 -0.6h1m-0.8 0.4h1m-0.6 -0.2h1m-0.6 -0.2h1m-0.8 0.4h1m-0.8 0.2h1m-0.6 -0.8h1m-0.4 0h1m-0.8 0.8h1m-0.8 -0.8h1m-0.6 0h1m-0.6 0h1m-0.4 0.4h1m-1 -0.4h1m-0.8 0.2h1m0 -0.2h1m-0.2 0.2h1m-0.8 0h1m0.6 0h1m1.8 0.2h1m-0.2 -0.2h1m-0.6 -0.2h1m-1 0.4h1m-0.6 0h1m-0.6 0.4h1m-0.2 0h1m-0.2 -0.8h1m-84.2 1h1m1.4 0h1m1.4 0.6h1m0.2 0h1m-0.8 0h1m-0.6 -0.6h1m-1 0h1m-0.6 0h1m-0.4 0.8h1m-0.4 -0.4h1m0.6 0.2h1m1.2 -0.2h1m-0.8 -0.4h1m-1 0h1m-0.8 0.8h1m-1 -0.6h1m0.4 0.2h1m-0.2 0h1m-0.6 -0.4h1m0.4 0.2h1m6.4 0.6h1m7.6 -0.6h1m3.8 0.4h1m-0.6 -0.2h1m4 0.2h1m1.8 0.2h1m1.8 -0.4h1m0.2 0.2h1m-0.8 -0.4h1m0.2 0h1m-0.6 0.4h1m-0.8 0.2h1m-1 0h1m-0.8 0h1m-0.6 -0.6h1m-1 0.4h1m-0.6 0h1m0.2 0h1m-0.4 -0.4h1m-0.2 -0.2h1m-1 0.4h1m-0.6 -0.2h1m-0.8 0h1m0.6 0h1m-1 0.2h1m-0.6 0.4h1m-1 0h1m-1 -0.6h1m-0.4 0h1m-0.8 0.6h1m-0.8 -0.6h1m-0.6 -0.2h1m-1 0.2h1m0 -0.2h1m-1 0.8h1m-0.4 -0.8h1m0.4 0.8h1m-1 -0.4h1m-0.6 -0.4h1m-0.8 0.6h1m-0.6 0h1m-0.2 -0.6h1m0 0.4h1m-0.8 -0.2h1m-0.8 0.2h1m-0.2 0.4h1m-0.6 -0.6h1m-1 0h1m-0.8 0h1m-0.8 0.4h1m-1 -0.2h1m-0.8 0h1m-1 0.2h1m-0.2 -0.4h1m-0.8 0.6h1m-1 -0.6h1m-0.4 0.2h1m0.4 0.4h1m-1 -0.8h1m-0.8 0.6h1m-0.8 -0.6h1m-0.6 0.4h1m-0.8 0.4h1m2 0h1m-0.8 -0.6h1m-0.8 0.2h1m-0.2 -0.4h1m-0.6 0.4h1m-0.4 0.2h1m-0.8 0.2h1m0.4 -0.4h1m-1 -0.4h1m-0.4 0.4h1m0.6 0.4h1m-0.6 -0.4h1m1.6 -0.2h1m-77.6 1h1m0.6 -0.2h1m0.8 0.6h1m-0.4 -0.4h1m-0.2 0.6h1m-0.6 -0.8h1m-1 0.2h1m-1 0.6h1m1 0h1m-0.6 -0.2h1m0.4 0.2h1m2.2 -0.8h1m7.8 0.2h1m15.4 0.2h1m-0.6 -0.4h1m1 0.4h1m0.4 0.4h1m-0.6 0h1m-1 -0.6h1m-1 0.4h1m1 -0.6h1m0.4 0h1m2.6 0h1m-0.4 0.4h1m-0.6 0.4h1m0.8 -0.8h1m-0.8 0h1m-0.2 0h1m0 0.2h1m-0.6 -0.2h1m-0.6 0.8h1m-0.8 0h1m0.2 -0.2h1m-0.2 -0.2h1m0.2 0h1m-0.8 0.2h1m1.6 0h1m-0.4 -0.2h1m-0.6 -0.4h1m0 0.4h1m0.8 -0.4h1m-0.2 0.4h1m-0.4 -0.2h1m1 0.2h1m-0.4 0.2h1m0 0h1m0.4 -0.2h1m-0.6 0.4h1m0.4 -0.8h1m3.6 0h1m-85 1.2h1m3.6 0h1m0.6 0.4h1m-0.8 -0.6h1m1.4 0.8h1m0 -0.8h1m6.6 0.2h1m17 0.4h1m0 0.2h1m1.4 0h1m-0.8 -0.4h1m1 0h1m4.8 0.2h1m-0.2 0h1m1.6 0.2h1m0 -0.6h1m-0.8 -0.2h1m2.2 0.6h1m-0.6 -0.6h1m-0.6 0.6h1m-0.2 -0.6h1m4 0h1m0.2 0.6h1m-0.8 -0.4h1m0.6 -0.2h1m-0.6 0.6h1m-0.6 0.2h1m1.2 0h1m1.2 -0.2h1m0.4 -0.2h1m-0.6 -0.4h1m0.2 0.8h1m-1 -0.6h1m2.2 0h1m0.4 0h1m3.2 0.2h1m1.2 -0.4h1m-77.4 1.2h1m4 -0.2h1m40 0.2h1m1.6 0.4h1m-0.4 -0.6h1m5.2 0.4h1m1.4 -0.4h1m0 0.2h1m-0.2 0.4h1m0.4 0.2h1m-0.4 -0.8h1m-56.2 1h1m9 0.2h1m31 0h1m3.6 0.2h1m16 -0.2h1" stroke="#262626" stroke-opacity="1.0" stroke-width="1" fill="none"/>
<path d="M218.4 739.8h1m7 0.2h1m-11.6 1.4h1m0.8 -0.4h1m17 0h1m-25.8 0.8h1m1 0.6h1m3.8 0h1m-0.6 -0.8h1m-0.2 0h1m0.8 0.6h1m0 -0.4h1m0.8 0.6h1m-0.4 0h1m-0.2 -0.2h1m-0.8 -0.6h1m-1 0.8h1m4.2 0h1m0.4 0h1m0.4 -0.2h1m5.4 0h1m-35.4 1h1m7 -0.2h1m-0.6 -0.2h1m1.2 0.6h1m3.2 -0.2h1m0.4 -0.2h1m-0.4 0h1m-0.8 0.4h1m-0.2 -0.2h1m-0.2 0.2h1m0.2 0h1m-0.2 -0.8h1m-0.4 0.4h1m-0.4 0h1m-0.4 0.4h1m-0.4 -0.6h1m2.2 -0.2h1m-21.6 1.2h1m0 -0.2h1m0.4 0.2h1m0 0.2h1m0.4 0h1m-0.4 -0.4h1m0.4 0.6h1m-0.6 0h1m-0.4 0.2h1m-1 -0.8h1m-0.2 0.8h1m1 -0.2h1m-1 -0.6h1m0 0.2h1m-1 0.2h1m-1 -0.4h1m-0.4 0.6h1m-0.6 0h1m0.8 -0.4h1m-0.8 0.6h1m-0.4 -0.8h1m-0.4 0h1m0 0.8h1m-0.6 -0.4h1m-0.2 0.4h1m-0.6 -0.8h1m-0.6 0.4h1m-0.6 0.2h1m0 -0.2h1m-0.4 -0.2h1m0.2 0h1m2.8 0.4h1m-36.8 1h1m4.2 0h1m4.2 0h1m-0.2 0h1m0.4 -0.4h1m-0.4 -0.2h1m-0.8 0.2h1m0.8 0h1m-0.6 0.4h1m0 -0.2h1m-0.6 -0.2h1m-1 0.2h1m-1 0.2h1m0.4 0.2h1m-1 -0.6h1m-0.8 0.4h1m-1 0h1m-1 -0.6h1m-0.6 0.4h1m-0.8 -0.4h1m-0.8 0.8h1m-1 -0.2h1m-0.4 -0.6h1m-0.8 0.2h1m-1 0.4h1m-0.6 -0.6h1m-0.8 0h1m-0.8 0.6h1m-0.8 0.2h1m0 0h1m-0.6 -0.2h1m-0.4 0.2h1m-0.4 -0.2h1m-0.8 -0.6h1m-0.8 0h1m-0.4 0h1m-0.6 0.8h1m-0.8 -0.6h1m-0.8 0.2h1m-0.6 -0.4h1m-0.8 0.4h1m-0.4 0.4h1m-0.8 -0.8h1m-0.8 0.2h1m-1 0h1m-0.6 0.4h1m-0.6 -0.4h1m-1 0.4h1m0.6 0.2h1m-0.8 -0.4h1m2.2 0.2h1m-0.6 0h1m0 0.2h1m0.2 -0.6h1m-0.6 -0.2h1m-29.4 1.4h1m0.4 -0.2h1m1 0.6h1m-0.6 -0.2h1m0 0h1m-0.2 0h1m-0.4 -0.4h1m-1 0.2h1m-0.2 0h1m-1 -0.2h1m-0.8 0h1m0.6 0.2h1m-0.2 -0.4h1m-0.6 0.8h1m-0.6 0h1m-0.8 -0.4h1m-0.8 0.4h1m-1 -0.4h1m-0.4 -0.4h1m-0.8 0.2h1m-1 0.6h1m-1 -0.4h1m-0.8 0.4h1m-1 -0.8h1m-0.8 0.6h1m-0.6 0h1m-0.8 -0.4h1m-0.8 0.4h1m-0.8 -0.4h1m-0.8 0.2h1m-0.8 -0.4h1m-0.6 0.4h1m-1 0.2h1m-1 -0.6h1m-0.8 0h1m-1 0.4h1m-1 0.2h1m-0.8 0.2h1m-0.4 -0.2h1m-1 -0.6h1m-1 0.4h1m-0.6 0.2h1m-0.6 0h1m-0.4 0h1m-0.8 0.2h1m-0.6 -0.4h1m-1 -0.2h1m-0.8 0h1m-0.8 -0.2h1m-0.8 0.8h1m-0.8 0h1m-1 -0.4h1m-0.8 0h1m-0.8 -0.4h1m-1 0.6h1m-0.4 0.2h1m-0.8 -0.8h1m-1 0h1m-1 0.8h1m-0.6 -0.4h1m-0.8 -0.2h1m-0.8 0.4h1m-0.8 -0.2h1m-0.8 -0.2h1m-1 0.6h1m-0.2 -0.8h1m-0.6 0.6h1m-0.6 -0.2h1m-0.8 0.4h1m-0.2 -0.6h1m-0.8 0h1m1 0.2h1m-1 0h1m-0.6 0h1m6.8 0.4h1m-36.8 0.2h1m-0.6 0.2h1m1.2 0h1m-0.8 0.6h1m-0.6 -0.8h1m-0.2 0h1m-0.4 0.2h1m1.6 -0.2h1m-0.8 0.4h1m-1 0h1m-0.6 0h1m-0.8 -0.2h1m-0.6 -0.2h1m-0.6 0.4h1m-0.2 -0.2h1m-0.8 0h1m-1 0.6h1m-1 -0.6h1m-0.8 0.6h1m-1 -0.4h1m-1 -0.2h1m-1 0h1m0 0h1m-1 0.6h1m-0.6 0h1m-1 0h1m-0.2 0h1m-0.8 -0.6h1m-1 0.6h1m-1 -0.8h1m-0.6 0.2h1m-1 0h1m-0.8 0.4h1m-0.2 0.2h1m-0.2 -0.8h1m-0.8 0.6h1m-1 -0.4h1m-0.8 0.4h1m-1 -0.2h1m-0.8 0.4h1m-0.6 0h1m-0.8 -0.8h1m-1 0h1m-0.8 0.4h1m-0.8 0h1m-0.6 -0.2h1m-0.6 0.2h1m-1 -0.2h1m-0.8 0.2h1m-0.6 0h1m-0.6 0.2h1m-1 0h1m-0.8 0.2h1m-1 0h1m-0.4 -0.4h1m-0.8 -0.4h1m-0.8 0.2h1m-1 0.6h1m-0.8 -0.2h1m-1 -0.6h1m-0.6 0.2h1m-0.2 0.6h1m-0.6 -0.6h1m0.2 0.2h1m-1 0.4h1m-0.6 0h1m-0.6 -0.8h1m-0.8 0.4h1m0.4 -0.2h1m0.4 0h1m-1 0.2h1m-0.6 0.4h1m-0.6 -0.8h1m-1 0.4h1m0 0.2h1m0 0h1m1.6 -0.2h1m-1 -0.2h1m-34.2 1.4h1m0 -0.4h1m3.2 0.6h1m-0.2 -0.6h1m0 0.4h1m-0.4 -0.6h1m-0.8 0.2h1m0 -0.2h1m-0.4 0.8h1m-0.6 -0.4h1m-0.6 0.4h1m-1 -0.4h1m-0.8 0h1m-0.6 0.2h1m0.2 0h1m-0.4 -0.6h1m-1 0.6h1m-0.8 -0.4h1m-0.4 0.2h1m-1 -0.4h1m-0.8 0.6h1m-0.2 0.2h1m-0.6 -0.8h1m-0.4 0h1m0.2 0.6h1m-0.2 0.2h1m-0.8 -0.4h1m-0.6 0h1m-0.6 0h1m-0.4 0.2h1m-0.6 -0.2h1m-0.8 0.2h1m-0.4 -0.6h1m-0.8 0h1m-1 0.2h1m-0.6 0.4h1m-0.8 0.2h1m-1 0h1m-0.8 -0.2h1m-0.8 -0.6h1m-1 0.4h1m-0.6 -0.2h1m-0.6 -0.2h1m0 0.8h1m-1 -0.2h1m-0.4 -0.4h1m-0.2 0.2h1m-1 0.2h1m-0.2 -0.4h1m-0.8 -0.2h1m-0.8 0.8h1m0 -0.8h1m-0.8 0.8h1m-1 -0.4h1m-0.8 -0.2h1m-0.4 0h1m0.6 0.6h1m0.4 -0.4h1m1.6 0h1m1.2 -0.4h1m-31.4 1.2h1m-0.8 0.4h1m-0.2 -0.6h1m1 0.8h1m-0.4 -0.8h1m-1 0.2h1m-0.4 0.6h1m-0.8 -0.6h1m-0.8 0.2h1m1.6 -0.4h1m-0.8 0.4h1m-1 -0.2h1m-0.6 -0.2h1m0.2 0.2h1m-1 0.6h1m-0.8 -0.4h1m-0.6 0h1m-0.8 0h1m-0.8 -0.2h1m-0.8 0h1m-0.4 -0.2h1m-0.8 0.4h1m-0.8 0h1m-0.6 0.2h1m-0.6 -0.2h1m-0.4 0.2h1m-0.6 -0.2h1m-0.2 0.4h1m-0.8 -0.2h1m-1 -0.2h1m-0.8 -0.2h1m-0.8 -0.2h1m-0.2 0.4h1m-0.8 -0.4h1m-0.8 0.4h1m-0.8 -0.4h1m-1 0.8h1m-0.8 -0.8h1m-0.8 0.4h1m-1 -0.2h1m-0.8 0.6h1m-0.2 -0.6h1m-0.8 0h1m-1 0.2h1m1.2 -0.2h1m-0.4 0.2h1m1.4 -0.4h1m3.8 0.6h1m-30 0.6h1m2.2 0.6h1m2.2 -0.8h1m-0.2 0.4h1m-0.6 -0.2h1m-0.8 0.4h1m-1 0.2h1m-0.8 0h1m1.6 0h1m-1 -0.6h1m-1 -0.2h1m-0.4 0.2h1m1 0.6h1m-0.6 -0.2h1m0.2 -0.2h1m-0.4 -0.2h1m1 0h1m0.2 0.2h1m-1 -0.2h1m-0.8 0.4h1m-1 0h1m-0.8 0h1m-0.8 -0.4h1m-1 0.6h1m-1 -0.8h1m-0.4 0h1m-1 0.8h1m0 -0.6h1m-0.6 0.4h1m-0.8 -0.2h1m0.6 -0.4h1m0.8 0h1m0.4 0h1m-0.8 0.6h1m-0.6 -0.4h1m1 0h1m-27 1.6h1m0.8 -0.4h1m0 0h1m1.6 0.2h1m3.4 -0.4h1m4 0.6h1m-11.6 0.6h1m1 0h1m7 -0.2h1m3.8 0.2h1m0.8 0.2h1m1 -0.2h1m-10.4 1.4h1m1.4 -0.6h1m-16.8 1h1" stroke="#1a1a1a" stroke-opacity="1.0" stroke-width="1" fill="none"/>
<path d="M207.0 738.8h1m-37.6 3.6h1m18 -0.2h1m8.8 0.2h1m1.2 -0.2h1m3.2 -0.4h1m-34.2 1h1m5.6 0.6h1m2 -0.4h1m0 -0.2h1m2.4 0h1m1.4 0h1m1 0h1m2.8 -0.2h1m2.8 0h1m-0.2 0h1m0 0.6h1m-0.4 -0.2h1m-0.4 -0.4h1m7.2 0.8h1m0.2 -0.4h1m-35.8 0.6h1m0 0.4h1m0.8 -0.2h1m4.4 -0.2h1m1.8 0.6h1m0.8 -0.2h1m2.2 0.2h1m1.6 -0.2h1m0.6 -0.2h1m11 0.6h1m10.2 -0.4h1m-53.2 1.2h1m17.6 -0.2h1m0 -0.2h1m-0.6 0.6h1m2 0h1m0.6 0h1m0.4 -0.2h1m1.2 -0.4h1m-0.6 0.6h1m0.2 -0.8h1m1.6 0.2h1m1.4 0.6h1m26.2 0h1m-55.2 0.6h1m9.8 0.4h1m1.4 -0.8h1m2.6 0.2h1m1.2 0.4h1m1.2 -0.4h1m-0.2 -0.2h1m1.6 0.4h1m0.6 0.2h1m3.6 0.2h1m9 -0.8h1m0.6 0.6h1m4.2 0.2h1m14 -0.2h1m-65.8 0.8h1m3.2 0.2h1m6 -0.2h1m2.2 -0.2h1m-0.4 -0.2h1m2.6 0.6h1m-0.8 -0.6h1m0.4 0.4h1m0 0h1m2 0.4h1m2.2 -0.4h1m4.8 0.2h1m1 0.2h1m-0.8 -0.6h1m6.8 0.6h1m22 0h1m0.2 -0.8h1m2.6 0h1m-0.4 0.2h1m-84.4 1.4h1m13.8 -0.2h1m8.6 0h1m3.2 0.2h1m0.2 -0.4h1m-0.8 0.6h1m1.2 -0.8h1m0 0.8h1m0.4 -0.2h1m-1 -0.4h1m-0.6 0.4h1m-0.2 -0.2h1m0 0.4h1m0.8 0h1m1.8 -0.6h1m-36.8 1.6h1m0.8 -0.6h1m3 -0.2h1m11.8 0.8h1m1.2 -0.8h1m1.8 0.2h1m-0.4 -0.2h1m1 0.8h1m1.6 -0.4h1m-0.4 -0.4h1m-0.2 0.2h1m-0.6 0.4h1m2.4 0.2h1m-0.4 -0.6h1m-0.6 0.4h1m3 -0.2h1m-0.6 0.2h1m-44 0.8h1m1.4 0.4h1m2.8 0h1m2 -0.4h1m13 -0.2h1m4.6 0.4h1m0.6 0h1m1.4 -0.2h1m2.4 0.4h1m-0.4 0h1m1.6 -0.2h1m-0.6 0.2h1m-0.8 -0.6h1m1.2 0h1m0.4 0.2h1m-44.2 1h1m1 0.4h1m-0.6 0h1m1.2 -0.4h1m10.8 0h1m-0.4 0.4h1m2.4 -0.6h1m2.4 0.6h1m1 -0.4h1m3.2 -0.4h1m3.4 0.8h1m-0.6 -0.4h1m1 0.4h1m-0.6 -0.4h1m2 -0.4h1m-1 0.8h1m4.2 -0.6h1m2 0.6h1m0 -0.2h1m16.4 -0.4h1m1 0.6h1m0.4 -0.2h1m8.6 0.2h1m-81 0.8h1m10.2 -0.2h1m0.6 -0.4h1m3.6 0.4h1m0.4 0.2h1m-0.8 0h1m-0.8 0h1m0 -0.2h1m0.8 -0.2h1m0.6 0h1m-0.2 0.2h1m0.8 0.4h1m3.8 -0.6h1m2.2 0.6h1m1.8 0h1m0 -0.2h1m-0.6 -0.2h1m1.8 0h1m-0.4 0.2h1m0.4 0.2h1m0.6 -0.6h1m-0.2 0.4h1m3.6 0.2h1m0.4 -0.8h1m0.8 0.8h1m-1 -0.4h1m0.6 0.4h1m-0.4 -0.6h1m-0.2 0h1m5.8 -0.2h1m8.4 0.4h1m1 0.2h1m5.8 0h1m-83 0.6h1m-0.4 0.2h1m3.2 -0.4h1m2.4 0.4h1m12.4 -0.4h1m8.2 0.4h1m1.6 -0.4h1m4.6 0.2h1m-1 0.2h1m0.2 0.4h1m1.2 -0.2h1m4.6 0h1m3.4 -0.6h1m-0.6 0.8h1m1.4 -0.6h1m10.8 0.6h1m0.8 -0.4h1m1 -0.2h1m0 -0.2h1m9 0.8h1m-84.2 0.2h1m-0.2 0.6h1m2.2 -0.4h1m1 -0.2h1m-0.6 0.4h1m2.6 -0.4h1m0.6 0h1m7.6 0.4h1m2.4 0h1m0.8 -0.4h1m0.6 0.4h1m0 -0.2h1m1.4 -0.2h1m4 0.8h1m6.2 0h1m-0.4 0h1m0 -0.2h1m0.8 0.2h1m-0.2 -0.8h1m4.4 0.4h1m1.8 -0.2h1m0 0.4h1m3.6 0h1m-1 -0.6h1m2 0.2h1m-67 0.8h1m21.6 0h1m1 0.2h1m-0.8 0.2h1m3.2 -0.4h1m6.2 0.2h1m-0.4 -0.2h1m9.2 0.2h1m0.4 0h1m2.6 0.4h1m4.2 -0.2h1m0.8 0h1m0.8 -0.2h1m1.2 0.6h1m2 -0.4h1m-23 0.6h1m20 0.2h1" stroke="#404040" stroke-opacity="1.0" stroke-width="1" fill="none"/>
<path d="M208.6 712.6h1m-29 4.6h1m7.6 -0.6h1m-15.2 4.6h1m9.8 -0.6h1m16.4 2.6h1m-24.2 6.6h1m0.4 5.2h1" stroke="#9a9a9a" stroke-opacity="1.0" stroke-width="1" fill="none"/>
<text x="149.40" y="767.90" font-size="4.8" text-anchor="middle" fill="#6e6e6e">10<tspan font-size="3.36" dy="-1.92">0</tspan></text>
<text x="173.72" y="767.90" font-size="4.8" text-anchor="middle" fill="#6e6e6e">10<tspan font-size="3.36" dy="-1.92">1</tspan></text>
<text x="198.05" y="767.90" font-size="4.8" text-anchor="middle" fill="#6e6e6e">10<tspan font-size="3.36" dy="-1.92">2</tspan></text>
<text x="222.38" y="767.90" font-size="4.8" text-anchor="middle" fill="#6e6e6e">10<tspan font-size="3.36" dy="-1.92">3</tspan></text>
<text x="246.70" y="767.90" font-size="4.8" text-anchor="middle" fill="#6e6e6e">10<tspan font-size="3.36" dy="-1.92">4</tspan></text>
<text x="143.10" y="758.50" font-size="4.8" text-anchor="middle" fill="#6e6e6e" transform="rotate(-90 143.10 758.50)">10<tspan font-size="3.36" dy="-1.92">0</tspan></text>
<text x="143.10" y="736.80" font-size="4.8" text-anchor="middle" fill="#6e6e6e" transform="rotate(-90 143.10 736.80)">10<tspan font-size="3.36" dy="-1.92">1</tspan></text>
<text x="143.10" y="715.10" font-size="4.8" text-anchor="middle" fill="#6e6e6e" transform="rotate(-90 143.10 715.10)">10<tspan font-size="3.36" dy="-1.92">2</tspan></text>
<text x="143.10" y="693.40" font-size="4.8" text-anchor="middle" fill="#6e6e6e" transform="rotate(-90 143.10 693.40)">10<tspan font-size="3.36" dy="-1.92">3</tspan></text>
<text x="143.10" y="671.70" font-size="4.8" text-anchor="middle" fill="#6e6e6e" transform="rotate(-90 143.10 671.70)">10<tspan font-size="3.36" dy="-1.92">4</tspan></text>
<g stroke="#959595" stroke-width="0.9" fill="none">
<path d="M264.50 673.00V759.50H362.50"/>
<path d="M261.90 759.50h2.60M263.10 752.99h1.40M263.10 749.18h1.40M263.10 746.48h1.40M263.10 744.38h1.40M263.10 742.67h1.40M263.10 741.22h1.40M263.10 739.97h1.40M263.10 738.86h1.40M261.90 737.88h2.60M263.10 731.37h1.40M263.10 727.56h1.40M263.10 724.86h1.40M263.10 722.76h1.40M263.10 721.05h1.40M263.10 719.60h1.40M263.10 718.35h1.40M263.10 717.24h1.40M261.90 716.25h2.60M263.10 709.74h1.40M263.10 705.93h1.40M263.10 703.23h1.40M263.10 701.13h1.40M263.10 699.42h1.40M263.10 697.97h1.40M263.10 696.72h1.40M263.10 695.61h1.40M261.90 694.62h2.60M263.10 688.12h1.40M263.10 684.31h1.40M263.10 681.61h1.40M263.10 679.51h1.40M263.10 677.80h1.40M263.10 676.35h1.40M263.10 675.10h1.40M263.10 673.99h1.40M261.90 673.00h2.6M264.50 759.50v2.60M271.88 759.50v1.40M276.19 759.50v1.40M279.25 759.50v1.40M281.62 759.50v1.40M283.56 759.50v1.40M285.20 759.50v1.40M286.63 759.50v1.40M287.88 759.50v1.40M289.00 759.50v2.60M296.38 759.50v1.40M300.69 759.50v1.40M303.75 759.50v1.40M306.12 759.50v1.40M308.06 759.50v1.40M309.70 759.50v1.40M311.13 759.50v1.40M312.38 759.50v1.40M313.50 759.50v2.60M320.88 759.50v1.40M325.19 759.50v1.40M328.25 759.50v1.40M330.62 759.50v1.40M332.56 759.50v1.40M334.20 759.50v1.40M335.63 759.50v1.40M336.88 759.50v1.40M338.00 759.50v2.60M345.38 759.50v1.40M349.69 759.50v1.40M352.75 759.50v1.40M355.12 759.50v1.40M357.06 759.50v1.40M358.70 759.50v1.40M360.13 759.50v1.40M361.38 759.50v1.40M362.50 759.50v2.60" stroke-width="0.6"/>
</g>
<path d="M304.00 673.00V759.50M264.50 738.30H362.50" stroke="#8c8c8c" stroke-width="0.9" fill="none"/>
<path d="M320.8 738.8h1m15.2 -0.2h1m-8.4 1.2h1m7.8 0.4h1m5.6 0.2h1m-59.6 0.4h1m2.4 0.6h1m35.6 -0.4h1m-48 0.6h1m6.6 0h1m-1 0.6h1m2.4 0.2h1m32 -0.2h1m2.8 0h1m1.4 0.2h1m-0.6 0h1m3.4 0h1m-0.2 -0.2h1m1 -0.2h1m7.4 -0.4h1m2.4 0.2h1m9.2 0.4h1m-83.4 1.2h1m2.2 -0.6h1m0.8 0.6h1m-0.2 0h1m1 0h1m1.2 -0.8h1m1.2 0.6h1m-0.6 0h1m0.4 0.2h1m18.8 -0.6h1m3.4 0h1m7.2 0.2h1m-0.2 0.4h1m2.8 -0.8h1m-0.6 0.6h1m0.2 -0.6h1m-0.8 0.2h1m-0.8 0h1m0.6 0.2h1m0.2 0.2h1m-1 0h1m-0.2 -0.6h1m-1 0.4h1m-0.4 0h1m-1 0.4h1m3 -0.4h1m-0.2 0.2h1m-0.8 0h1m0.4 0h1m-0.4 -0.6h1m0.2 0.8h1m0.4 -0.2h1m-0.6 0.2h1m0.2 0h1m4 -0.2h1m0.6 0.2h1m-0.6 -0.4h1m-0.4 -0.4h1m-71 1h1m-0.6 0h1m-1 0.8h1m0.2 -0.2h1m-0.8 -0.6h1m-0.6 0.2h1m-0.4 0.6h1m1 -0.8h1m4.8 0.8h1m1.2 -0.4h1m13.4 0.2h1m7.8 -0.2h1m0 -0.2h1m0.6 0.2h1m2.6 -0.4h1m-0.8 0h1m1.2 0.4h1m-0.8 0.2h1m-1 -0.4h1m0 0.4h1m0.6 -0.2h1m-0.8 0.2h1m-0.4 -0.4h1m-0.2 0.6h1m0.6 -0.8h1m-0.8 0.2h1m0.6 -0.2h1m0.4 0.6h1m-0.2 0.2h1m-0.8 -0.6h1m0 -0.2h1m-0.6 0.8h1m0.2 -0.2h1m0 -0.6h1m-0.6 0.6h1m3.8 -0.4h1m-0.6 0h1m-0.8 0h1m-0.8 0h1m2.2 0.6h1m2 -0.4h1m2.6 0h1m-81.4 1h1m0.6 0.4h1m0 0h1m-0.4 -0.2h1m-0.8 -0.6h1m0 0.8h1m-0.8 -0.4h1m-0.8 0.2h1m-0.8 0.2h1m-0.2 -0.2h1m-0.4 0.2h1m1.2 -0.8h1m4.6 0.6h1m2 0h1m0.8 -0.6h1m-0.2 0.2h1m8.4 0.2h1m3.8 0.2h1m0 -0.6h1m2.2 0.6h1m-0.4 -0.6h1m-0.2 0h1m-0.8 0.8h1m-0.2 -0.2h1m-0.2 0h1m-0.6 0.2h1m-0.2 -0.2h1m0.2 -0.6h1m0.4 0.8h1m2.2 -0.2h1m-0.8 -0.2h1m-0.6 0.4h1m-0.8 -0.2h1m-0.8 -0.6h1m-0.6 0.2h1m-0.4 0h1m-0.2 0.6h1m-0.6 -0.6h1m-0.6 -0.2h1m-1 0h1m-0.8 0.4h1m-0.4 0h1m0 0.4h1m-1 -0.6h1m-0.6 0.6h1m-0.8 -0.4h1m0.4 -0.4h1m-0.8 0h1m-0.4 0.2h1m-0.8 0h1m-1 0.4h1m-1 -0.2h1m0.4 -0.2h1m-0.8 0.6h1m-1 0h1m-0.8 -0.6h1m-0.6 0.6h1m-0.4 -0.6h1m-1 -0.2h1m-0.8 0.8h1m-1 -0.6h1m-1 0.6h1m0.2 -0.8h1m-1 0h1m-0.8 0.4h1m-0.8 -0.4h1m-0.4 0.8h1m-0.6 -0.2h1m-0.8 -0.6h1m-1 0.6h1m-0.8 0.2h1m-0.6 -0.2h1m-1 -0.2h1m-1 -0.2h1m0 0.6h1m-0.8 0h1m-0.8 0h1m-0.6 0h1m0 -0.6h1m-1 0.2h1m-1 0h1m-0.2 0h1m-0.2 0.2h1m0 -0.4h1m-0.6 -0.2h1m-0.8 0.6h1m-0.2 -0.2h1m-0.2 0.4h1m-0.8 -0.6h1m0 0h1m-0.6 0.6h1m-0.8 0h1m0 -0.4h1m0.6 0.2h1m-0.8 -0.6h1m0 0.2h1m-0.8 -0.2h1m-0.6 0h1m-0.6 0h1m-1 0.2h1m-0.4 0.4h1m0.4 -0.2h1m-83.4 1.4h1m2 -0.8h1m0 0.8h1m0 -0.8h1m-1 0.2h1m-0.4 0.4h1m-0.8 0h1m0.6 0.2h1m0 -0.4h1m-1 0h1m-0.8 0h1m-1 -0.4h1m-0.4 0.6h1m-1 0h1m-0.2 -0.2h1m-0.8 0.4h1m-0.8 -0.2h1m-1 -0.4h1m-0.8 -0.2h1m-0.8 0.2h1m-0.8 0.2h1m-0.4 0.2h1m-0.8 -0.6h1m-1 0.4h1m-1 0.4h1m-1 -0.8h1m-0.4 0h1m-1 0.4h1m0.2 0.2h1m-0.8 0.2h1m-0.6 -0.2h1m0.2 0h1m-0.6 -0.6h1m-0.8 0.2h1m-0.4 0.4h1m-0.8 -0.6h1m-1 0.8h1m-0.6 -0.2h1m0.2 0.2h1m0.2 -0.4h1m5 -0.2h1m12.8 0.4h1m-0.8 0h1m1.8 -0.2h1m-1 -0.4h1m-0.8 0.6h1m-0.4 0h1m0.4 -0.2h1m0.4 -0.2h1m-0.8 0h1m-0.4 0h1m-0.2 0.2h1m-1 0h1m-0.8 0h1m-1 0.2h1m0 0.2h1m-0.4 -0.6h1m-0.8 -0.2h1m0 0.4h1m-0.2 0.4h1m-0.6 -0.6h1m-0.8 0.6h1m0.8 -0.2h1m0 -0.6h1m-0.6 0.8h1m0 0h1m-0.8 -0.2h1m-0.6 0.2h1m-0.8 0h1m-0.4 -0.2h1m-1 -0.4h1m-0.6 0.6h1m-1 0h1m-0.8 -0.4h1m-0.8 -0.2h1m-1 0.6h1m-0.8 -0.4h1m-1 -0.2h1m-0.4 0.2h1m-0.8 0.2h1m-0.6 0h1m-0.8 0h1m-0.8 -0.6h1m-0.8 0.2h1m-0.8 0.4h1m-0.8 0.2h1m-0.6 -0.4h1m-0.6 0.4h1m-0.8 -0.8h1m-0.8 0.2h1m-1 0.6h1m-0.4 -0.4h1m-0.6 0h1m-1 0h1m-0.8 0.4h1m-0.6 -0.2h1m-0.8 0h1m-0.6 -0.6h1m-1 0.4h1m-0.4 0.4h1m-0.6 -0.4h1m-1 0.4h1m-0.8 -0.6h1m-0.8 0.6h1m-1 -0.8h1m-0.8 0.4h1m-1 -0.2h1m-0.2 -0.2h1m-0.8 0.6h1m-0.8 0h1m-1 -0.2h1m-0.8 0.4h1m-0.8 -0.6h1m-0.6 0.6h1m-0.6 -0.4h1m-0.2 0.2h1m-0.8 -0.4h1m-1 0.6h1m-0.8 0h1m-1 0h1m-0.2 -0.6h1m-1 0.2h1m-0.4 -0.4h1m0.8 0.4h1m-0.6 0.4h1m-1 0h1m-0.8 -0.6h1m-0.8 0.6h1m-1 0h1m-0.6 0h1m-0.8 -0.2h1m0.6 -0.4h1m-0.8 0.4h1m-0.2 -0.6h1m0.4 0.8h1m-1 -0.4h1m-0.8 0.4h1m-0.8 -0.4h1m0 0h1m-1 0.4h1m0 -0.2h1m-0.8 -0.2h1m-0.4 -0.2h1m-0.4 0.2h1m-0.2 0.4h1m0.6 -0.6h1m0 0h1m-1 0.2h1m-0.8 -0.2h1m-86.6 0.8h1m0.4 0.6h1m3.4 0.2h1m-0.4 -0.8h1m-0.8 0.8h1m0.8 -0.6h1m-0.6 -0.2h1m-0.6 0.6h1m-0.8 0h1m0 -0.2h1m-0.6 0.2h1m-0.8 -0.6h1m-1 0.6h1m-1 0h1m-0.6 0h1m-1 -0.2h1m-0.8 0.4h1m-0.8 -0.6h1m-1 0.6h1m-0.4 0h1m-1 -0.2h1m-0.4 -0.6h1m-0.2 0.6h1m-0.8 -0.2h1m-1 0.4h1m-0.8 0h1m-0.6 -0.6h1m-0.8 0.2h1m-0.4 0.2h1m0.2 0.2h1m-0.8 -0.8h1m-0.8 0.8h1m0.6 -0.2h1m-0.2 -0.4h1m-0.8 0.6h1m-0.4 -0.2h1m-0.2 0h1m1.2 0h1m5 0h1m3 -0.4h1m0 0.6h1m-0.4 -0.4h1m-0.2 -0.4h1m-0.8 0h1m-1 0.2h1m-0.8 0.4h1m1.2 0h1m0 0h1m-1 -0.2h1m-0.6 0h1m1.8 0h1m-0.8 -0.2h1m-0.8 0.4h1m0 0.2h1m1 0h1m-0.6 -0.8h1m-0.6 0.4h1m-1 -0.2h1m-0.4 -0.2h1m-1 0.6h1m-0.6 -0.4h1m-0.8 -0.2h1m-0.6 0h1m-0.6 0.4h1m-1 0.2h1m-0.8 -0.4h1m-0.2 -0.2h1m-0.8 0.6h1m-1 -0.2h1m-0.8 -0.2h1m-1 0.6h1m-0.8 0h1m-1 -0.6h1m-1 0.4h1m-0.8 -0.2h1m-0.8 0.4h1m-1 0h1m0 0h1m-0.6 -0.8h1m-0.2 0h1m-1 0.8h1m-1 -0.4h1m-0.8 -0.2h1m-1 0.6h1m-0.6 0h1m-0.6 -0.6h1m-1 0h1m-0.6 0.4h1m-0.6 0.2h1m-0.6 -0.2h1m-0.8 -0.2h1m-1 0.4h1m-1 -0.2h1m-0.8 -0.4h1m-1 0h1m0 0.4h1m-0.8 -0.2h1m-1 -0.4h1m-0.6 0.6h1m-0.8 -0.2h1m-1 0.2h1m-0.2 -0.4h1m-0.6 0.2h1m-0.4 -0.2h1m-0.8 -0.2h1m-0.8 0.2h1m-0.6 -0.2h1m-1 0.8h1m-0.2 0h1m-0.4 -0.2h1m-1 0h1m-0.8 -0.4h1m-0.4 0h1m-0.8 -0.2h1m-1 0.8h1m-0.8 0h1m-1 -0.4h1m-0.6 -0.4h1m-1 0.4h1m-0.8 -0.4h1m-1 0.2h1m-0.4 -0.2h1m-0.6 0.8h1m-1 -0.4h1m-0.8 0.2h1m-1 0h1m-0.8 -0.4h1m-0.6 0.6h1m-0.6 -0.8h1m-0.8 0.2h1m-1 0.4h1m-0.8 -0.6h1m-1 0.6h1m-0.6 -0.4h1m-1 -0.2h1m-0.6 0.2h1m-1 0h1m-0.8 -0.2h1m-0.8 0.2h1m-0.8 0.4h1m-0.8 0.2h1m0 0h1m-1 -0.4h1m-0.8 0h1m-0.6 -0.4h1m-0.8 0.8h1m-1 -0.6h1m-0.4 0.6h1m-0.6 0h1m-0.6 -0.8h1m-1 0.4h1m-0.8 0h1m-0.8 0.4h1m-0.4 0h1m-0.2 -0.2h1m-0.8 -0.2h1m-1 0h1m-1 0.4h1m-0.8 -0.8h1m0.6 0h1m-0.8 0.2h1m-1 0.4h1m-0.6 0h1m-0.8 -0.6h1m-0.4 0.4h1m-0.8 -0.4h1m-0.8 0.8h1m-0.6 -0.6h1m-0.2 0.2h1m-0.2 0.2h1m0 -0.6h1m2.6 0.2h1m0 0.2h1m0.2 -0.2h1m-1 0.6h1m0.4 0h1m-90.2 1h1m2.6 0h1m0 -0.4h1m3.2 -0.4h1m-0.6 0.6h1m1.4 -0.2h1m0.2 -0.2h1m-0.6 0.4h1m-0.6 -0.6h1m-0.8 0.4h1m-0.6 0h1m-0.8 0.4h1m-1 -0.2h1m-0.8 -0.4h1m-0.4 0.2h1m-0.8 0.4h1m-0.8 0h1m-0.4 -0.6h1m-1 0.2h1m0.4 0.2h1m0 -0.4h1m0 0.4h1m-1 0h1m-0.8 -0.4h1m-0.6 0.6h1m0 -0.4h1m-0.2 0.4h1m-0.6 -0.4h1m0.2 0.2h1m-0.8 -0.6h1m9.6 0.8h1m8.2 0h1m-1 0h1m-0.4 -0.4h1m-0.8 -0.2h1m-0.8 0.2h1m-0.8 -0.4h1m-0.8 0.4h1m1 0h1m0 -0.2h1m0.2 0.6h1m-0.2 -0.2h1m-0.8 -0.6h1m0 0.4h1m-1 0.4h1m-1 -0.6h1m-0.8 0h1m0 0.2h1m-0.6 0.4h1m-0.8 0h1m-0.8 -0.4h1m-1 0.2h1m-0.2 -0.2h1m-0.2 0.2h1m-1 -0.6h1m-0.4 0h1m-1 0.8h1m-0.8 -0.6h1m-0.8 -0.2h1m-0.6 0.8h1m-0.8 0h1m-0.6 -0.6h1m-1 0h1m-0.8 0.2h1m-1 0.2h1m-0.4 -0.4h1m-0.8 -0.2h1m-0.8 0.4h1m-1 -0.4h1m-0.6 0h1m-0.4 0.2h1m-0.4 0.2h1m-0.8 0.4h1m-1 -0.6h1m-1 0.2h1m-0.6 0.4h1m-0.2 0h1m-1 -0.4h1m0.2 0.2h1m-0.8 -0.6h1m-0.6 0.8h1m-1 0h1m-1 -0.4h1m-0.8 0.2h1m-0.8 -0.2h1m-0.8 -0.4h1m-1 0.4h1m-0.8 0.2h1m-0.8 0h1m-1 -0.6h1m-0.8 0.8h1m-0.8 -0.6h1m-0.8 0.6h1m-1 -0.6h1m-0.8 0.4h1m-0.8 0.2h1m-0.8 -0.8h1m-1 0.6h1m-0.4 -0.2h1m-0.8 0h1m-1 -0.4h1m-1 0.2h1m-0.8 0.2h1m0 -0.4h1m-1 0.6h1m-0.8 -0.4h1m-0.8 0.2h1m-0.2 0h1m-1 0.4h1m-0.6 0h1m-0.6 0h1m0 -0.6h1m-0.6 0h1m-0.6 0.2h1m-0.8 0.2h1m-0.4 -0.2h1m-0.8 0.2h1m-1 0h1m-0.8 -0.2h1m-1 0.2h1m-0.4 -0.2h1m-0.4 0.4h1m-1 0h1m-1 -0.8h1m-0.6 0.6h1m-0.6 0h1m-0.8 0h1m-1 0.2h1m-0.8 -0.6h1m-0.4 0.2h1m2 -0.2h1m-0.6 0.2h1m-0.8 0.2h1m-0.8 0h1m-0.8 -0.6h1m-0.6 0.6h1m-1 -0.6h1m-0.6 0.6h1m-0.8 -0.6h1m-0.6 0.6h1m-1 -0.4h1m-0.6 0h1m0 0.2h1m-0.6 0.2h1m-0.4 0h1m-0.8 -0.6h1m-0.8 0.4h1m-1 -0.4h1m-0.8 0.8h1m-0.4 -0.4h1m-0.2 -0.2h1m-0.8 -0.2h1m0.4 0h1m-0.8 0.6h1m1 0h1m0.8 0.2h1m-1 -0.6h1m-1 0.2h1m-1 0.2h1m-0.2 0h1m-90 0.6h1m4.8 0.6h1m-1 -0.4h1m-0.8 -0.2h1m-0.8 0.4h1m-0.6 0h1m-1 -0.2h1m-0.8 -0.4h1m-1 0.2h1m-0.4 0.2h1m-0.8 0.2h1m-0.8 -0.4h1m-0.2 -0.2h1m-0.8 0h1m-0.6 0h1m-0.8 0.2h1m-0.4 0.4h1m0.4 0.2h1m-0.8 -0.6h1m-1 0h1m0 0h1m-1 0.2h1m-0.4 0h1m-0.8 0h1m-0.2 0.2h1m-0.8 0h1m-1 0.2h1m-0.8 -0.6h1m-0.8 -0.2h1m0.2 0.6h1m-0.8 0h1m-0.8 -0.2h1m-0.6 0.4h1m-0.2 -0.2h1m-1 -0.2h1m-1 -0.2h1m1 0.6h1m-1 -0.6h1m-0.8 0.6h1m0.2 -0.8h1m0.4 0.8h1m-0.8 -0.8h1m0.4 0.2h1m2.2 0.2h1m4.4 0h1m3.2 0h1m1.4 0.2h1m3.6 -0.6h1m-0.6 0.8h1m-0.6 -0.6h1m-0.6 0.6h1m0.8 -0.2h1m-0.6 -0.2h1m-0.2 0h1m-0.8 -0.2h1m-0.4 0.4h1m-0.6 -0.4h1m0 0.6h1m-0.8 -0.8h1m-0.8 0.2h1m-1 0.6h1m-0.6 -0.6h1m-0.8 0.2h1m-0.8 0h1m-0.6 0h1m-0.8 0.4h1m-1 0h1m-0.8 -0.6h1m-0.6 -0.2h1m-0.8 0.2h1m-1 -0.2h1m-1 0.6h1m-0.6 0h1m-0.4 -0.2h1m-0.8 -0.4h1m-0.8 0.6h1m-0.8 0h1m-1 0h1m-0.6 0.2h1m-0.8 -0.8h1m-0.8 0.6h1m-1 0.2h1m-0.6 -0.2h1m-0.8 -0.6h1m-1 0.2h1m-0.8 0.2h1m-0.4 0.4h1m-0.4 -0.4h1m-0.6 -0.4h1m-0.8 0.8h1m-0.8 0h1m-1 -0.6h1m-0.8 0.2h1m-1 0.4h1m-0.6 -0.2h1m-1 -0.2h1m-0.4 0h1m-1 -0.4h1m0 0.2h1m-1 0.4h1m-0.8 -0.6h1m-0.8 0.4h1m-1 -0.2h1m-1 0.2h1m-0.8 -0.4h1m-0.8 0h1m-1 0.8h1m-0.4 0h1m-0.6 0h1m-0.8 -0.4h1m-1 0h1m-0.8 0.2h1m-0.8 -0.6h1m-0.8 0.2h1m-1 0.4h1m-0.6 -0.4h1m-1 -0.2h1m-1 0.8h1m-0.6 -0.4h1m-1 -0.4h1m-0.8 0.2h1m-0.8 -0.2h1m-0.6 0.2h1m-0.8 -0.2h1m-0.8 0.8h1m-0.8 0h1m-0.8 -0.4h1m-0.8 0.2h1m-0.8 -0.2h1m-0.8 0.2h1m-1 0h1m-0.8 -0.6h1m-0.8 0h1m-1 0h1m-0.8 0.6h1m-0.8 -0.2h1m-0.6 -0.4h1m-0.4 0.8h1m-1 -0.6h1m-0.8 -0.2h1m-0.6 0.8h1m-0.8 -0.8h1m-0.8 0.4h1m-0.4 0h1m-0.8 0.2h1m-0.8 -0.6h1m-0.6 0h1m0 0.8h1m-0.6 0h1m-0.4 -0.8h1m-0.8 0.4h1m-0.8 0h1m-0.8 -0.2h1m-0.8 -0.2h1m-1 0.2h1m-0.6 0.2h1m-0.8 0h1m-0.8 -0.4h1m-0.8 0.8h1m-0.8 -0.8h1m-0.8 0.8h1m-0.6 -0.6h1m0 -0.2h1m-0.6 0.6h1m-0.4 -0.6h1m-0.4 0.4h1m-0.8 0.2h1m-0.6 -0.4h1m-0.2 0.6h1m1.4 -0.2h1m0 -0.4h1m0.2 0.6h1m2.8 -0.2h1m0.2 -0.2h1m-83.2 1.2h1m-0.4 -0.6h1m-0.4 0h1m-0.8 0.6h1m-0.6 -0.4h1m-1 0h1m0.2 -0.2h1m-0.8 0h1m-0.8 0h1m-0.2 0.4h1m-0.8 0.4h1m-1 -0.2h1m-0.8 -0.2h1m-0.4 -0.2h1m-1 0.6h1m0 -0.4h1m-0.6 -0.4h1m-0.8 0.2h1m-0.8 0.2h1m-0.8 0h1m-1 -0.4h1m-0.6 0.4h1m-0.6 -0.2h1m-0.4 0h1m0 0h1m-0.6 0h1m0.2 -0.2h1m-0.6 0.8h1m2.4 -0.8h1m12.2 0.4h1m3.4 -0.4h1m2 0.2h1m1.6 -0.2h1m-0.2 0.4h1m-1 -0.2h1m0.8 0h1m-0.6 0.2h1m0.4 0h1m-0.8 0.4h1m-1 -0.2h1m-0.2 -0.6h1m-1 0.8h1m-0.2 -0.4h1m-0.2 -0.4h1m-0.8 0h1m-0.2 0.8h1m-0.2 -0.4h1m0.2 -0.2h1m-0.2 0.4h1m-0.6 -0.4h1m-0.2 0.2h1m-0.2 0.2h1m-0.2 0h1m-0.2 0.2h1m-0.6 -0.8h1m-0.6 0.2h1m-1 0h1m-1 0.4h1m-0.6 0h1m-0.8 -0.6h1m-1 0.6h1m-0.8 -0.6h1m-0.6 0.8h1m-1 -0.2h1m-1 0h1m-1 0h1m-0.6 -0.4h1m-0.8 0h1m-1 0.6h1m-1 -0.2h1m-1 0h1m-0.4 -0.4h1m0 0h1m-0.8 0h1m-1 -0.2h1m-0.4 0h1m-0.4 0h1m-0.4 0.4h1m-0.6 -0.4h1m-1 0.6h1m-0.4 -0.6h1m-0.8 0.8h1m0 -0.4h1m-0.4 0.2h1m-0.8 -0.2h1m-0.8 -0.2h1m-1 0.2h1m-0.4 0h1m-0.8 0.2h1m-0.4 0.2h1m-1 -0.6h1m0.2 0.4h1m-0.4 -0.4h1m-1 0.2h1m-0.6 -0.2h1m-0.2 0.2h1m-0.8 0.4h1m-1 -0.4h1m-0.8 -0.2h1m-0.8 -0.2h1m-0.6 0.4h1m0.4 0.4h1m-1 0h1m-0.8 -0.4h1m-0.4 -0.2h1m-0.2 0h1m0 0.6h1m-1 -0.8h1m-0.6 0.4h1m-0.4 -0.4h1m-0.4 0.4h1m1 0.2h1m-0.2 -0.6h1m-0.8 0.8h1m0.6 -0.8h1m0.8 0.2h1m-83.4 1h1m-0.4 0.2h1m-0.6 -0.4h1m4.6 0.6h1m0.2 -0.4h1m-0.8 0.2h1m0.4 0.2h1m0.2 -0.4h1m1 -0.2h1m5.6 0.2h1m11.6 0h1m-0.8 0.4h1m-1 0h1m2 0.2h1m1.2 -0.6h1m1.2 0.2h1m1.2 0h1m0.8 -0.2h1m-0.8 0.4h1m1 -0.4h1m-1 0h1m0.2 0.4h1m1 -0.4h1m0.6 0.2h1m-1 0.4h1m-1 -0.6h1m0.2 0.4h1m-1 -0.6h1m0.6 0.2h1m-1 0h1m0.6 0.6h1m0 -0.8h1m-0.4 0.6h1m-0.8 -0.6h1m-0.6 0.6h1m-1 -0.6h1m-0.4 0.6h1m-0.8 -0.2h1m-0.6 0.2h1m-0.2 -0.6h1m-0.8 0.4h1m-1 -0.4h1m-1 0h1m-0.4 0.8h1m-1 -0.4h1m0 0h1m-0.4 -0.4h1m-0.8 0.2h1m0 0.6h1m-0.8 -0.8h1m-0.6 0.8h1m-0.8 -0.2h1m-0.4 -0.6h1m-0.4 0h1m-0.8 0.2h1m-0.4 0.6h1m-1 -0.6h1m-0.4 -0.2h1m0 0h1m-1 0.6h1m-0.2 -0.4h1m-0.2 0.4h1m-1 0h1m0.6 -0.6h1m-0.8 0.6h1m-0.2 0.2h1m-1 -0.6h1m0.2 0.2h1m-0.2 -0.2h1m-0.6 0.2h1m0.8 -0.4h1m-0.4 0h1m1 0.8h1m-0.8 -0.4h1m0.8 -0.2h1m1 0.4h1m-85.4 0.4h1m2.4 0h1m-0.8 0.2h1m9.4 0.4h1m-0.8 0.2h1m-0.8 -0.6h1m1.6 -0.2h1m0 0h1m13 0.2h1m3.6 0.2h1m5.2 -0.2h1m0.2 0h1m2.2 0.2h1m0 0h1m-0.4 0.4h1m3 -0.6h1m0.6 0h1m2.4 0h1m-0.4 0.2h1m-0.2 0.2h1m-1 -0.2h1m-0.6 0.4h1m0.2 -0.4h1m0 -0.4h1m0 0.2h1m0.6 0.4h1m-0.6 -0.6h1m-0.8 0.8h1m-0.8 -0.4h1m-0.8 -0.4h1m-0.4 0.2h1m0 0h1m-1 0h1m-0.4 0h1m2.4 0.2h1m-0.8 0.2h1m-0.8 -0.6h1m7 0.4h1m-73.8 0.8h1m1.2 0.4h1m1.4 -0.2h1m2.4 0.4h1m2.4 -0.4h1m6.2 -0.4h1m18.6 0.6h1m2.8 0h1m-0.6 -0.2h1m-0.2 -0.4h1m0.2 0h1m2.6 0.2h1m2.8 0.4h1m1.2 0.2h1m-0.4 -0.4h1m2.2 0.2h1m1 -0.2h1m-0.2 0.4h1m-0.8 -0.6h1m1.2 0h1m1.8 0h1m-1 0.6h1m-0.6 -0.4h1m1.4 -0.2h1m6 0.6h1m1 -0.8h1m-70.2 1h1m23.8 0h1m7 0.4h1m2 0.2h1m8.2 0h1m1.8 -0.2h1m1.8 0h1m9.6 -0.2h1m-25.6 0.8h1m0.2 0h1m8.2 0h1m15.2 0.4h1m-66.2 0.8h1m-0.2 0.6h1m-1 -0.6h1m41.6 0.8h1" stroke="#262626" stroke-opacity="1.0" stroke-width="1" fill="none"/>
<path d="M334.4 741.4h1m2.8 -0.2h1m4 0h1m0.6 -0.6h1m-16.4 1.8h1m7.2 -0.4h1m-0.6 0.4h1m-0.4 0h1m1.4 -0.6h1m-23.2 1.4h1m4.6 -0.6h1m11.2 0h1m-14.4 1.8h1m2.2 -0.2h1m2 -0.2h1m-0.4 0.2h1m-0.8 -0.2h1m-0.8 0.4h1m0.4 -0.2h1m-0.6 -0.2h1m-0.8 0h1m-0.2 0h1m-0.6 0.4h1m-0.6 -0.4h1m-0.2 0.2h1m-0.4 -0.4h1m0 0h1m-0.4 0.2h1m-1 0.4h1m6.8 -0.2h1m-22.4 1.2h1m-0.6 -0.2h1m2.4 0.2h1m-0.6 -0.2h1m-0.4 0h1m0.4 0.2h1m-1 0h1m1.6 0h1m-1 0h1m-0.4 -0.2h1m-0.6 -0.4h1m-0.8 0.4h1m-0.8 -0.4h1m-1 0.2h1m0.8 0.4h1m-0.8 -0.4h1m-0.8 -0.2h1m-1 0.6h1m-0.4 0h1m0.2 -0.4h1m-0.8 0h1m0.6 0.4h1m-0.6 -0.2h1m0 0h1m0.4 0.2h1m-0.4 0h1m-0.6 -0.4h1m1 -0.4h1m1.2 0.4h1m-0.8 -0.2h1m-33.2 1.6h1m3.4 -0.6h1m1.2 0.6h1m-0.4 -0.2h1m1.6 -0.6h1m-1 0.8h1m1.8 -0.6h1m-1 0h1m0.2 0.6h1m1.2 -0.2h1m-0.8 -0.4h1m-1 0.2h1m-0.6 -0.4h1m-1 0.6h1m-0.8 -0.6h1m0 0.4h1m-0.8 -0.4h1m-1 0.4h1m0 0.2h1m-0.8 -0.4h1m-0.8 0.2h1m-1 0.4h1m0 -0.4h1m-1 0.2h1m0.4 -0.2h1m-0.8 0.2h1m-0.8 -0.4h1m-0.8 0.2h1m-0.8 0h1m-0.8 0.4h1m-0.8 0h1m-0.8 -0.6h1m-0.2 0h1m-0.8 0.6h1m0 -0.4h1m-0.8 0.4h1m-0.8 -0.4h1m-1 -0.4h1m-0.4 0.6h1m-1 -0.2h1m2 0.2h1m-0.8 -0.2h1m0 0.4h1m-0.4 -0.8h1m0.4 0.2h1m-33.2 0.8h1m0.2 0h1m3.6 0.2h1m-0.2 0.6h1m0.8 -0.4h1m-1 0h1m1.8 -0.4h1m-0.8 0.8h1m0 -0.4h1m-1 0.4h1m0.4 -0.2h1m0.2 -0.4h1m-1 0h1m-1 0h1m-0.8 0h1m-0.8 -0.2h1m-1 0.6h1m-0.8 -0.6h1m-0.6 0.4h1m-0.4 0.2h1m-1 0h1m-0.8 0h1m-0.8 -0.6h1m-0.8 0h1m-0.8 0.6h1m-1 -0.6h1m-0.6 0.6h1m-1 -0.6h1m0.2 0h1m-0.2 0.8h1m-0.8 -0.4h1m-0.8 0.4h1m-0.8 0h1m-1 -0.4h1m-0.8 -0.4h1m-0.8 0.4h1m-0.8 0h1m-1 0.2h1m-0.6 -0.6h1m-1 0.2h1m-0.8 0h1m-1 0h1m-1 0.2h1m-0.8 -0.4h1m-1 0.8h1m-0.4 -0.6h1m-0.6 0.2h1m-1 -0.4h1m-0.6 0.4h1m-1 -0.4h1m-0.8 0h1m0.4 0.6h1m-1 0h1m-1 -0.2h1m-0.8 0.2h1m0.2 -0.6h1m-1 0.8h1m-0.6 -0.2h1m-0.8 0.2h1m-1 -0.8h1m0 0.8h1m-0.6 -0.2h1m-0.4 -0.6h1m-0.8 0h1m-0.6 0.4h1m-0.4 0h1m-0.6 0.2h1m2.2 -0.6h1m-35 1h1m4 0.8h1m0.4 -0.6h1m0.8 0.6h1m0.6 -0.8h1m-0.8 0h1m0 0.6h1m-0.2 0h1m-1 -0.6h1m-0.6 0h1m-0.6 0.2h1m0 -0.2h1m-0.2 0.4h1m-0.4 0.2h1m-1 -0.6h1m-0.4 0h1m-0.2 0.4h1m-0.8 -0.4h1m-1 0.8h1m-0.6 0h1m-0.8 -0.4h1m-1 0.4h1m-0.6 -0.6h1m-0.6 0h1m-0.8 0h1m-1 0.4h1m-1 -0.6h1m-0.2 0.4h1m-0.8 0.4h1m-0.6 -0.4h1m-1 -0.4h1m-0.4 0.6h1m-1 -0.6h1m-0.8 0.4h1m-1 -0.4h1m-0.8 0.8h1m-0.6 -0.8h1m-0.8 0.8h1m-1 -0.6h1m-0.8 0h1m-0.4 0.4h1m-0.8 0h1m-1 -0.4h1m-0.8 0.6h1m-0.8 -0.2h1m-1 -0.6h1m-1 0.2h1m-0.8 0h1m-0.8 0h1m-0.2 -0.2h1m-1 0.6h1m-1 -0.2h1m-0.8 -0.2h1m-0.6 0h1m-0.4 0h1m-0.8 0.6h1m0 -0.4h1m-0.8 0.2h1m-1 0.2h1m-0.2 -0.8h1m-0.2 0.4h1m-0.6 -0.4h1m-0.8 0.2h1m-1 -0.2h1m-0.2 0.8h1m-0.2 -0.4h1m-0.4 0h1m1.6 0.4h1m0.4 0h1m-0.6 0h1m0.6 -0.4h1m1.8 0h1m-41.4 0.6h1m6.6 0.6h1m0.4 -0.2h1m-0.8 0.2h1m-0.6 -0.4h1m-1 0.2h1m-0.8 0h1m-0.4 0.2h1m-0.6 -0.4h1m-1 0.2h1m-0.8 -0.2h1m-1 0.6h1m-1 -0.6h1m-0.8 -0.2h1m-0.4 0.8h1m0 -0.4h1m-0.8 0.4h1m0 -0.6h1m-0.6 0.2h1m-1 -0.4h1m-0.8 0.2h1m-1 0.6h1m-0.8 -0.2h1m-0.8 -0.2h1m-1 -0.4h1m-0.6 0h1m-0.6 0.2h1m-0.8 -0.2h1m-0.8 0.8h1m-1 0h1m-0.4 -0.6h1m-1 0h1m-0.6 0h1m-1 0h1m-0.8 0.2h1m-1 -0.2h1m-0.8 0.2h1m-1 -0.4h1m-0.6 0.4h1m-1 -0.4h1m-1 0h1m-0.8 0.8h1m-0.8 0h1m0.2 -0.2h1m-1 0h1m-0.2 -0.6h1m-0.8 0.6h1m-0.8 0.2h1m-0.6 -0.6h1m-0.8 0.6h1m-0.6 -0.6h1m-0.8 0.4h1m-1 0.2h1m-0.8 -0.2h1m-1 0.2h1m-0.8 -0.2h1m-0.6 -0.2h1m-1 0.2h1m-0.4 0h1m-0.8 0h1m-0.2 0h1m-1 -0.6h1m-0.8 0.2h1m-0.8 0h1m-0.2 0h1m-0.8 0.2h1m0 0.4h1m-0.8 -0.6h1m0.2 0.6h1m-0.8 -0.6h1m-0.8 0.6h1m-0.6 -0.4h1m-0.6 0.4h1m0 -0.2h1m-0.4 -0.4h1m-0.2 0.4h1m2 -0.4h1m-32.2 1.4h1m2 -0.4h1m0.4 -0.2h1m2 0h1m1 0.4h1m-0.8 0h1m-1 0h1m0.2 -0.2h1m-1 0.4h1m-0.2 -0.6h1m-0.2 0h1m-0.4 0.6h1m-1 -0.2h1m-0.6 -0.4h1m-0.4 0h1m-1 0.2h1m0.2 0.4h1m-0.4 0.2h1m-0.8 0h1m-1 -0.8h1m-0.6 0.6h1m0.4 -0.4h1m-0.8 -0.2h1m-1 0.4h1m-0.2 0h1m-0.2 0.4h1m-0.8 -0.4h1m-0.4 -0.4h1m-0.2 0.2h1m-0.2 0.4h1m0.4 0h1m-1 -0.4h1m-0.8 0.4h1m-0.6 -0.4h1m-0.6 0h1m-0.4 -0.2h1m5.8 0.8h1m-29.8 0.8h1m-0.6 -0.2h1m3.2 0.4h1m0.2 0h1m-0.8 -0.4h1m0 -0.4h1m-0.2 0.4h1m-1 -0.4h1m1.2 0.2h1m-0.4 0.2h1m-1 -0.2h1m3.4 0h1m-0.8 0.2h1m-0.6 -0.4h1m-0.6 0.2h1m-0.4 0.2h1m-0.6 -0.2h1m-0.8 0.2h1m-0.8 0h1m-0.4 0h1m-0.8 0h1m-0.6 -0.2h1m-0.2 0h1m-0.6 0h1m0.2 -0.2h1m-1 0.4h1m0.2 0h1m2 0h1m-0.6 -0.4h1m3.2 0.4h1m-35 0.6h1m6.6 0h1m0.4 0.4h1m0.8 0h1m0.6 -0.4h1m-0.2 0.2h1m-0.8 0h1m0.2 0.6h1m2.8 -0.2h1m1.8 -0.4h1m-1 0.2h1m0 -0.2h1m-0.8 -0.2h1m-0.4 0h1m-1 0.6h1m0 0.2h1m-0.8 -0.6h1m1.8 0h1m-21.8 1h1m2.6 0h1m-0.4 0h1m0.6 0.2h1m5.2 -0.4h1m1 0h1m4 0.6h1m4.6 -0.4h1m-0.6 -0.2h1m-12.6 1h1m0.4 0h1m-0.6 1h1m-0.6 1h1" stroke="#1a1a1a" stroke-opacity="1.0" stroke-width="1" fill="none"/>
<path d="M295.6 740.2h1m6.6 0.6h1m-5 1.6h1m16.6 -0.2h1m-19.2 1.2h1m13.2 0h1m-20.6 1h1m7 0h1m0 -0.6h1m4 0h1m-0.4 0.4h1m-10.6 1h1m13.2 -0.2h1m0.4 0.4h1m37.8 -0.4h1m-77.8 1h1m7.4 0h1m15.4 -0.2h1m0.8 -0.2h1m-0.6 0.6h1m0.6 -0.6h1m4.8 0.2h1m-0.4 0h1m-1 0.4h1m14.8 0.2h1m4.8 -0.4h1m7.8 -0.4h1m1.2 0.6h1m-47.6 0.4h1m0.2 0.8h1m0.2 0h1m0.8 0h1m-0.4 0h1m-0.8 -0.2h1m0.6 0.2h1m0.6 -0.2h1m2.2 0.2h1m0.8 -0.6h1m5.4 0h1m8 0.4h1m0 0h1m-30 1h1m6.6 0.2h1m5.2 -0.8h1m0.4 0.6h1m4.8 0.2h1m0.8 -0.8h1m19.4 0.4h1m1.6 0h1m-69 1h1m17.6 -0.2h1m1.6 0.6h1m-0.8 -0.8h1m-0.6 0.6h1m1.4 -0.2h1m5 0.2h1m-1 0.2h1m0.8 -0.2h1m2 -0.2h1m8.4 0.2h1m3 -0.6h1m1.2 0h1m18.6 0.6h1m-79.8 0.6h1m0.6 0h1m10.6 -0.2h1m0 0.2h1m9.2 0.4h1m2.8 -0.4h1m7 0h1m3 0h1m-0.8 0.2h1m0.6 0h1m1 -0.4h1m0.8 0.8h1m10.8 -0.4h1m1.6 -0.2h1m2.8 -0.2h1m14.8 0.6h1m3.4 -0.2h1m-70.6 0.6h1m6 0.8h1m-0.4 -0.6h1m4.6 -0.2h1m1.2 0.6h1m0.2 0h1m8.4 0h1m0 0.2h1m2 -0.4h1m-0.8 0.4h1m-0.8 -0.2h1m3.6 -0.2h1m0 -0.4h1m26.6 0.2h1m-75.6 0.8h1m12.2 0.4h1m1.8 -0.2h1m4.8 -0.2h1m-1 0.2h1m0 0h1m7.4 0h1m0.6 0.4h1m-0.8 -0.6h1m-0.2 0h1m0.8 0.2h1m0.8 0.6h1m0.2 -0.4h1m1.2 0h1m0 -0.4h1m0.2 0.2h1m-0.8 0.6h1m0.8 -0.2h1m-0.8 0h1m4.2 -0.6h1m0.2 0.8h1m1.8 -0.8h1m2.2 0.6h1m0 0h1m15 -0.2h1m-79.2 0.6h1m4.6 0.2h1m2.8 0.6h1m3 0h1m2.2 -0.2h1m0.2 -0.2h1m-0.6 0.4h1m3 -0.8h1m1.8 0.6h1m-0.2 -0.2h1m-0.8 -0.2h1m6.6 0h1m6.4 0.4h1m-0.8 -0.6h1m1.2 0.2h1m0.6 0.4h1m0.2 0h1m3.4 0.2h1m5.6 0h1m1.8 0h1m2 -0.2h1m-0.2 -0.6h1m0.6 0h1m5.8 0.6h1m7 0.2h1m1.4 -0.4h1m1.2 -0.4h1m8.2 0.6h1m-87.4 0.6h1m1 0.2h1m3.6 0.2h1m0.2 -0.6h1m5 0h1m4.8 0h1m-1 0h1m4.6 0.2h1m1.4 0.6h1m0.8 -0.2h1m-0.6 -0.2h1m1.4 -0.4h1m2.2 0.2h1m-0.8 0.4h1m2 0h1m-0.8 -0.4h1m1.8 -0.2h1m5 0.8h1m0.4 -0.4h1m0.6 0h1m0.8 -0.4h1m6.4 0.4h1m1.2 0.2h1m1.6 -0.4h1m6 0.2h1m-0.2 -0.2h1m5.2 0.6h1m-75 0.8h1m7.6 -0.4h1m-1 -0.2h1m0.4 0h1m6.8 0.6h1m0.4 -0.2h1m-0.4 -0.4h1m3.4 0.6h1m1 -0.2h1m1.6 -0.2h1m-0.8 0.4h1m9.8 0h1m-0.4 -0.6h1m-0.4 0h1m1.4 0h1m-0.6 0.4h1m3 -0.4h1m0.4 0.2h1m3.6 0h1m0 0h1m2.6 -0.2h1m6.2 0.2h1m-75.2 1.6h1m38.2 -0.6h1m9.4 0.6h1m8.6 -0.4h1m1.6 0h1m-40.2 1.2h1m16.4 -0.6h1m34.4 0h1" stroke="#404040" stroke-opacity="1.0" stroke-width="1" fill="none"/>
<path d="M298.6 715.0h1m12.8 1h1m23.6 0.6h1m-7.8 1.6h1m-10.6 0.6h1m13.6 0.4h1m-34 0.8h1m30.4 0.2h1m13.4 -0.2h1m-46.6 1.4h1m7.8 -0.2h1m10.6 0.2h1m-21.8 0.8h1m17.6 -0.4h1m-0.4 0.2h1m11.8 0h1m24.6 0.4h1m-41.4 0.2h1m-29.6 1.4h1m24.6 0h1m29.4 0.4h1m-43.6 1h1m43 -0.8h1m-48.6 1.8h1m4.2 -0.6h1m-26.4 1.4h1m49.4 -0.4h1m19.2 0.6h1m-50.4 0.6h1m26.2 0.4h1m6.6 -0.6h1m6.8 0.6h1m-28.6 0.4h1m15 -0.2h1m-41.4 1.2h1m49.6 0h1m14.6 0h1m-68.6 0.8h1m0.4 0.2h1m14.4 0.2h1m-14.4 0.8h1m12.8 -0.2h1m45 0.8h1m-32.8 1h1m-0.4 -0.4h1m3 -0.2h1m-5.8 1h1m0.4 -0.2h1m31.8 0.4h1m-34.2 1h1m5 0.4h1m16.2 -0.2h1m-4.6 1.2h1m-18 1.2h1m16.6 0.4h1m12 -0.4h1" stroke="#8a8a8a" stroke-opacity="1.0" stroke-width="1" fill="none"/>
<text x="264.50" y="768.90" font-size="4.8" text-anchor="middle" fill="#6e6e6e">10<tspan font-size="3.36" dy="-1.92">0</tspan></text>
<text x="289.00" y="768.90" font-size="4.8" text-anchor="middle" fill="#6e6e6e">10<tspan font-size="3.36" dy="-1.92">1</tspan></text>
<text x="313.50" y="768.90" font-size="4.8" text-anchor="middle" fill="#6e6e6e">10<tspan font-size="3.36" dy="-1.92">2</tspan></text>
<text x="338.00" y="768.90" font-size="4.8" text-anchor="middle" fill="#6e6e6e">10<tspan font-size="3.36" dy="-1.92">3</tspan></text>
<text x="362.50" y="768.90" font-size="4.8" text-anchor="middle" fill="#6e6e6e">10<tspan font-size="3.36" dy="-1.92">4</tspan></text>
<text x="258.20" y="759.50" font-size="4.8" text-anchor="middle" fill="#6e6e6e" transform="rotate(-90 258.20 759.50)">10<tspan font-size="3.36" dy="-1.92">0</tspan></text>
<text x="258.20" y="737.88" font-size="4.8" text-anchor="middle" fill="#6e6e6e" transform="rotate(-90 258.20 737.88)">10<tspan font-size="3.36" dy="-1.92">1</tspan></text>
<text x="258.20" y="716.25" font-size="4.8" text-anchor="middle" fill="#6e6e6e" transform="rotate(-90 258.20 716.25)">10<tspan font-size="3.36" dy="-1.92">2</tspan></text>
<text x="258.20" y="694.62" font-size="4.8" text-anchor="middle" fill="#6e6e6e" transform="rotate(-90 258.20 694.62)">10<tspan font-size="3.36" dy="-1.92">3</tspan></text>
<text x="258.20" y="673.00" font-size="4.8" text-anchor="middle" fill="#6e6e6e" transform="rotate(-90 258.20 673.00)">10<tspan font-size="3.36" dy="-1.92">4</tspan></text>
<text x="309.9" y="577.0" font-size="12" font-weight="bold" fill="#141414" stroke="#141414" stroke-width="0.22" xml:space="preserve">1.4%  ±  0.21%</text>
<text x="309.8" y="681.0" font-size="12" font-weight="bold" fill="#141414" stroke="#141414" stroke-width="0.22" xml:space="preserve">1.9%  ±  0.01%</text>
<text x="417.20" y="622.60" font-size="12.4" font-weight="bold" text-anchor="start" fill="#141414" stroke="#141414" stroke-width="0.22">Renilla</text>
<text x="417.20" y="636.20" font-size="12.4" font-weight="bold" text-anchor="start" fill="#141414" stroke="#141414" stroke-width="0.22">RNAi</text>
<text x="417.40" y="721.50" font-size="12.4" font-weight="bold" text-anchor="start" fill="#141414" stroke="#141414" stroke-width="0.22">Stat5</text>
<text x="417.20" y="735.10" font-size="12.4" font-weight="bold" text-anchor="start" fill="#141414" stroke="#141414" stroke-width="0.22">RNAi</text>
<text x="9.50" y="661.60" font-size="12.4" font-weight="bold" text-anchor="middle" fill="#141414" transform="rotate(-90 9.50 661.60)" stroke="#141414" stroke-width="0.22">Annexin V-APC</text>
<line x1="22.30" y1="577.00" x2="22.30" y2="759.20" stroke="#a8a8a8" stroke-width="1.3"/>
<path d="M22.2 569.3 L17.9 578.7 L26.5 578.7 Z" fill="#111"/>
<line x1="39.40" y1="775.20" x2="356.00" y2="775.20" stroke="#a8a8a8" stroke-width="1.3"/>
<path d="M364.4 775.2 L353.8 770.9 L353.8 779.5 Z" fill="#111"/>
<text x="165.80" y="788.00" font-size="12" font-weight="bold" text-anchor="start" fill="#141414" stroke="#141414" stroke-width="0.22">GFP/YFP</text>
<text x="0.00" y="816.40" font-size="25.5" font-weight="bold" text-anchor="start" fill="#141414" stroke="#141414" stroke-width="0.6">D</text>
<text x="69.50" y="813.80" font-size="12.5" font-weight="bold" text-anchor="start" fill="#141414" stroke="#141414" stroke-width="0.22">Day 0</text>
<text x="208.80" y="813.80" font-size="12.5" font-weight="bold" text-anchor="start" fill="#141414" stroke="#141414" stroke-width="0.22">Day 3</text>
<text x="335.80" y="813.80" font-size="12.5" font-weight="bold" text-anchor="start" fill="#141414" stroke="#141414" stroke-width="0.22">Day 7</text>
<path d="M27.60 827.60V918.40H146.00" stroke="#6a6a6a" stroke-width="0.8" fill="none"/>
<path d="M25.00 918.40h3.6M26.50 915.78h2.2M26.50 913.16h2.2M26.50 910.54h2.2M26.50 907.92h2.2M25.00 905.30h3.6M26.50 902.68h2.2M26.50 900.06h2.2M26.50 897.44h2.2M26.50 894.82h2.2M25.00 892.20h3.6M26.50 889.58h2.2M26.50 886.96h2.2M26.50 884.34h2.2M26.50 881.72h2.2M25.00 879.10h3.6M26.50 876.48h2.2M26.50 873.86h2.2M26.50 871.24h2.2M26.50 868.62h2.2M25.00 866.00h3.6M26.50 863.38h2.2M26.50 860.76h2.2M26.50 858.14h2.2M26.50 855.52h2.2M25.00 852.90h3.6M26.50 850.28h2.2M26.50 847.66h2.2M26.50 845.04h2.2M26.50 842.42h2.2M25.00 839.80h3.6M26.50 837.18h2.2M26.50 834.56h2.2M26.50 831.94h2.2M26.50 829.32h2.2M28.00 917.40v3.2M53.75 917.40v3.2M79.50 917.40v3.2M106.25 917.40v3.2M132.50 917.40v3.2M28.00 917.30v2.2M31.22 917.30v2.2M34.44 917.30v2.2M37.66 917.30v2.2M40.88 917.30v2.2M44.09 917.30v2.2M47.31 917.30v2.2M50.53 917.30v2.2M53.75 917.30v2.2M56.97 917.30v2.2M60.19 917.30v2.2M63.41 917.30v2.2M66.62 917.30v2.2M69.84 917.30v2.2M73.06 917.30v2.2M76.28 917.30v2.2M79.50 917.30v2.2M82.72 917.30v2.2M85.94 917.30v2.2M89.16 917.30v2.2M92.38 917.30v2.2M95.59 917.30v2.2M98.81 917.30v2.2M102.03 917.30v2.2M105.25 917.30v2.2M108.47 917.30v2.2M111.69 917.30v2.2M114.91 917.30v2.2M118.12 917.30v2.2M121.34 917.30v2.2M124.56 917.30v2.2M127.78 917.30v2.2M131.00 917.30v2.2M134.22 917.30v2.2M137.44 917.30v2.2M140.66 917.30v2.2M143.88 917.30v2.2" stroke="#6a6a6a" stroke-width="0.55" fill="none"/>
<text x="28.00" y="924.60" font-size="3.8" text-anchor="middle" fill="#8a8a8a">0</text>
<text x="53.75" y="924.60" font-size="3.8" text-anchor="middle" fill="#8a8a8a">40</text>
<text x="79.50" y="924.60" font-size="3.8" text-anchor="middle" fill="#8a8a8a">80</text>
<text x="106.25" y="924.60" font-size="3.8" text-anchor="middle" fill="#8a8a8a">120</text>
<text x="132.50" y="924.60" font-size="3.8" text-anchor="middle" fill="#8a8a8a">160</text>
<text x="86.80" y="927.60" font-size="3.6" text-anchor="middle" fill="#8a8a8a">Channels (Hoechst-A)</text>
<text x="24.60" y="905.30" font-size="3.6" text-anchor="middle" fill="#8a8a8a" transform="rotate(-90 24.60 905.30)">100</text>
<text x="24.60" y="892.20" font-size="3.6" text-anchor="middle" fill="#8a8a8a" transform="rotate(-90 24.60 892.20)">200</text>
<text x="24.60" y="879.10" font-size="3.6" text-anchor="middle" fill="#8a8a8a" transform="rotate(-90 24.60 879.10)">300</text>
<text x="24.60" y="866.00" font-size="3.6" text-anchor="middle" fill="#8a8a8a" transform="rotate(-90 24.60 866.00)">400</text>
<text x="24.60" y="852.90" font-size="3.6" text-anchor="middle" fill="#8a8a8a" transform="rotate(-90 24.60 852.90)">500</text>
<text x="24.60" y="839.80" font-size="3.6" text-anchor="middle" fill="#8a8a8a" transform="rotate(-90 24.60 839.80)">600</text>
<text x="20.80" y="873.00" font-size="3.6" text-anchor="middle" fill="#7a7a7a" transform="rotate(-90 20.80 873.00)">Number</text>
<clipPath id="h1"><path d="M88.30 918.40L88.30 916.20L142.30 916.20L145.50 918.40Z"/></clipPath>
<path d="M88.30 918.40L88.30 916.20L142.30 916.20L145.50 918.40Z" fill="#f4f4f4" stroke="#777" stroke-width="0.6"/>
<path d="M86.10 915.70l2.56 3.20M93.10 915.70l2.56 3.20M100.10 915.70l2.56 3.20M107.10 915.70l2.56 3.20M114.10 915.70l2.56 3.20M121.10 915.70l2.56 3.20M128.10 915.70l2.56 3.20M135.10 915.70l2.56 3.20M142.10 915.70l2.56 3.20" stroke="#333" stroke-width="0.95" fill="none" clip-path="url(#h1)"/>
<path d="M88.30 905.40L91.00 910.00L95.00 912.30L100.00 913.50L105.00 912.50L110.00 913.80L114.00 913.00L117.70 912.50L121.00 910.50L125.70 906.20L128.00 909.50L130.80 917.80L135.00 918.40" stroke="#7c7c7c" stroke-width="0.7" fill="none" stroke-linejoin="round"/>
<path d="M78.20 918.40Q79.40 917.40 79.70 914.40L80.90 890.00L83.90 827.40L86.20 890.00L88.00 914.40Q88.30 917.40 89.50 918.40Z" fill="#555" stroke="#707070" stroke-width="0.4"/>
<path d="M166.00 827.60V918.40H283.30" stroke="#6a6a6a" stroke-width="0.8" fill="none"/>
<path d="M163.40 918.40h3.6M164.90 915.78h2.2M164.90 913.16h2.2M164.90 910.54h2.2M164.90 907.92h2.2M163.40 905.30h3.6M164.90 902.68h2.2M164.90 900.06h2.2M164.90 897.44h2.2M164.90 894.82h2.2M163.40 892.20h3.6M164.90 889.58h2.2M164.90 886.96h2.2M164.90 884.34h2.2M164.90 881.72h2.2M163.40 879.10h3.6M164.90 876.48h2.2M164.90 873.86h2.2M164.90 871.24h2.2M164.90 868.62h2.2M163.40 866.00h3.6M164.90 863.38h2.2M164.90 860.76h2.2M164.90 858.14h2.2M164.90 855.52h2.2M163.40 852.90h3.6M164.90 850.28h2.2M164.90 847.66h2.2M164.90 845.04h2.2M164.90 842.42h2.2M163.40 839.80h3.6M164.90 837.18h2.2M164.90 834.56h2.2M164.90 831.94h2.2M164.90 829.32h2.2M166.50 917.40v3.2M189.60 917.40v3.2M212.00 917.40v3.2M236.60 917.40v3.2M259.70 917.40v3.2M282.80 917.40v3.2M166.50 917.30v2.2M169.39 917.30v2.2M172.27 917.30v2.2M175.16 917.30v2.2M178.05 917.30v2.2M180.94 917.30v2.2M183.82 917.30v2.2M186.71 917.30v2.2M189.60 917.30v2.2M192.49 917.30v2.2M195.37 917.30v2.2M198.26 917.30v2.2M201.15 917.30v2.2M204.04 917.30v2.2M206.92 917.30v2.2M209.81 917.30v2.2M212.70 917.30v2.2M215.59 917.30v2.2M218.47 917.30v2.2M221.36 917.30v2.2M224.25 917.30v2.2M227.14 917.30v2.2M230.02 917.30v2.2M232.91 917.30v2.2M235.80 917.30v2.2M238.69 917.30v2.2M241.57 917.30v2.2M244.46 917.30v2.2M247.35 917.30v2.2M250.24 917.30v2.2M253.12 917.30v2.2M256.01 917.30v2.2M258.90 917.30v2.2M261.79 917.30v2.2M264.67 917.30v2.2M267.56 917.30v2.2M270.45 917.30v2.2M273.34 917.30v2.2M276.22 917.30v2.2M279.11 917.30v2.2M282.00 917.30v2.2" stroke="#6a6a6a" stroke-width="0.55" fill="none"/>
<text x="166.50" y="924.60" font-size="3.8" text-anchor="middle" fill="#8a8a8a">0</text>
<text x="189.60" y="924.60" font-size="3.8" text-anchor="middle" fill="#8a8a8a">40</text>
<text x="212.00" y="924.60" font-size="3.8" text-anchor="middle" fill="#8a8a8a">80</text>
<text x="236.60" y="924.60" font-size="3.8" text-anchor="middle" fill="#8a8a8a">120</text>
<text x="259.70" y="924.60" font-size="3.8" text-anchor="middle" fill="#8a8a8a">160</text>
<text x="282.80" y="924.60" font-size="3.8" text-anchor="middle" fill="#8a8a8a">200</text>
<text x="224.65" y="927.60" font-size="3.6" text-anchor="middle" fill="#8a8a8a">Channels (Hoechst-A)</text>
<text x="163.00" y="905.30" font-size="3.6" text-anchor="middle" fill="#8a8a8a" transform="rotate(-90 163.00 905.30)">100</text>
<text x="163.00" y="892.20" font-size="3.6" text-anchor="middle" fill="#8a8a8a" transform="rotate(-90 163.00 892.20)">200</text>
<text x="163.00" y="879.10" font-size="3.6" text-anchor="middle" fill="#8a8a8a" transform="rotate(-90 163.00 879.10)">300</text>
<text x="163.00" y="866.00" font-size="3.6" text-anchor="middle" fill="#8a8a8a" transform="rotate(-90 163.00 866.00)">400</text>
<text x="163.00" y="852.90" font-size="3.6" text-anchor="middle" fill="#8a8a8a" transform="rotate(-90 163.00 852.90)">500</text>
<text x="163.00" y="839.80" font-size="3.6" text-anchor="middle" fill="#8a8a8a" transform="rotate(-90 163.00 839.80)">600</text>
<text x="159.20" y="873.00" font-size="3.6" text-anchor="middle" fill="#7a7a7a" transform="rotate(-90 159.20 873.00)">Number</text>
<clipPath id="h2"><path d="M226.80 918.40L226.80 913.00L274.60 913.00L282.30 918.40Z"/></clipPath>
<path d="M226.80 918.40L226.80 913.00L274.60 913.00L282.30 918.40Z" fill="#f4f4f4" stroke="#777" stroke-width="0.6"/>
<path d="M221.40 912.50l5.12 6.40M229.10 912.50l5.12 6.40M236.80 912.50l5.12 6.40M244.50 912.50l5.12 6.40M252.20 912.50l5.12 6.40M259.90 912.50l5.12 6.40M267.60 912.50l5.12 6.40M275.30 912.50l5.12 6.40M283.00 912.50l5.12 6.40" stroke="#333" stroke-width="0.95" fill="none" clip-path="url(#h2)"/>
<path d="M226.80 910.00L229.00 911.50L233.00 913.50L237.00 912.00L241.00 914.50L245.00 912.80L249.00 914.60L253.00 913.50L256.00 911.00L259.00 909.00L263.00 907.80L265.00 909.50L267.00 908.20L270.00 917.80" stroke="#7c7c7c" stroke-width="0.7" fill="none" stroke-linejoin="round"/>
<path d="M216.60 918.40Q217.80 917.40 218.10 914.40L219.50 890.00L222.80 827.50L225.40 890.00L226.50 914.40Q226.80 917.40 228.00 918.40Z" fill="#555" stroke="#707070" stroke-width="0.4"/>
<path d="M305.00 827.60V918.40H423.30" stroke="#6a6a6a" stroke-width="0.8" fill="none"/>
<path d="M302.40 918.40h3.6M303.90 915.78h2.2M303.90 913.16h2.2M303.90 910.54h2.2M303.90 907.92h2.2M302.40 905.30h3.6M303.90 902.68h2.2M303.90 900.06h2.2M303.90 897.44h2.2M303.90 894.82h2.2M302.40 892.20h3.6M303.90 889.58h2.2M303.90 886.96h2.2M303.90 884.34h2.2M303.90 881.72h2.2M302.40 879.10h3.6M303.90 876.48h2.2M303.90 873.86h2.2M303.90 871.24h2.2M303.90 868.62h2.2M302.40 866.00h3.6M303.90 863.38h2.2M303.90 860.76h2.2M303.90 858.14h2.2M303.90 855.52h2.2M302.40 852.90h3.6M303.90 850.28h2.2M303.90 847.66h2.2M303.90 845.04h2.2M303.90 842.42h2.2M302.40 839.80h3.6M303.90 837.18h2.2M303.90 834.56h2.2M303.90 831.94h2.2M303.90 829.32h2.2M305.00 917.40v3.2M329.80 917.40v3.2M354.90 917.40v3.2M379.40 917.40v3.2M403.90 917.40v3.2M305.00 917.30v2.2M308.10 917.30v2.2M311.20 917.30v2.2M314.30 917.30v2.2M317.40 917.30v2.2M320.50 917.30v2.2M323.60 917.30v2.2M326.70 917.30v2.2M329.80 917.30v2.2M332.90 917.30v2.2M336.00 917.30v2.2M339.10 917.30v2.2M342.20 917.30v2.2M345.30 917.30v2.2M348.40 917.30v2.2M351.50 917.30v2.2M354.60 917.30v2.2M357.70 917.30v2.2M360.80 917.30v2.2M363.90 917.30v2.2M367.00 917.30v2.2M370.10 917.30v2.2M373.20 917.30v2.2M376.30 917.30v2.2M379.40 917.30v2.2M382.50 917.30v2.2M385.60 917.30v2.2M388.70 917.30v2.2M391.80 917.30v2.2M394.90 917.30v2.2M398.00 917.30v2.2M401.10 917.30v2.2M404.20 917.30v2.2M407.30 917.30v2.2M410.40 917.30v2.2M413.50 917.30v2.2M416.60 917.30v2.2M419.70 917.30v2.2M422.80 917.30v2.2" stroke="#6a6a6a" stroke-width="0.55" fill="none"/>
<text x="305.00" y="924.60" font-size="3.8" text-anchor="middle" fill="#8a8a8a">0</text>
<text x="329.80" y="924.60" font-size="3.8" text-anchor="middle" fill="#8a8a8a">50</text>
<text x="354.90" y="924.60" font-size="3.8" text-anchor="middle" fill="#8a8a8a">100</text>
<text x="379.40" y="924.60" font-size="3.8" text-anchor="middle" fill="#8a8a8a">150</text>
<text x="403.90" y="924.60" font-size="3.8" text-anchor="middle" fill="#8a8a8a">200</text>
<text x="364.15" y="927.60" font-size="3.6" text-anchor="middle" fill="#8a8a8a">Channels (Hoechst-A)</text>
<text x="302.00" y="905.30" font-size="3.6" text-anchor="middle" fill="#8a8a8a" transform="rotate(-90 302.00 905.30)">100</text>
<text x="302.00" y="892.20" font-size="3.6" text-anchor="middle" fill="#8a8a8a" transform="rotate(-90 302.00 892.20)">200</text>
<text x="302.00" y="879.10" font-size="3.6" text-anchor="middle" fill="#8a8a8a" transform="rotate(-90 302.00 879.10)">300</text>
<text x="302.00" y="866.00" font-size="3.6" text-anchor="middle" fill="#8a8a8a" transform="rotate(-90 302.00 866.00)">400</text>
<text x="302.00" y="852.90" font-size="3.6" text-anchor="middle" fill="#8a8a8a" transform="rotate(-90 302.00 852.90)">500</text>
<text x="302.00" y="839.80" font-size="3.6" text-anchor="middle" fill="#8a8a8a" transform="rotate(-90 302.00 839.80)">600</text>
<text x="298.20" y="873.00" font-size="3.6" text-anchor="middle" fill="#7a7a7a" transform="rotate(-90 298.20 873.00)">Number</text>
<clipPath id="h3"><path d="M356.00 918.40L356.00 911.70L396.30 911.70L399.00 918.40Z"/></clipPath>
<path d="M356.00 918.40L356.00 911.70L396.30 911.70L399.00 918.40Z" fill="#f4f4f4" stroke="#777" stroke-width="0.6"/>
<path d="M349.30 911.20l6.16 7.70M357.90 911.20l6.16 7.70M366.50 911.20l6.16 7.70M375.10 911.20l6.16 7.70M383.70 911.20l6.16 7.70M392.30 911.20l6.16 7.70M400.90 911.20l6.16 7.70" stroke="#333" stroke-width="0.95" fill="none" clip-path="url(#h3)"/>
<path d="M356.00 910.80L359.00 910.20L363.00 911.30L368.00 910.80L373.00 911.50L378.00 911.00L382.00 910.50L385.80 908.80L389.00 910.50L393.00 911.80L398.00 918.00" stroke="#7c7c7c" stroke-width="0.7" fill="none" stroke-linejoin="round"/>
<path d="M345.10 918.40Q346.30 917.40 346.60 914.40L348.70 880.00L351.10 839.60L354.00 880.00L355.70 914.40Q356.00 917.40 357.20 918.40Z" fill="#555" stroke="#707070" stroke-width="0.4"/>
<path d="M27.40 938.70V1029.90H145.00" stroke="#6a6a6a" stroke-width="0.8" fill="none"/>
<path d="M24.80 1029.90h3.6M26.30 1027.28h2.2M26.30 1024.66h2.2M26.30 1022.04h2.2M26.30 1019.42h2.2M24.80 1016.80h3.6M26.30 1014.18h2.2M26.30 1011.56h2.2M26.30 1008.94h2.2M26.30 1006.32h2.2M24.80 1003.70h3.6M26.30 1001.08h2.2M26.30 998.46h2.2M26.30 995.84h2.2M26.30 993.22h2.2M24.80 990.60h3.6M26.30 987.98h2.2M26.30 985.36h2.2M26.30 982.74h2.2M26.30 980.12h2.2M24.80 977.50h3.6M26.30 974.88h2.2M26.30 972.26h2.2M26.30 969.64h2.2M26.30 967.02h2.2M24.80 964.40h3.6M26.30 961.78h2.2M26.30 959.16h2.2M26.30 956.54h2.2M26.30 953.92h2.2M24.80 951.30h3.6M26.30 948.68h2.2M26.30 946.06h2.2M26.30 943.44h2.2M26.30 940.82h2.2M27.40 1028.90v3.2M51.30 1028.90v3.2M75.00 1028.90v3.2M98.50 1028.90v3.2M121.40 1028.90v3.2M145.10 1028.90v3.2M27.40 1028.80v2.2M30.39 1028.80v2.2M33.38 1028.80v2.2M36.36 1028.80v2.2M39.35 1028.80v2.2M42.34 1028.80v2.2M45.32 1028.80v2.2M48.31 1028.80v2.2M51.30 1028.80v2.2M54.29 1028.80v2.2M57.27 1028.80v2.2M60.26 1028.80v2.2M63.25 1028.80v2.2M66.24 1028.80v2.2M69.22 1028.80v2.2M72.21 1028.80v2.2M75.20 1028.80v2.2M78.19 1028.80v2.2M81.17 1028.80v2.2M84.16 1028.80v2.2M87.15 1028.80v2.2M90.14 1028.80v2.2M93.12 1028.80v2.2M96.11 1028.80v2.2M99.10 1028.80v2.2M102.09 1028.80v2.2M105.07 1028.80v2.2M108.06 1028.80v2.2M111.05 1028.80v2.2M114.04 1028.80v2.2M117.02 1028.80v2.2M120.01 1028.80v2.2M123.00 1028.80v2.2M125.99 1028.80v2.2M128.97 1028.80v2.2M131.96 1028.80v2.2M134.95 1028.80v2.2M137.94 1028.80v2.2M140.92 1028.80v2.2M143.91 1028.80v2.2" stroke="#6a6a6a" stroke-width="0.55" fill="none"/>
<text x="27.40" y="1036.10" font-size="3.8" text-anchor="middle" fill="#8a8a8a">0</text>
<text x="51.30" y="1036.10" font-size="3.8" text-anchor="middle" fill="#8a8a8a">40</text>
<text x="75.00" y="1036.10" font-size="3.8" text-anchor="middle" fill="#8a8a8a">80</text>
<text x="98.50" y="1036.10" font-size="3.8" text-anchor="middle" fill="#8a8a8a">120</text>
<text x="121.40" y="1036.10" font-size="3.8" text-anchor="middle" fill="#8a8a8a">160</text>
<text x="145.10" y="1036.10" font-size="3.8" text-anchor="middle" fill="#8a8a8a">200</text>
<text x="86.20" y="1039.10" font-size="3.6" text-anchor="middle" fill="#8a8a8a">Channels (Hoechst-A)</text>
<text x="24.40" y="1016.80" font-size="3.6" text-anchor="middle" fill="#8a8a8a" transform="rotate(-90 24.40 1016.80)">100</text>
<text x="24.40" y="1003.70" font-size="3.6" text-anchor="middle" fill="#8a8a8a" transform="rotate(-90 24.40 1003.70)">200</text>
<text x="24.40" y="990.60" font-size="3.6" text-anchor="middle" fill="#8a8a8a" transform="rotate(-90 24.40 990.60)">300</text>
<text x="24.40" y="977.50" font-size="3.6" text-anchor="middle" fill="#8a8a8a" transform="rotate(-90 24.40 977.50)">400</text>
<text x="24.40" y="964.40" font-size="3.6" text-anchor="middle" fill="#8a8a8a" transform="rotate(-90 24.40 964.40)">500</text>
<text x="24.40" y="951.30" font-size="3.6" text-anchor="middle" fill="#8a8a8a" transform="rotate(-90 24.40 951.30)">600</text>
<text x="20.60" y="984.30" font-size="3.6" text-anchor="middle" fill="#7a7a7a" transform="rotate(-90 20.60 984.30)">Number</text>
<clipPath id="h4"><path d="M81.30 1029.90L81.30 1027.80L122.20 1027.80L127.00 1029.90Z"/></clipPath>
<path d="M81.30 1029.90L81.30 1027.80L122.20 1027.80L127.00 1029.90Z" fill="#f4f4f4" stroke="#777" stroke-width="0.6"/>
<path d="M79.20 1027.30l2.48 3.10M86.20 1027.30l2.48 3.10M93.20 1027.30l2.48 3.10M100.20 1027.30l2.48 3.10M107.20 1027.30l2.48 3.10M114.20 1027.30l2.48 3.10M121.20 1027.30l2.48 3.10M128.20 1027.30l2.48 3.10" stroke="#333" stroke-width="0.95" fill="none" clip-path="url(#h4)"/>
<path d="M81.30 1023.70L84.00 1024.80L88.00 1025.50L93.00 1024.80L98.00 1025.60L103.00 1025.00L107.50 1025.20L111.00 1023.00L114.90 1020.90L117.50 1023.50L120.60 1029.50" stroke="#7c7c7c" stroke-width="0.7" fill="none" stroke-linejoin="round"/>
<path d="M71.20 1029.90Q72.40 1028.90 72.70 1025.90L75.00 975.00L77.50 941.90L79.10 975.00L81.00 1025.90Q81.30 1028.90 82.50 1029.90Z" fill="#555" stroke="#707070" stroke-width="0.4"/>
<path d="M166.00 938.70V1029.80H284.20" stroke="#6a6a6a" stroke-width="0.8" fill="none"/>
<path d="M163.40 1029.80h3.6M164.90 1027.18h2.2M164.90 1024.56h2.2M164.90 1021.94h2.2M164.90 1019.32h2.2M163.40 1016.70h3.6M164.90 1014.08h2.2M164.90 1011.46h2.2M164.90 1008.84h2.2M164.90 1006.22h2.2M163.40 1003.60h3.6M164.90 1000.98h2.2M164.90 998.36h2.2M164.90 995.74h2.2M164.90 993.12h2.2M163.40 990.50h3.6M164.90 987.88h2.2M164.90 985.26h2.2M164.90 982.64h2.2M164.90 980.02h2.2M163.40 977.40h3.6M164.90 974.78h2.2M164.90 972.16h2.2M164.90 969.54h2.2M164.90 966.92h2.2M163.40 964.30h3.6M164.90 961.68h2.2M164.90 959.06h2.2M164.90 956.44h2.2M164.90 953.82h2.2M163.40 951.20h3.6M164.90 948.58h2.2M164.90 945.96h2.2M164.90 943.34h2.2M164.90 940.72h2.2M166.00 1028.80v3.2M189.60 1028.80v3.2M214.40 1028.80v3.2M239.50 1028.80v3.2M264.00 1028.80v3.2M166.00 1028.70v2.2M168.95 1028.70v2.2M171.90 1028.70v2.2M174.85 1028.70v2.2M177.80 1028.70v2.2M180.75 1028.70v2.2M183.70 1028.70v2.2M186.65 1028.70v2.2M189.60 1028.70v2.2M192.55 1028.70v2.2M195.50 1028.70v2.2M198.45 1028.70v2.2M201.40 1028.70v2.2M204.35 1028.70v2.2M207.30 1028.70v2.2M210.25 1028.70v2.2M213.20 1028.70v2.2M216.15 1028.70v2.2M219.10 1028.70v2.2M222.05 1028.70v2.2M225.00 1028.70v2.2M227.95 1028.70v2.2M230.90 1028.70v2.2M233.85 1028.70v2.2M236.80 1028.70v2.2M239.75 1028.70v2.2M242.70 1028.70v2.2M245.65 1028.70v2.2M248.60 1028.70v2.2M251.55 1028.70v2.2M254.50 1028.70v2.2M257.45 1028.70v2.2M260.40 1028.70v2.2M263.35 1028.70v2.2M266.30 1028.70v2.2M269.25 1028.70v2.2M272.20 1028.70v2.2M275.15 1028.70v2.2M278.10 1028.70v2.2M281.05 1028.70v2.2M284.00 1028.70v2.2" stroke="#6a6a6a" stroke-width="0.55" fill="none"/>
<text x="166.00" y="1036.00" font-size="3.8" text-anchor="middle" fill="#8a8a8a">0</text>
<text x="189.60" y="1036.00" font-size="3.8" text-anchor="middle" fill="#8a8a8a">50</text>
<text x="214.40" y="1036.00" font-size="3.8" text-anchor="middle" fill="#8a8a8a">100</text>
<text x="239.50" y="1036.00" font-size="3.8" text-anchor="middle" fill="#8a8a8a">150</text>
<text x="264.00" y="1036.00" font-size="3.8" text-anchor="middle" fill="#8a8a8a">200</text>
<text x="225.10" y="1039.00" font-size="3.6" text-anchor="middle" fill="#8a8a8a">Channels (Hoechst-A)</text>
<text x="163.00" y="1016.70" font-size="3.6" text-anchor="middle" fill="#8a8a8a" transform="rotate(-90 163.00 1016.70)">100</text>
<text x="163.00" y="1003.60" font-size="3.6" text-anchor="middle" fill="#8a8a8a" transform="rotate(-90 163.00 1003.60)">200</text>
<text x="163.00" y="990.50" font-size="3.6" text-anchor="middle" fill="#8a8a8a" transform="rotate(-90 163.00 990.50)">300</text>
<text x="163.00" y="977.40" font-size="3.6" text-anchor="middle" fill="#8a8a8a" transform="rotate(-90 163.00 977.40)">400</text>
<text x="163.00" y="964.30" font-size="3.6" text-anchor="middle" fill="#8a8a8a" transform="rotate(-90 163.00 964.30)">500</text>
<text x="163.00" y="951.20" font-size="3.6" text-anchor="middle" fill="#8a8a8a" transform="rotate(-90 163.00 951.20)">600</text>
<text x="159.20" y="984.25" font-size="3.6" text-anchor="middle" fill="#7a7a7a" transform="rotate(-90 159.20 984.25)">Number</text>
<clipPath id="h5"><path d="M217.30 1029.80L217.30 1025.60L258.80 1025.60L262.30 1029.80Z"/></clipPath>
<path d="M217.30 1029.80L217.30 1025.60L258.80 1025.60L262.30 1029.80Z" fill="#f4f4f4" stroke="#777" stroke-width="0.6"/>
<path d="M213.10 1025.10l4.16 5.20M221.10 1025.10l4.16 5.20M229.10 1025.10l4.16 5.20M237.10 1025.10l4.16 5.20M245.10 1025.10l4.16 5.20M253.10 1025.10l4.16 5.20M261.10 1025.10l4.16 5.20" stroke="#333" stroke-width="0.95" fill="none" clip-path="url(#h5)"/>
<path d="M217.30 1019.90L220.00 1023.50L224.00 1024.50L229.00 1023.60L234.00 1024.80L238.00 1024.00L241.50 1024.50L245.00 1022.00L249.30 1020.40L252.00 1021.50L255.00 1026.00L258.80 1029.50" stroke="#7c7c7c" stroke-width="0.7" fill="none" stroke-linejoin="round"/>
<path d="M207.50 1029.80Q208.70 1028.80 209.00 1025.80L211.20 975.00L212.80 944.10L214.80 975.00L217.00 1025.80Q217.30 1028.80 218.50 1029.80Z" fill="#555" stroke="#707070" stroke-width="0.4"/>
<path d="M305.00 938.70V1029.80H423.30" stroke="#6a6a6a" stroke-width="0.8" fill="none"/>
<path d="M302.40 1029.80h3.6M303.90 1027.18h2.2M303.90 1024.56h2.2M303.90 1021.94h2.2M303.90 1019.32h2.2M302.40 1016.70h3.6M303.90 1014.08h2.2M303.90 1011.46h2.2M303.90 1008.84h2.2M303.90 1006.22h2.2M302.40 1003.60h3.6M303.90 1000.98h2.2M303.90 998.36h2.2M303.90 995.74h2.2M303.90 993.12h2.2M302.40 990.50h3.6M303.90 987.88h2.2M303.90 985.26h2.2M303.90 982.64h2.2M303.90 980.02h2.2M302.40 977.40h3.6M303.90 974.78h2.2M303.90 972.16h2.2M303.90 969.54h2.2M303.90 966.92h2.2M302.40 964.30h3.6M303.90 961.68h2.2M303.90 959.06h2.2M303.90 956.44h2.2M303.90 953.82h2.2M302.40 951.20h3.6M303.90 948.58h2.2M303.90 945.96h2.2M303.90 943.34h2.2M303.90 940.72h2.2M305.00 1028.80v3.2M329.80 1028.80v3.2M354.90 1028.80v3.2M379.10 1028.80v3.2M403.40 1028.80v3.2M305.00 1028.70v2.2M308.10 1028.70v2.2M311.20 1028.70v2.2M314.30 1028.70v2.2M317.40 1028.70v2.2M320.50 1028.70v2.2M323.60 1028.70v2.2M326.70 1028.70v2.2M329.80 1028.70v2.2M332.90 1028.70v2.2M336.00 1028.70v2.2M339.10 1028.70v2.2M342.20 1028.70v2.2M345.30 1028.70v2.2M348.40 1028.70v2.2M351.50 1028.70v2.2M354.60 1028.70v2.2M357.70 1028.70v2.2M360.80 1028.70v2.2M363.90 1028.70v2.2M367.00 1028.70v2.2M370.10 1028.70v2.2M373.20 1028.70v2.2M376.30 1028.70v2.2M379.40 1028.70v2.2M382.50 1028.70v2.2M385.60 1028.70v2.2M388.70 1028.70v2.2M391.80 1028.70v2.2M394.90 1028.70v2.2M398.00 1028.70v2.2M401.10 1028.70v2.2M404.20 1028.70v2.2M407.30 1028.70v2.2M410.40 1028.70v2.2M413.50 1028.70v2.2M416.60 1028.70v2.2M419.70 1028.70v2.2M422.80 1028.70v2.2" stroke="#6a6a6a" stroke-width="0.55" fill="none"/>
<text x="305.00" y="1036.00" font-size="3.8" text-anchor="middle" fill="#8a8a8a">0</text>
<text x="329.80" y="1036.00" font-size="3.8" text-anchor="middle" fill="#8a8a8a">50</text>
<text x="354.90" y="1036.00" font-size="3.8" text-anchor="middle" fill="#8a8a8a">100</text>
<text x="379.10" y="1036.00" font-size="3.8" text-anchor="middle" fill="#8a8a8a">150</text>
<text x="403.40" y="1036.00" font-size="3.8" text-anchor="middle" fill="#8a8a8a">200</text>
<text x="364.15" y="1039.00" font-size="3.6" text-anchor="middle" fill="#8a8a8a">Channels (Hoechst-A)</text>
<text x="302.00" y="1016.70" font-size="3.6" text-anchor="middle" fill="#8a8a8a" transform="rotate(-90 302.00 1016.70)">100</text>
<text x="302.00" y="1003.60" font-size="3.6" text-anchor="middle" fill="#8a8a8a" transform="rotate(-90 302.00 1003.60)">200</text>
<text x="302.00" y="990.50" font-size="3.6" text-anchor="middle" fill="#8a8a8a" transform="rotate(-90 302.00 990.50)">300</text>
<text x="302.00" y="977.40" font-size="3.6" text-anchor="middle" fill="#8a8a8a" transform="rotate(-90 302.00 977.40)">400</text>
<text x="302.00" y="964.30" font-size="3.6" text-anchor="middle" fill="#8a8a8a" transform="rotate(-90 302.00 964.30)">500</text>
<text x="302.00" y="951.20" font-size="3.6" text-anchor="middle" fill="#8a8a8a" transform="rotate(-90 302.00 951.20)">600</text>
<text x="298.20" y="984.25" font-size="3.6" text-anchor="middle" fill="#7a7a7a" transform="rotate(-90 298.20 984.25)">Number</text>
<clipPath id="h6"><path d="M356.10 1029.80L356.10 1024.60L392.00 1024.60L399.00 1029.80Z"/></clipPath>
<path d="M356.10 1029.80L356.10 1024.60L392.00 1024.60L399.00 1029.80Z" fill="#f4f4f4" stroke="#777" stroke-width="0.6"/>
<path d="M350.90 1024.10l4.96 6.20M359.50 1024.10l4.96 6.20M368.10 1024.10l4.96 6.20M376.70 1024.10l4.96 6.20M385.30 1024.10l4.96 6.20M393.90 1024.10l4.96 6.20M402.50 1024.10l4.96 6.20" stroke="#333" stroke-width="0.95" fill="none" clip-path="url(#h6)"/>
<path d="M356.10 1020.30L358.50 1019.80L361.00 1022.50L366.00 1023.80L371.00 1023.20L376.00 1024.00L381.70 1023.60L385.20 1021.20L388.00 1023.00L392.00 1023.80L399.00 1029.50" stroke="#7c7c7c" stroke-width="0.7" fill="none" stroke-linejoin="round"/>
<path d="M345.00 1029.80Q346.20 1028.80 346.50 1025.80L348.80 990.00L351.10 948.70L353.70 990.00L355.80 1025.80Q356.10 1028.80 357.30 1029.80Z" fill="#555" stroke="#707070" stroke-width="0.4"/>
<text x="95.30" y="837.00" font-size="12.5" font-weight="bold" text-anchor="start" fill="#141414" stroke="#141414" stroke-width="0.22">G1: 76%</text>
<text x="233.70" y="837.00" font-size="12.5" font-weight="bold" text-anchor="start" fill="#141414" stroke="#141414" stroke-width="0.22">G1: 67%</text>
<text x="95.40" y="953.20" font-size="12.5" font-weight="bold" text-anchor="start" fill="#141414" stroke="#141414" stroke-width="0.22">G1: 77%</text>
<text x="233.70" y="953.20" font-size="12.5" font-weight="bold" text-anchor="start" fill="#141414" stroke="#141414" stroke-width="0.22">G1: 65%</text>
<text x="394.90" y="837.00" font-size="12.5" font-weight="bold" text-anchor="end" fill="#141414" stroke="#141414" stroke-width="0.22">G1:</text>
<text x="401.65" y="837.00" font-size="12.5" font-weight="bold" text-anchor="start" fill="#141414" stroke="#141414" stroke-width="0.22">61%</text>
<text x="428.87" y="837.00" font-size="12.5" font-weight="bold" text-anchor="start" fill="#141414" stroke="#141414" stroke-width="0.22">±</text>
<text x="437.93" y="837.00" font-size="12.5" font-weight="bold" text-anchor="start" fill="#141414" stroke="#141414" stroke-width="0.22">2%</text>
<text x="394.90" y="851.60" font-size="12.5" font-weight="bold" text-anchor="end" fill="#141414" stroke="#141414" stroke-width="0.22">S:</text>
<text x="401.65" y="851.60" font-size="12.5" font-weight="bold" text-anchor="start" fill="#141414" stroke="#141414" stroke-width="0.22">30%</text>
<text x="428.87" y="851.60" font-size="12.5" font-weight="bold" text-anchor="start" fill="#141414" stroke="#141414" stroke-width="0.22">±</text>
<text x="437.93" y="851.60" font-size="12.5" font-weight="bold" text-anchor="start" fill="#141414" stroke="#141414" stroke-width="0.22">4%</text>
<text x="394.90" y="865.50" font-size="12.5" font-weight="bold" text-anchor="end" fill="#141414" stroke="#141414" stroke-width="0.22">G2/M:</text>
<text x="408.61" y="865.50" font-size="12.5" font-weight="bold" text-anchor="start" fill="#141414" stroke="#141414" stroke-width="0.22">8%</text>
<text x="428.87" y="865.50" font-size="12.5" font-weight="bold" text-anchor="start" fill="#141414" stroke="#141414" stroke-width="0.22">±</text>
<text x="437.93" y="865.50" font-size="12.5" font-weight="bold" text-anchor="start" fill="#141414" stroke="#141414" stroke-width="0.22">2%</text>
<text x="394.90" y="952.80" font-size="12.5" font-weight="bold" text-anchor="end" fill="#141414" stroke="#141414" stroke-width="0.22">G1:</text>
<text x="401.65" y="952.80" font-size="12.5" font-weight="bold" text-anchor="start" fill="#141414" stroke="#141414" stroke-width="0.22">60%</text>
<text x="428.87" y="952.80" font-size="12.5" font-weight="bold" text-anchor="start" fill="#141414" stroke="#141414" stroke-width="0.22">±</text>
<text x="437.93" y="952.80" font-size="12.5" font-weight="bold" text-anchor="start" fill="#141414" stroke="#141414" stroke-width="0.22">8%</text>
<text x="394.90" y="968.20" font-size="12.5" font-weight="bold" text-anchor="end" fill="#141414" stroke="#141414" stroke-width="0.22">S:</text>
<text x="401.65" y="968.20" font-size="12.5" font-weight="bold" text-anchor="start" fill="#141414" stroke="#141414" stroke-width="0.22">30%</text>
<text x="428.87" y="968.20" font-size="12.5" font-weight="bold" text-anchor="start" fill="#141414" stroke="#141414" stroke-width="0.22">±</text>
<text x="437.93" y="968.20" font-size="12.5" font-weight="bold" text-anchor="start" fill="#141414" stroke="#141414" stroke-width="0.22">3%</text>
<text x="394.90" y="981.60" font-size="12.5" font-weight="bold" text-anchor="end" fill="#141414" stroke="#141414" stroke-width="0.22">G2/M:</text>
<text x="401.65" y="981.60" font-size="12.5" font-weight="bold" text-anchor="start" fill="#141414" stroke="#141414" stroke-width="0.22">10%</text>
<text x="428.87" y="981.60" font-size="12.5" font-weight="bold" text-anchor="start" fill="#141414" stroke="#141414" stroke-width="0.22">±</text>
<text x="437.93" y="981.60" font-size="12.5" font-weight="bold" text-anchor="start" fill="#141414" stroke="#141414" stroke-width="0.22">4%</text>
<text x="478.20" y="853.70" font-size="12" font-weight="bold" text-anchor="start" fill="#141414" stroke="#141414" stroke-width="0.22">Renilla</text>
<text x="478.20" y="867.60" font-size="12" font-weight="bold" text-anchor="start" fill="#141414" stroke="#141414" stroke-width="0.22">RNAi</text>
<text x="478.00" y="986.40" font-size="12" font-weight="bold" text-anchor="start" fill="#141414" stroke="#141414" stroke-width="0.22">STAT5</text>
<text x="478.20" y="999.90" font-size="12" font-weight="bold" text-anchor="start" fill="#141414" stroke="#141414" stroke-width="0.22">RNAi</text>
<text x="11.40" y="866.00" font-size="12.3" font-weight="bold" text-anchor="middle" fill="#141414" transform="rotate(-90 11.40 866.00)" stroke="#141414" stroke-width="0.22">Number</text>
<text x="11.40" y="979.60" font-size="12.6" font-weight="bold" text-anchor="middle" fill="#141414" transform="rotate(-90 11.40 979.60)" stroke="#141414" stroke-width="0.22">Number</text>
<line x1="27.20" y1="1045.80" x2="415.00" y2="1045.80" stroke="#a8a8a8" stroke-width="1.3"/>
<path d="M424.3 1045.8 L413.8 1041.5 L413.8 1050.1 Z" fill="#111"/>
<text x="226.20" y="1062.10" font-size="12" font-weight="bold" text-anchor="middle" fill="#141414" stroke="#141414" stroke-width="0.22">Hoechst</text>
</svg></body></html>
